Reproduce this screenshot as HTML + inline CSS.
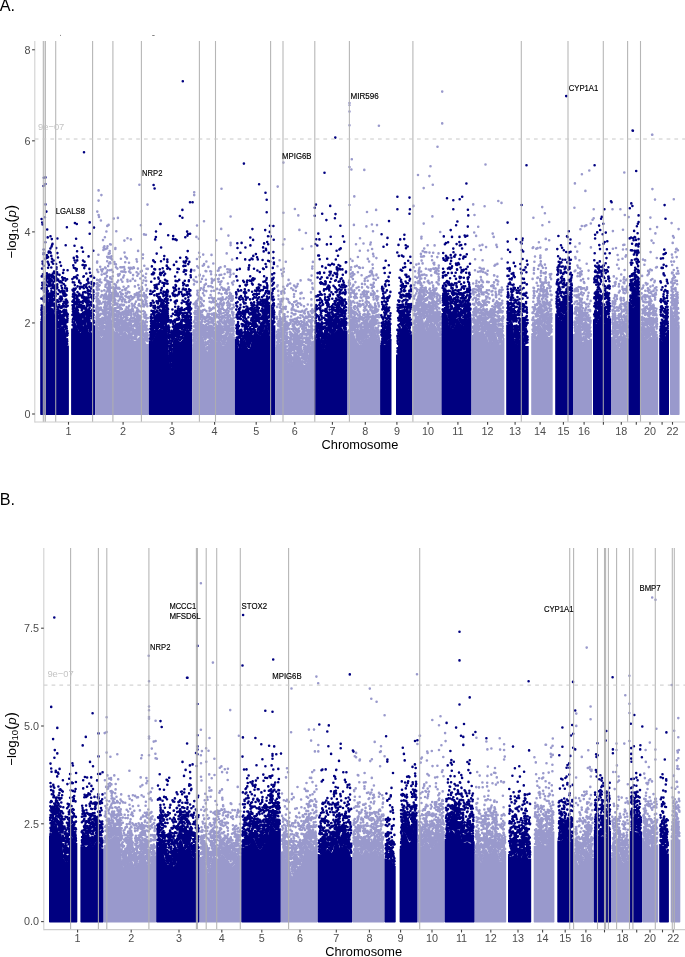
<!DOCTYPE html>
<html><head><meta charset="utf-8"><title>Manhattan plots</title><style>html,body{margin:0;padding:0;background:#fff;width:685px;height:957px;overflow:hidden}svg{display:block;font-family:"Liberation Sans",sans-serif;will-change:transform}</style></head><body>
<svg width="685" height="957" viewBox="0 0 685 957" font-family="Liberation Sans, sans-serif">
<rect width="685" height="957" fill="#fff"/>
<g stroke-width="2.6" stroke-linecap="round"><polygon points="40.8,415.0 40.2,414.4 40.2,320.9 41.5,320.9 42.5,318.3 43.5,316.7 44.5,315.7 45.5,314.4 46.5,313.1 47.5,312.3 48.5,311.3 49.5,309.9 50.5,308.2 51.5,307.4 52.5,308.0 53.5,309.5 54.5,310.8 55.5,319.4 56.5,327.8 57.5,328.4 58.5,328.9 59.5,328.3 60.5,327.1 61.5,325.9 62.5,326.0 63.5,327.2 64.5,328.8 65.5,330.0 66.5,337.7 67.5,345.4 68.9,345.4 68.9,414.4 68.3,415.0" fill="#000080"/><polygon points="71.7,415.0 71.1,414.4 71.1,328.5 72.4,328.5 73.4,323.7 74.4,319.2 75.4,322.3 76.4,325.1 77.4,327.5 78.4,329.9 79.4,331.8 80.4,332.7 81.4,331.8 82.4,329.2 83.4,326.0 84.4,323.4 85.4,322.5 86.4,323.8 87.4,326.9 88.4,330.8 89.4,333.6 90.4,334.1 91.4,332.4 92.4,329.4 93.4,325.4 95.2,325.4 95.2,414.4 94.6,415.0" fill="#000080"/>
<path d="M41.4 298.6h0m0 11.3h0m.2 4.3h0m0-4.2h0m.1 9.8h0m0-11.8h0m0-19.5h0m0 20.5h0m0 3.3h0m0 2.6h0m.1-9.4h0m0-29.1h0m0 42.9h0m.2-12.1h0m0 10.7h0m.1-49.3h0m0 45.7h0m.1 1.9h0m0-9.2h0m.1-21.7h0m0-8.8h0m0 6.3h0m.1 32h0m.1 2.7h0m.1-8.2h0m0-47.8h0m0 45.3h0m0 5.2h0m.1-48.3h0m.1 53.3h0m.1-8h0m0-1.5h0m0-33.2h0m.1 24.8h0m.1 14.4h0m.1-25.9h0m.2 28.4h0m.1-1.4h0m0-7.2h0m.1-9h0m0 9.4h0m.1-53.6h0m0 42.5h0m0 15.4h0m0-11.3h0m.1-10.3h0m0-6h0m0-31.4h0m0-3.6h0m0 51.5h0m0-35.2h0m.2 35.2h0m.1 .2h0m0-4.8h0m.1 15.6h0m0-24.5h0m0 14.3h0m0-19.3h0m.1 9.3h0m.2 20.5h0m0-2h0m.1-10h0m0 13.8h0m0-.2h0m.1-1.6h0m0-.4h0m.1-4.9h0m.1 1.7h0m.1 5h0m.1-4.3h0m.1-20h0m0 20.5h0m.1-67.6h0m0 16.8h0m0 19.8h0m.1 16.4h0m0-12.5h0m.1 25.2h0m.2-1h0m0-.2h0m0 5.9h0m.1-32.7h0m0-22.2h0m0 18.8h0m0 15.4h0m.1 20.5h0m0-6h0m0-21.6h0m.1 4.2h0m0 5h0m0-17.9h0m0 32.6h0m.1-1h0m0-14.6h0m.1 12.9h0m0-26.9h0m.1 25.1h0m0-49h0m0 46.7h0m0-21.5h0m.1 18.3h0m0-22h0m0 35.4h0m.1-15.2h0m0 2h0m0 5.6h0m0-26.7h0m0 31.1h0m.1-10h0m.1 9.1h0m0-20.1h0m0 18.1h0m.1-8h0m0 4.8h0m0-1.8h0m0-22.3h0m.1-5.5h0m0 27.1h0m0-26.7h0m.1 16.1h0m0 19.5h0m.1-53.9h0m0 41.1h0m0 10.2h0m0 5h0m.1-2.4h0m0-79.8h0m0 48.9h0m.1 25.9h0m0-28.3h0m.1 27.2h0m0-.2h0m0-45.3h0m0 42.1h0m.1 8.2h0m.1-1.5h0m0 .3h0m0 4.1h0m0-16.3h0m0-1.6h0m.1-55.6h0m0 24.3h0m0 24.2h0m.1 5.1h0m.1-16.4h0m0 22.5h0m.1 9.4h0m0-24.6h0m.1 28.8h0m0-15.4h0m0 15.7h0m0-43.2h0m0-10.7h0m.1 20.2h0m0 17.1h0m.1 16h0m.1-46.8h0m.1 38.7h0m0 .6h0m.1-50.3h0m0 51.5h0m.1 4.8h0m0-25.7h0m0 .3h0m.1-31.9h0m0 55.8h0m.1 1.7h0m0-44h0m.1 44.8h0m0-28.6h0m0 28.7h0m0-1.8h0m.3-28.9h0m.1 26.2h0m0 3.9h0m.1-12.9h0m0 9.9h0m0-20.4h0m0-9.3h0m0-2.1h0m0 20.7h0m.1 2.2h0m0 2.9h0m.1-3.1h0m0 5.9h0m.1 3.6h0m.1-13.2h0m0 15h0m0-2.6h0m0-.3h0m0-12.1h0m.1 2.9h0m0-44.8h0m0 32.4h0m0 12.2h0m.1 1.9h0m.1 5.5h0m0-5h0m0-23.1h0m0 30.8h0m0-2.1h0m.1-20.7h0m0 21.6h0m.1-2h0m0-7.5h0m0-47.2h0m0 30h0m.1-42.3h0m0 44.1h0m.1 25.6h0m0-4.4h0m0-21.1h0m.1-27.6h0m0 47.2h0m.1 .3h0m0 3.9h0m.1-22.7h0m0 3.9h0m.1 10.2h0m0 4.3h0m0-.3h0m.1 .6h0m.2-3.4h0m0-8.2h0m0-32.7h0m0 11.6h0m0 34.1h0m0-4.5h0m.1-3.8h0m0-2.3h0m0 12.3h0m0 1.1h0m.1-12.8h0m0 1.7h0m.1 3.6h0m0-50.5h0m0 54.9h0m0 .6h0m0 .8h0m0-27.4h0m.2-13.6h0m0-22.6h0m.1 41.2h0m.1-21.6h0m0 26.7h0m.1 14.6h0m.1-7.1h0m0-15.5h0m0 16.8h0m0-8.4h0m0-41.1h0m.1 60.9h0m0-2.9h0m.2 .1h0m0-58.9h0m0 50.1h0m.1 7h0m.1-5.4h0m.1-22.1h0m0 2.4h0m0 8.4h0m.1 14.6h0m0-35.4h0m0 22.8h0m.1 8.1h0m0-6.9h0m.1-23.7h0m.1 29.8h0m.1-17.3h0m.1 5.9h0m.1 21.2h0m.1-42.9h0m.1 31.5h0m0-3.8h0m.2-11.1h0m0 27.2h0m.1-32.8h0m0 34h0m0-5.8h0m.1 4.6h0m0-8.7h0m.2-17.1h0m0 .3h0m.1 27.3h0m0-7h0m.1 10.1h0m0-16.8h0m.1-6.1h0m0 10.2h0m0 12.1h0m.1-27.9h0m0 28h0m0-35.6h0m0 35h0m0-3.6h0m.1-.1h0m0 4.7h0m0-17.5h0m.1 6.1h0m0 11.7h0m.2-5.9h0m.1 6.7h0m0-17.4h0m0-7.4h0m.1 4.2h0m0 15h0m0-32.8h0m0 28h0m0 9.6h0m0-1.7h0m.1 3.6h0m.1-4.7h0m.1-20.8h0m0 6.6h0m0 1.2h0m0 21.8h0m0-19.5h0m.1 21.1h0m0-28.9h0m.1-11.6h0m.1 36.6h0m0 6.5h0m0-45.9h0m0 50.6h0m.1-22.9h0m0-21h0m0 22.5h0m.1 1.7h0m0-3.7h0m0-36.9h0m.1-15.9h0m0 52.3h0m.1 24.9h0m0-1.6h0m.1 2.3h0m0-47.9h0m0-9h0m.1-1.7h0m0 51.7h0m.1-12.8h0m.1 11.8h0m0 3.9h0m.2-47.5h0m0 13.8h0m.1 31.5h0m0-1.5h0m0 3.5h0m.1-49.5h0m0 13h0m0 30.2h0m.1-27.3h0m0 23.4h0m0 5.5h0m0-3.2h0m.1-29.7h0m0 28h0m0 15.3h0m0-47.2h0m0 36h0m.1-63.2h0m0 34.1h0m0 38.5h0m0-7.5h0m0-79.7h0m0 35.5h0m.1 53.5h0m0-27.2h0m.2 9h0m0 12.5h0m.1-12.6h0m0 16.2h0m.1 .6h0m.1-68.5h0m0 55.5h0m0-3.5h0m0 13h0m0-28.5h0m.1 28.5h0m0-20.9h0m.1-22.1h0m0 28.2h0m.1-6h0m.1 22.6h0m.1 .7h0m.1-13.9h0m.2 15h0m0-13h0m0 9h0m0-31.9h0m0 34.5h0m.1-8.2h0m.1-9.4h0m.1-25.9h0m.1 23.6h0m0 22.3h0m.1 .7h0m.1-9.8h0m.1-43.1h0m0 49.1h0m.1-5.3h0m0-3.5h0m0-16.6h0m.1 28.1h0m0-2.8h0m.2-1.6h0m0-15.8h0m0 4.2h0m0 12.6h0m0 2.9h0m0-34.8h0m.1 25.1h0m0-54.3h0m.1 20h0m0 33.2h0m0 5.6h0m.1-8.2h0m0 8.1h0m0-28.8h0m.1 27.4h0m.1 5.6h0m0-28.5h0m0 4.6h0m0-19.9h0m.2 43.5h0m.1-17h0m.1 10.5h0m.1-3h0m.1 6h0m0-55.5h0m.1 53.9h0m.1-19.2h0m0-.8h0m.1 7.4h0m.1-15.7h0m0-5.7h0m0 26.3h0m.1 3.7h0m0 4.5h0m0-12.4h0m.1-11h0m.1 21.9h0m0-2.3h0m0-18.6h0m.1 8.6h0m0-23.9h0m.1 5.6h0m.1 19.4h0m0 9.8h0m0-10.4h0m0 11.4h0m.1-19.2h0m.1 23.6h0m0-45.3h0m.1 45.1h0m0-.4h0m0-1.6h0m.2-14.5h0m.1-15.4h0m0 33.6h0m.1-9.2h0m.1 .8h0m0-35.8h0m0 42.8h0m.1-31.5h0m0 2h0m.1 30.2h0m.1-3.2h0m0-42.3h0m0-5.1h0m0 38.4h0m.1 8.1h0m0 3.2h0m0-16.1h0m0-2.4h0m.2 12.4h0m.1-21.8h0m.1 28.4h0m0-7.3h0m0-5.6h0m0 4.3h0m0 .4h0m.1-13.2h0m0-17.7h0m0-14h0m0 54.3h0m0-29.2h0m0 29.3h0m.1-11h0m0 3.1h0m0-2.7h0m0 4.9h0m.1 8.2h0m.1-7h0m0 6.8h0m0-5.4h0m0-25.5h0m.2 14.2h0m0 14h0m.1-21.6h0m0 7.4h0m.1-17.1h0m0 18.1h0m0 11.5h0m0-27.7h0m.1-3.3h0m0 23.5h0m0 8.9h0m0-17.4h0m.1 .2h0m.2 17.5h0m0-45.8h0m.1 17.7h0m0-7.6h0m.1 27h0m0-5.1h0m.1-16.7h0m.1 27.4h0m0-8.2h0m0 11h0m0-38h0m.1 41.5h0m0-2.5h0m0 .1h0m.1-29.1h0m0 25.9h0m.1 4.6h0m0-2.8h0m.1 5.4h0m0-48.2h0m0 39.2h0m.1-74.6h0m0 75.8h0m0-21.3h0m.1 4.5h0m.1 16.4h0m0-5.7h0m.2-4.5h0m0 4.2h0m0 5.9h0m0-19.2h0m0 13.9h0m.1-3.9h0m0-11.8h0m.1-11h0m0 18.6h0m.1 27h0m0-39h0m.1 25.1h0m.1-17h0m0 23.4h0m.1 6.6h0m.1-17.4h0m0 12.7h0m0-39.2h0m0 27.1h0m.1-89.1h0m0 104.9h0m0-43.7h0m.1 47.2h0m0 6.2h0m0-51.2h0m0 23.6h0m0-13.3h0m0 12.2h0m.1 3.9h0m0 22.1h0m0-60h0m.1 51.9h0m0 12.8h0m0-10.8h0m.1 8.2h0m0-19.4h0m.1-1.7h0m0-3.6h0m.1-14.2h0m0 32.6h0m.1-16.3h0m0-48.5h0m.1 35.6h0m0 27.4h0m.1-18.8h0m4.6-35.3h0m0 35.8h0m0-13.3h0m.1 3.6h0m.1-15.5h0m0 35.3h0m.1-.1h0m0-34.7h0m0 31.7h0m.1-12.8h0m0 16.2h0m0-3.1h0m0-2.5h0m0-23.1h0m0-14.3h0m.1 29.2h0m.1-4.1h0m0-13.2h0m.1 24.5h0m.1-3.9h0m0-6.5h0m0 10.8h0m.1-5.2h0m0 .9h0m0-8.2h0m0-41.2h0m.1 42.8h0m0-7.9h0m0 12.6h0m0-2h0m0 11.7h0m.1-31.1h0m.1 26.8h0m0-26.7h0m.1-2.7h0m0 21.7h0m0 8.6h0m0-13.3h0m.1-5.9h0m0 17.8h0m0 1.3h0m0-61.2h0m.1 9.9h0m0 50.5h0m.1-40.9h0m0 29.2h0m0-4h0m0-5.7h0m.2 19.5h0m0-33.9h0m.1 31.2h0m0-15.8h0m.1 15.2h0m0-19.7h0m0 10.7h0m0 4.1h0m0 9.6h0m0-5.9h0m.1-66.1h0m0 52.4h0m.1-37.9h0m0 41.4h0m.1 16.1h0m.1-28.1h0m0-4.6h0m.1 31.5h0m.2-1.3h0m0-13.2h0m.1 2.1h0m0 10h0m0-19h0m0 8.4h0m0 7.9h0m.1-43.1h0m0 51.5h0m0-16.7h0m0 8.6h0m.1-49.3h0m.1 41.3h0m.1 16.6h0m0-6.6h0m0 5.8h0m0-24.9h0m.1-17.8h0m0 11.6h0m.1 25.4h0m.1-2.7h0m.1-15.8h0m0 20h0m.1 2.7h0m0-3h0m0-5.9h0m0-70.4h0m.1 77.6h0m.2-45.7h0m.1 30.9h0m0 9.4h0m0 9.8h0m.1-1.3h0m0-21.3h0m.1 14.8h0m0-5.2h0m0 6.4h0m.1-45.1h0m0 30.4h0m0-43.2h0m.1 50.2h0m.1-3h0m0-25.1h0m.1 32.2h0m0 3.4h0m0-16.4h0m0 6.4h0m0 18.8h0m0-11.5h0m0-60.1h0m0 60.8h0m.1-51.6h0m0 48.6h0m0-5.9h0m.1 13.4h0m0-15.4h0m0-43.8h0m.1 39.3h0m0 28.8h0m0-18.3h0m0 .5h0m0-9.6h0m0 28.1h0m.1-6.9h0m0-43.9h0m0 16.8h0m0 30.4h0m.1-36.1h0m0 24.6h0m.1 0h0m.1 13.5h0m0 .2h0m0-5.3h0m0-12.2h0m.1 15.7h0m.1 2h0m0 2.6h0m0-17.2h0m.1 16.7h0m.1-5.7h0m0-19.8h0m0 11.6h0m0-11.6h0m0 16.4h0m.1 10.1h0m.2-21.1h0m0 12.7h0m0 1.6h0m.2-26.5h0m0 34.1h0m0-14h0m0-14.7h0m.1 21.1h0m.1-16.5h0m0 10.4h0m.1 9.2h0m.1-43.8h0m0 46.8h0m0-.6h0m0-44.6h0m.1 32.3h0m0 2.2h0m0 12.3h0m.1-35h0m0 29.7h0m.1-4.1h0m.1-1.1h0m0-23h0m.1 7.3h0m0 18.2h0m.1 10.3h0m0-2.5h0m.1-22.1h0m0 23.5h0m0-8.1h0m.1-33.4h0m.1 18.3h0m0 13h0m.1-24.6h0m.1 9.9h0m0 18.3h0m0-36.8h0m.1 30.3h0m.1-34h0m0 36.6h0m0 6.3h0m.1-8.4h0m.1 6.1h0m0-40.1h0m0 23.7h0m.1 21.2h0m.2-26.6h0m0 16.4h0m0 10.9h0m.1-6.6h0m0-17.5h0m.2 23.1h0m0 2.7h0m0-11.2h0m.1 4.4h0m0-9h0m.1-.7h0m.1 8h0m0-14.4h0m0 19.9h0m.1 1.6h0m.1-11.7h0m0-30.8h0m0 23.3h0m0-62.6h0m.1 73.7h0m0 8.2h0m.1-1.4h0m0-11.2h0m.1-69.1h0m0 49.7h0m0-1.1h0m.1 25.3h0m0 7.7h0m.1-7.6h0m0-12.6h0m0 18.7h0m0-18.3h0m.1 15.2h0m.1-4.3h0m.2-55.5h0m0 30.2h0m0 20.3h0m0-9.2h0m0 20.7h0m0-32.5h0m0 28.1h0m.1 1.8h0m0-22.1h0m0 1h0m.1 12.7h0m0-7.7h0m0-21.3h0m0 30.3h0m.1-4.1h0m.1-61.4h0m0 8.8h0m.2 47.2h0m0-7h0m0 16.7h0m0-24.9h0m.1 20h0m0-20.1h0m.1-15.8h0m0 47h0m.1-2.6h0m0-56h0m0 33.2h0m0 9.5h0m.1 7.6h0m.1 .9h0m.1-28.1h0m0-12h0m.1 45.8h0m0-7.7h0m.1-8.2h0m.1-5.5h0m0-2.4h0m.1 9.1h0m0-21.9h0m0 12.6h0m0 25.4h0m.1-55.3h0m.1 28.9h0m.1 22.3h0m0-57.5h0m.2 57.5h0m0-5.4h0m.1-5.5h0m0 6.4h0m.1-49.2h0m0 56.3h0m0-1.7h0m0-8.1h0m.1 5.5h0m0-25.5h0m.1 27.6h0m0-18.6h0m.3 18.2h0m0 1h0m.1-22.6h0m0 1h0m0 11h0m0-7.9h0m.1 10.6h0m0-19.9h0m.1 17.3h0m0-44.4h0m.1 53.5h0m.1-10.8h0m0 1.8h0m.1-11.4h0m0 15.6h0m.1-27.2h0m0 22h0m0 2.5h0m.1 1h0m0 8.8h0m0-20.5h0m0 12.1h0m.1-1.5h0m0 1.5h0m0-39.3h0m.1 38.7h0m0 5.8h0m0-20.5h0m.1 16.3h0m0-29.4h0m.1 29.1h0m.1 3.6h0m.1-13.4h0m0 9.8h0m0-7h0m0 11.2h0m0-29.9h0m.2 25.6h0m0-8h0m0 10.6h0m0-14.9h0m0 18.4h0m0-15.9h0m.1 12.5h0m.1 1.3h0m.1 3h0m0-9.1h0m0-5.3h0m0-26h0m.1 35.3h0m0 3.7h0m0-16.1h0m0 19.7h0m.1 3.4h0m0-2.7h0m0-24.8h0m.1 5.4h0m0-23.5h0m.1 17h0m0-6.6h0m.1 12.4h0m0 22.4h0m.1-35.7h0m0 34.4h0m0-31.1h0m0 31.2h0m.1-45.5h0m0 43.5h0m.1-19.1h0m.1 7.8h0m0 15.8h0m0 1.4h0m.1-8.2h0m.1 8h0m0-45.7h0m0 20.1h0m.1 21.9h0m0-15h0m0 18.1h0m0-5.5h0m0-27h0m.1-38.6h0m0 37.6h0m0 20.4h0m0 11.6h0m0-11.3h0m0-14.3h0m.1-17.3h0m0 38.4h0m.1-11.9h0m.1 7.3h0m0 8h0m0-8.3h0m.1 8.6h0m0-8.8h0m0-3.6h0m.1 4.8h0m0 8.2h0m.1 1.6h0m0-29.9h0m.1-6.8h0m.1-21.8h0m0 36.3h0m0-18.4h0m0 41.6h0m.1-15.2h0m0 17.2h0m0-10.2h0m0 1.8h0m.1-14.1h0m0 10.4h0m.1 8.9h0m0 2.5h0m0-3.7h0m0-92.2h0m.1 92.3h0m0 3.3h0m0 1.6h0m.1-6.5h0m.1-30.3h0m0 21.7h0m0-43.2h0m0 60.3h0m.1-10.2h0m.1-11h0m.1-9.7h0m.1-10.7h0m0 19.7h0m0 3.1h0m0 9.6h0m.1 4.6h0m.1-52.2h0m0 52h0m0-3.9h0m.1-20.2h0m0 26.2h0m.1-5.4h0m.2-36.3h0m0 39.5h0m0-25.9h0m.2 26.2h0m0-.4h0m.1-12.4h0m0-18.9h0m.2 8.1h0m0-21.1h0m0 43.6h0m.1-45.2h0m.1 23.7h0m.1-10.5h0m0 29h0m0 0h0m.1 4.8h0m0-52.8h0m0 36.4h0m0 14.9h0m0-2.2h0m.1-27h0m0-22.6h0m0 51.4h0m0-8.9h0m.2 10.1h0m0-5h0m.1-13.5h0m.2-23.7h0m0 30.9h0m.1 0h0m0 8.8h0m0-2.5h0m.1-12.9h0m0 17.5h0m0-14.8h0m.1 3.3h0m0-15.9h0m0 22.5h0m0-4.6h0m0-17.6h0m.1 16.8h0m.1 9.3h0m.1-21.4h0m.1-9h0m0 26.6h0m0 2.5h0m.1-35.4h0m0 27.5h0m0 5h0m0-1.9h0m0-70.2h0m.1 34.7h0m0 13.1h0m0 16.6h0m0-9.5h0m0 9h0m.1 .7h0m0-20.6h0m0 16.1h0m0-3.7h0m0 16h0m0-31.2h0m.1 28.6h0m.3-37.2h0m0 39.2h0m.1-94.9h0m.1 55.9h0m0-5.8h0m0 33.1h0" stroke="#000080"/>
<polygon points="95.8,415.0 95.2,414.4 95.2,320.2 96.5,320.2 97.5,323.7 98.5,328.5 99.5,333.1 100.5,336.4 101.5,337.8 102.5,336.8 103.5,333.5 104.5,328.7 105.5,323.6 106.5,318.8 107.5,314.6 108.5,311.2 109.5,309.3 110.5,311.4 111.5,317.9 112.5,323.8 113.5,327.9 114.5,330.9 115.5,331.6 116.5,331.0 117.5,331.1 118.5,332.6 119.5,334.6 120.5,335.8 121.5,335.2 122.5,333.7 123.5,332.2 124.5,331.5 125.5,331.6 126.5,332.8 127.5,335.1 128.5,337.6 129.5,339.2 130.5,339.2 131.5,338.7 132.5,338.9 133.5,340.0 134.5,340.9 135.5,341.0 136.5,340.3 137.5,339.0 138.5,337.6 139.5,336.4 140.5,335.7 141.5,335.6 142.5,336.0 143.5,337.1 144.5,339.2 145.5,341.9 146.5,343.9 147.5,343.9 148.8,343.9 148.8,414.4 148.2,415.0" fill="#9999CC"/>
<path d="M96.4 309.7h0m.1 8.4h0m0-9.4h0m0-11.9h0m0 15.2h0m.1-13.8h0m0 18.4h0m0-8.5h0m0-14.6h0m.1 7.9h0m.1 17.5h0m0-29.7h0m0 11.3h0m0 6.4h0m.1-22.8h0m0 35.7h0m0-32.9h0m0 19h0m0 3.9h0m.2-47.2h0m0 17.3h0m.1 3.4h0m0-21.7h0m0 53h0m0-44.9h0m.1 14.2h0m0 18.2h0m0 19.4h0m0-1.2h0m.1-30.1h0m0 4.8h0m0 23.6h0m0-22.1h0m0-2h0m0-11.1h0m0 33h0m.1-12.5h0m0-16.4h0m0 33.2h0m0-1.6h0m.1-29.3h0m0 30.7h0m.1-18.5h0m0 11.5h0m0 7.5h0m.1-12h0m0 13.1h0m0-12.8h0m.1 5.6h0m0 .9h0m0-20.8h0m0-23.3h0m.1 41h0m.1 4.1h0m0 7.7h0m0-15.8h0m0-23.4h0m.1 30.1h0m0-3.2h0m0 9.4h0m0-28.4h0m0 27.4h0m0-48.6h0m.1 27.4h0m0 25.3h0m0-20.5h0m.1-3.1h0m0-46.4h0m0 47.7h0m0 5.2h0m.1 17.7h0m.1-45.1h0m.1 4.9h0m0 34.2h0m0-2.5h0m.1-30.7h0m.1 42h0m.1-11.9h0m0-11.9h0m0-14.8h0m.1 24.8h0m.2-4.1h0m.1 17.6h0m0-2.9h0m0-1.8h0m0-2.8h0m.1-16.8h0m.1 26h0m.1-44.2h0m0 16.1h0m0-19.9h0m.1 51.4h0m0-13.6h0m.1 8.2h0m0-18.6h0m0-27h0m.2 33.2h0m0-35.6h0m0 50.1h0m0 2.1h0m.1-22.2h0m0-42.7h0m.1 66.7h0m0-6.9h0m.1 .7h0m0-5.9h0m.1 2.2h0m0-1.2h0m0 11.9h0m.2-15.1h0m0-22.3h0m.1 25.4h0m0-14.7h0m.1 23.8h0m0 3.7h0m0-13.8h0m.1 1.4h0m0 8.7h0m0-61.8h0m0 65h0m.1-20.8h0m0 17.8h0m.1-12.2h0m.1 6.8h0m0 9.4h0m0-12.1h0m.1-4.8h0m0-15.1h0m0-21.1h0m.1 13h0m0 38.3h0m.1 2h0m.1-61.2h0m0 16.5h0m.1 42.1h0m0 0h0m0-23.3h0m.1 21.4h0m0-5.4h0m.1-54.4h0m0 63.6h0m0-40h0m.1 39.9h0m0-9.3h0m0 4.7h0m0-.5h0m.1-6.4h0m0 4.2h0m0-9.2h0m.1 7h0m.1 .1h0m0-7.7h0m.1 9.4h0m.1-2.3h0m0 7.1h0m0-8.7h0m0 11h0m0-4.5h0m.1 3.7h0m0-22.5h0m.1 23.5h0m0-7.5h0m0-1.4h0m.1 6.5h0m0-11.8h0m0-.2h0m.1-80.1h0m0 29.1h0m.1 44.6h0m0 8.2h0m0 4.2h0m0-5.8h0m.1 5.3h0m0 7.9h0m.2-83.6h0m0 62.6h0m0 10h0m0-20.7h0m.2 20.7h0m0-8.4h0m0 5.7h0m0-21.3h0m.1 11.7h0m0-62.7h0m0 70.6h0m0 12.6h0m0-7.7h0m0-27.1h0m0-48.3h0m.1 80.3h0m.1-29.9h0m0-.9h0m0 21h0m.1-7h0m0 2.4h0m0 .2h0m0-6.4h0m0 18.6h0m.2-13.9h0m0-.6h0m0-37.8h0m.1 16.7h0m.1-44h0m0 64.4h0m.2-16.1h0m0 20.5h0m0 3.2h0m0 8.7h0m.1-15.1h0m.1-2.7h0m0-29.3h0m.1 25.1h0m0 11.3h0m0-79.2h0m0 65h0m.1 10.6h0m0-11h0m0 21.2h0m.1-19.4h0m0 10h0m0-46.1h0m0 34.8h0m.2-24h0m0 38.9h0m0-15.6h0m.1-14.9h0m0 18.6h0m.1 6.1h0m0 9.5h0m0 0h0m0-22.5h0m.1-13.4h0m0-36h0m0 19.1h0m.1 47.6h0m0-21.9h0m0 20.8h0m0-20.5h0m.1 12.7h0m0-.8h0m0-32.5h0m.1 35.5h0m.1 10.3h0m.2-9.4h0m0 6.7h0m0-20.1h0m.1-12.2h0m.1 33.8h0m0 .4h0m0-87h0m0 63.9h0m.2-14.9h0m.1 18.5h0m0-7.4h0m0-19.2h0m0 34.2h0m0 2.4h0m.1-1.1h0m.1 5h0m.1-6.9h0m0-29.9h0m0 22.6h0m0-22.2h0m.2-15.3h0m0 48.3h0m0-4h0m0-57.2h0m0 8.5h0m0 30.9h0m0-6.7h0m.1 21.6h0m0-5h0m0-71.7h0m.1 82.6h0m0-12h0m0-13.9h0m.1-36.3h0m0 24.1h0m0 42.4h0m.3-8.5h0m0-15h0m.1-31.7h0m0 40h0m0 6.6h0m.1-2.1h0m.1-36h0m0 46.1h0m.1-2.9h0m.1-9.6h0m0-2.9h0m.2 .2h0m.1-15.4h0m0 15.1h0m.1-42.8h0m.1 31.2h0m0 13.8h0m0-7.6h0m.1-4.3h0m0-33.9h0m.2 10.3h0m0 32.8h0m.1 .5h0m0-1.8h0m.1 13.4h0m0-18.5h0m0 11.3h0m.1-5.1h0m0-38.9h0m0 42.4h0m0-15.6h0m0 12.4h0m0-3.5h0m.1 13.9h0m0-4.8h0m.1-15.7h0m0 12.5h0m.1-47.7h0m.1 2.3h0m.1 50.5h0m0-3h0m0-30.5h0m0 20.2h0m0 .9h0m0 0h0m0 3.6h0m.1 11h0m0-14.2h0m0-3.2h0m0 18.6h0m.1-62.9h0m0 18h0m.1 22.6h0m0-7.5h0m0 27.5h0m.1-26.7h0m0 29.2h0m.1-8.8h0m0-3.6h0m0-31.8h0m0-5.1h0m.1 40h0m0 11.4h0m0-27.4h0m0 27.3h0m.1-2.4h0m0-5.9h0m0-5.8h0m.1 8.4h0m0 5.1h0m.1-12.4h0m0-51.9h0m.1 65.9h0m.2-3h0m.1 6h0m.1-6h0m0 1h0m0-20.8h0m0 9.1h0m.1 3.6h0m0-2.1h0m0-2.4h0m0 18.7h0m0-15.3h0m0-40.6h0m.1-2.3h0m.1 31.4h0m.2-17.9h0m0 38.1h0m0-28.9h0m0 31.7h0m.1-2.2h0m0 5h0m0-3.7h0m0 1.8h0m0 .8h0m.1-30.7h0m0 12.5h0m0-34.7h0m.1 56.1h0m0-22.5h0m.1 17.9h0m0-16.4h0m.1 22.4h0m0 4.4h0m.1-9.4h0m0-3.8h0m.1 8.3h0m0 1.1h0m.1-2.3h0m0-18.6h0m.1-20.4h0m.1 38.2h0m0-42.6h0m.1 26.3h0m0 10.8h0m.1 15.5h0m.1-5.4h0m0-13.8h0m0 16.4h0m.4-19.6h0m0 9.8h0m0-24.5h0m.1 14.9h0m0 20.3h0m0-29.8h0m0 24.6h0m.1-5.8h0m0 9.2h0m.1 4.3h0m0-30.7h0m0 28.7h0m.1 1.6h0m.1-32.3h0m0 30.7h0m0-25.3h0m.1 28.6h0m0-25.7h0m0-11h0m.1 33.1h0m.1-18.1h0m.1-20.7h0m0-22h0m.1 38.4h0m0 24.3h0m0-6.2h0m0-4.5h0m0-4.5h0m.1 4.5h0m0 12.2h0m0-15.7h0m.1-46.6h0m0 58.8h0m.1-7.4h0m.1-16h0m0 9h0m.1 5.9h0m0-19.8h0m.2 29.2h0m0-27.7h0m0 7.5h0m0-11.2h0m0-1.9h0m.1-41.4h0m0 74.4h0m0-7.5h0m0-21.1h0m.1 32.7h0m0-34.3h0m0 9.4h0m0-54.4h0m0 52h0m0-11.7h0m.1 20.6h0m0 10.9h0m0-25h0m.1 9.6h0m0 22h0m0-.8h0m.1 1.3h0m0 2h0m0-20.7h0m0-23.4h0m0 6.3h0m.1 38.7h0m0-33.8h0m.1 27.1h0m0 5.8h0m0-64.6h0m.1 2.8h0m0 24.7h0m.1 38.4h0m0-10.9h0m0 9.2h0m.1-42.1h0m0 36.8h0m0 5.7h0m.1-97.8h0m0 92.9h0m.1-12.4h0m0 12.2h0m.2-29.7h0m0 .4h0m0 19.7h0m.1 2.4h0m0-5.5h0m.1 12.7h0m.1-2.2h0m0 3.6h0m0-4.3h0m.1 6.3h0m.1-2.6h0m0-3.8h0m0-13.4h0m.1-25.2h0m0 40.3h0m0-40.4h0m.1 36.5h0m0-14h0m0 18.4h0m0-6.8h0m0 12.1h0m.1-59.8h0m.1 27.6h0m0 31.4h0m0-9h0m0 5.8h0m.1-.5h0m0-20.3h0m0-15.2h0m0 31.2h0m.1-2h0m.1 12h0m0-18.2h0m0-17.8h0m0 22.3h0m.1-21.1h0m0 13h0m.1 13.9h0m0-47.1h0m.1 55.8h0m.1-49.9h0m0 49.8h0m.1-54.5h0m0 36.8h0m.1 3.7h0m0-15.5h0m0 21.2h0m0 3.1h0m0-13.8h0m0 8.2h0m.1 9.1h0m0-21.6h0m.1 23h0m.1-18.2h0m.1 10.2h0m0 6.5h0m0-5.8h0m0 2.8h0m0 4.5h0m.1-42.3h0m0 36.7h0m.2-2h0m0-8.2h0m.1-39.1h0m0 32.2h0m.2 0h0m0 24.3h0m.1-24.7h0m.1-18.1h0m.1 7.8h0m0-22.5h0m.1 46.4h0m0 7.6h0m.1 .8h0m0-29.8h0m0 28.1h0m.1-4.5h0m0-17.8h0m.2 28.3h0m0-13.1h0m0 3.3h0m0-16.1h0m0 27.1h0m0-11.6h0m0-30.7h0m.1 37h0m0 .6h0m0-16.8h0m0-3.6h0m.1 23.8h0m0-3.3h0m0-62.6h0m0 60.9h0m0-10.6h0m.2-3.7h0m0 12.7h0m.1-29.4h0m0 22.4h0m0 2.6h0m0 4.5h0m.2-18.8h0m0-49.1h0m0 56.6h0m0 5.8h0m.1-12.5h0m0 7.4h0m0 7.5h0m.1-29.2h0m.1 25.7h0m0-40.4h0m0 37.9h0m.1-24.1h0m0-21.9h0m0 59.4h0m.2 3.2h0m0-20h0m.1 10.7h0m.1 3.8h0m0-24h0m0-7.7h0m0 35.4h0m.1-2.9h0m0-11.1h0m0 15.6h0m0-1.1h0m.1-31.9h0m0 18.6h0m0-10.4h0m0 11.2h0m0 7.3h0m.1-5.3h0m0 5.5h0m.1 1.2h0m0-61.7h0m.1 34.1h0m0-1.7h0m.1 1.3h0m0-10.8h0m.1 42.4h0m0-20.4h0m0-30.5h0m0 31.2h0m.1 17h0m.1-15.4h0m0-17h0m.1 33.1h0m0-25.4h0m.1-10.9h0m0 23.8h0m0-46.5h0m.1 50.7h0m.1 5.4h0m0-1.9h0m0-.5h0m.2-.1h0m0 1.1h0m0-48.9h0m0 51h0m.2-7.6h0m0 5h0m0-26.7h0m.1 27.1h0m0-.5h0m0 4.5h0m0-6.2h0m0 .1h0m.1-37.3h0m.2 18.3h0m.1 6.4h0m0 17.1h0m0-57h0m0 41.3h0m0 13.1h0m.1-50.5h0m0 29.4h0m0 9.3h0m0 8.2h0m.1 .9h0m0-56.2h0m.1 55.8h0m0-6.3h0m.1 12.5h0m0-1.6h0m0 2.9h0m0-6.9h0m.1-6.9h0m0-76h0m.1 12h0m0 73.8h0m.1-57.2h0m0 42.7h0m0 17.9h0m0-6.1h0m.2 1.7h0m0-36.2h0m.2 12.5h0m0 23.9h0m.1-2.1h0m0-23.8h0m0 29.7h0m0 .5h0m.1-17.3h0m0-50.4h0m.1-5.5h0m0 71.5h0m0-1.5h0m.1-6.6h0m0-24.1h0m.1 14.7h0m0-8.7h0m0 23h0m0-7.3h0m0 8.1h0m0-35.6h0m0-18.1h0m.1 54.9h0m.1-4.6h0m0-1.7h0m0 6.5h0m0-18h0m.1-16h0m.1 20.6h0m0-17.4h0m0 28.2h0m0 5.3h0m0-6.5h0m.1 7.3h0m.2-14.8h0m.1 14.6h0m.1-42.2h0m0 42.1h0m0-28.1h0m0 26h0m.1 2.6h0m.1-4.9h0m0-18.9h0m0 16.2h0m.1 1.3h0m0-6.9h0m0 7.8h0m.1-31.9h0m0 25.8h0m0 10.9h0m.1-71.9h0m0 70h0m0-8.9h0m0 4.6h0m0-11.7h0m.1 11.8h0m.1-4.2h0m.1 4.6h0m0-27.5h0m.1 31.4h0m.1-17.7h0m0-31.1h0m0 51h0m.1-12.9h0m0 10.1h0m0-89.7h0m.1 43.2h0m0 33.6h0m.1 16.2h0m0-17.8h0m.2-21.7h0m0 28.4h0m0 9.5h0m.2 5.8h0m0-.1h0m0-11.1h0m0 5.8h0m.1 2.5h0m0-24.6h0m.1 24.5h0m.1-.7h0m0 3.7h0m0-25.8h0m0 16.9h0m0-40.1h0m0 45.5h0m.1-20.6h0m0-1.5h0m.1 22.7h0m.1-17.8h0m0 8.1h0m0 7.6h0m.1-32.1h0m.1 25.1h0m0 13.8h0m0-69.4h0m0 62.3h0m0 3.1h0m0-36.4h0m.1 5.2h0m0 29.4h0m0-6.8h0m0-61.8h0m0 69.3h0m.1-60.6h0m.1 34.4h0m0 24.9h0m.1 5.5h0m0-35.2h0m.1 30.1h0m0-38.8h0m.1 5.2h0m.1 36.5h0m0-13.5h0m0 8.1h0m.1-16.3h0m0 17.2h0m0 8.9h0m.1-1.1h0m0-8.5h0m.1-3.8h0m.1 5.7h0m0-61.6h0m0 52.3h0m.1 16.1h0m.1-17.1h0m0 8.8h0m0 6.3h0m0-16.7h0m0-19.1h0m.1 .7h0m0 33.7h0m0-.6h0m.1-23.2h0m0 13.2h0m0 9.7h0m0-52.4h0m.1 47h0m0-5.5h0m0 7.9h0m0-57.5h0m.1 52.2h0m0-2h0m0 6.2h0m0 .4h0m.1-9.1h0m.1-52.8h0m.1 52.8h0m0-81.1h0m0 56.7h0m0 19.4h0m.1 8.6h0m0-8.3h0m.1 2h0m0 16.1h0m.1 2.9h0m0-25.6h0m0 3.8h0m.1-5.2h0m0 3.6h0m.1 14h0m0 8.6h0m0-9h0m.1 8.2h0m.1 .7h0m0-10.3h0m.2-7.6h0m0-14.2h0m.1 30.1h0m0 3.8h0m.1-11.8h0m.1-5.1h0m.2-21.9h0m0-1.5h0m0 10.9h0m.1-39.8h0m0 37.4h0m.1 27.2h0m.1-.2h0m0-1.3h0m.1 0h0m.1-2.2h0m0 4.1h0m0-54.6h0m0 58.5h0m0-28.2h0m.1 12.6h0m0 16.7h0m.1-20.3h0m0 .2h0m.1-43.3h0m0 53.4h0m0-10.2h0m0 3h0m.2-10.1h0m0 26.9h0m.1-6.2h0m.1-1.8h0m0-62.9h0m0 50.3h0m.1-19.9h0m.2 17h0m.1 10.4h0m0 13.7h0m0-70.8h0m0 53.2h0m0 17.4h0m.1-24.7h0m.1 3.9h0m0 8.4h0m0-20.7h0m.1 25h0m.3-33.7h0m0 40.7h0m0-.1h0m.1 1.6h0m0-2h0m.1 .2h0m0-2.8h0m0-39.9h0m0 39.5h0m.1-30h0m0 21.2h0m0 6.5h0m0-13.1h0m0 13h0m.1-11.2h0m0 14h0m0-47.9h0m0 37.7h0m.1-16.8h0m0 31.5h0m.1-14.2h0m.1-43.8h0m0 41.1h0m0-6.3h0m.2-2h0m0 7.3h0m0 10.1h0m0-6.7h0m.1-1.6h0m.1 8.1h0m0 3.1h0m0-3.9h0m.1-35.3h0m.1 38.2h0m0 .9h0m.1-3.4h0m0-7h0m0 15.9h0m0-3.4h0m.1-34.3h0m0 33.8h0m0-10h0m0 12.4h0m.1-7.5h0m0-17.8h0m.1 13h0m0 8.9h0m0 2.4h0m.1-6.9h0m.1 6.5h0m0-15.1h0m0 6.2h0m.1-68.3h0m0 75.7h0m.1-62.7h0m0 50.5h0m.1 10.7h0m0 6h0m.1-19.1h0m0 10.4h0m0-37.6h0m.1 18.6h0m0 15.6h0m0-33h0m.1 40.2h0m0-3h0m0-69.9h0m.1 53.9h0m0-4.8h0m.1 10.9h0m0-9.2h0m0 5.1h0m0-9.1h0m0 21.7h0m.1-3.4h0m0-50.9h0m0 43h0m0 9.2h0m.1 3.5h0m0-6.7h0m0-2.5h0m0-3.4h0m.1 5.9h0m0 8.5h0m.1-37h0m0 31.5h0m.1-30.5h0m0 21.7h0m.1 1.4h0m0-.1h0m.1-27.2h0m0-24.5h0m.1 45.9h0m0 3.4h0m.1-67h0m0 48.7h0m0-1.6h0m.1 33h0m0-1.1h0m0-35.4h0m0 15.4h0m0-10.7h0m0 10.8h0m.1 16.5h0m0 2.1h0m0-43.5h0m0 33.5h0m.1 12.4h0m0-7.2h0m0-8.1h0m.1-41.9h0m.1 60.8h0m0-13.2h0m0-16h0m.2 14.3h0m.3-8.4h0m0-7.3h0m.1 27.5h0m0-43.1h0m0 37.8h0m.1 .2h0m.1-34h0m.1 30.9h0m0 4.2h0m.2-31.2h0m.1 22.3h0m.1-2.8h0m0 11.3h0m0-31.9h0m0 4.5h0m0 20.5h0m0 13.3h0m.1-27.8h0m.1 19.9h0m0-8.6h0m.1 12.2h0m0 5.9h0m.1-56.6h0m0 51.7h0m0-9.8h0m0 11.4h0m.1 1.8h0m.1-15.9h0m0 14.1h0m.1-4.9h0m.1 3.6h0m0-58.9h0m.2 62.1h0m0-108.4h0m0 65.6h0m0 21h0m.2 22.7h0m0-1.8h0m.1-15.8h0m0-5.5h0m0-5.1h0m.1-6.7h0m.2 23h0m0 2.8h0m0-30.1h0m.1 29.5h0m.1 5.5h0m0-1.9h0m.1-1.1h0m0-56.5h0m0 15.9h0m.1 13.4h0m0 34.2h0m0-8.9h0m.3-.3h0m0-36.9h0m.1 39.4h0m0 0h0m.1-44.7h0m0 6.6h0m0 35.7h0m.1 9.4h0m0-11.7h0m0 7.5h0m0-27.7h0m.1 31.6h0m0-3.5h0m.2-.1h0m0 3.7h0m0-76.2h0m0 75.9h0m.1-2.9h0m0-30.1h0m.1 19.7h0m0-66.3h0m0 21.3h0m0 50.9h0m.1 4.1h0m0-35.7h0m0 35.9h0m.1-26.9h0m.1 23.2h0m.1 2.7h0m0 2.6h0m0 2.8h0m0-29.2h0m0-10.4h0m.1 15.1h0m.1-30.5h0m0 33.7h0m0 12.8h0m.1 8.9h0m.2-42.9h0m.1 13.5h0m0-72.1h0m.1 101.9h0m.1-41.4h0m.1 21.5h0m0-50.6h0m0 68.2h0m.2 .4h0m0-16.8h0m.1-.3h0m0 7.8h0m0-2.5h0m.1-25.8h0m0 16.1h0m0 14.9h0m0 10.5h0m0-.9h0m.2 .7h0m0-25.7h0m.1 11.9h0m0-19.7h0m.1 35.5h0m0-4.5h0m0-36.4h0m.1 36.2h0m0-6.3h0m0-12.6h0m.1 17.9h0m0 5.9h0m.1-35.7h0m0-27h0m0 56.9h0m.2-13.1h0m0 16.2h0m0-35.3h0m0 37.1h0m0-39h0m0 29.5h0m.1 4.9h0m.1-49.7h0m0 32.3h0m.1-22.3h0m0 30.8h0m0-91.2h0m0 69.3h0m.2-30.2h0m.1 56.3h0m0-49.2h0m0 58.2h0m0-3.8h0m0-2.7h0m0-17.7h0m.1 3.7h0m0 7.5h0m0 12.4h0m0-2.1h0m0 3.2h0m0-38.6h0m0 34.6h0m.2 4.6h0m0-49.5h0m0 42.9h0m0-64.8h0m.1 71.4h0m0-11.8h0m.2-2.6h0m0 8.7h0m0-1.5h0m.1-29.2h0m0 18.3h0m0 12.5h0m.1-37.2h0m0 38.5h0m.1-46.9h0m.1 44h0m0 3.1h0m.1 5h0m0-34.8h0m.1 34.6h0m0-6.6h0m0 3.8h0m.1 2.4h0m0-1.1h0m.1-10h0m.1 9.6h0m0-.1h0m0-3.2h0m.1-66.8h0m0 49.1h0m0 11.5h0m0 5.9h0" stroke="#9999CC"/>
<polygon points="149.4,415.0 148.8,414.4 148.8,340.4 150.1,340.4 151.1,341.6 152.1,341.2 153.1,339.6 154.1,337.4 155.1,335.2 156.1,333.0 157.1,331.3 158.1,330.1 159.1,329.2 160.1,328.8 161.1,329.1 162.1,329.5 163.1,328.9 164.1,326.5 165.1,323.5 166.1,321.6 167.1,322.6 168.1,342.6 169.1,358.9 170.1,364.2 171.1,367.7 172.1,352.5 173.1,341.2 174.1,339.8 175.1,338.0 176.1,337.0 177.1,337.3 178.1,339.1 179.1,341.0 180.1,341.8 181.1,341.3 182.1,340.0 183.1,338.3 184.1,336.0 185.1,332.8 186.1,329.7 187.1,328.1 188.1,328.6 189.1,330.4 190.1,332.3 192.2,332.3 192.2,414.4 191.6,415.0" fill="#000080"/>
<path d="M150 338.7h0m.1-44.7h0m0 38.3h0m.2-.1h0m0-.4h0m.1 7.7h0m.1-4.4h0m0-6.3h0m0 9.1h0m0-47h0m.1 45.9h0m.1-1.8h0m0-31.7h0m0 2.4h0m.1 34.1h0m0-22.8h0m.1 4.3h0m0-4.3h0m0 1.2h0m0 7.8h0m0-20.6h0m.1 27.9h0m0 6.8h0m.1-11.4h0m0 12.2h0m.1-36.4h0m0 18.8h0m0-41.6h0m0 57.5h0m.1-35.8h0m0 37h0m0-23.9h0m0 10.7h0m0-4.1h0m0 8.6h0m0-11.1h0m.1 17.8h0m0-8.4h0m0 5.5h0m0-21h0m.1 9.7h0m0 16.7h0m0-47.1h0m0 29.4h0m0-12.4h0m.1 25.1h0m.2-4.4h0m.1-65.1h0m0 7.9h0m.1 65.1h0m0-10.4h0m.1-10.9h0m0 21.5h0m.1-4h0m.1-.9h0m0-6.1h0m0 5.3h0m0-9.1h0m0-2.2h0m.1 11.5h0m.1 1.8h0m.1-5.3h0m0 1.9h0m.1 2.7h0m0-34.4h0m.1 35.6h0m0-8.2h0m0 6h0m.1 4.2h0m0-2.8h0m.1-43.8h0m0 31.9h0m.1-10.3h0m0 13h0m0-4.7h0m0 14.9h0m.1 2.1h0m0-78.3h0m0 66.8h0m.1-53h0m0 59.7h0m0-21.7h0m.1 26.3h0m0-8.7h0m0-57.2h0m0 33.4h0m.1 1.5h0m.1 24.7h0m.1-11.5h0m0-9.7h0m0 17.3h0m.1-25.7h0m0 15h0m.1 16.6h0m0-72.9h0m0 64.7h0m.1-10.8h0m0 21.3h0m0-8.7h0m0-7.2h0m.1-47.5h0m0 58.4h0m.1 3.1h0m0-19.8h0m0 20.5h0m0-1h0m.1-18.3h0m0-46.9h0m0 26.1h0m.1 29.2h0m0-1.1h0m0-15.4h0m0 7h0m.1 12h0m0-41.6h0m.1-6.8h0m0 12.3h0m0 30h0m.1 14h0m0-8.3h0m.1 .8h0m0-4.4h0m0 8.9h0m0-15.8h0m0-7.5h0m0 14.8h0m.1-61.2h0m0 46.5h0m0-20.8h0m0 46.7h0m0-28.6h0m0 17.3h0m.2-10.7h0m0 20.8h0m0-93.9h0m0 30h0m.1 63.9h0m.1-26.2h0m0-19.9h0m.1 32.6h0m0-1.6h0m.1 1.4h0m0-7.6h0m0 13.7h0m0 5h0m.2 2.2h0m0-15.9h0m.1 16.1h0m0-5.4h0m.1-6.6h0m0-84h0m0 86.6h0m.1 7h0m0-99.2h0m.3 94.5h0m0 3.4h0m.1-44.5h0m0 31.6h0m.1 3.1h0m.1-33.5h0m0 15.3h0m.1-47.8h0m0 66.3h0m.1-31.8h0m0 42.6h0m0-1.4h0m.1-35h0m0 16.2h0m.1 .3h0m0-15.1h0m.1 30.2h0m0 4.9h0m0-13.4h0m0-2.6h0m.1 14.7h0m0-4.8h0m0 2.4h0m.1-7.5h0m0 9.5h0m0-26.2h0m0-14.1h0m.1 36.5h0m0-2.6h0m0-10.8h0m.1 17.5h0m0-27.9h0m.1 17.7h0m0 5.4h0m0 2.3h0m0-9.7h0m.2 5.6h0m0-15.1h0m.1 20.3h0m0-11.6h0m0 6.4h0m.1-19.4h0m0 24.1h0m0-10.4h0m.1-2.5h0m0-7.7h0m.1 13.4h0m.1 4.2h0m0-27.3h0m0 27.4h0m0-47h0m.2 47.3h0m.1-5.4h0m.1-18.5h0m0-6.9h0m0-15.4h0m0 5.2h0m.1 14.5h0m0 8.9h0m.1 11.8h0m0-21.1h0m.2 25.7h0m.1 1.7h0m0-12.2h0m0 2.7h0m0-16.4h0m.1 17.7h0m.2 3.6h0m0-2.7h0m0 5.6h0m0-5h0m.2 1.5h0m0-9.7h0m0-13.4h0m0 12.5h0m.1-40.3h0m.1 12.5h0m.1 24.8h0m0-32.4h0m.1 26.3h0m0 23.1h0m.1-42.6h0m.1 24.7h0m0 9.2h0m0 12.3h0m0-54.3h0m.1 28.4h0m.1 19.2h0m.1-21.6h0m.1 28.4h0m0-5.7h0m0-46.6h0m0 50.8h0m.1-33.2h0m0 31.5h0m0-8.6h0m.1-4.9h0m.1-49.3h0m0 49.7h0m0 8.2h0m0-4.1h0m.1-67.6h0m0 42.5h0m0 35.1h0m.1-20.8h0m.1 2h0m0 8.1h0m0 13.9h0m.1-17h0m0 9h0m0-16.4h0m0-3h0m.1 26.9h0m0-10.6h0m.1-14.2h0m0 8.8h0m.1 10.8h0m0-16.4h0m0 19h0m0-6.3h0m0-12.8h0m.1-18h0m0 25.5h0m.1 2.9h0m0-5.6h0m0 13.6h0m0-5.3h0m.1 5.5h0m0 3.7h0m0-55.4h0m.1 45.4h0m0 1.1h0m.1 3.4h0m.1-5.8h0m0-4.5h0m0-5.7h0m.1-6.8h0m0 26.5h0m0-3.1h0m0-40.7h0m.1 36.8h0m0-4.7h0m.2-46.7h0m0 25.6h0m0 33.9h0m.1 .5h0m0-13.2h0m.1-6h0m.1 3.1h0m0 13.4h0m0 2.6h0m.2-22.4h0m0 14.5h0m0-6.2h0m.1-5.4h0m0 8.7h0m.1 .6h0m0-15h0m0-6.8h0m.1 8.9h0m0 7.5h0m0-1.7h0m0 10.3h0m0-29.3h0m.1-20.2h0m0 52.7h0m.1-9.6h0m0 12.2h0m0-23.3h0m0 20.7h0m.2-32.5h0m0-5.8h0m0 22.5h0m0 5.7h0m0-12.9h0m.1-42h0m0 16h0m.1 31.6h0m0 10.2h0m0-33.1h0m0 39.2h0m0-13.3h0m.1 9.1h0m0 1.9h0m0-.5h0m.1-64.3h0m0 66.6h0m0 .9h0m.1-2h0m0-9.4h0m.1-29.1h0m.1 37.7h0m.1-14.4h0m0 9.2h0m0-10.1h0m0-13.4h0m0 27.5h0m.1-24.4h0m0 19.3h0m0 .2h0m.1 8.5h0m0-24.2h0m0 13.4h0m.1-32.6h0m0 38.6h0m.1 2.2h0m0-2.9h0m0-44h0m0 48.9h0m.2-.8h0m.1-10.7h0m.2-1.1h0m.1 .8h0m0 2h0m0-18.1h0m.1 12.8h0m.1 10.6h0m0-12.8h0m0-12h0m.2 4.2h0m.1 4.6h0m.1 10.1h0m.1-31.5h0m0 36.1h0m0-8.9h0m0-8h0m0 19.1h0m0 1.7h0m0-21.1h0m.1 12.8h0m0-28.9h0m0 35.3h0m0 0h0m.1 .5h0m0-6.8h0m0 4.5h0m.1-1h0m0-50.5h0m.1 44.2h0m0-43.8h0m.1 36h0m0-11h0m.1 24.6h0m0-.8h0m.1-15.4h0m0 14.8h0m0 2.1h0m0-.9h0m0-4.9h0m.1-6.9h0m0-7.5h0m0 25.4h0m0-31.3h0m0-9.1h0m.1-21.4h0m0 46.1h0m0-36.9h0m.1 26.2h0m0-33.1h0m.2 49.5h0m0-27.7h0m0 16.2h0m0 13.5h0m0-14.3h0m0 9.1h0m.1 13.6h0m0-29.2h0m0 20.7h0m0 15.6h0m.1-.4h0m0-10.5h0m0 3.5h0m.1-1.7h0m.1 1.8h0m0-30.3h0m0 45.9h0m0-10.7h0m0 4.5h0m.1-15.5h0m0 19.7h0m0-25.9h0m.1-6.3h0m0-67.7h0m0 101.2h0m0-68.7h0m0 75.5h0m.1-25.7h0m0 15.7h0m.1-1.3h0m0 4.3h0m0 1.1h0m0-3h0m.1-8.9h0m0-4.8h0m.1 25.6h0m.1-8.3h0m0-9.1h0m0 22.3h0m.1-.2h0m0-22.6h0m0 18.2h0m0-5.2h0m.1 5.3h0m0-26.6h0m.1 35.7h0m.1-25.5h0m.1 15.6h0m0 1.7h0m.1-12.6h0m0-2.5h0m0-5.3h0m0 5.3h0m.1 4.2h0m.1 1.1h0m0 15.5h0m0-21h0m.2 26.8h0m0-18.7h0m0 6.9h0m.1 9.8h0m0-7.8h0m0-3.6h0m.1-49.2h0m0 40.7h0m.1-68h0m.1 88.9h0m0 2.9h0m0-11.4h0m.1 5.9h0m0-5.8h0m.1 12.4h0m.1-39.6h0m.1 30.2h0m0-5.3h0m0-1.1h0m.1-2.9h0m0 6.1h0m0 6.4h0m0-2.8h0m.1-53h0m.1 35.2h0m.1 25.4h0m0 4.6h0m0-4.8h0m0-4.5h0m.1-35.6h0m0 15h0m0 28.6h0m.1 2.2h0m0-16.4h0m0 4.4h0m.1 11.4h0m0-7.8h0m.1-3.3h0m0 5.3h0m.1-18.3h0m0-25.2h0m0 24.2h0m0 11.9h0m.1-18.6h0m.1 12.8h0m0-4.5h0m0 8.6h0m.1-19.7h0m0-.3h0m.1 25.3h0m0-6.5h0m0-11.5h0m0 6.9h0m.1 9.3h0m0 7.1h0m.1-12.2h0m0 5.3h0m0-21.7h0m.1 13.2h0m0-13.8h0m.1 12.6h0m0 10.4h0m0-9.9h0m.2-35.7h0m0 31.5h0m.1-9.8h0m.1-9.6h0m0-28.2h0m.1 39.3h0m0 5.3h0m0 3h0m0-.3h0m0-5.1h0m.1-8.9h0m.1-12.8h0m0 22.1h0m0 3h0m.1-15.2h0m0-84.7h0m.1 55.3h0m.1 44h0m0-5h0m0-97.3h0m.1 102h0m.1 1.2h0m0-43.8h0m0-8h0m.1 46.9h0m.2-2.7h0m0-5.8h0m.1 7.2h0m0-6h0m.1-62.2h0m0 62.8h0m.2-36.5h0m.1 29.4h0m0 15.9h0m0-48.1h0m0 41h0m0 2.4h0m.1 4.3h0m0-6.9h0m.1 9.2h0m0-4.4h0m.1-2.1h0m.1-6h0m.1-24h0m.1 25.1h0m0 6.7h0m0-1.1h0m.1-36.5h0m0-1.3h0m0 27.3h0m.1-34.4h0m0 32.2h0m.1-43.4h0m.1 35.5h0m0-5.2h0m.1-67.4h0m0 95h0m0-19.5h0m.1 19.3h0m0-31.2h0m.1 .5h0m0-1.7h0m0 29.9h0m0-20.9h0m.1 19.7h0m0-35.2h0m0-10.2h0m0 16h0m0 27.7h0m0-47.9h0m.1 50.6h0m0-7.2h0m.2 8h0m0 1.3h0m.1-47.6h0m0 46h0m0-3h0m.1-39.1h0m0 21.9h0m.1 21.5h0m0-1.8h0m0 2.3h0m0-7.6h0m0 3.5h0m.1-1.4h0m0 7.5h0m.1-74.1h0m.2 58.2h0m0-79.8h0m.2 74h0m0 4.8h0m.1 15.6h0m0-33.5h0m0-.4h0m0 30.4h0m.1-.1h0m0-3.9h0m.1 9.1h0m0-40.7h0m0 37.7h0m.1-4h0m0 .6h0m0-3.1h0m.1 6.3h0m0-1.9h0m0-1h0m0-57.8h0m.1 51.8h0m.1 10.9h0m0-53.7h0m.1 45.4h0m0-11h0m0-46.9h0m0 42h0m0 19.3h0m.1 1.1h0m.2-1.1h0m0-16.6h0m.1-.8h0m0-3.7h0m.1 28.6h0m0-12.2h0m0-11h0m.1 5.5h0m0 11h0m.1-2.6h0m0 7.2h0m.1-4.5h0m0-24.1h0m0 20.6h0m.1 11.5h0m.1-44.6h0m0 38.7h0m0-8.6h0m.1 12.5h0m0-22.6h0m.1 4.5h0m0-49.8h0m0 48.2h0m0 9.5h0m.1-32.9h0m0 21.6h0m0-26.7h0m.1 3.9h0m.1-.8h0m0 21.6h0m.1 5.2h0m0-38.7h0m0 33.6h0m.1 23.6h0m.1-4.3h0m0 2.3h0m0-25.2h0m.1 13.3h0m0-3.9h0m.1 4.4h0m0 10.8h0m.1-22h0m0 15.8h0m.2 2.9h0m0-7.7h0m.1 16.6h0m0-7.8h0m.1-18.6h0m.1-55.9h0m0 51.2h0m0 16h0m.2 1.7h0m.3-2.5h0m.1 13.3h0m0-28.2h0m.1 1.5h0m.2 10.6h0m0 17.3h0m.2-15.1h0m0-31.5h0m.1 20.9h0m0 24.1h0m.2-3.3h0m.1-30.7h0m0 19.8h0m0-15.2h0m.2 24h0m0-2.6h0m0-2.6h0m.1-5.2h0m0 10.2h0m.1 2.4h0m0-39.7h0m0 43.6h0m.1-4.9h0m0-13.3h0m0 7.1h0m.1-10.9h0m.1 11.9h0m.1-17.8h0m.1-9.4h0m0 16.6h0m.2-27.6h0m.1 35.8h0m0 6.7h0m0-36h0m0 39.2h0m.2-18.9h0m0-1.8h0m0 23.1h0m0-24.2h0m0-30.5h0m0 37.1h0m.2-34.8h0m.1-19.1h0m0 22.4h0m.1 31.9h0m0-5.5h0m0 .7h0m.1-20.2h0m.1 19.8h0m0 14.5h0m0-58h0m0-10.1h0m0 65.4h0m.1 5.7h0m.1-70.5h0m0 3.7h0m0 64.6h0m.1 2.4h0m0 1.2h0m0-24.2h0m.1 20.5h0m0-46.4h0m.1 41.2h0m0-23.4h0m0 28.7h0m0-58.9h0m.1 63.3h0m0-3h0m0-14.6h0m.1 8.7h0m0-9.5h0m.1 9.1h0m0-55.5h0m.1 24.5h0m0 26.7h0m.1 4.2h0m0 7.5h0m0-13.1h0m.1-39.2h0m0 47.4h0m.1-33.4h0m.1 30.7h0m.1-12.6h0m.1 4.6h0m0 3.5h0m.1-30.9h0m0-27.3h0m0-25.4h0m0 71.8h0m.1 16.6h0m0-27.1h0m.1-32.8h0m0 64.3h0m0-11.7h0m0 9.1h0m.2-53.3h0m.1 48.3h0m0-2.7h0m0-2.9h0m.1-27.6h0m.1 26.8h0m0 2.6h0m.2-48.1h0m0-13.3h0m0 3.6h0m.1 24.7h0m0 38.9h0m.1-21.9h0m.1 11.2h0m0 14.1h0m.1-23.9h0m0 18.9h0m0-3.7h0m0-17.2h0m0 14.4h0m0 7h0m0-4h0m.1-10.7h0m.1 11.2h0m0-6.8h0m0-5h0m0 8h0m.1-23.9h0m.1-.5h0m0 2.9h0m0 18.8h0m.1 7.9h0m0-89.7h0m.1 93.8h0m.1-33.1h0m0-33.8h0m0 58.1h0m0-21.8h0m.1 27.1h0m0-2.1h0m.1-84.2h0m.2 15.5h0m0 57.7h0m0 6.4h0m0-12h0m0-17.8h0m.1 19.5h0m0 22.6h0m0-20.3h0m.1 13.9h0m0-1.7h0m.1-10.1h0m.1-8.4h0m0-66.9h0m.1 69.9h0m0 22.3h0m.1-15.5h0m0 8.4h0m0 6.4h0m0-61.4h0m0 33.1h0m.2 28.4h0m0-8h0m0 6.8h0m.1-24.3h0m.1 9.4h0m0 1.6h0m0 15.3h0m.1 1.7h0m0-11.9h0m0-35h0m0 39.1h0m0 6.2h0m.1-5.1h0m0-41h0m0 42.6h0m0-14.8h0m.1-18.8h0m.1 37.7h0m0-2.7h0m0-12.2h0m0 11.1h0m.1-2.8h0m0-10.2h0m.1-48.4h0m0 31.8h0m0 17.4h0m.2-20h0m0 30.7h0m0 6.8h0m.1-4.5h0m0-14.4h0m.1-5.5h0m.1 2.4h0m0 9.5h0m0 5.3h0m.1-10.8h0m0-6.5h0m0 19.4h0m.1-33.3h0m.1-56.4h0m0 96.4h0m0-7.2h0m.1 1.9h0m.1 1.9h0m.1 3.4h0m0-39.8h0m0 5.1h0m.1 7.1h0m.1 11.5h0m0-38.9h0m0 47.1h0m0-8.7h0m.1-4.2h0m0 11h0m.1-1h0m0-42.2h0m0 41.8h0m.1-9.8h0m0-37.6h0m0 45.4h0m.1 9h0m0-2.8h0m0 .4h0m0 4.7h0m.2-19.8h0m0-38.6h0" stroke="#000080"/>
<polygon points="192.8,415.0 192.2,414.4 192.2,349.5 193.5,349.5 194.5,346.4 195.5,342.8 196.5,339.5 197.5,337.4 198.5,336.3 199.5,336.0 200.5,336.0 201.5,335.9 202.5,336.2 203.5,338.1 204.5,342.1 205.5,347.1 206.5,350.8 207.5,351.4 208.5,348.8 209.5,344.4 210.5,340.4 211.5,338.2 212.5,338.2 213.5,339.3 214.5,340.7 215.5,341.9 216.5,342.1 217.5,341.0 218.5,339.5 219.5,339.2 220.5,341.0 221.5,343.6 222.5,345.4 223.5,345.9 224.5,345.3 225.5,343.6 226.5,341.0 227.5,337.7 228.5,334.4 229.5,332.2 230.5,331.9 231.5,333.2 232.5,335.1 233.5,336.7 234.9,336.7 234.9,414.4 234.3,415.0" fill="#9999CC"/>
<path d="M193.4 349h0m0-3.3h0m0-11h0m0 5.4h0m0 9h0m.1-1.4h0m0-6.6h0m0-8.9h0m.1 8.8h0m0-61.3h0m0 65.4h0m.1-18.6h0m0-22.5h0m.1 35.5h0m0 5.1h0m0-10.8h0m0 14.6h0m0-18.1h0m.1-8.4h0m0 11.5h0m0 4h0m.1-53h0m0 50.2h0m.1 .5h0m.1-3.6h0m0-10.2h0m.1-50.9h0m0 60.3h0m0-4.6h0m.1 18h0m0-.5h0m0-30.9h0m.2 10.1h0m0 18.9h0m0 4.4h0m0-12.6h0m.1-52.3h0m0 58.6h0m.2-25.8h0m0-9.5h0m0 31h0m.1 2.8h0m0-7h0m.1-7.9h0m0-3.9h0m.1 19.4h0m0-22.2h0m0 26.7h0m0-7.1h0m.1-18.4h0m0 15.1h0m0 7h0m0-28.4h0m0-.9h0m.1-8.1h0m0 38.8h0m0-18.8h0m.1 3.1h0m0 2h0m0-20h0m.1-.9h0m.1 0h0m0 23.2h0m0 3.8h0m0 4.4h0m0 1.5h0m.1-3.9h0m.1-5.1h0m0-18.9h0m0 17.9h0m.1-11.6h0m0-41.1h0m0 56.5h0m.2 5h0m0-.4h0m0-4.2h0m.1-7.2h0m0-25.4h0m.1-64.4h0m.1 91.8h0m.1 6.6h0m0-1.9h0m0-6h0m.1-15.7h0m0 5.2h0m0 8.6h0m0 12.7h0m.1-8.7h0m0-26.2h0m0 10.9h0m.1-55.2h0m0 22.9h0m.1-56.4h0m0 103.4h0m.1-23.3h0m0 14.6h0m0 13.9h0m.1-67.8h0m0 44.5h0m0 17.2h0m.1-33.8h0m.1 28.5h0m0 .9h0m0-32.9h0m.1 23.2h0m0-13.5h0m0 16.7h0m.1 15.8h0m0-14.9h0m0 16.4h0m0 1.8h0m0-41h0m0 25.3h0m.1-27.7h0m.1 36.8h0m0-20.7h0m0 21.9h0m0-9.1h0m.1 9.3h0m0 2.4h0m0-5.1h0m.1-4.6h0m0 10.9h0m.1 .4h0m.1-10.9h0m0-4.8h0m.1 10h0m.1-30.7h0m0 31.6h0m0-1.8h0m.1-60.6h0m0 67h0m.1-22.8h0m0 19.9h0m0-24.5h0m0 7.9h0m.2-76.6h0m0 88.3h0m.1 8.3h0m0-5.5h0m0 2h0m0-23.2h0m.1 2.5h0m0 19.5h0m.1-77.8h0m0 64.6h0m0 14.7h0m.1-6h0m0 8.2h0m.1-20h0m0 19.4h0m.1-2.9h0m0-9.1h0m0-24.9h0m.1 27.1h0m.1-9.4h0m0-3.7h0m0-35.3h0m0 39.9h0m.1-58.4h0m0 59.3h0m.1 16.3h0m0-3.6h0m0 5.8h0m0-60.1h0m.1 15.2h0m0 35.1h0m.2-9.9h0m0 11.9h0m.1-13.7h0m0 21.7h0m.1-19.5h0m0 8.9h0m0-6.5h0m0 8.6h0m0-7.9h0m.2 8.2h0m.1-15.9h0m0-8.5h0m0-3.8h0m.1-16.9h0m0 49.2h0m.1-.5h0m0-3.9h0m0-20.2h0m.2 23.9h0m0-3.7h0m0-38.2h0m0 47h0m.1-4.3h0m.1-32.9h0m0 29.2h0m.1 3.3h0m0-3.8h0m.1 3.1h0m0-1h0m.1-5.5h0m0 3.7h0m0 6.4h0m0-5.8h0m0 5.4h0m.1-33.7h0m.1 32.8h0m0-9.9h0m.1 5.3h0m0-23.8h0m0 23.8h0m0-23h0m0 15.7h0m.1-4.5h0m0 .2h0m.1-11.4h0m0-25.7h0m0 33.1h0m.2 2.8h0m0 18.2h0m0 1.1h0m.1-.3h0m0-12.7h0m.1 14h0m0-18.7h0m.2 10h0m0-.5h0m0 7.2h0m0-15.6h0m.1 10.9h0m0-3.1h0m0-.2h0m.1 4h0m0-63.3h0m0 62.6h0m.1-12.2h0m0 18.2h0m0-15.6h0m.1-8.4h0m0 25h0m0-42.2h0m.1 41.9h0m.1-80.5h0m0 63.3h0m.2-28.7h0m0 40.8h0m0-24.2h0m0-29.7h0m.1 60.3h0m0-4.1h0m0-42.5h0m.1 45.7h0m0-7.6h0m.2-26.9h0m0-35.9h0m.1 22.2h0m.1 3.3h0m0 35.3h0m.1-61.8h0m.1 62.8h0m0-1.2h0m0-30.2h0m0 42h0m.2-9.1h0m.1 4.6h0m.1-15.5h0m0 21.1h0m0-28.8h0m0 29.5h0m0-22.2h0m0 19.7h0m0-51.8h0m.1 43.7h0m.1-6.8h0m0-4.3h0m.1 13.9h0m0-1.1h0m0 12.1h0m.2-8.8h0m0-3.9h0m0 5.8h0m.1-16.1h0m0 20h0m.1-3.4h0m.1-.8h0m.1 7.2h0m0-13.1h0m0 15.7h0m0-7h0m0-4.6h0m.1 8.9h0m0-71.3h0m.1 56.1h0m.1 3.6h0m0-10.1h0m0 17.9h0m.1 4.9h0m0-63.7h0m0 4.1h0m.1 45.4h0m.1-4.4h0m0-6.9h0m.1 19.5h0m0 6.4h0m0-13.7h0m0 14.4h0m.1-73.4h0m0 19.9h0m.1 46.1h0m0 10.7h0m0-86.4h0m0 49.6h0m.1 9.7h0m0 7.5h0m0-3.6h0m.1 24.8h0m0-6.1h0m0 4.3h0m.1-19.8h0m.1 14.8h0m.1-9.7h0m.1 1.8h0m.1-11.1h0m.1 11.5h0m0-7.9h0m.1-11.2h0m.2 7.5h0m0 9.3h0m.1-18.2h0m.1 6.1h0m0 28.3h0m.1-19.8h0m0-15.4h0m.1 3.5h0m0 29.6h0m.3-5.7h0m0-20h0m0-1h0m.1-34h0m0 37.4h0m0 13.9h0m0 11h0m0-7h0m.1-74.7h0m0 62.4h0m.1 7.1h0m.1 11.5h0m0-17h0m0-44.6h0m0 51h0m0 7.1h0m0-1.5h0m0-13.7h0m.1-13.8h0m0 26h0m0-7.6h0m0 10.7h0m.1-18h0m0-4.8h0m.1 13.8h0m.1-12.8h0m0 22.6h0m.1-16.5h0m0 7.4h0m.1-38.2h0m.1 16h0m0 11.9h0m.1 6.4h0m0 8.8h0m.1-33.2h0m0 .7h0m.1 2.4h0m0-2.6h0m.1 31.7h0m0-38.3h0m.1 27.4h0m0 12.4h0m.1-23.3h0m0-1.1h0m.2 17.1h0m0-15.3h0m.1 22.2h0m.1-1.8h0m0-68.1h0m0 37.8h0m.1 24.5h0m.1-7.4h0m0-17h0m.1 20.9h0m0-2.6h0m0-32.5h0m0 42h0m0 1.3h0m.1-5.5h0m.1-46.5h0m.1 39.4h0m0-15.8h0m0 24.9h0m.1-12.4h0m.1-48.2h0m0-2.6h0m.2 61.9h0m.1-42.4h0m0 11.4h0m.1-47.6h0m0 71.9h0m0-9.1h0m0 3.2h0m.1 11.6h0m0-10.4h0m0-24.5h0m.1-18.9h0m0 35.4h0m.1-5h0m0-26.2h0m.2-1.2h0m0 46.3h0m0-.3h0m0-48h0m0 35.1h0m.1 15.8h0m0-16.9h0m0 8.1h0m0-23.6h0m.1 21.8h0m0 11.2h0m0-4h0m0-8.9h0m0 3.5h0m0-3.2h0m.1 17.5h0m.2-4.6h0m0 3.8h0m0-1.8h0m.1-31.8h0m0-14.5h0m.1 47.8h0m.1-4h0m0 .5h0m0-.6h0m0-7.9h0m0 12.2h0m0-12.8h0m.2 8.7h0m0-3.3h0m0-47.4h0m.1 39.1h0m.1-11.7h0m0 22.5h0m.1-29.9h0m0 20.4h0m0 10.2h0m0-67.5h0m.1 73.8h0m.1 .5h0m0-6.1h0m0 2h0m.1-12.9h0m0 11.6h0m0-7.2h0m.1-11h0m0 6.9h0m0-13.5h0m.1 28.8h0m0-12.6h0m.1 4.2h0m0-19.8h0m.1 5.2h0m0 23.2h0m0-34.3h0m0 30.8h0m0-42.3h0m.1 47.3h0m0-.2h0m0-2.8h0m0-18.7h0m.2-18h0m0 29.6h0m.1-12.2h0m.1-35.8h0m0 48.3h0m.1 11.2h0m0-60h0m.2 39h0m0 21.5h0m0-2.8h0m.1-19.3h0m0 6.2h0m.1 13.6h0m0-6h0m.5-13.9h0m0-4.6h0m0 .8h0m.1 27h0m0-5.8h0m.1-21.5h0m0 10.6h0m0-19.4h0m.1 35h0m.1-10.2h0m0 9.6h0m0-64.2h0m.1 25.9h0m0 37.9h0m0-11.8h0m.2-38h0m0 38.4h0m0 8.7h0m0 .4h0m.1-96.4h0m0 93.3h0m.1-28.4h0m.1 34.5h0m.1-4.2h0m.1 3.4h0m.1-8h0m0-14.9h0m.3 12.9h0m0-39.9h0m0 48.9h0m.1-21.3h0m.1 0h0m0 15.5h0m0 8.5h0m0-3.7h0m0 1.9h0m.1-34.8h0m0 10.8h0m0 13.6h0m.1 11.4h0m0-3.2h0m.1-14.5h0m0 3.7h0m.2-54.9h0m0 57.8h0m.1 2.2h0m0-51.7h0m.1 48.9h0m0-17h0m0 28.5h0m0-17.8h0m.1 4.8h0m.1-19.8h0m0 4.4h0m.2-12.2h0m.1 34.3h0m0 .8h0m0-5h0m0-11.3h0m.1-36h0m0-11.3h0m.1 8.5h0m0 44.2h0m.1 8h0m0-37.9h0m0 33.3h0m0-9.2h0m.1 18.5h0m0 .7h0m0-29.3h0m0 19.5h0m.1 8.5h0m0-25.1h0m.1 13.5h0m0 3.8h0m0-34.4h0m0 36.4h0m0-61.2h0m0 70.1h0m.1-26.1h0m0-3.8h0m.1 6.2h0m.1 18.2h0m0-26.5h0m0 28.9h0m.1-60.1h0m.1 29.2h0m0 17.2h0m.1 15.8h0m.1-47.5h0m0 35.1h0m0-11.4h0m.1 6.1h0m.1 4.8h0m.2 4.1h0m0 5.1h0m0-49.2h0m0 51h0m.1-32.8h0m0 31.4h0m0-23.7h0m0 18.3h0m.1-30.1h0m0 25.9h0m.1 7.4h0m0-64.5h0m0 72.8h0m.1-14.6h0m0-8.7h0m0-5.3h0m.1 27.5h0m0 .3h0m0-39.4h0m.1 30.4h0m0-48.3h0m0 19.8h0m.1 37.7h0m.2-6.2h0m.1-58.6h0m0-45.8h0m0 98.7h0m0-23.5h0m.1 4.7h0m0 28.7h0m.1-20.2h0m.1 9.9h0m0-39.8h0m0 49.6h0m0-23.4h0m0 22.2h0m0-54.6h0m0 12.9h0m.1 27.7h0m0-1.7h0m.1 6.1h0m.2 2.7h0m0 3.8h0m.1-4.3h0m0 2.3h0m0 11h0m.1-23.3h0m0-.4h0m0-13.6h0m0 12h0m0-10.7h0m.2 35.5h0m0 2.6h0m0-1.4h0m.1-34.8h0m0 29.9h0m.1-15.2h0m.1-22.6h0m0-2.3h0m.1 45.6h0m.1-6h0m.1 5.9h0m0-10.3h0m0-16.3h0m0 6.8h0m.1-23.6h0m0-11h0m0 29.3h0m.1-8.8h0m.1-3.9h0m0-15.3h0m.1 50.4h0m0 4.2h0m.1-66.4h0m0 60.6h0m.1-2.7h0m.1-22.9h0m0-10.5h0m0 29.7h0m0 7h0m.1 4.5h0m0-13.2h0m0 13.9h0m.2-15.4h0m0-2.6h0m.1-9.9h0m0-13h0m.1 6.5h0m.1 33.1h0m0-1.6h0m0 3h0m0-14.9h0m0 11.2h0m0 2.2h0m0 .5h0m.1-.7h0m0-53.9h0m.1 31.4h0m0 2.2h0m.1 .4h0m0 18.8h0m.1-67.7h0m0 49.9h0m.2 4.4h0m0-12.8h0m.1-49.1h0m0 73.8h0m0-4.9h0m.1 5.5h0m.1-17.7h0m0 13.9h0m0-21.7h0m.1 22.9h0m0-.7h0m0-19.7h0m0-24.7h0m.1 31.9h0m0 15h0m.1-2.7h0m0-8.4h0m.1-29.6h0m0 38.7h0m0 4.4h0m.1-12.8h0m0-1.2h0m.1-38.4h0m0 22h0m0-21.8h0m.1 46.1h0m0 3h0m.1-9.2h0m0-8.2h0m0-29.1h0m.1 19.4h0m0 21.4h0m.1-10.1h0m0 3h0m.1-4.2h0m0-12.1h0m.1 29.2h0m0-11.9h0m0-1.5h0m.1-33.6h0m.1 22.5h0m0 22.4h0m.1-8.9h0m0-3.2h0m.1 6.6h0m0-4.4h0m0-74h0m0 44.1h0m.1 24.6h0m0 13.1h0m.1-17.7h0m0-23.8h0m0 39.4h0m0 5.3h0m0-.6h0m0-47.3h0m.1 12.3h0m.2 32h0m0-25.5h0m0 10.7h0m.1-50.8h0m0 63.1h0m.1-3.1h0m0-23.9h0m.1 10h0m.2-2.4h0m0-40.7h0m0 60.9h0m.1-14.3h0m0-29.5h0m.1 40.6h0m0-46.4h0m.1 29.6h0m0 15.5h0m0 3.5h0m0-4.4h0m.1 5.2h0m0-25.3h0m.1-6.2h0m0 30h0m0-.6h0m0-4.6h0m.1 .7h0m0-38.4h0m0 27h0m.1 2.1h0m0-82h0m.2 97.8h0m0-22h0m.1-24.2h0m0 20.8h0m.1 23.2h0m.1-32.4h0m0-29.3h0m0 53.8h0m.1-15.6h0m0-18.2h0m0 41.4h0m0-34.6h0m.1 25.1h0m.1 4.3h0m.1-2.3h0m0-20h0m.1 12.1h0m.1 4.6h0m0 3h0m0-24.5h0m0 29.8h0m.1 1.1h0m0-13h0m.1-23.7h0m.1 22.6h0m0-9.6h0m.1-29h0m0 51.6h0m0-7.9h0m0-22.6h0m.1 23.9h0m.1 3.8h0m0-53.3h0m0 56.6h0m.1-19.8h0m0 11.8h0m0-26.7h0m.1-24.5h0m0 53.5h0m0-52.8h0m0 24.2h0m.1 2.9h0m.1 7h0m.1-29.9h0m0-31.7h0m0 80.3h0m0-78.1h0m.2 85.7h0m.1-9.2h0m0-27.9h0m.2 37.5h0m0-30.5h0m0 28.7h0m0-10.8h0m.1 9.7h0m0 1.2h0m.1 1.1h0m0 .2h0m.1-.7h0m.2 .6h0m0-11.5h0m0 10.9h0m0-21.5h0m0 13.7h0m0-26.4h0m.2 32.7h0m0-32.4h0m0 24h0m.1 10.3h0m0-.7h0m.1-20.8h0m0 2.9h0m0 12.3h0m0 .9h0m0 4.9h0m0-29.3h0m0-4h0m.1-37.1h0m0 23.1h0m0 16.2h0m0 29.5h0m.1-.9h0m0-4.6h0m.1-14.7h0m0 5.4h0m0 16.8h0m.2-30.7h0m0 34.1h0m.1-34h0m0 24.7h0m0 .4h0m.1-28.7h0m.1 22.8h0m.1-20.4h0m0 20.2h0m0-34.3h0m0 29.5h0m0 1.5h0m.1-1.4h0m.1 9.9h0m0 6.5h0m0-1.3h0m.1 1.8h0m.1-6.2h0m0-10.6h0m0 6.9h0m0 3h0m0 9.2h0m.1-28.6h0m0 7.8h0m0 11.3h0m.1-.6h0m0 4.3h0m.1 7.9h0m0-4h0m0-1.4h0m0-7.1h0m0-4.8h0m0-44.3h0m.2 43.9h0m0 3.6h0m0-14.1h0m0-25.9h0" stroke="#9999CC"/>
<polygon points="235.5,415.0 234.9,414.4 234.9,338.8 236.2,338.8 237.2,343.2 238.2,347.1 239.2,349.6 240.2,349.9 241.2,347.9 242.2,344.3 243.2,340.9 244.2,339.3 245.2,340.4 246.2,343.3 247.2,346.6 248.2,348.9 249.2,349.0 250.2,347.0 251.2,343.4 252.2,339.1 253.2,334.8 254.2,331.6 255.2,330.3 256.2,330.9 257.2,332.5 258.2,334.3 259.2,335.3 260.2,335.4 261.2,334.4 262.2,332.7 263.2,331.1 264.2,329.2 265.2,324.6 266.2,322.7 267.2,326.8 268.2,331.3 269.2,334.8 270.2,335.7 271.2,333.6 272.2,329.5 273.2,325.2 275.3,325.2 275.3,414.4 274.7,415.0" fill="#000080"/>
<path d="M236.1 303.1h0m0-10.7h0m.2 1.4h0m0 3.7h0m0 12.1h0m.1-16.2h0m0 34.8h0m0-2.8h0m0-49h0m.1 18.2h0m0 11.1h0m0 11.5h0m.2 20.6h0m.1-22.9h0m0 17h0m.1-17.4h0m0 19.1h0m.1-75.3h0m0 69.5h0m0 9.8h0m0-20.9h0m0-47h0m.1 70.6h0m0-1.5h0m0-23.1h0m.1 14.8h0m0-23.9h0m.1 34.8h0m0-98.1h0m0 81.5h0m.1-8h0m0-36.3h0m.1 35.6h0m0-68.1h0m.1 54.1h0m0 42h0m0-5h0m.1-21.2h0m0 22h0m0-12.3h0m0 13.8h0m0-7.3h0m.1-15.3h0m.1 12.5h0m0 11.5h0m.1-53h0m0 38.2h0m0-15.8h0m0 32h0m0-20.4h0m.1 19.3h0m0-21h0m.1 21.6h0m.1-2.3h0m0-11h0m0 12.3h0m.1-.6h0m.1 2.2h0m.1-31.2h0m0-22.1h0m0 46.1h0m0-4.3h0m.2 12.8h0m.1-8.8h0m.1-25.6h0m0 14.9h0m0-17.1h0m.1 36.1h0m0-46.4h0m.1 15.3h0m.2 20.7h0m0 10h0m0 4.4h0m.1-31.6h0m0 28.6h0m.1-37h0m0 38.7h0m0-15.4h0m0-35.2h0m.1 48.1h0m.1 3.9h0m0-63.1h0m0-17.2h0m.1 61.7h0m0-11.8h0m0 18.9h0m.2-38.1h0m.1 32h0m.1-24.1h0m0 5.5h0m0 17.6h0m.1 5.9h0m0-83.8h0m.1 52h0m.1 7.9h0m0-.5h0m.1 23.1h0m.1-19.6h0m.1 3.5h0m0 26.8h0m0 1.9h0m0-6.6h0m0-45.1h0m.1 48.2h0m0-2.4h0m0 1.5h0m.1-3.3h0m0-49.7h0m0 6h0m0 44.4h0m.1-6.1h0m0 4.7h0m0 4h0m.1-13.5h0m0 3.5h0m.1 12.6h0m0-9.5h0m.1-5.7h0m0 9.5h0m0-4.4h0m0-3h0m.1-90h0m0 93h0m.1-.8h0m0-11h0m0 15.6h0m.1 1.9h0m.1 2.8h0m.1-11.5h0m0 11.2h0m0-11.5h0m.3 11h0m.1-17.3h0m0 10.3h0m.1-37.7h0m0 14.7h0m.1 .3h0m0-15.5h0m.2 43.5h0m0-17.5h0m0 14.6h0m.1-26.1h0m0 3.9h0m.1-5.9h0m.1 27.8h0m0-39.3h0m.1-18.6h0m0 58.9h0m0-4h0m0 .4h0m0-15.7h0m.3 12.1h0m0-14.9h0m0-15.7h0m.2 11.2h0m0 22.6h0m.1-21.1h0m0-7.6h0m0 28.9h0m.1-.1h0m0-14.7h0m0-28.7h0m.1 46.1h0m0-6.3h0m0 4.2h0m0-54.4h0m.2 21.5h0m0 10.9h0m0 .8h0m.1 21.5h0m0 .5h0m.1 1.3h0m.1-3.3h0m0-9.8h0m.2-8.7h0m.1 12.8h0m0-40.2h0m.1 38.4h0m.1-16.9h0m0 24.3h0m0-1.9h0m0-11.3h0m0-28.1h0m.1 20.8h0m0-18.4h0m0 35.3h0m0 5.9h0m0-23.9h0m.1 18.9h0m0 .4h0m0-41.2h0m0-32.2h0m.1 77.2h0m.1-89.1h0m0 80.8h0m.1-5.4h0m0-11.3h0m0 7.1h0m0-33.8h0m.1 42.7h0m0-2.4h0m0-21.9h0m.1 21.4h0m0-3.5h0m.1-21.2h0m0-2.8h0m.1 36.7h0m0-15.1h0m.1 14.1h0m0-11.3h0m0-36.1h0m0 49.4h0m0-10.2h0m.1-25.6h0m.1 40.8h0m0 2.2h0m0-49.3h0m.1 26.2h0m0 9.2h0m.1 7.5h0m0-29.2h0m0 2.8h0m.1 29.3h0m.1 1.6h0m0-2.1h0m0-.4h0m.1-5.2h0m0 4.2h0m0 1.2h0m.1-14.5h0m.1 17.4h0m.1-56.3h0m0-2.6h0m0 56.5h0m.1 5.9h0m0-3.3h0m0-19.4h0m.1-9.7h0m0 30.1h0m0-13.1h0m0-22.2h0m.1-26.2h0m0 54.5h0m.1-6.1h0m0 8h0m0 .2h0m0-27.5h0m0 36.3h0m.1-37.9h0m0 37.4h0m.1-23.8h0m0 18.6h0m0-1.6h0m.1 0h0m0 6.4h0m.1 1h0m0-3.1h0m0-45.4h0m0 28.8h0m.1-15.6h0m0 35h0m0-13.8h0m.1-2.2h0m0 15.6h0m.1-21.7h0m.2 22.7h0m.1-8h0m0-21h0m0-5.7h0m0 23.1h0m0 2.1h0m.1-3.6h0m0 13h0m.1-1.6h0m0-2.3h0m0-7.8h0m0-65.1h0m.1 72h0m0-51h0m0-22.7h0m.1 57.1h0m0 19h0m0-7.4h0m0 7.6h0m.1-14.7h0m0 7h0m0 11h0m0-23h0m.2-10.9h0m0 30.7h0m0-35.4h0m.1 28.7h0m0-72h0m0 71.2h0m0-.8h0m0 .8h0m.1 9h0m.1-6.6h0m.2-79h0m0 82.1h0m.1-61.5h0m.1 48.1h0m0 10.1h0m0-16.1h0m.1-8.1h0m0 23.2h0m.1 3.3h0m0-41.7h0m.2 34.3h0m0-57.5h0m0 51.2h0m0 7.8h0m0 5.2h0m.1-102.9h0m0 92.4h0m0 11.9h0m.1-96.4h0m0 86.6h0m0 11.4h0m0-1.8h0m.1-32.4h0m0 25.3h0m.1-4h0m.2-22.5h0m0 33.7h0m.1-1h0m0-27.7h0m0 22.3h0m.1-11.6h0m0 17.5h0m.1-38.3h0m0 36.7h0m0-10.2h0m0 1.8h0m0-50.3h0m.1 39.3h0m0 12.2h0m0-1.8h0m.1 8.4h0m.1-30h0m0 1.2h0m.1-5.1h0m0 34h0m0-7.5h0m0-13.2h0m.1 14.9h0m0-74.8h0m0 78.2h0m.1-28.9h0m0 16.4h0m0 9.3h0m.1 2.5h0m.1-6.8h0m0 10.3h0m.1-36h0m0-19.9h0m0 55.8h0m0-14.5h0m.1 13.2h0m0-.9h0m0-4.5h0m0-41h0m0 44.3h0m.1-56.6h0m0 46.4h0m0-11.4h0m.2-85.3h0m.1 92.6h0m.1-62.4h0m0 53.6h0m0-1.3h0m.1-27h0m.1-5.8h0m0 20.1h0m.1 23.4h0m.1-5.9h0m0-7.7h0m0-30.5h0m0 36.5h0m.1 14h0m0-23h0m0-65.8h0m0 83.9h0m.1-29h0m0 25.3h0m0 5.5h0m.1 .1h0m0 3.7h0m0-49.1h0m0-24.4h0m.1 64.3h0m.1-8.7h0m0 5.9h0m.1-4.9h0m0 9.8h0m.1 7.4h0m0-8.7h0m0 10.7h0m.1-14.1h0m0 7.1h0m0-13.7h0m.1 20.2h0m.1-62.4h0m0 62.3h0m0-.2h0m0-16h0m.1-17.6h0m0 30.8h0m0-25.7h0m.1 9.4h0m.1 12.1h0m0-18.9h0m0 18.9h0m.1-29.8h0m0 16.4h0m.1-2.7h0m0-10.4h0m0 27.1h0m.1-45.8h0m.1 36.2h0m.1 15.2h0m.1-12h0m.1-5.4h0m0-22.1h0m0 31.1h0m0-11.9h0m.1 6.5h0m0 6.4h0m0-7.3h0m.2 5.2h0m0 .6h0m0-8.3h0m.1 13.6h0m.1-.5h0m0-16.4h0m.1-15.3h0m0 28.9h0m.2-5.5h0m0 6.8h0m.1-12.7h0m0-57.7h0m.1 72.6h0m0-7.1h0m.1 .2h0m.1 4.6h0m0-27h0m.2-6.3h0m.1 24.7h0m.1 1.5h0m0-1.6h0m.1-8.4h0m0-13.6h0m0 27.2h0m0-15.1h0m0 9.1h0m0-5.5h0m0 10h0m.1-12.3h0m.1 13.4h0m0-25.6h0m0-6.9h0m.1 2h0m.1-32.7h0m0 43h0m0 7.6h0m.1 3.5h0m.2-40.9h0m0 55.1h0m.1-22.8h0m0 28.7h0m0-13.7h0m.1 2.5h0m0-16.1h0m0 14.4h0m.1 13.4h0m.1-2.5h0m0-70.1h0m.1 55.2h0m0 3h0m0-15.2h0m.1 7.2h0m0-11.2h0m0 9.1h0m0 21.5h0m.1-12.4h0m.1-5.7h0m.1 5.3h0m0-4.1h0m0 7.3h0m.1-29.8h0m0 14.8h0m.1 0h0m0 23.3h0m0-24.3h0m0-16.2h0m.1 28.6h0m0-25.6h0m.1 43.3h0m.2-4.3h0m0-21.2h0m0-23.5h0m0 36.7h0m.1-27.5h0m0 34.4h0m.1-40.2h0m0 14.4h0m0 1.1h0m0-6.1h0m.1 16.5h0m0 5.3h0m.1 3.3h0m.1 12h0m0-12.9h0m0 11.3h0m.1-41.8h0m0 43.7h0m.1-5h0m.2-2.7h0m0-55h0m0 61.6h0m.1-6.8h0m0-35.7h0m.1 37.1h0m0-24.7h0m.2 23h0m0-11.9h0m0 16.8h0m.1-3.7h0m.1-9.9h0m.1-32.6h0m0 44h0m.1-24.5h0m0-4.9h0m0 29.7h0m.1 2.8h0m.1-4.1h0m.1-17.5h0m0 23.4h0m0-10.2h0m.1-33.7h0m0 42h0m.2-1.3h0m0-29.4h0m0 22.4h0m.2-4.9h0m0 14.2h0m.1-15.4h0m.1 15.8h0m0-8h0m0 6h0m.1 .2h0m.1-13.7h0m.1 9.5h0m0-.7h0m0-1.2h0m.1-9.1h0m0 6.1h0m.1 2.1h0m0-27.7h0m0 30.9h0m.1-2h0m0-17.5h0m.1 3.3h0m.1 17.4h0m.1-2.8h0m0 3.1h0m0-25.9h0m.1 25.5h0m0-69.1h0m0 46h0m0 12.7h0m0-17.6h0m.2-11h0m.1 22.3h0m0-2.8h0m0 20.6h0m.1-61.6h0m0 45.2h0m0 5.5h0m0-1.8h0m0 5.2h0m.1-75.3h0m0 75.2h0m0-22.7h0m.1 5.1h0m.1 19h0m.1-24h0m0 28.4h0m0-6.1h0m0-7.1h0m0-33.5h0m0 34.5h0m.1 .1h0m0 .2h0m.1 8.7h0m.1-56.2h0m0 52h0m0-69.6h0m.1 44.2h0m0-8.9h0m.1 14.9h0m0 20h0m.1 3.9h0m.1-82.1h0m0 32.8h0m0 46.6h0m.1-34.9h0m0 18.5h0m.1-3.6h0m0 15.6h0m0-6.2h0m0 10.9h0m0-13h0m.1 5h0m0 11.4h0m.1-4.3h0m0-11.7h0m0 10.2h0m.1-6.5h0m.1-3h0m.2 7.1h0m0-2.3h0m.1-16.3h0m.1-18.3h0m0 32.9h0m.1-13.3h0m0-70.9h0m0 76.8h0m.1-13.5h0m0 15.1h0m.1 6.1h0m0 4h0m0-31h0m.1 32.1h0m.1-19.9h0m0-35.8h0m0 40.4h0m.1 9h0m0-3.2h0m0 2.8h0m0-10.3h0m.2-10.4h0m0 20.7h0m0-64.3h0m.1 62.6h0m.1-4.1h0m0 8.1h0m0-24.2h0m0-41h0m.2 60.8h0m0-44h0m0 40.6h0m.1-27.9h0m.2 41.9h0m0-17.3h0m.1 5.2h0m0 12.2h0m0-43.5h0m0 36h0m0 7.2h0m.1 2h0m0-.4h0m0-5.9h0m0-33.6h0m.1 37.1h0m0-23.9h0m.1 9.2h0m0-6.5h0m.1 1.6h0m.1-1.5h0m0-57.4h0m0 46.1h0m.1-1.3h0m0 38.4h0m0-26.7h0m0 12.4h0m0-25.5h0m.2 37.4h0m.1-18.7h0m0 21.7h0m0-7.5h0m0-27.6h0m0 11.6h0m.1 10.2h0m.1 10h0m0-.9h0m0-16.4h0m.1 23.4h0m.1-22h0m0-7.9h0m0 22.4h0m0-15.6h0m0-69.2h0m0 80.3h0m.1-55.9h0m.1 32.7h0m0 13.8h0m0-62.9h0m0 81.8h0m.1-1.9h0m0-15.1h0m0 16.1h0m.1 2.1h0m.1-21.8h0m.2 23.4h0m.1-20.4h0m0-55.6h0m.1 57.7h0m.2 19.5h0m.1-17.1h0m0 20.5h0m0-30.3h0m.1 14.1h0m0 14.6h0m0 .6h0m.1-35.2h0m.2 10.8h0m0-46.8h0m.1 54h0m0-23.8h0m0 35.3h0m.1-18.2h0m0 15.4h0m0-92.1h0m0 95.5h0m.1-16.6h0m0 22.1h0m0-8.8h0m0-3.2h0m.1-14.9h0m0-80.3h0m.1 67.7h0m0-31.9h0m.3 65.7h0m.1-3.7h0m.1-.4h0m0 11h0m.1-.8h0m.1-96.9h0m0 91.9h0m0-22.2h0m0 24.9h0m.1-32.2h0m0 12.1h0m0 18.1h0m.1-9.6h0m0 12.9h0m.1-37.1h0m0 35h0m.1-49.5h0m.1 47h0m0-5h0m0-8.3h0m.1 8.8h0m0-.6h0m.1-7.7h0m0 12.5h0m.1-46.3h0m0 30.4h0m.1 1.2h0m0 12.5h0m.1-2.7h0m0-12.2h0m0-11.1h0m0-6.2h0m0 4.6h0m0 19h0m.1 .5h0m0-38.4h0m.1 29.4h0m0-22.6h0m0 43.4h0m.1-7.1h0m0-47.4h0m0 46.3h0m.1 1.1h0m0-6.3h0m.1-3.9h0m0-18h0m.1 16.2h0m0 16h0m0-12.1h0m0-8.5h0m.1 19.6h0m0 2.3h0m.1-5.7h0m0-.2h0m0 .4h0m.1 1.1h0m0-6.7h0m0 7.5h0m0-34.2h0m0 15.9h0m.1 21.6h0m0-58.9h0m0 32.6h0m0-9.8h0m.1-11.4h0m0 17.6h0m0 24.4h0m.1-6.9h0m0 8h0m.1-38.4h0m0 19.8h0m0 19.5h0m0-39h0m.1 27.5h0m0-3.9h0m0 3.6h0m0-14.7h0m.2-44.7h0m0 71h0m0-11.7h0m0-53.3h0m0-32.1h0m.1 87.6h0m.1-35.9h0m0 43h0m.1-81h0m0 81.6h0m.1 1.2h0m0-19.2h0m0 7h0m0-6.7h0m0 10.9h0m.1-14.9h0m0-35.6h0m0-1.4h0m0 20.2h0m.1 22.8h0m0 13h0m.1-4h0m.1 2.7h0m0-28.7h0m0-15.4h0m.1 39h0m0 9.8h0" stroke="#000080"/>
<polygon points="275.9,415.0 275.3,414.4 275.3,346.9 276.6,346.9 277.6,345.9 278.6,344.7 279.6,343.5 280.6,342.1 281.6,341.2 282.6,341.4 283.6,342.7 284.6,344.1 285.6,344.7 286.6,346.6 287.6,364.1 288.6,362.3 289.6,361.3 290.6,362.5 291.6,365.3 292.6,365.5 293.6,348.0 294.6,349.3 295.6,351.3 296.6,353.4 297.6,354.9 298.6,355.6 299.6,356.2 300.6,357.5 301.6,359.9 302.6,362.6 303.6,364.5 304.6,364.9 305.6,363.9 306.6,361.7 307.6,358.5 308.6,354.6 309.6,350.1 310.6,345.6 311.6,342.0 312.6,340.4 314.0,340.4 314.0,414.4 313.4,415.0" fill="#9999CC"/>
<path d="M276.5 336.4h0m.1-4.7h0m0 4.5h0m0 .2h0m.2 1.6h0m0-21.3h0m.1 2h0m.1 16h0m0-27.8h0m0 38.7h0m0-3.4h0m.1 .3h0m0-56h0m0 59.5h0m.3-1h0m0-8.6h0m0 7h0m0-1.4h0m.1-75.7h0m0 75.4h0m0-7.6h0m.1-10.4h0m0 17.9h0m0 3.7h0m.1-60.1h0m0 53.6h0m0-.4h0m.2-13.2h0m0-.4h0m0 19.4h0m.1-1.4h0m.2-51.9h0m0 49.3h0m0 .3h0m0 .5h0m.1-11.2h0m0 6.9h0m.1-15.3h0m0 4.5h0m0-30.3h0m.1 35.2h0m0-26.5h0m.1-5h0m.2 42.8h0m0-9.5h0m.1 5.6h0m0-4.3h0m.1 1.1h0m.3 3.7h0m0-16.2h0m0 3.4h0m.1-4.7h0m0 8.6h0m.1-8.5h0m0-6.9h0m0 9.6h0m0 8.3h0m0-17.9h0m.1-54.1h0m0 58.7h0m.1 23.3h0m0-29.6h0m0 12.5h0m.1-18h0m0 4h0m0 8.8h0m.1 20.1h0m0-23.3h0m0 9.8h0m.1 6.5h0m.1 1.7h0m0-14.7h0m.1 12.5h0m0-24.8h0m.1-6h0m.1 21.2h0m0-18.6h0m.1 32.4h0m.1-7.6h0m0-27.8h0m0 24.5h0m.1-3.7h0m0-3.3h0m0 15.4h0m0-28.6h0m0 31.2h0m.1-9.5h0m.1-23.2h0m0 18.3h0m0 14.2h0m.2 .3h0m0-67.3h0m.1 22h0m0 48.8h0m.1-10.8h0m0-2h0m0 4.4h0m.1-.3h0m0-32.7h0m0-5.3h0m0 36.1h0m.1-20.5h0m0 2.7h0m0 16.3h0m.1 7.8h0m0-35.1h0m.1 38.7h0m0-16.6h0m0 1.4h0m.1 11.1h0m0-12.2h0m0 1.2h0m.1-3.5h0m.1 1.3h0m0-21.1h0m0-.1h0m.1 22.9h0m0 11.8h0m0-62.3h0m.1 55.3h0m0 4.3h0m0-3.4h0m0-11.5h0m.1 20.6h0m0-10.3h0m.1 7.3h0m0 4.2h0m.1-2.9h0m0 2.9h0m0-3.6h0m0-4.2h0m.1-56.3h0m.1 15h0m0 27.2h0m.2 1.1h0m0 15.5h0m.1-35.4h0m0 41.5h0m.1-23.5h0m0-73h0m0 64.8h0m.2-22.5h0m0 11.8h0m0 38.4h0m0-29.9h0m.1 10.2h0m.2-3h0m0 20.7h0m0-13.8h0m0-30h0m0 47.6h0m0-8.1h0m0-5.1h0m.1-53.9h0m0 67.3h0m0-8.2h0m0-62.2h0m0 58.7h0m0 9.2h0m.1-21.4h0m.2 17.9h0m0 0h0m0-14.5h0m0 11.8h0m.1-38h0m0 37.9h0m0 7.2h0m0 .2h0m.1-2.3h0m0-9.4h0m0 8.3h0m0 8.1h0m0-11.5h0m.1 6.1h0m.1-19.9h0m0 11.3h0m0-35.2h0m0 48.8h0m.1-102.7h0m0 75.1h0m0 18.8h0m0-8.8h0m.1-3.3h0m0 .1h0m0-13.3h0m0 12.6h0m.1-31.4h0m.1 38.2h0m0-9.4h0m.1 24.7h0m0-1h0m.1 .4h0m0-20.7h0m0 22.6h0m0-2.2h0m.1-9.7h0m.1-13.1h0m0-2.1h0m.1 20.3h0m.1 .1h0m0-6.7h0m.1-21.6h0m0 17.1h0m.1 4.4h0m0-21.4h0m.1 13.3h0m0 17h0m0-2.4h0m.1 6.1h0m0-20h0m0-61.1h0m.1 45h0m0 35h0m0-17.5h0m0 16.9h0m.1-2.4h0m.2-9.9h0m.2 7.1h0m.1-14.2h0m0 8.4h0m.1 12h0m0 1h0m0-.3h0m.1-6.9h0m0-37.2h0m0 35.8h0m0 7.6h0m.1-16.9h0m0 11.3h0m0 9.9h0m.1-9.6h0m0 9.7h0m.1-5.2h0m0-11.6h0m0 9.1h0m.2-12.1h0m0-41.1h0m0 47.1h0m0 17h0m0 4.6h0m.2-1.9h0m0-23.6h0m0 28.3h0m.1 1h0m.1 4.6h0m0-4.9h0m.1-41.4h0m0-4.5h0m0 48.3h0m0-33.4h0m.2-3.7h0m.1-23.8h0m0 58.1h0m0-73h0m.1 52.8h0m.1 17h0m0-13h0m.1 13.4h0m0 4.6h0m.2-4.4h0m0-12h0m.1-63h0m0 71.2h0m.1 8.7h0m0 .2h0m0-2.7h0m0-32.1h0m.1-23.3h0m.1 58.9h0m.2-15.6h0m.1 5.5h0m0-2.3h0m.1-7.4h0m.1 17.7h0m0-16.6h0m0 8.4h0m.1 .1h0m0-21.9h0m0 28.1h0m.1 .6h0m.1-5.5h0m0 2.1h0m0-15.8h0m0 21.3h0m0-12.6h0m0 12.5h0m0-56.5h0m.1 49.8h0m0 1h0m0-4.8h0m0 5h0m0 1.7h0m.1-2h0m0-30.2h0m0 8.3h0m0 21.3h0m0 5.1h0m.1-7.9h0m0-15.7h0m0-11.2h0m.1 37.2h0m0-15.7h0m0-.8h0m0 8.6h0m0-.1h0m.1-10.2h0m0-10.1h0m0-48.7h0m0 65h0m.1 12.2h0m0-16.3h0m0 14.2h0m0-35h0m.1-3.7h0m0 41.2h0m.1-28.8h0m0 15h0m0 4.8h0m.1 8.2h0m0-20.1h0m0 1.2h0m0 10.7h0m.1-29.8h0m0 15.8h0m0 19h0m.1-3.6h0m0-16.6h0m0 1.1h0m0 8.8h0m.1-3.8h0m.2 13h0m0-39.5h0m0 28.2h0m0 4.5h0m0 11.9h0m.1 1.2h0m0-26.3h0m0 26.4h0m.1-74.1h0m0 62.7h0m.1-2.7h0m0 12.2h0m0 2h0m.1-2.5h0m.1 1.5h0m0-51.8h0m0 54.4h0m.1-20.6h0m0-7.6h0m0-23h0m.1 52.1h0m0-4.9h0m.1-51.5h0m0 50.3h0m0-25.1h0m.1-29.4h0m0 43.7h0m0-19.1h0m0 36.3h0m0-3.1h0m0-42.3h0m.1 27.2h0m.1-3h0m0 4h0m.3-4h0m0-4.8h0m0 25h0m0-6.8h0m.2-9.7h0m0-21.7h0m.1-1.7h0m0-19.7h0m.2 1.9h0m0 46.6h0m.1-31.8h0m.1-31.5h0m0 54.1h0m.3-6.8h0m0 12.9h0m0-13.9h0m0-5.4h0m.1 14.4h0m0-35.7h0m0 25.5h0m0-15.4h0m0 18.2h0m.1 1.1h0m0-2h0m0-22.5h0m.1 13.7h0m0 13.5h0m0-1h0m0 5.3h0m.1-11.1h0m.1-38.1h0m.1-2.4h0m0 32.3h0m0-41.1h0m.1 16.5h0m0 35.8h0m0-11h0m0 7.7h0m0-5.7h0m.1 17.2h0m0-21.3h0m0 14.2h0m.1-53.2h0m0 61.9h0m0-5.7h0m.1 2.6h0m.2-34.3h0m0 35.3h0m0-13.3h0m.1-17.7h0m0 31.3h0m0 2.9h0m0-1.1h0m.1-45.9h0m.1 46.9h0m0-6.9h0m0 2.8h0m0 .5h0m0-17.3h0m0-4.8h0m.1 10.7h0m0 12.3h0m.1-27.1h0m.1 24.3h0m.1-9h0m0-20.1h0m.1 23.9h0m.1-16.3h0m.1 23.3h0m0-5.3h0m.1-52.1h0m0 48.9h0m0-13.1h0m0-32.3h0m0 20h0m.1 31.5h0m0 5.6h0m0-6.3h0m.1-5h0m0-6.8h0m.1 6.1h0m0 13.2h0m0-20.5h0m.1 13.8h0m.1-37.8h0m.1 33.9h0m0-4.7h0m0-23.1h0m.1 33.2h0m0 5.1h0m0-8.9h0m0-39.3h0m0 21.2h0m0 17h0m.1-8.6h0m.1 10.4h0m0 6h0m.1-9.4h0m0 2.8h0m0-.2h0m.1 9.2h0m0-31h0m.1 1.8h0m0 22.2h0m.1 10.8h0m0-5.5h0m0-16.6h0m0-44.8h0m.1 63.6h0m0 2.3h0m.1-30.9h0m0 30.5h0m.1-18.9h0m0 7.4h0m0-15.4h0m.3 10.8h0m0-51.7h0m0 56.4h0m.1 7.6h0m.1-41.3h0m0-3.4h0m.1 45.1h0m0-7h0m0-23.8h0m.1 18.3h0m0 .5h0m0 11.2h0m0 6.1h0m.1-32.3h0m0 25.2h0m0-4.7h0m0-4.9h0m.2-7.1h0m.1 8h0m.1 16.8h0m0 .1h0m.1-7.6h0m0-35.7h0m0 26h0m0 15h0m0-23.9h0m0 16.2h0m0 6.4h0m.1-28.6h0m0 20.2h0m0-20.9h0m0 9.9h0m0 18.8h0m.1-11.3h0m0 13.8h0m.1-12.2h0m0 8.5h0m.1-13h0m0 .4h0m0 5.2h0m0-3h0m.1-7.9h0m0 19.3h0m.1 2.8h0m.1-123.3h0m0 109.1h0m0-15h0m0 11.6h0m0 10.7h0m.1 4.7h0m0-12.4h0m0 11h0m0-2.7h0m0 3.9h0m.1-1.4h0m0 5.7h0m0-14h0m.1 9h0m.2-.5h0m0 .8h0m.1-12.2h0m0-34.7h0m.1 47.8h0m.1-7.4h0m0-6.7h0m0 7.6h0m.1-26.8h0m0 33.5h0m0-53h0m.1 16.8h0m0 32.7h0m0-13.6h0m0-22.7h0m.1 41.2h0m0-59.5h0m.1-13h0m0 46h0m0 7.9h0m0 9h0m.2 9.9h0m0 1.2h0m.1-2.5h0m.1-40.1h0m0 12.6h0m0 26.7h0m0-29.9h0m.1 27.5h0m0-7.7h0m0 5.7h0m.1-41.8h0m0 33.4h0m.1 11h0m0 3.3h0m.1-18h0m.1 20.7h0m0-30.3h0m.1-32.1h0m0 65.4h0m.1-4.7h0m.1 4.1h0m.2-12.9h0m0-.6h0m.1-7.8h0m0-14.5h0m0 31.3h0m.1-2.3h0m0-22.1h0m.1-13.3h0m0 19.1h0m.1 0h0m0-23.7h0m.1 22.1h0m0-84.3h0m.1 112.6h0m0-19.3h0m.1-16.2h0m0 .9h0m0 14.5h0m.1-2.4h0m.1 17.7h0m0-25.3h0m0 22.4h0m.1 2.8h0m0-.2h0m.1-39.5h0m0 45.6h0m0-6.1h0m0 2.5h0m.1-29.6h0m0-.5h0m.1 26.9h0m.1 .8h0m.1-22.1h0m.1-1.8h0m0 22.1h0m0 .3h0m.1-56.5h0m0 24h0m0 22.8h0m.1-21.2h0m0-11.1h0m0 12.2h0m.1 22.8h0m0 14.6h0m.1-20.3h0m0 16.7h0m0-52.5h0m.1 13.4h0m.1 28.4h0m0 1h0m0-20.7h0m0 25.3h0m.1-28h0m.1-5.3h0m0 17.3h0m.2-19.4h0m0 33.7h0m.1 7.3h0m.1-7.4h0m0-1.8h0m0-15.7h0m0 23.1h0m0-44.1h0m0 47.9h0m.1-13h0m0 6.3h0m.1 8.3h0m0-2.8h0m0-49.5h0m.1 50.6h0m0-30.6h0m.1 15.7h0m0 13.1h0m0-13.4h0m.1-12.3h0m0 27.1h0m.1-5.1h0m0 5.5h0m.2-10.2h0m0 9.5h0m.1-12.7h0m0 5.1h0m0-13.9h0m0-15.5h0m0 33.4h0m.1-2.8h0m0 .3h0m.1-5.8h0m0-115.6h0m0 94.9h0m0-11.4h0m.1 24.7h0m.1 6h0m.1 14.1h0m0-18.1h0m0-5.7h0m0 23.4h0m0-14.4h0m.1 8.3h0m.1-4.9h0m0 11h0m0-9.6h0m.1-42.2h0m0 40.8h0m0-1.2h0m.1-23.4h0m0-2.9h0m.1 28.8h0m0-8.7h0m0-7.5h0m.1-17h0m.2 37.6h0m0-8.2h0m0-24.1h0m0 35.5h0m0-4.6h0m.1-24.2h0m0 13.1h0m0 3.4h0m.1 10.7h0m.1-10.6h0m0-3.7h0m0-1.9h0m.1-2.2h0m0-7.5h0m0-14h0m0 41.2h0m0-20.8h0m.2 20.2h0m.1-25.1h0m0-8.1h0m.1-20.2h0m.1 48h0m0-40.4h0m.1 18.8h0m0 8.1h0m0 6.6h0m0-2h0m.1 12h0m.1-13.3h0m.1-28.9h0m0 3.8h0m.1 32.1h0m0-4.9h0m0 .8h0m.1-4.5h0m0-8.9h0m0-52.2h0m.1 65h0m0-24.2h0m0 26.2h0m0-13.7h0m.1-17.5h0m0 36.3h0m0-22h0m.2 21.4h0m0 .9h0m.1-25.4h0m.1 7.8h0m.1-12.9h0m.1 27.2h0m0 1.1h0m.2-15.3h0m0 11.9h0m.1-2.1h0m0-6.7h0m0-22.5h0m.1 28.7h0m0-7.4h0m.1 2.1h0m0 2.8h0m0 6.9h0m0-14.3h0m.1-.6h0m0-1.1h0m.1 8.7h0m0 6.5h0m0-4h0m.1-10.3h0m.1 14.3h0m0-15.8h0m.2 12.7h0m0-14.4h0m0-13.3h0m.1 24.8h0m0-20.5h0m.1 23.3h0m.1-32.9h0m0-30.9h0m0 52h0m.1 11.5h0m0-23.7h0m0 6.3h0m.1 6h0m0 11.2h0m.1-17.3h0m0-34h0m0 42.3h0m0-1.5h0m0 9.4h0m.1-19.9h0m0 .4h0m0 12.6h0m0-12.3h0m.1 11.8h0m.1-1.9h0m0-27.8h0m.1 19.3h0m0-25.4h0m0 26.7h0m0-21.2h0m0-58.6h0m0 87.2h0m.1-3h0m0-2.1h0m.1-5.8h0m0-5.8h0m0 11.5h0m0 6.8h0m0-59.5h0m.3 34.9h0m.1 18.4h0m0 2.8h0m0-19.9h0m0 5.4h0m0-4h0m.1 16h0m0 7.9h0m.1-19h0m.1-34.7h0m0-14.8h0m0 57.7h0m0 12.2h0m0-29.3h0m.1 7.8h0m0-50.4h0m.1 63.4h0m0-42.3h0m.1 32.8h0m.1-7.9h0m.1 4.4h0m0-28.1h0m.1-27h0m.1 48.9h0" stroke="#9999CC"/>
<polygon points="314.6,415.0 314.0,414.4 314.0,334.4 315.3,334.4 316.3,338.6 317.3,340.1 318.3,338.8 319.3,337.0 320.3,337.4 321.3,341.1 322.3,346.2 323.3,349.6 324.3,349.1 325.3,344.8 326.3,339.2 327.3,334.6 328.3,332.4 329.3,332.5 330.3,334.0 331.3,335.5 332.3,335.9 333.3,334.8 334.3,333.0 335.3,331.4 336.3,330.2 337.3,329.2 338.3,328.0 339.3,327.1 340.3,326.8 341.3,327.4 342.3,328.5 343.3,329.9 344.3,330.7 345.3,330.5 347.5,330.5 347.5,414.4 346.9,415.0" fill="#000080"/>
<path d="M315.2 329.6h0m0-18.1h0m0-67.5h0m.1 78.9h0m0 9.7h0m.1-2.5h0m0-21.5h0m0 12.9h0m0-11.3h0m.1 4.7h0m.1 16.6h0m0-4.7h0m0-8.6h0m.1-4.1h0m.1 9.1h0m0-26.6h0m0 10.7h0m0-10.9h0m0 21.5h0m.1 2.8h0m0-14.5h0m0 20.1h0m.2-16.9h0m0-4.4h0m0 1.4h0m.1-67.1h0m0 78.3h0m0 11.2h0m0 1.7h0m.2-23.9h0m.1 28.3h0m0-18.3h0m0 7.6h0m.1-1.1h0m.1 13.8h0m0-.3h0m0-21.6h0m.1 10.7h0m0-10.7h0m.2-5.8h0m0 19.9h0m0-20.2h0m0 22.6h0m0-4.2h0m0-21.2h0m.1-5.9h0m0 25.9h0m0 9.3h0m0-35.2h0m.1 35.7h0m.1-90.4h0m.1 92.6h0m.1-10.1h0m0 8.1h0m.1 3h0m0-3.3h0m0-58.3h0m0-4.4h0m.1 50.4h0m.1-7.7h0m0-19.6h0m.1-1h0m.1 43.7h0m0-7.1h0m.1-.6h0m.1 3.2h0m0-1.4h0m0-77.5h0m0 71.1h0m.1-93h0m0 98.6h0m.1 5.7h0m0-12.1h0m0 1.4h0m.1 10.5h0m.1-14.4h0m.1 4.5h0m0-19.5h0m.1 25.6h0m.1-9.6h0m.1 1.8h0m0-70.5h0m0 72.9h0m0 7.4h0m.1-7.3h0m0-9.4h0m0 13.4h0m0-15.2h0m.1-17.4h0m.1 4.7h0m0 19.4h0m0 4.9h0m0-4.7h0m0-5.3h0m.1-79.6h0m.1 80.9h0m0-25.3h0m0 28.9h0m0 9.5h0m0-.4h0m0 1.2h0m.2-75h0m0 13.2h0m0 59.4h0m.1-4.1h0m0-36h0m0 42.1h0m0-60.3h0m.2 24.8h0m0 33h0m.1-28.4h0m0-20.1h0m.1 53h0m0-26h0m.1-1.6h0m0-29.2h0m0 54.9h0m.2-19h0m0 18.1h0m0-26.7h0m.1 19.5h0m0-26.6h0m0 26.1h0m0 7.6h0m.1-3h0m0 3.1h0m.1-39.1h0m0 18.1h0m.1 24.1h0m0-52.3h0m.1 49.3h0m0-50.8h0m.1 41.8h0m.1-10.9h0m0 14h0m.1 .5h0m0 3.6h0m.1-48.3h0m0 27.8h0m.1 4.9h0m0 24.3h0m.1-8.1h0m0-12.4h0m.1 19.3h0m0 3.2h0m0-64.7h0m.1 62.7h0m0-17.8h0m0 4h0m0-31.5h0m.1 40.3h0m0-5.4h0m0-28.9h0m.1 41.7h0m.1-1.1h0m0-39.2h0m.1 30.8h0m0-15.4h0m0-51.1h0m0 57.5h0m0 20.5h0m.1-7.2h0m0 .8h0m.1-54.6h0m0 61.6h0m.1-40h0m.1 18h0m0 20.2h0m.1 3.8h0m0-23.5h0m0 4.4h0m0 13.4h0m.1-30.7h0m.1 35.3h0m.1-18.7h0m.1 8.4h0m0-31.2h0m0 43.2h0m.1-3h0m.1-3.8h0m0-3.1h0m.1-8.9h0m0 16h0m.1 1.9h0m.2-19.4h0m0-.5h0m0-42.5h0m.1 63.5h0m0-13.4h0m0 .1h0m0 14.5h0m.1-58.4h0m0 51.4h0m.1 5.4h0m.1-58.2h0m.1 28.7h0m0 17.5h0m0 3.3h0m0-66h0m0 68.6h0m.1 3.9h0m0 .6h0m.2-10.7h0m0 7.6h0m.2-48.3h0m0 42.6h0m.1-3.6h0m0 9.6h0m.2-43.6h0m0 46.7h0m0-35.1h0m0 12.3h0m0 22.7h0m0-19.4h0m.1 5.6h0m0-1.5h0m.1 12.8h0m0-1.6h0m0-60.5h0m0 15.9h0m.1 22.7h0m0 16.2h0m0 3.1h0m.1-30.1h0m.1-24.9h0m.1 47.2h0m0 2.9h0m0-6.2h0m0-12.8h0m.1-47.5h0m0 15h0m0 51.7h0m0-15.2h0m0-37.7h0m0 57.3h0m0-3h0m0-5.1h0m.1-30.7h0m.2 2.6h0m0 9.1h0m0-.1h0m.1-22.7h0m0 42.9h0m.1 8.3h0m0-10.3h0m.1 8.3h0m.1-5.5h0m0 4h0m0-14.6h0m.1-12h0m0 24.2h0m.1-18.7h0m0-7h0m.1 23.2h0m0 2.7h0m0-23.1h0m0-9.3h0m0 25.9h0m.1-5.5h0m0 2.2h0m.1 3.3h0m0-83.7h0m.1 55.8h0m.1-22.5h0m.1 54.6h0m0-31.1h0m0 3.9h0m0-46.3h0m.1 28.8h0m0 46.8h0m.1-14.4h0m.1-5.2h0m0 15.7h0m0-52.7h0m.1 41.8h0m0 .4h0m.2-17.5h0m0 4.1h0m0-18.1h0m.1 8.5h0m.2 25.5h0m0-9.7h0m.1 9.1h0m0-18h0m0 1.6h0m.1 18.7h0m0-7.8h0m0 14h0m.1-3.1h0m0-41.7h0m0 36.8h0m.1-2.2h0m0-55.5h0m0 35.3h0m0-.3h0m0 17.7h0m.1 10.5h0m.1-23.6h0m.1 10.7h0m0-15.7h0m.1 27.1h0m0-2.8h0m0-5.4h0m.1-19.3h0m.1-12.9h0m0 13.6h0m0-10h0m0 37.5h0m0-5.2h0m0-6.5h0m.1 14.2h0m0-6.8h0m.1-6.3h0m0-26.1h0m0 40.1h0m.1-55.2h0m.1 37.5h0m.1-18h0m0 20.7h0m0-5.9h0m0 19.6h0m0-22.4h0m0-35h0m0 55.2h0m0-12.9h0m.1-17.9h0m.1-8.7h0m0 34.3h0m0 3.8h0m.1-30.7h0m.1 26.3h0m0-8.7h0m.1 4.1h0m0 3.8h0m0-48.3h0m0-6.9h0m0 53.1h0m0-1.2h0m.1-35.1h0m0 45.1h0m.1 2.6h0m0-10.7h0m0 13.2h0m0-3.5h0m.2-55.3h0m0 46.7h0m0 10.4h0m.1-1.5h0m0-.4h0m0-11h0m.1 10.7h0m0-5.7h0m0-85.9h0m0 87.3h0m0 2.1h0m.1 6h0m0-3.9h0m.1-84.2h0m0 80h0m0-52.3h0m.1 45.2h0m0 2.1h0m.1 2.5h0m.1-42.8h0m.1 44.5h0m0-4.7h0m.1 14.3h0m0-40.5h0m0 41.9h0m.1-.4h0m0 .8h0m0-9.8h0m.1-.3h0m.2 1.7h0m0-19.1h0m.1 11h0m0 2.2h0m.1-10.5h0m0 25.2h0m0-25.7h0m.1 24.4h0m0-70h0m0 56.4h0m.1-8.6h0m0-2.9h0m0-2.8h0m.1 23.7h0m0-15.6h0m0-15.2h0m0 24.9h0m.1-5h0m0-12.1h0m0 26.5h0m.2-13.6h0m0 15.1h0m0-8h0m.1-11.3h0m0 16.3h0m0-18.2h0m.2-37.8h0m.1 49.2h0m0-11h0m0 3.6h0m0 9.3h0m.1-32.3h0m.1 9.9h0m0 22.6h0m.1-4.1h0m0-6.3h0m0-8.2h0m0 8.1h0m.2 3.9h0m0 9.3h0m0-19.7h0m0-24h0m0 40.1h0m.1 7.8h0m0-29.6h0m.1 28h0m.1-.2h0m0-17.4h0m0 18.6h0m.1-12h0m0 1.5h0m0-58.1h0m.1 65.3h0m.1-22.2h0m.1 20.1h0m0-11.7h0m.1 15.8h0m.2-1.6h0m0-3.4h0m0-2h0m0 5.7h0m.1-29.5h0m0-28h0m.1 37.4h0m.1 16.6h0m.1-39.8h0m0 27.8h0m0 11h0m0-15.4h0m0-7.4h0m.1 27.3h0m0-13.9h0m.1 13.3h0m0-49.2h0m0 40.1h0m.1-1.7h0m0 8.3h0m0 1.5h0m.1-8.8h0m0 3.7h0m.1-13.3h0m0-5.6h0m.1-2.7h0m.1-10.2h0m0 36h0m.1-17.9h0m0-8.6h0m.1 12.9h0m0-40.4h0m0-14.5h0m0 29h0m0-8.3h0m.1 45.3h0m0 1.9h0m.1-1.9h0m0-2.1h0m0 2.3h0m.1-27.2h0m0 26.4h0m.1-14.5h0m0 .8h0m.1 11.3h0m.1-4.4h0m0 6.8h0m.1-32.8h0m0 8.1h0m0 7.5h0m0 9.5h0m.1 1.9h0m0-7.9h0m0 7.9h0m0-68.4h0m.1 65.5h0m0 4.6h0m.1-53.4h0m0 1.7h0m.1 36.8h0m0-28.8h0m.1 36.8h0m0-6.7h0m0 2.1h0m0 2.2h0m.1-38.3h0m.1 1.6h0m.1 15.6h0m0 37.6h0m.1-23.8h0m0 14.9h0m.1-29h0m0 5.1h0m0 23.9h0m.1-6.7h0m0-12.8h0m0-29h0m.1 42h0m0-7.4h0m.1 11h0m0-9.1h0m.1 1.7h0m0-12.8h0m0 29.8h0m.1-.6h0m0-69.4h0m0 71h0m.1-8.2h0m0 6.9h0m.1-13.4h0m0-2h0m0 2.7h0m0-7h0m0 1.3h0m0 6.2h0m0-10.6h0m.1 5.9h0m0 10.2h0m0 2.7h0m0-13.6h0m.1 14.9h0m.1-25.5h0m0 19.1h0m0-51.4h0m0 48.7h0m.1 8h0m0-39.9h0m.1 34.4h0m0 10.7h0m0-5.7h0m.1 1.9h0m0-6.3h0m0-.1h0m0-48.2h0m.1 51.4h0m.1 2.9h0m0-12.7h0m0 16.3h0m0-2.6h0m.3 .3h0m0-3h0m0-21h0m0-14.7h0m.1-35.9h0m0 39.8h0m0 21.8h0m0-4h0m0-5.3h0m.1 2.9h0m0-10.1h0m0 12.5h0m0 13.7h0m0-5.3h0m.1 10h0m0-18h0m.1-15.1h0m0 31h0m0-7.9h0m.1 1h0m0-18.8h0m.1-16.5h0m.3-15.1h0m0 49.4h0m0 9.2h0m0-55.3h0m.1 54.5h0m0-2.4h0m.1-10.1h0m0-14.1h0m0 18.2h0m0-89.8h0m0 96.4h0m0 2.2h0m.1-37.5h0m.1-7.8h0m.1 14.3h0m0-44.9h0m0 54.3h0m.2 10.1h0m0-22.4h0m.1 18.3h0m.2 4.3h0m.1 6h0m0 7.4h0m.2-3.6h0m.1-44.4h0m0 11.1h0m0 11.9h0m0-1.2h0m0 3.3h0m.1-5.3h0m.1 16.8h0m0 .8h0m.1-5.2h0m.1 14.9h0m.1-19.9h0m0 13.8h0m0-34.7h0m0 37.3h0m0-9.3h0m.1 10.8h0m0-.8h0m.2-53.3h0m0 31.3h0m.1-13.5h0m0 32.3h0m0-19.2h0m0 21.3h0m0-19.7h0m.1 8h0m.1-16.6h0m.1-18.5h0m0 41.3h0m.1-79.8h0m.2 44.6h0m0 32.7h0m.1-10.4h0m0-3.5h0m.1-7.2h0m.1 28.5h0m0-4.4h0m0 7.7h0m0 .3h0m0-14.1h0m0-.4h0m0 12.7h0m.1 2.8h0m.1-12.9h0m0 12.2h0m.1-42.4h0m.2 34.3h0m0 11.6h0m0-43.7h0m.1 42.4h0m0-39.9h0m.1 20.7h0m0 20.8h0m.1-87h0m0 86h0m0-6.8h0m0-4.3h0m.1-11.1h0m0 13.3h0m0-34h0m.1 43.6h0m0-21.5h0m0 21.7h0m.1-3.9h0m0-.3h0m0 1.9h0m0-3.4h0m.1-22.3h0m0 21.4h0m.1-2h0m0 9.8h0m0-8.8h0m0 4.1h0m.1-19.3h0m0 13.2h0m0-7.8h0m0 10h0m.1-33.9h0m0 33.3h0m.1-21.1h0m.1-5.2h0m0 0h0m0 21.8h0m.1-26.1h0m0 37.1h0m0-13.2h0m0 10.7h0m0-.3h0m.1 5.1h0m0-18.2h0m.1 2.6h0m.2-20.7h0m0-1.1h0m.1 36h0m0 1.4h0m.1-6.7h0m0-1.1h0m0-59.2h0m0 62.4h0m.1-17.6h0m0 3.2h0m0-8h0m0-29.9h0m.1-.9h0m0 51.4h0m0 1.5h0m.1-.7h0m.1 1h0m0-38.5h0m0-24.1h0m0 41.6h0m.1 14.8h0m.1 4.3h0" stroke="#000080"/>
<polygon points="348.1,415.0 347.5,414.4 347.5,333.8 348.8,333.8 349.8,333.0 350.8,332.1 351.8,331.0 352.8,331.2 353.8,333.0 354.8,336.1 355.8,339.0 356.8,341.0 357.8,342.4 358.8,343.7 359.8,344.7 360.8,344.9 361.8,343.8 362.8,341.8 363.8,339.9 364.8,338.6 365.8,338.0 366.8,337.9 367.8,338.2 368.8,338.0 369.8,336.1 370.8,332.4 371.8,328.2 372.8,325.8 373.8,326.1 374.8,328.7 375.8,332.3 376.8,335.9 377.8,338.5 378.8,339.6 380.1,339.6 380.1,414.4 379.5,415.0" fill="#9999CC"/>
<path d="M348.7 310h0m0-2.1h0m.1-25.3h0m0 27.8h0m0-20.8h0m0 26.4h0m0-3h0m.1-20.4h0m0 7.1h0m.1 12.8h0m.1 19.1h0m0-30h0m.1-16.4h0m0 12.1h0m0 2.1h0m0 30.8h0m.1-11.9h0m0-37.8h0m0 9.3h0m0 42h0m.1-27.4h0m0 18.3h0m0-17h0m.1 25.8h0m.1-7.4h0m0 1.1h0m.1-.9h0m0-1.5h0m.3-38.7h0m0-.7h0m0 46.5h0m.1-3.9h0m0 5.7h0m0-9.5h0m.1-.2h0m0-63h0m0 68.9h0m0-24.8h0m0 5.9h0m0-35.1h0m0 52.5h0m0-.6h0m.1-22.3h0m0 17.6h0m.1-6.4h0m0-20.1h0m.1 35.4h0m0-21.5h0m0-14.9h0m.1 7.6h0m0 11.7h0m0 14.9h0m0-.5h0m0-57.6h0m.1 46.2h0m0 .5h0m0-13.1h0m.1 6h0m.1 10.7h0m0-11.2h0m0 21.4h0m0-3h0m.1-19.4h0m0-11h0m.1 5.9h0m0 8.6h0m0-34.7h0m0 28.5h0m.1-16.8h0m0-21h0m0 25.4h0m0 20.9h0m0 1.7h0m.1-12.4h0m0 10.9h0m0 7.2h0m0 2h0m0-9.3h0m.1 10.9h0m0-9.3h0m0 5.7h0m0-44h0m.1 53.3h0m0-17.3h0m.1 11.1h0m0-34.4h0m0 23.8h0m.1-3.5h0m.1 7.5h0m.1 10.3h0m0-6.7h0m.1-47.8h0m0 52.3h0m.1-8.2h0m0 .3h0m.2 5.1h0m.2-.6h0m0-61.3h0m.1 66.2h0m0 .2h0m0-6.6h0m.1-9.7h0m0-24.7h0m0-14h0m.1 3.2h0m0 42.2h0m0-25.7h0m.1-13h0m0 39.9h0m0 11h0m.2-7.9h0m.1 5.5h0m0-15.2h0m0-10.9h0m0-8.6h0m.1 19.9h0m.1 17h0m0-44.8h0m.1 35.3h0m.1 7.1h0m.1-34.2h0m0-1.8h0m0 21.2h0m.1 4.4h0m0-5.2h0m0-4h0m0 20.1h0m0-3.1h0m.1-8h0m0 2.4h0m0-27.2h0m0 30.7h0m.1-25.6h0m0 29.2h0m0-19.4h0m.1 6.9h0m.1 8.8h0m.1-48.2h0m.1 50.3h0m0 8.4h0m0-42.7h0m.1 26.3h0m0-3.1h0m0-10.7h0m.2-4.6h0m0 29.3h0m.1-18.2h0m0 5.6h0m.2-2.3h0m0 13.7h0m0-20.1h0m0 25.4h0m0-65.1h0m0 61.5h0m.1-33.7h0m0 24.6h0m0-23.6h0m.1 31.7h0m0-1.8h0m.1-4.6h0m.1 9h0m0-23.2h0m0-24.3h0m.2 30.2h0m.1 15h0m.1-8.9h0m.1-21.8h0m0 24.8h0m.1-77.1h0m.2 76.5h0m.1-2.7h0m0 13.3h0m0 1h0m.1-6.9h0m.1-1.6h0m.1-30.1h0m0 42.4h0m0-48.1h0m0 46.9h0m.1 3.5h0m0-.5h0m0-5.9h0m0 .3h0m0-9.5h0m.1-57.1h0m.1 73.9h0m0-41.9h0m.1 37.7h0m0-4.3h0m0 7.2h0m.1-14.8h0m0-15.8h0m.1 25.6h0m0 .5h0m0 2h0m0-22h0m.1-11h0m.1 30.2h0m.1-.7h0m0 8h0m0-4.2h0m.1-9.5h0m0-.7h0m.1-5.4h0m0 14.5h0m0-24.8h0m.1 19.5h0m0-2.2h0m.1-55.4h0m0-15.2h0m.1 58.4h0m0-6.2h0m0 25.8h0m.1 2.6h0m0-31.5h0m0 29h0m0-1h0m.2-2.3h0m.1-13.2h0m0-13.6h0m.2 13.6h0m0-31.6h0m0 45.2h0m.1 5.8h0m.1-4.8h0m0-17.8h0m.1 17.6h0m.1-12.7h0m0-52.9h0m0 69.2h0m.1 2.2h0m.1-48.6h0m0 21.6h0m0-7.6h0m0 21.2h0m0-3.9h0m0 10.9h0m.1 10.3h0m0-1.2h0m0-.6h0m.1-5.7h0m.2-31.1h0m.1 15.5h0m0-1.8h0m.1-16.8h0m0-50.3h0m.1 86.2h0m0-12.4h0m.1-8.6h0m0-77.7h0m0 75.6h0m0 21.6h0m0-67.5h0m.1 38.5h0m0 26.8h0m0-6.4h0m.1 3.8h0m0 8.5h0m.1-7.8h0m.1 11h0m0-11.2h0m0-3.1h0m0 5.2h0m.1-27.3h0m0 11.2h0m.1 9.8h0m.1 16.9h0m0-46.6h0m0 31.7h0m.2 5.6h0m0 4.2h0m0-21h0m.1-23.1h0m.1 47.7h0m.2-9.8h0m0-2.2h0m0-5.1h0m.1-27.5h0m.1 7.1h0m0 38h0m.1-67.5h0m.1 54h0m0-5.9h0m.1 .3h0m0-4.6h0m0 21.9h0m0-14h0m0 14.8h0m.2-54.4h0m0-3.5h0m0 33.4h0m.1 16.4h0m.1 3.2h0m0 1.7h0m.1-2.3h0m.1-16.5h0m0 15.1h0m.1-34.3h0m.1 29.5h0m0 10.9h0m.1-48.8h0m.1 47h0m0-1.9h0m0-1.3h0m.1-68.2h0m.1 68.4h0m0-16h0m.1-16.1h0m0 28.3h0m.1-38.3h0m.1 20.8h0m0 12.1h0m.1 11.5h0m0-23.2h0m0 7.5h0m.1 17.1h0m0-96.4h0m0 90.8h0m0-14.6h0m0 20.2h0m.1-4.1h0m0-39.6h0m0 26.8h0m0-18.2h0m.2 5.5h0m.1 8.1h0m0 3.8h0m0 8h0m.1-2.7h0m0-4.7h0m0 13h0m0-3.3h0m0-5.2h0m.2-33.2h0m0-3.2h0m.1 20h0m.1 12.2h0m0-15.7h0m0 25.1h0m0-7.7h0m0-3.1h0m.1-26.9h0m0 38.9h0m.1-19.6h0m0 15.2h0m0 6.9h0m0-21.1h0m0 5.8h0m.1 .4h0m0 16.1h0m0-11.1h0m0-45.2h0m.1 56.6h0m0-46h0m0 34.5h0m0 3.3h0m.1-.7h0m0-44.6h0m0-5.5h0m.1 56.2h0m0-27h0m.2 22.8h0m0-9.2h0m.2 3.7h0m.1 6h0m0-14.5h0m.1 18.5h0m0-32.8h0m.1 30.7h0m0-36.7h0m0 10.1h0m.1 22.2h0m0 7.9h0m0-3.5h0m0-6.1h0m.3-1.2h0m.1-6.5h0m0 10.3h0m0 7.1h0m.1-12.3h0m0-25.7h0m0 36.2h0m.1-43.3h0m0-65.2h0m.1 83.4h0m.1-8.7h0m0 32.1h0m0-55.8h0m.1 51h0m.1-6.8h0m0 1h0m0-18.1h0m0-10.6h0m.1 30.2h0m0-9.6h0m.2 16.7h0m.1 .3h0m0-44.8h0m.2 38.7h0m0-.4h0m0-28.5h0m.1 23.7h0m0 11.2h0m0-34.7h0m0 20.2h0m.2 11.7h0m0 .8h0m0-1.8h0m0 .7h0m0-47.5h0m.1-21.9h0m.1 78.2h0m0-25h0m.1-61.6h0m0 73.6h0m0-8.4h0m0 20.6h0m0-.8h0m.1-37.7h0m0 16.2h0m.1-26.4h0m.1 14.6h0m0-10.5h0m0 19.8h0m0 20h0m.1-17.3h0m0 4.8h0m.1-1.5h0m0 8.4h0m.1-7.6h0m0-.4h0m0 14.6h0m.1-1.1h0m.1-25h0m0 .2h0m0 7.1h0m0-11.2h0m0-26.3h0m.1 21.4h0m.1 34h0m0-7h0m0 5.3h0m.1 .2h0m0-68.6h0m.3 71.1h0m0-9.3h0m0 8.8h0m.1-17.8h0m0 12.5h0m0-4.5h0m.1 10.2h0m.1 .4h0m.1-15.8h0m.1 17.8h0m.1-62.9h0m.1 55.3h0m.1-5.7h0m0-14.4h0m0 22.8h0m.1-25.5h0m0-60h0m0 27.6h0m.1 3.4h0m0 56.2h0m0-22.3h0m0-2.2h0m0 24.3h0m.1 1.6h0m0-5.6h0m.1-10.6h0m0 3.7h0m0 6.1h0m0-55.5h0m.1 38.9h0m0 19.3h0m0-4.7h0m.1 1h0m0-83.1h0m0 78h0m.1 6.6h0m0-42.4h0m.1 8.8h0m0 1.3h0m0 30.5h0m.2-4.1h0m0 2.7h0m0 3.6h0m.1 2.1h0m.1-23.5h0m0-35.5h0m.1 55.5h0m0-9.1h0m.1 11.2h0m.1-8.7h0m.1-31.6h0m0 39.7h0m.1-55.9h0m0 45.6h0m0 5.7h0m.1-15.8h0m0 19.2h0m0-6h0m.1-71.5h0m0 24.6h0m0 38h0m0 8.1h0m.2 6h0m0-1.8h0m.3-59.3h0m0 45.9h0m.1 7.4h0m0-10.3h0m0 5.3h0m0 3h0m0-29.4h0m.1 4.4h0m0 34.3h0m0-30.8h0m.1 26.5h0m0-34.2h0m0-18.5h0m.1-36.9h0m0 53.5h0m.1-30.9h0m.3 21.7h0m0 21.6h0m0 21.7h0m.1-40h0m.1 16.2h0m0 24.9h0m0 .9h0m0-1.9h0m0-62.8h0m.1 43.3h0m0 22.6h0m.1-39.2h0m0 35.9h0m.1-32.1h0m0 5.6h0m0 .6h0m.1 25.3h0m.1-1.4h0m.1 .1h0m0 8.3h0m0-13.7h0m.1 6h0m0-.4h0m0 6.2h0m.1 1.2h0m0-31.5h0m.1 20h0m0 4.3h0m0-24.1h0m.1 .5h0m.2 26.8h0m.1 1h0m0-2.8h0m0-1.5h0m0-9.8h0m.1 3.5h0m0-7.4h0m0 4h0m.1 1.4h0m0 13.7h0m0-17.7h0m0 17h0m0-2.4h0m.2 2.5h0m0-3.1h0m.1 1.8h0m.1-3.5h0m0 6.8h0m0-14.2h0m0 17.9h0m.1-7.7h0m.1 2.2h0m.2-42.5h0m0 26.6h0m.1 24.8h0m0-15.5h0m0 4.8h0m.1 9.8h0m0-31.6h0m.1 24.4h0m0-26.8h0m.1 34.3h0m.1-55.2h0m0 33.5h0m0 20.9h0m0 2.8h0m0-74.4h0m0 54h0m.1-37.6h0m0 41.2h0m.1-3.9h0m.1 21h0m0-35.5h0m0 26.1h0m.2-6.5h0m0-16.4h0m.1-75.4h0m.1 72.6h0m0 22.9h0m.1 14.8h0m0-20.1h0m0 15.5h0m.1-39.7h0m0 37.6h0m0 3.5h0m.1-36h0m0 34.6h0m0-10.4h0m.1 13.8h0m0 2.6h0m0-2h0m.1-4.4h0m0 4.9h0m0-36.2h0m0 11.9h0m0 20.7h0m.1-15.6h0m.1 15.9h0m.1-4.2h0m.1-24.4h0m.1 12.4h0m0-38.1h0m0 32.1h0m.1-6.8h0m.1-6.3h0m0 33.3h0m.1 6h0m.3-10.3h0m0 12h0m.1-4.9h0m0-27.6h0m0 17.7h0m.1-16.4h0m0 32.4h0m0-24.2h0m0 16.8h0m.1-14.2h0" stroke="#9999CC"/>
<polygon points="380.7,415.0 380.1,414.4 380.1,344.7 381.4,344.7 382.4,344.5 383.4,344.5 384.4,344.8 385.4,344.6 386.4,343.2 387.4,341.0 388.4,339.5 389.4,339.6 391.5,339.6 391.5,414.4 390.9,415.0" fill="#000080"/><polygon points="396.6,415.0 396.0,414.4 396.0,354.5 397.3,354.5 398.3,343.3 399.3,332.5 400.3,330.5 401.3,328.2 402.3,326.1 403.3,324.9 404.3,324.7 405.3,325.2 406.3,325.8 407.3,326.6 408.3,328.3 409.3,331.3 410.3,334.3 412.3,334.3 412.3,414.4 411.7,415.0" fill="#000080"/>
<path d="M381.3 315.4h0m.1 16.7h0m0 2.4h0m.1 9.3h0m0-12.2h0m.1-97.3h0m0 96h0m.1-7.2h0m0 12.4h0m.1-18.4h0m0 24.1h0m0 1.8h0m0 .8h0m.1-17.9h0m.1-23.9h0m0-13.3h0m.1 34h0m.1-36h0m0 .6h0m0 56.5h0m.1-1.1h0m0-38.5h0m0 34.7h0m.1 4.6h0m0-34.1h0m0 26.9h0m0-38.3h0m.1 19.2h0m0 6.1h0m.1 15.9h0m0-48.4h0m.1 33h0m0-5.8h0m0 17.1h0m0 7.8h0m.1 .5h0m.1-34.7h0m.1 24.4h0m0-5.1h0m.1-36.8h0m0 15.6h0m0 12.7h0m.1 13.4h0m0-3.7h0m0-20.9h0m0 30.4h0m0-2.8h0m0-42.2h0m.1 34.3h0m0 15.6h0m.1-55h0m.1-41.8h0m0 92.9h0m0-17.6h0m.1 8.6h0m0-34.3h0m0 43.6h0m0-34.5h0m.1 30.8h0m.1-68.2h0m.2 57h0m0 13.8h0m0 2.3h0m0-3.2h0m0-5.2h0m.1-8.9h0m0 19.1h0m.2-11.3h0m0 6.4h0m0-39.7h0m0 37.2h0m0-23.2h0m0-11h0m.1 27.8h0m0 9.8h0m0-3.4h0m.1-1.9h0m0-6.4h0m0 6.3h0m.1-.1h0m0 8.3h0m0-1.1h0m0-1.3h0m0-14.8h0m0-56.9h0m.1 72.6h0m0-67.3h0m0 42.7h0m0-8.2h0m0 16.5h0m0-6.6h0m0 22.9h0m.1-2.3h0m0 2.8h0m0-14.8h0m0-12h0m.1 12.4h0m.1 1.6h0m.1 14.1h0m0-4.5h0m0-27.7h0m0-25.2h0m.1-.5h0m0 55.5h0m.1 1.6h0m.1-28.9h0m0-19.9h0m.1 39.1h0m0 2.9h0m0 4.9h0m.1-25.1h0m0-28.2h0m0 46.6h0m0 10.3h0m.1-6.6h0m0-75.6h0m0 60.3h0m0 5.6h0m.1-22.1h0m.1 29h0m0 9.6h0m0-61.8h0m.1 40.5h0m0 2.2h0m0 14.5h0m.1-36.5h0m0 21.6h0m.1-5.4h0m0 15.3h0m0-24.3h0m0 4.3h0m.1 9.5h0m.2 14.6h0m0-30.6h0m.1 31.4h0m.1 .6h0m0-41h0m.1 43.2h0m0-1.1h0m0-21.4h0m0 9.2h0m0 11.9h0m.1-29.2h0m0-6.4h0m0-13.9h0m0 40h0m.1 1.4h0m0-87.2h0m.1 92.7h0m0-2.5h0m0-8.1h0m.1 7.4h0m0-53.5h0m0 59h0m.2-.4h0m0-40h0m0 38h0m.1-4.1h0m0-95.2h0m0 85.8h0m0 1.7h0m.1-28h0m0 14h0m.1-10.6h0m0 24.6h0m0-1h0m.1 7.7h0m0-33.5h0m.1 17.3h0m0-7h0m0 15.1h0m.1 7.1h0m0-4.1h0m.1-3.5h0m0 13.1h0m0-3.1h0m.1 1.6h0m0-17.1h0m0 12.6h0m.1-8.4h0m0 7.4h0m0 1.1h0m.1-.5h0m0-9.3h0m.1 16.5h0m0-6.6h0m.1-14.1h0m0 14.1h0m0-53.9h0m.1 47.2h0m0-42.8h0m0 50.2h0m.1 5.3h0m0-71.6h0m0 58.8h0m0 2.4h0m.1 9.2h0m0-25.2h0m0-25.4h0m.1 12.6h0m0 32.4h0m.2-3.6h0m.1-2.5h0m0-16.3h0m.2 27h0m0-12.9h0m0-3.5h0m.1 20.3h0m0-3.1h0m0-7.6h0m0-31.9h0m0 42.9h0m0-1.7h0m.1-11.1h0m0 11.3h0m.1-9.5h0m.1 9.5h0m0-7.2h0m0-11.4h0m0 13.5h0m0-3.9h0m0-55.5h0m0 52.3h0m.1 9.8h0m.2 4.7h0m0-23.8h0m0 19.7h0m.1-16.2h0m0 16.3h0m.1-11.7h0m0-32h0m.1 21.4h0m6.8-60.8h0m.1 77.4h0m0 6.1h0m.1 12.3h0m0 3.8h0m.1-44.6h0m0 43.4h0m0-15.2h0m0 16.1h0m0-10.7h0m.1 2h0m0-5.6h0m0-32.8h0m0 6.2h0m.1 24.8h0m0 3h0m.1 1.9h0m.3 3.3h0m0-25.8h0m.1 7.1h0m0 8.4h0m0-33.1h0m0 9h0m.1 1.7h0m.1 20.5h0m0-86.8h0m0 91.6h0m.1-16.1h0m0 19.1h0m0-19.1h0m.1 12.8h0m0 2.8h0m0-.4h0m.1-.8h0m0-78.9h0m.1 55.7h0m.1-.3h0m0 19.2h0m.1-28.7h0m.1 25h0m0 4.6h0m0-19h0m.1 0h0m0 18.5h0m.1-37.9h0m.1 34.2h0m0-26.5h0m0 0h0m0-22.9h0m.1 15.2h0m0 14.8h0m.1 19.4h0m0 1.4h0m0-.4h0m0-12h0m0-9.6h0m.1 22.8h0m0-11.7h0m.1 6.3h0m0-13h0m0-5.9h0m0 8.6h0m.1 3.9h0m0 3h0m0-6.9h0m0 16.7h0m.1-10.3h0m.1-12.3h0m0-68.4h0m0 78.3h0m.1-2.7h0m.1-18.1h0m.1 18.4h0m.2-45.4h0m0 24.9h0m.1 22.5h0m0-31.5h0m.1 38.4h0m.1-42.6h0m0 33.5h0m0-26h0m.1-9.3h0m.2 42.6h0m0-4h0m.1-27h0m.1 19.5h0m0-28.6h0m0 29.8h0m.1 12.8h0m0-34.2h0m0 7h0m.1-12.7h0m0 20.8h0m0 18.9h0m.1-17.9h0m0 7.1h0m0-8.8h0m0-49.5h0m.1 69h0m0-3.9h0m.2 5h0m0-30.5h0m0 29h0m0-53.4h0m.1 36.6h0m0 11.6h0m.1-31.5h0m0 17.1h0m.1 1.8h0m0 6.2h0m0-11h0m0 12.4h0m.1 11.5h0m.2-3.9h0m0-7.7h0m.1-3.3h0m0-15.8h0m.1 28.4h0m0-18h0m0-21.2h0m0 38.3h0m0-2.9h0m.1-.2h0m0-4.7h0m0 1.5h0m0 7.8h0m.1-19.3h0m0 17.5h0m0-17.1h0m.1 10.7h0m0-47.8h0m0 52.4h0m0 3.8h0m.1-7.5h0m0 2.3h0m.1-12h0m0 17.1h0m0-67.3h0m.1 50h0m0 15.2h0m.1-.8h0m0 2.7h0m0-4.3h0m.1-2.2h0m0-6.5h0m0 5.7h0m.1-16.2h0m0 13.1h0m.1-27.3h0m0 10.2h0m0 20.3h0m.1-3.5h0m.2-73.9h0m0 52.2h0m0 29.2h0m0-30.7h0m.1 5.7h0m0 23.5h0m.1 .1h0m0-84.4h0m.1 82.6h0m0 6h0m0-5.4h0m.1-8.3h0m.1-22.2h0m0 20h0m.1 3.5h0m0 9.4h0m0-2.3h0m.1 .7h0m0-1.7h0m0-53.6h0m0 51.2h0m0 5.5h0m.1-4.2h0m.1 2.1h0m.1-27.3h0m0-23.7h0m.2 39.6h0m0 15.2h0m0-47.1h0m0 32.6h0m0 9.8h0m.1 2.1h0m0-23.1h0m0 18.9h0m.1-33.5h0m.1-36.3h0m0 54.4h0m.1 17.8h0m.1-13.5h0m.1-55.7h0m0 69.8h0m0-31.9h0m.1 33.2h0m0 5.6h0m0-5.5h0m0 2.8h0m.1-1.1h0m0-45.6h0m0 30.7h0m0-9.7h0m.1 5.9h0m0 8.1h0m0 1h0m0 8.7h0m0-1.6h0m0-8.1h0m0-35.7h0m.2 36.9h0m0-28.7h0m0 11.1h0m.1 21.5h0m.1 3.3h0m0-1.5h0m.1-6.7h0m0-33.7h0m.2 33.6h0m0 12.2h0m0-1.6h0m0 3.5h0m.1 .5h0m0-15.8h0m.1 6.5h0m0 1.9h0m.1-22.1h0m0 24.6h0m.1 4.6h0m0-11.6h0m0 .2h0m.1-6.3h0m0 13.4h0m0-9.1h0m0-2.2h0m0-9.1h0m0 21.6h0m.1-5.5h0m0 1.1h0m0-21.5h0m0 16.1h0m.1-65.5h0m0 59.9h0m0 19.2h0m.1-8.8h0m0-5.4h0m.1 13.3h0m.1 .8h0m0-42.3h0m0 11.1h0m0 28.9h0m.1-4.1h0m0-14.7h0m0 22h0m.1-31.2h0m0 19.4h0m0-53.9h0m.1 59.8h0m.1 6.4h0m.1-15.6h0m0 12.4h0m0-4.7h0m.1-11.6h0m0 20.7h0m0-31.3h0m.1 15.8h0m0 13.6h0m0-49.7h0m.1 17h0m0 28.7h0m0-26.6h0m.2 19h0m.1 4.2h0m0 1.7h0m0 0h0m.1-16.3h0m.1 7.6h0m0-20.9h0m0 36.3h0m.1-5.3h0m0 5.7h0m.1-47h0m0 15.6h0m0 27.5h0m0 7.1h0m.1-32.3h0m0 30.2h0m0-7.1h0m.1 9.7h0m0-6.4h0m0-7.4h0m.1-2.7h0m0-8.5h0m0 21.2h0m0-30.7h0m.1 28.6h0m.1-46.5h0m0 52.6h0m0-19.8h0m0 14.1h0m.2-29.7h0m0-26.2h0m.1-13.2h0m.1 76.2h0m0-23.5h0m0 23.9h0m.1-10.7h0m0-27.9h0m0 29.8h0m.1-27.9h0m0 11.2h0m0 24.4h0m.1-12.6h0m0-33h0m0-23.6h0m0 59.8h0m.1 1.5h0m.1-34.9h0m0-3.8h0m0 5.6h0m.2 14h0m0 2.3h0m0 17.1h0m.1-20.6h0" stroke="#000080"/>
<polygon points="412.9,415.0 412.3,414.4 412.3,331.4 413.6,331.4 414.6,332.8 415.6,332.6 416.6,330.0 417.6,325.4 418.6,320.6 419.6,316.9 420.6,315.0 421.6,315.1 422.6,317.3 423.6,321.3 424.6,325.8 425.6,329.3 426.6,330.4 427.6,329.1 428.6,326.1 429.6,323.1 430.6,321.6 431.6,321.6 432.6,322.7 433.6,324.0 434.6,324.7 435.6,325.4 436.6,327.1 437.6,330.5 438.6,334.2 439.6,336.2 441.5,336.2 441.5,414.4 440.9,415.0" fill="#9999CC"/>
<path d="M413.5 323.3h0m.1 4h0m0-20.2h0m0 2.8h0m0-3.7h0m.1-38.9h0m0 63.1h0m.1-2.5h0m.1 2.6h0m0-22.5h0m.2-11.7h0m0 2.3h0m.2-13.5h0m0 28.7h0m0-5.2h0m0 6.7h0m0-8.4h0m.1 23.8h0m.1-9.4h0m.1-11.9h0m0 14.3h0m0-17.4h0m.1 14.3h0m.2 6.6h0m0-31.7h0m0-7.5h0m.1 43.7h0m0-20.6h0m.1-39.9h0m.1 55.2h0m0-49.6h0m.1 48h0m.2 6.4h0m0-48.8h0m.1 24.3h0m0 14.5h0m.1-3.1h0m0 2.2h0m.1 7.9h0m0 1.4h0m0-.9h0m0-14.3h0m.1 0h0m0 16.7h0m0-10.5h0m0-4.2h0m0-10.8h0m.1 16.4h0m0-.2h0m0-33.4h0m.2 37h0m0-16h0m0-3.9h0m.1-40.9h0m0 28.8h0m.1 9.5h0m.1 4.4h0m0 22.3h0m0-10.7h0m0 1.6h0m.1-1.5h0m0 2.1h0m.1 6.3h0m0 1.6h0m0-2h0m0 1h0m0-2.4h0m.1 2.7h0m0-10.9h0m0 7.9h0m.1-25.2h0m.1 25.5h0m.1-12.1h0m0-5.7h0m0 17.5h0m0-47.4h0m.1 42.9h0m0-.3h0m0-29.6h0m.2-1.4h0m.1 32.9h0m.1 2.3h0m0-.2h0m0 .7h0m0-15.1h0m.1-5.2h0m0-5.5h0m.1 23.9h0m0-13.1h0m.1 11.6h0m0 .1h0m0 .5h0m.1-39.3h0m0 33.7h0m0 .1h0m0 .5h0m.1-8.8h0m0-.2h0m.1-10h0m0 14.5h0m0-10.3h0m.1 11.4h0m0-9.8h0m0 8.2h0m0-6h0m.1-5.4h0m0 19.1h0m0-23.3h0m0 7.3h0m0-22.9h0m0 24.8h0m0-2.4h0m.1-6.8h0m0 21.8h0m.1-45.7h0m0 33.2h0m0 7.6h0m.2-49.9h0m.1 6.9h0m0 24.5h0m0 10.7h0m.1 2.7h0m.1-32.2h0m0 27.2h0m.1-10.6h0m0-18.7h0m0 36h0m0-41h0m.1 39.9h0m0-28h0m.1-9.4h0m0 3.9h0m0 25.9h0m0 14.9h0m.1-12.1h0m0 .7h0m.1-37.3h0m0 48.8h0m0-12h0m0-10.3h0m.2-4.2h0m0 12.6h0m0-27.1h0m0 34.6h0m0-18.1h0m.1 11.7h0m0-9h0m0 16.7h0m0 4.4h0m0-34.1h0m.1-5.7h0m0 3.1h0m.1 20.1h0m0 15.4h0m0-1.2h0m.1-14.3h0m.1-20.4h0m0 4.1h0m0 30.9h0m0-8.5h0m0-21.8h0m.1 11.6h0m0 15.3h0m.2 3.8h0m0-3.5h0m0-22.5h0m0 9.2h0m.1 16.7h0m.1-29h0m0 12.4h0m.1-43.6h0m0 48.5h0m0 7.1h0m0-8.7h0m.1 3.3h0m.1-47.5h0m0 14.9h0m0 23.8h0m0-5.3h0m0 .6h0m.1-7.3h0m0 21.2h0m.1-8.2h0m0 4h0m0-21.8h0m.1-40h0m0-1.5h0m0 72.1h0m0 2h0m.1-1.7h0m0-72.7h0m0 59.5h0m.1-35.6h0m0 31.8h0m.1 6.4h0m0 8.1h0m.1-18.8h0m.1 12h0m0-12.9h0m.1-12.1h0m0 35.8h0m0-23.4h0m.1 20.1h0m0-20.3h0m0 12.4h0m.1-24.8h0m.1 28.4h0m0-4.2h0m0-13.4h0m0 21.1h0m0-8.2h0m.1 11.8h0m0-6.2h0m0-1.3h0m0 11.1h0m.2-6.3h0m0-4.7h0m0-39.6h0m0 52h0m0-1.8h0m.1-62.5h0m.1 61.1h0m0-2h0m0-5.4h0m0-7.4h0m.2 15.4h0m0 1.9h0m0-9.4h0m0-48.8h0m0 56.8h0m.1 3.2h0m.1-26.5h0m0 19.7h0m.1-12.8h0m0 19.1h0m.1 .4h0m.1-2.2h0m0-17.5h0m.1 9.7h0m0-1h0m.1-12.7h0m0 24.1h0m0-8.4h0m0 6.9h0m0-23.6h0m0 2.9h0m0 23.4h0m0-5.9h0m0 4.6h0m.1-20.2h0m0 18.5h0m0 1.1h0m0-20.2h0m.1 19.8h0m0-1.1h0m0-22.9h0m0-1.3h0m0 27.9h0m0-4.7h0m.1-57.4h0m0 60.2h0m0-22h0m.2 7.4h0m0-19.5h0m0-33.8h0m0 45.8h0m0 22.3h0m.1-42.1h0m.1 24.9h0m0 9.8h0m0-4.8h0m.1-16.4h0m.1 6.7h0m0 15.4h0m.1 2.2h0m0 12.1h0m.1-72.3h0m0 52.7h0m0 6.4h0m.1-1.1h0m0 14.4h0m0-16.2h0m0 8.8h0m.1-38.7h0m.2 47.9h0m0-19.9h0m0 16.6h0m.1-28.4h0m.1-6.7h0m0 16.3h0m.1 8.3h0m0-2.1h0m.2-3.7h0m0 14.9h0m0-32.2h0m.1 5.4h0m0 12h0m0 5.3h0m0-11.5h0m0-12.7h0m.1 38.8h0m0-58h0m0 57.2h0m0-13.2h0m0-3h0m.2-5.1h0m0 17.7h0m0-6.6h0m0-8h0m.2-55.5h0m0 46.1h0m0-6.4h0m.1 37h0m0-4.8h0m0-17h0m.1 6.9h0m0-38.6h0m0 45.8h0m0 0h0m.1 1.8h0m.2 2.6h0m0 1.3h0m.1-1h0m0-4.7h0m0-29.9h0m0 23.3h0m0 12.5h0m.1 .7h0m0-5.4h0m.1 .1h0m0 6.7h0m.1-9.9h0m.1-19.6h0m0 18.7h0m0 7.7h0m0-18.8h0m.1 7.3h0m.2-1.8h0m0 8.3h0m0-75.8h0m0 72.5h0m.1-13h0m0-23.4h0m0 42h0m0-25.7h0m.1 25.8h0m0-8h0m0-3.1h0m.1-19.6h0m.1 13.5h0m0 5.6h0m0 12h0m.1-14.3h0m.1 .1h0m.1-3.3h0m0-25.5h0m.1 44.4h0m0-3.9h0m0-24.4h0m.1 23.4h0m.2-50.9h0m.1 42.8h0m0-29.4h0m.1 38.3h0m.1-16.9h0m.1 17.4h0m0-19.5h0m0-19.1h0m.1 29.5h0m.1 5h0m0-.6h0m0 .3h0m0-1.9h0m0 .2h0m.1 4.5h0m0-30.6h0m0 14.9h0m.1-9h0m0 19.8h0m0 3h0m0-25.2h0m0-40.4h0m.1 55.1h0m0-24.2h0m.1 29.6h0m0 5.4h0m.1-1.8h0m0-19.6h0m.1-8.6h0m0 32.8h0m0 .5h0m.2-9.1h0m0-2.3h0m.1-12h0m0 9.5h0m.1-14.6h0m0 25.6h0m0-7.8h0m.2-40.4h0m0 40.6h0m.1 9.5h0m0-29.7h0m.1 26h0m.1 2.7h0m0-13.8h0m.1-36.7h0m.1 33.7h0m0 12.3h0m0 .2h0m.1-17.8h0m.1 10.6h0m0 10.2h0m.1-43.1h0m0 37.4h0m.1-3.8h0m.1-1.9h0m0 13.5h0m.1-10.2h0m0 .1h0m0 8.1h0m0-23.8h0m.2-38.6h0m0 46h0m0-2.8h0m0-5.7h0m.1-11.4h0m0 38.6h0m0-18.7h0m.1 16.8h0m0-36.4h0m.1 33.9h0m0-19.9h0m0-36.4h0m.1 51.2h0m0 5.1h0m.1-9.5h0m0 14h0m0-17.3h0m0-10.7h0m.1 23.4h0m0-20.7h0m0 25.6h0m.1-1.7h0m0-25.1h0m.2 7.2h0m0 3h0m.1 8.1h0m0-6h0m.2-8.2h0m0 3.8h0m0-12.3h0m.1 18.6h0m0 .9h0m0-24h0m.1 34.2h0m0 .1h0m0-9.1h0m0-58.1h0m.1 67h0m0-6.8h0m0-25.4h0m0 17.9h0m0 8.9h0m0-45.7h0m.2-5.4h0m.1 55.4h0m0 2.4h0m.1-19.9h0m0 17.7h0m0-1.6h0m.1-14.8h0m0-9.9h0m0 23.6h0m0-2.5h0m.1-11.6h0m.1 17.4h0m0-14.3h0m.1-13.4h0m0 26.4h0m.1-53.7h0m0-1.7h0m0 54.5h0m.1-22.2h0m.1 7.1h0m0-7.9h0m0 11.4h0m.1 18.2h0m0-.8h0m0-10.5h0m0 11.5h0m.1-55.1h0m0 27.7h0m0-5.3h0m0 17.1h0m0-63h0m.1 69.1h0m.2-8.7h0m.1-16.6h0m0-16.6h0m0 42.8h0m.3-43.6h0m.1 49.3h0m0-15h0m.1 13.3h0m.1-25.9h0m.1 29.7h0m.1-52h0m0 35.5h0m0 11.5h0m0-50h0m.1 21.6h0m0 23.3h0m.1 5h0m0-14.5h0m.1 16.7h0m0-8h0m.1-6.5h0m0 8.8h0m0 .9h0m.1 1.6h0m0 3.6h0m0-7.6h0m0 7.9h0m.1-19.2h0m0-13.4h0m0 19.8h0m.1 8.3h0m.1 5.8h0m0-40h0m.1 20.9h0m.1 19.9h0m0-49.7h0m.1 25.1h0m0 11.3h0m0-3.5h0m.1-11.5h0m0 23.5h0m.1-24.7h0m0 3.3h0m.1 4.2h0m0 12.8h0m0 11.4h0m.1-68.2h0m0 12.3h0m0 26.1h0m0 11.2h0m.1 6.6h0m.2 12.5h0m0-12.8h0m0 13.9h0m.1-26.1h0m.1 28.3h0m0-10.2h0m.1 5.4h0m0-3.1h0m.1-4.9h0m0 13.4h0m0-46.1h0m.2 33.7h0m0-5.6h0m.1 3.8h0m0-11.5h0m.1 13h0m0 10.1h0m0-32.2h0m0 25.6h0m.1-46.2h0m0 55.4h0m0-76.3h0m0 47.4h0m0-29.9h0m.1 43.4h0m0-34.5h0m0-11.9h0m0 32.1h0m0-25.9h0m0 9.8h0m0-7.1h0m.1 3.7h0m0 53.3h0m0-49.4h0m.1-18.8h0m.2 60.9h0m0-48h0m.1 47.8h0m.1 7.9h0m0-22.2h0m0 16h0m0-19.6h0m.1 16.6h0m.1-5.2h0m0 11.3h0m0-.5h0m.1-31.7h0m0 35.9h0m0-.7h0m0-14.7h0m.1 3.8h0m.1-8.9h0m.1-1.4h0m0-.8h0m.1 5.7h0m0-16.5h0m0-5.2h0m.1 23.5h0m0 12.6h0m.1-9.6h0m0-24.5h0m0 26.8h0m0 9.4h0m.1-1.1h0m0-101.2h0m0 99.4h0m0 2.5h0m.1-10.9h0m.1-20.4h0m0 26.1h0m0-12.1h0m.1 18.2h0" stroke="#9999CC"/>
<polygon points="442.1,415.0 441.5,414.4 441.5,313.1 442.8,313.1 443.8,307.6 444.8,309.1 445.8,312.1 446.8,314.4 447.8,316.1 448.8,326.3 449.8,328.3 450.8,326.8 451.8,324.5 452.8,328.9 453.8,327.2 454.8,325.4 455.8,323.2 456.8,317.4 457.8,318.6 458.8,320.2 459.8,321.8 460.8,323.4 461.8,325.1 462.8,325.9 463.8,325.3 464.8,323.3 465.8,321.1 466.8,319.1 467.8,317.3 468.8,316.5 469.8,317.2 471.5,317.2 471.5,414.4 470.9,415.0" fill="#000080"/>
<path d="M442.7 287.9h0m0 21.6h0m0-21.6h0m.1 12.4h0m0 8.9h0m.1-31.8h0m.1-4.6h0m0 32.5h0m0-6.9h0m0-22.7h0m0 19.9h0m.1 2h0m0-28.8h0m0 41.9h0m0-24.8h0m.1-32.9h0m.1 47.6h0m0 10h0m0-8.2h0m0-8.6h0m0 8h0m0-43.5h0m.1 51.2h0m.1-15.9h0m.1 .2h0m.1-3.5h0m0-30.6h0m0 34.3h0m.1-57.6h0m0 61.9h0m.1 6h0m.1-15.9h0m0 6.4h0m0-5.8h0m0 4.5h0m0-2.2h0m.1 7.7h0m0-5.2h0m0-3.7h0m.2-18.1h0m0 19.1h0m.1-7.7h0m.1 14h0m0-1h0m0 8.1h0m.1 .3h0m.1-8h0m.1 5.8h0m.1-2.5h0m0-55.8h0m0 51h0m.2 12.8h0m0-13.6h0m.1-.9h0m0 15.4h0m.1-33.4h0m0 24.4h0m0 2.9h0m.1 0h0m0-13.3h0m0-28.8h0m.1 14.2h0m.2 18.9h0m0-8.5h0m0 15.2h0m.1-4.4h0m.1 12.3h0m0-9.7h0m0-42.9h0m0 49.5h0m0-19.2h0m0-43.1h0m.1 42.6h0m0 13.2h0m0-7.4h0m.1 14.4h0m0-13.7h0m.1 19.2h0m0-1h0m0-.6h0m.1 .3h0m0-6.4h0m0-12.7h0m0 6.6h0m0 8.1h0m0 .9h0m.1-24.5h0m0 28.4h0m0-24.9h0m0-29.1h0m0 1.9h0m.1 47.6h0m0-30.8h0m0 36.3h0m0-.8h0m.1-10h0m0 5.5h0m0 2.2h0m0-9.9h0m.1 10.8h0m0 .9h0m.1 2.3h0m.1-9.3h0m0-2.6h0m0-4.9h0m0 12.9h0m.1-2.6h0m0-3.7h0m0-21.3h0m.1 28.3h0m0-49.2h0m.1 50.2h0m0-8.9h0m0 9.9h0m.1-5.4h0m.1 3.3h0m0 4.1h0m.1-5.9h0m0-.1h0m.2-10.5h0m0 15h0m0-4.7h0m.2-38.5h0m0 14.7h0m0 20h0m0 9.4h0m0-5.4h0m.2-34.3h0m0 25.7h0m0-56.5h0m0 51.8h0m.1 10.4h0m0-22.3h0m.1 11.6h0m0 15.3h0m0 1.9h0m0-4h0m.1 5.4h0m0 3.3h0m0-57.7h0m0 33h0m.1 29.4h0m.2-22.7h0m0 20.1h0m0-5.9h0m0-29.9h0m.1 .8h0m0 32.7h0m.1-1.1h0m0 9.1h0m0-20.1h0m.1 9.6h0m0-28.3h0m.2 25h0m0 2.3h0m0 5.6h0m0-.2h0m0 8.7h0m0-6.1h0m.1-52.4h0m0 58.8h0m.1-5h0m.1-4.9h0m0-16h0m0 26h0m0-5.4h0m0-9.1h0m.1 5.8h0m0 8.2h0m0 2h0m0-2.5h0m.1-34.7h0m.1 36.1h0m0-7.8h0m0-3.1h0m.1 3.3h0m0-.5h0m.1-22.5h0m0 2h0m.1-13.3h0m0-6.7h0m0 45.7h0m0-2.8h0m0-6.3h0m.1-16.2h0m0 11.3h0m0-41h0m.1-5.2h0m0 37.1h0m.1 20.2h0m0-2.3h0m0-15.5h0m.2 8.8h0m0 12.3h0m.1-2.8h0m0-17.9h0m0-73.5h0m0 25h0m.1 50.8h0m0 3.4h0m.1-1.5h0m0 12.1h0m0 .7h0m0-7.4h0m.2-52.3h0m0 36.4h0m.1-11.6h0m.1 32.6h0m0-3.3h0m.1-57.3h0m0 30.3h0m.1 19.6h0m0-1.5h0m0 10.1h0m.1-32.4h0m0 37.4h0m0 3.3h0m.1-56.8h0m.1 38.9h0m0-14.3h0m0 23.3h0m0-42.7h0m0 49.1h0m.1-2.8h0m0 2.4h0m0-19.6h0m.1 5.6h0m0-70.7h0m0 83.2h0m0-26.5h0m0-27.3h0m0 32.9h0m0 3h0m.1 14.8h0m0-1.9h0m.2 6h0m.1-6.3h0m0-30.3h0m0 34.6h0m0-10.7h0m0-5.5h0m.2 21.4h0m0-34.3h0m.1 .7h0m0-2.4h0m.1 39.2h0m0-1.7h0m0-9.3h0m.2 5.7h0m0-4.4h0m0 6.5h0m.1-29.2h0m0 17.1h0m0 .8h0m.1 3h0m0-7.3h0m0 4h0m0-20.6h0m.1-43.5h0m0 63.6h0m0 7h0m0 1.1h0m0-21h0m.1-14.2h0m0 15.8h0m0 17.4h0m0 5.5h0m0-6.2h0m0 9.6h0m.1-74.9h0m0 59.3h0m.1-21h0m.2 20.4h0m0 11.4h0m.1-5.9h0m0-4.9h0m0 12.5h0m.2-14h0m0-53.6h0m.1 62.1h0m0-6.3h0m0-17.9h0m0 4.3h0m.1 13.6h0m0-8.6h0m0-5.5h0m.2-22.2h0m0 16.7h0m0 21.2h0m.1-57.1h0m0 68.3h0m.2-5.5h0m0-21.1h0m0 24h0m0-8.9h0m0-5.4h0m.1 6.2h0m0-4.1h0m.1-27h0m0 24.5h0m.1 14.9h0m.1-4h0m0-16.7h0m0 2.5h0m.2 17.3h0m0-67.1h0m0 56.2h0m0-5.4h0m0 11.9h0m.1 4.7h0m0-6h0m0-26.1h0m.1 26.7h0m.1 5.2h0m0-49.1h0m0 41.7h0m.2 6.4h0m0-12.3h0m0 11.4h0m0-15.8h0m0 17.4h0m.1-58.1h0m0 36.8h0m0-21.4h0m.1-53.7h0m.1 39.5h0m0 43.1h0m0-10.5h0m.1 17.9h0m.1-21.6h0m0-7.8h0m0 23.1h0m0 4.3h0m0-5.2h0m.1-24.8h0m0 33.7h0m.1-72.8h0m0 71.9h0m0 .1h0m.1-5.1h0m0-10.8h0m0 1.6h0m.1-14.7h0m0 15h0m.1-7.3h0m0 15.4h0m.1-41h0m0-4.3h0m0 35.8h0m.1-6h0m0 12h0m0 9h0m0-45.9h0m.2 41.1h0m.1-5.7h0m.2-3.6h0m0-10.7h0m0 24.7h0m0-16.4h0m.1-1.2h0m.1 9.1h0m0-9.7h0m.1 18h0m.2-18.2h0m0 0h0m0 14.4h0m.1 4.2h0m0-7.6h0m.1-17.9h0m0-27.3h0m.1 42.2h0m0 9.8h0m.1-10.3h0m.1-14.3h0m0 24h0m.1-8.4h0m.1-24.3h0m0 23.7h0m0-11.3h0m0 11.2h0m0 1.8h0m0-1.5h0m.1 12.9h0m0-25.3h0m0 19.3h0m.1-4h0m0-44.2h0m0 28.9h0m0 15.7h0m.1 9.8h0m0-17.8h0m0-7.8h0m.1 25.9h0m.1-14.1h0m0 14.5h0m0-5.3h0m.1-12.7h0m0-59.3h0m0 66.6h0m.1 11.4h0m0-6.6h0m0-54.5h0m0-22.1h0m.1 78.7h0m0-38.7h0m0 4.8h0m.1 35.7h0m0-39.8h0m0 43h0m.1-1.9h0m0-73.2h0m0 49h0m.1 9.7h0m0-3.3h0m0-7.8h0m0 12.9h0m0-27.9h0m.1 30.8h0m.1-4.1h0m0-2.9h0m0 16.6h0m.1-2.1h0m0 1.4h0m.1-5.1h0m.1-57.7h0m.1 39.1h0m0 11.2h0m.1-37.8h0m0 34.6h0m.1 7.3h0m0-11.1h0m.1 11.3h0m0-20h0m.1 26.2h0m.1-38.4h0m0 44.5h0m.1-2.6h0m0-14h0m0-21h0m.1 8.9h0m0 18.4h0m0-8h0m0-58.6h0m0 70.5h0m.1-43h0m0 49.5h0m0-7.6h0m.1 5.2h0m0-6.6h0m.1-7.7h0m0 16.5h0m0-11.4h0m.1-8.5h0m.1-7.2h0m0-24.6h0m0 51.9h0m.1-50.4h0m0 52.2h0m0-9.1h0m.1-27.5h0m0 33.7h0m.1-1h0m0 4.3h0m.1-17.6h0m0-19.2h0m0-38.9h0m.1 57.9h0m0 6.5h0m0 .9h0m0-15.2h0m.1-1.5h0m0 24.4h0m.1 3.5h0m.1-24h0m.2 23h0m.1-21.9h0m.2 8.1h0m0-4.2h0m.1-35.1h0m.1 40.5h0m0-16.7h0m0-36.2h0m0 39.7h0m0-5h0m0 18.7h0m.1-14.9h0m0-10.7h0m0 38.3h0m0-7.3h0m0 5.4h0m0-24.3h0m.1 22h0m0 1.4h0m0 2.6h0m.1-4.1h0m.1-63.6h0m.1 47.7h0m0 16.4h0m0-25.3h0m.1-17.7h0m.1-8h0m0 54.7h0m0-8.3h0m.2-23.3h0m0-36.4h0m0 26.1h0m0 6.2h0m0 31.8h0m0-10.4h0m.1-1.5h0m.1 15.1h0m0-18.1h0m.1 11.1h0m0 7.3h0m0-26.1h0m.1 8.8h0m0-6.4h0m.1 15.4h0m.1-80.3h0m0 78.3h0m0-1.9h0m0 7.6h0m.2-1.4h0m0 .8h0m0-2.7h0m.1 6h0m0-29.6h0m.1 10.7h0m0 16.9h0m0 .6h0m0-7.6h0m0-3.1h0m.1-23.8h0m.1-49.6h0m0 82.6h0m0-75.1h0m.1 64.1h0m0-1.6h0m.1-50h0m0 64.2h0m.1-16.3h0m0 12.4h0m.1-18.7h0m.1 3.3h0m0 16.6h0m0-6.5h0m0 6.6h0m.2-1.1h0m.1-20.3h0m0 10.4h0m.1-34.5h0m0 19.3h0m0 27.6h0m0-50.7h0m0 46.2h0m.4 .9h0m.1-5.8h0m0-1.3h0m.1-54.8h0m0 37.8h0m0 13.4h0m.1-4.7h0m.1 15.7h0m.1-15h0m0 3.6h0m0 12.4h0m0-27h0m.1 5h0m0 21h0m.1-80.7h0m0 53h0m.1 20.5h0m0 1.7h0m.1-3.7h0m0 9.3h0m0-11.7h0m.1 4.3h0m0 6.3h0m0-24h0m0 12.6h0m0-11.7h0m0 24.2h0m0-12.7h0m0-26h0m.1 23.7h0m0-34.8h0m0 39.8h0m.1-79.9h0m0 64.8h0m0-12.3h0m0 34.6h0m.1 0h0m.2 .5h0m0-13.2h0m0-19.2h0m.1 19.4h0m.1 4.5h0m0 7.3h0m0-24.2h0m0 22.3h0m.1 1.3h0m0-12.5h0m.1 8.3h0m0-.3h0m0 3.9h0m.1-3.4h0m.1-2.2h0m0-28.9h0m0 12.4h0m.1 13.5h0m.1-3.9h0m.1 .9h0m0-17.4h0m.1 23.1h0m.1-32.4h0m0 33.6h0m0-22.5h0m.1-11.7h0m0 24.9h0m.1-.8h0m0-10.5h0m0 5.2h0m0 22.2h0m.1-15.6h0m0-10.6h0m0 17.6h0m.1-1.8h0m0-8.6h0m0 15.6h0m0 3.8h0m.1-39.6h0m0 13.4h0m0 20.9h0m.1 4h0m.1-16.8h0m.1-32.5h0m0 52.9h0m0-11.9h0m.1 4.9h0m0-.4h0m0 6.6h0m.1-.9h0m0-24.9h0m.1 19.5h0m0-15.8h0m.1 3.1h0m0 12h0" stroke="#000080"/>
<polygon points="472.1,415.0 471.5,414.4 471.5,335.1 472.8,335.1 473.8,333.1 474.8,331.0 475.8,329.7 476.8,329.8 477.8,330.7 478.8,331.7 479.8,331.7 480.8,331.0 481.8,330.6 482.8,331.1 483.8,332.2 484.8,333.7 485.8,335.2 486.8,337.0 487.8,339.2 488.8,341.9 489.8,344.1 490.8,344.6 491.8,342.9 492.8,339.6 493.8,336.2 494.8,334.2 495.8,334.3 496.8,336.4 497.8,339.7 498.8,342.7 499.8,344.5 500.8,344.1 501.8,341.5 502.8,337.9 504.4,337.9 504.4,414.4 503.8,415.0" fill="#9999CC"/>
<path d="M472.7 319.1h0m.1-26.3h0m0-1.8h0m0-1.5h0m.1 38h0m0-23.5h0m0-4.4h0m.3 27.2h0m0 5.1h0m0-48.4h0m0 44.5h0m0 3.4h0m.1-16.2h0m0-3.2h0m0 19h0m.1-10.5h0m0 1.5h0m0-10.2h0m.1 2.4h0m0-22.9h0m0 29h0m.1-25.9h0m.1-1.8h0m0 36.9h0m0-9.5h0m.1-2.2h0m0-68.4h0m.2 70h0m0-10h0m0 13.2h0m.1-13.6h0m0 9.8h0m.1 10h0m0-96.3h0m0 56.6h0m.1 38.1h0m0-6.1h0m0-11.1h0m.1 20.6h0m0-25.6h0m0 5.6h0m0 10.9h0m.1-17.7h0m0 22.2h0m0-28.2h0m.1 16.6h0m.1 9.4h0m0-1.9h0m0 6.2h0m.2-8.4h0m0 .8h0m0-5.4h0m0-5.7h0m.1-39.2h0m.1 50.5h0m0 8.6h0m0-70.1h0m.1 66.9h0m.1-13.9h0m.1 9.6h0m.1-6.2h0m.1 11.2h0m0-18.7h0m.1-15.9h0m.3 31.3h0m0-2.7h0m0-31.3h0m0 18.3h0m0-6.2h0m0-3.4h0m.1-62.3h0m0 63h0m0-12.8h0m.2 14.2h0m0 7.1h0m0-24.2h0m0 44.1h0m0-18.7h0m0 6.1h0m0 9.8h0m.1-8.2h0m0-6.1h0m.1-1.3h0m0-28h0m.1 32.2h0m0 10.2h0m.1 5.5h0m.1-39h0m.1 5.7h0m.1 15.4h0m0-11.6h0m.2 20.9h0m0-3.4h0m.2-5h0m0-8.4h0m0 18.1h0m.1-2.5h0m.1-7.9h0m.1 14.6h0m.2-30.3h0m.1-23.7h0m.1 14h0m0 41.3h0m.1-100.3h0m0 60.3h0m0 31.5h0m0-7.2h0m.1 9.6h0m.1 8.1h0m0 1.4h0m.1-31.1h0m0 27.3h0m0-23.9h0m0 20.4h0m0-18.1h0m.1-13.5h0m0 37.4h0m0-4.1h0m.1-6.9h0m0-29h0m0 40.7h0m.1-17h0m.1 15.7h0m0-2.1h0m0-16.9h0m.1 16.8h0m.1-9.1h0m.1-23h0m0 10.5h0m0-2.5h0m0 17.1h0m0-37h0m.1 35.8h0m0-21.7h0m0 8.1h0m.1 16.8h0m0-1.6h0m.1-3.9h0m.1 .9h0m.1-3.7h0m0-45h0m0-22.2h0m.1 77h0m.1-36h0m.1-.4h0m.1 35.1h0m.1-2.9h0m0-5.8h0m0 13.6h0m0-16.4h0m0-38.4h0m.1 32.7h0m0 14.8h0m0 10.6h0m.2-8.5h0m.1-16.9h0m.1 14.7h0m.1-28.6h0m0-13.1h0m0 11.6h0m0 26.9h0m.1 4h0m0-12.4h0m.1-57.2h0m0 67.2h0m0-31.3h0m0 31.9h0m.1-31.8h0m0 18.6h0m0 12.6h0m.1-25.3h0m0 26.8h0m0 7.6h0m0-1.8h0m.1 4.7h0m0-11h0m0-38.3h0m0 44.3h0m0-12.7h0m.1 1.3h0m.1 15.7h0m0-59.7h0m0 2.5h0m0 51.7h0m.1-38h0m0 20.8h0m0 7.2h0m.1 .6h0m.1 13h0m.1-32.3h0m0 25.3h0m.1 6.2h0m.1-13h0m.1 13.2h0m0-.4h0m.1 2.3h0m0 2.1h0m.1-.2h0m0-48.4h0m0-36.5h0m0 72.9h0m.1-7.7h0m0 14.4h0m.1-7h0m0-16.6h0m0-40.6h0m0 59h0m.1 10.9h0m0-3.9h0m0-39.4h0m.3 34.9h0m0-2.3h0m0-37.2h0m0 19.4h0m.1 21.8h0m0-51.6h0m0 20.6h0m.1 22.5h0m0-8.9h0m0-1h0m0 8h0m.1 4.7h0m.1-9.3h0m.2 19.1h0m0 3.5h0m0-1.9h0m0-34.7h0m.1 15.3h0m.1 5.5h0m0-46.4h0m.1 52.5h0m0-6.5h0m.1-13.8h0m0 29.6h0m.1-27.7h0m0 24.5h0m.1 2.4h0m.1-8.6h0m0-.1h0m.1 10.1h0m.1-2.2h0m0-9.1h0m.2 .5h0m0 10.7h0m0-20.2h0m.1 9.3h0m0-15.5h0m0 21.7h0m.1-1.9h0m0-9.9h0m.1 14.1h0m0-.7h0m.1-1.6h0m0-.7h0m0-16h0m.1 10h0m0-27.5h0m0 36.9h0m0-28.6h0m0 23.2h0m0 6.9h0m0-.3h0m.1-16.9h0m.1-10.1h0m0 20.6h0m0-4.8h0m.1-46.3h0m0 44.3h0m0-1h0m.1-.4h0m.1-4.1h0m.1 9.7h0m0-4.1h0m0 5.2h0m.2-3.6h0m0 15h0m.1-86.8h0m0 49.5h0m.1 27h0m.1 5.5h0m.1 3h0m.1-8.2h0m0-25.3h0m0 23.5h0m.1 4.5h0m0 .7h0m.1-22.2h0m0 13.8h0m0 15.7h0m0-8.9h0m.1-2.8h0m0-9.3h0m0-20.9h0m0 41.8h0m0-21.2h0m.1 10.7h0m0-33.8h0m0 19.2h0m.2-27.5h0m0 54.3h0m0-17.7h0m0 .2h0m.1-6.9h0m0-37.4h0m0 57.5h0m.1 .1h0m.1-30.2h0m.1-5h0m.1 35.7h0m.1-61.7h0m0 42.4h0m0 22.1h0m.1-8.6h0m0 7h0m0-20.5h0m0 9.8h0m0 1.6h0m.3 9.7h0m.1-5.2h0m0-13.5h0m.1 17.1h0m0-8.7h0m0-5.9h0m.1 7.4h0m0-7.6h0m0 6.6h0m0 11.7h0m.1-23.4h0m0-18.7h0m0 35.3h0m0 1.4h0m.1 7.5h0m.1-56.2h0m0 50.3h0m.1-1.8h0m.1-15.1h0m0 23.6h0m0-26.7h0m.1-10h0m.1-12.1h0m.1 47.2h0m.1-12.2h0m0 3.5h0m0-2.2h0m0 13.5h0m.1-15.7h0m.2 16.7h0m0-42.7h0m0 23.4h0m0 14.8h0m.1-22.4h0m0 17.4h0m.1-20.3h0m0 23.5h0m.1 .2h0m0-20.1h0m0 25.6h0m.1-29.3h0m0 29.9h0m0 2.1h0m.1-.5h0m.1-9.8h0m0 5.7h0m.1-12.8h0m0 6.9h0m.1 11h0m0-27h0m0 21.1h0m0 3.3h0m.1-30.2h0m.1 28.5h0m0-5.2h0m0 6.3h0m0-13.4h0m.1 14.1h0m0-29h0m0 18.4h0m.1-2.9h0m0-11.4h0m0-4h0m0 8.3h0m0 16.4h0m.1 1.8h0m0-29.5h0m0 25.4h0m0 5.3h0m.1-9.8h0m.1 8.5h0m0 3.5h0m0-3.2h0m0-25.2h0m0 14.9h0m.1-6.7h0m0-6.5h0m0 20.6h0m0-50h0m.1 56.9h0m.1-24h0m0 14.3h0m.1 5.2h0m0-47h0m.1 41.6h0m.1-7.1h0m0 14.3h0m0-15.2h0m0 15.1h0m.1-25.4h0m0 20.8h0m0 4.4h0m0-27.6h0m.1 28.2h0m0-2.2h0m0-2.8h0m.1-2.3h0m.1-17h0m.1 10.6h0m0-17.7h0m0 21.6h0m0-21.2h0m.1 8.4h0m0-11.8h0m0 30.1h0m0-20.5h0m.1-24.7h0m0 3.8h0m0 41.8h0m.1 2h0m0-.6h0m0-17.2h0m.1-35.7h0m0 54.3h0m0 .8h0m0-.5h0m0-.3h0m.1-12h0m0-93.9h0m0 88.1h0m.1 7.2h0m0-1.1h0m0 10.8h0m0-2h0m.1-21.6h0m.1 21h0m0 2.3h0m0-13.1h0m0-5.3h0m.1-19h0m0 29.2h0m.1-43.9h0m0 37.5h0m0 2.1h0m0 1.1h0m.1-3.5h0m0 10.6h0m0-1h0m0-18.2h0m.1 9.5h0m0 11.6h0m.1-36.2h0m0 29.4h0m0 5.1h0m0-15.7h0m.1-3.5h0m0-4.7h0m0 26.1h0m.1-25.5h0m0 1.9h0m0-75.9h0m0 97.2h0m0-46.1h0m0-2.1h0m.1 47.9h0m0-18.8h0m0 19.9h0m0-21.2h0m0 20.5h0m.1-8.6h0m0-18.6h0m.1 22.3h0m0-46.9h0m.1 52.5h0m0-59.5h0m.1 50.5h0m0 8.5h0m0-21.8h0m0 8.5h0m.1 5.4h0m0-13.2h0m0 18.1h0m0-55.9h0m0 52.2h0m.2-8.4h0m0-3.1h0m0-50.4h0m0 60.7h0m.1-17.2h0m.1 16.7h0m.1-21.7h0m0 5.3h0m.1 14.3h0m.1 2.6h0m.1-6.2h0m0 8.1h0m.1-6.9h0m.1-56.6h0m0 64.4h0m0 1.4h0m0-7.6h0m.1 1.8h0m0 3.5h0m0-13.4h0m.1 4.5h0m0 10.6h0m0-18.3h0m0-23.3h0m0 19.1h0m.1-15.7h0m0 14.5h0m.1 17.6h0m0-3.3h0m.1-17.6h0m0-7.6h0m0 31.3h0m.2-46.7h0m0 13.9h0m0 3.1h0m.1 23.6h0m0-23.5h0m0 24.6h0m.1 7.2h0m0 .9h0m0-5.5h0m.1 9.1h0m.1-88.6h0m0 50.4h0m.2 10.4h0m.2 21.9h0m0-26.2h0m.1 10.7h0m.1 20.7h0m0-85.8h0m0 55.8h0m.2 30.7h0m.1-13.7h0m0-39.3h0m.1 35.9h0m0 19.1h0m0-71.6h0m0 12.7h0m.1 56.1h0m0-1.9h0m0-2.4h0m0-23.2h0m.1-20.8h0m0 21.6h0m.1 22.7h0m.1 4.3h0m0-30.8h0m0 30h0m.1 .4h0m0 2.3h0m0-13.5h0m.1-7.9h0m.1 16.6h0m0-10.3h0m.1 16.1h0m0-28.2h0m0 24.3h0m0 2.6h0m0-23.2h0m0 21.3h0m0-51.2h0m.1 47.9h0m.1-.8h0m0 1.2h0m.1-4.2h0m0 8.4h0m.1-10h0m0 10.1h0m0-21.5h0m0-6.4h0m0 29h0m.1-14.5h0m.1 13.5h0m0-30.3h0m0 36.4h0m.1-22h0m0-1.7h0m0 4.3h0m.1 17.1h0m0 3.9h0m.1-7.5h0m0-42.6h0m0 2.5h0m0 12.4h0m.1-3.3h0m0 38.7h0m0-29.9h0m0 30h0m0-18.3h0m.1-32.8h0m0 19h0m.1-2.7h0m0 9h0m0-17.4h0m.1 43.4h0m0-4.2h0m0-.1h0m0-29.2h0m.1 31.2h0m.1-50.1h0m0 35.4h0m.1 15.8h0m0-9.2h0m0 10.6h0m.2-2h0m0-5h0m0 6.2h0m0-16.3h0m.1 9.5h0m0 2.3h0m0-8.5h0m0-9.1h0m0-9.9h0m.1 1.4h0m0 23.2h0m.1 1.3h0m0-16.5h0m0 11.6h0m0 6.7h0m.1-32.3h0m.1 3.9h0m0 14.6h0m0 7.2h0m.1-5.5h0m.1 9.8h0m.1-30.4h0m0 29.8h0m0-22.3h0m.1 12.8h0m.1 17.4h0m0-9.6h0m.1 6.7h0m0-34.8h0m0 26.9h0m0-39.4h0m.1 28h0m.1-24.6h0m0 41.8h0m.1-34.5h0m0 35.1h0m0 3.2h0m.1-11.7h0m0-18.5h0m.1 26.1h0m0-4.4h0m0-13.7h0m.1 12.5h0m0-72.9h0m.1 77.9h0m0-49.1h0m0 36.6h0m0 9h0m.1-3.5h0m.1-39.5h0m.1 39.9h0m.1 5.1h0m0-14.3h0m0-17.4h0m0 32.7h0m.1-.7h0m0-18h0m0-4.9h0m0-11.7h0m.1 19.8h0m.1 3.1h0m0-2.6h0m0 2.6h0m.1-34h0m0 38.8h0m0 6.1h0m.1-3.5h0m0-12.2h0m0-7.7h0m.1 26.1h0m0-10.9h0m.1 8.7h0m.1-27.5h0m0 8.8h0m.2 19.4h0m.1-18.1h0" stroke="#9999CC"/>
<polygon points="506.8,415.0 506.2,414.4 506.2,324.5 507.5,324.5 508.5,324.0 509.5,323.2 510.5,322.2 511.5,321.1 512.5,320.6 513.5,329.1 514.5,339.2 515.5,342.5 516.5,344.6 517.5,344.5 518.5,342.1 519.5,338.4 520.5,334.8 521.5,330.5 522.5,330.0 523.5,335.8 524.5,342.3 525.5,346.0 526.5,345.9 528.7,345.9 528.7,414.4 528.1,415.0" fill="#000080"/>
<path d="M507.4 296.8h0m.1-20.9h0m0 37.2h0m0-5.1h0m0-39.4h0m0 42.9h0m0 11.2h0m0 0h0m0-2.9h0m.1-33.3h0m0 15.3h0m0 2h0m.1-41.3h0m0 26.7h0m0 29.2h0m0-76.8h0m.1 69.8h0m0 3.8h0m0 1.1h0m0-14.1h0m.1-7.2h0m.1 22.8h0m0-.3h0m0 5.9h0m0-31.1h0m0-42.6h0m0 68.1h0m0-10.5h0m.1 7.7h0m0-9.1h0m0 12.2h0m0-20.7h0m.1 11.5h0m0 9.3h0m0-5.4h0m0-7.8h0m0-11.4h0m0 16.9h0m0 8.5h0m.1 0h0m0-5.4h0m.1 3h0m0-10.8h0m.2-10.4h0m0-19.7h0m.1 8.2h0m.1 33.8h0m.1 1.2h0m.1-3.2h0m.1-11.9h0m0 9.3h0m.2-9.7h0m0 6.5h0m.1-1.8h0m.1-37.2h0m0 49.2h0m0-1.6h0m.1-50.4h0m0 53.2h0m0-42.2h0m.1 40.2h0m.1-50.2h0m.1 38.8h0m0 6.3h0m0 7.9h0m0-11.8h0m.1 4.9h0m0-32.7h0m0 21.6h0m0 15.1h0m.1-67.2h0m0 61.1h0m0 8.6h0m0-14.2h0m.1 11.2h0m.2 .8h0m0-11.4h0m.1 12h0m0-7.8h0m0-12.3h0m.1 16.8h0m0 .2h0m0-32.8h0m.1 28.6h0m.1-15.6h0m0 12.6h0m0 8.7h0m0-4.4h0m.1 3.4h0m0-6.1h0m0-22.5h0m0 25.1h0m.1-15.9h0m.1 6.3h0m0 2.8h0m0 3.6h0m.1-8.1h0m.1-11h0m0 17h0m.1 2.3h0m.2 .6h0m0-32.1h0m0 11.4h0m0 9.1h0m.1 12.8h0m0-20.3h0m0-18.7h0m0 21.3h0m.1 19.5h0m0 1.8h0m.1-38.2h0m.1 34.2h0m0-16.6h0m.2 23.5h0m0-27.3h0m.2 27.6h0m0-14.2h0m.1-1.4h0m0-8.9h0m.1-10.1h0m.1 32.6h0m0-5.9h0m.1-1.3h0m.1-4.1h0m.1 3.1h0m0-18.6h0m0-1.2h0m.1 14.5h0m.1-6.2h0m.2-7.1h0m0-17.7h0m.2 11.4h0m0 3h0m0-11.4h0m0 45.3h0m0-6.3h0m.2-39.7h0m0 36.9h0m0-49.4h0m.1 46.3h0m.1 7.2h0m0 10.4h0m.1-7.9h0m0-29.8h0m0 11.4h0m0 2.8h0m0 15.8h0m.1 15.9h0m0-5.7h0m0-23.3h0m.1 20.1h0m.1 7.3h0m.1-12.6h0m0 14h0m.1 1.9h0m0-8.4h0m0 8.3h0m.1-18.7h0m0-40.8h0m0 53.5h0m0-1.6h0m.1-14.5h0m.1-26.5h0m0 40.9h0m.1-8.6h0m0 12h0m0-21.3h0m0 21.1h0m.2 2.7h0m0-68.6h0m0 33.7h0m.1 39.6h0m0-32.3h0m0 20h0m0 8.9h0m.1-18.7h0m0 19h0m0 3.3h0m0-11.5h0m.1 7.3h0m.2-17.5h0m0 23.9h0m0-25.1h0m0-15.2h0m0 33.5h0m0-23.1h0m.1 2.8h0m0 27.4h0m0-12.2h0m0 2.2h0m.2-1.1h0m.1 9.7h0m0-25.4h0m0 27.4h0m.1-2h0m0-101.7h0m.1 82.4h0m.1-31.3h0m0 43.8h0m0 8.3h0m.1-4.3h0m0-12.5h0m.1 11.7h0m0-22.7h0m.1 6.2h0m0 5.2h0m0 15.9h0m0-16.1h0m0 1.1h0m.1 17.2h0m0-37.3h0m0-14h0m0 10.6h0m0 36h0m0-7.4h0m.1 4.5h0m0 4.9h0m.1-22.8h0m.1 10.9h0m0 5.3h0m0 .5h0m0-1.4h0m0 8.5h0m0-3.7h0m.1 2.6h0m.2 .8h0m0-14.9h0m.1-26.9h0m0-3.1h0m0 36.6h0m.1 4.1h0m.1 2h0m0-47.1h0m0 43.1h0m.1 5.3h0m0 1.1h0m0-27.4h0m0-3.2h0m.1 29.2h0m.2-52.7h0m0 25.9h0m0 26.3h0m0-36.3h0m.1 6.5h0m0 20.6h0m0-16.6h0m.1-2.5h0m.2 24.7h0m.1 5h0m0-28h0m.1 27.3h0m0-13.4h0m.1 2.4h0m0-39.3h0m.1 11.9h0m0 6.5h0m0 29.3h0m.1-23.3h0m0 11.2h0m0-3.6h0m0 4.9h0m0-9.2h0m.1-10.7h0m0 25.5h0m.2-25.5h0m0 11.1h0m.1 8.5h0m0 2.4h0m0 3.8h0m0-12.3h0m.1-9.3h0m0 25.5h0m.1-1h0m0-37.4h0m0 36.1h0m.1-29.1h0m0 5.5h0m0 25.8h0m.1-9.5h0m0 9.3h0m0-34.1h0m0 32.3h0m.1-2.6h0m0-39.5h0m0 10.7h0m.1 21.4h0m.1-1.3h0m.1 2.9h0m0-6.7h0m.1 7.7h0m.1-41.5h0m0-22.4h0m.1 55.8h0m0-30h0m.1 38.1h0m.1-59h0m.1-26.6h0m0 50.9h0m.1 15.8h0m0 15.3h0m.1 5.6h0m0 2h0m.1-3h0m.1-8.5h0m0 3.2h0m0-50.9h0m.2 52h0m.1 5.5h0m.1-3.3h0m0-53.5h0m0 15.8h0m0 24.5h0m.1-9.8h0m0 16.2h0m0-1.6h0m0-74.9h0m.1 82.9h0m0 2.7h0m0-9.7h0m0-12.9h0m.1 8.6h0m0-65.2h0m.1 44.4h0m.1 28.3h0m0-13.5h0m0-5h0m.1-25.7h0m0-38.3h0m.1 85.2h0m0-42.4h0m.1 21.9h0m.2 18.2h0m0-84.6h0m0 60.1h0m0-39.6h0m.1 60.8h0m0 7.1h0m.2-7.1h0m0-8.6h0m0-.3h0m.1 10.5h0m.1-3.3h0m0 4.2h0m0-17.9h0m.1 23.8h0m0-76.7h0m0 69.5h0m.2-1.3h0m0-49.7h0m0 64.2h0m.1-29.8h0m0 15.4h0m0-11h0m.1 13.6h0m0-10.9h0m0-23.5h0m.1 45.1h0m0-14.7h0m.1-24.6h0m.1 11.1h0m0 19.4h0m0-45.4h0m0 46.4h0m0-30.3h0m.1 31.6h0m0 3.8h0m.1 3.2h0m0-7.2h0m.1-19.6h0m.1 28.6h0m0-65.4h0m0 68.5h0m.1-.5h0m0-2h0m.1 2h0m0-8.7h0m.1-46.5h0m0 51.4h0m.1-5.2h0m0 8.1h0m0 3.8h0m0-29.5h0m0-.3h0m0-17.4h0m0 32.3h0m.1 7.1h0m.1 6.3h0m0-13.9h0m.1-4.9h0m.1-2h0m0 14.3h0m.1-3.5h0m.1-11.5h0m0 17.6h0m.1 8h0m0-36.8h0m.1 24.4h0m.1-63.7h0m.1 28.4h0m0 27.2h0m.1 17.8h0m0-15.8h0m0-5.1h0m0 6.7h0m0-.9h0m0 17.4h0m.1-1.8h0m0-8.1h0m.1-9.4h0m0 5.4h0m0-26h0m0 32.4h0m.1 3.5h0m0-37.1h0m.1 30.3h0m0-1.5h0m.2-13.5h0m0-45.1h0m0 64.5h0m0 4.4h0m0-48.2h0m.1 47.3h0m0-15.4h0m.1-13.4h0m0-.4h0m.1-1.6h0m0-1.9h0m0-23h0m.1 57.9h0m0 .2h0m0-26.5h0m.1 15.4h0m0-47.3h0m0-23.5h0m.1 52.1h0m.4 29.6h0m.1-44.7h0m0 22.3h0m0-55.4h0m0 72.7h0m0-.7h0m.1 3.1h0m0-16.7h0" stroke="#000080"/>
<polygon points="531.8,415.0 531.2,414.4 531.2,335.6 532.5,335.6 533.5,337.8 534.5,339.3 535.5,339.2 536.5,337.1 537.5,333.6 538.5,329.6 539.5,326.6 540.5,325.7 541.5,326.8 542.5,328.6 543.5,329.3 544.5,328.6 545.5,328.6 546.5,330.9 547.5,334.5 548.5,336.9 549.5,337.1 550.5,335.6 552.7,335.6 552.7,414.4 552.1,415.0" fill="#9999CC"/>
<path d="M532.4 319.9h0m0 14.5h0m.1-9.3h0m0-4.9h0m0-7.3h0m.1 16.7h0m0-50.7h0m.1 28.3h0m0-59.2h0m.2 64.2h0m0 5.8h0m.1 13h0m0-5.5h0m0 9.6h0m.1-22.2h0m.1 10.3h0m0 6h0m0-81.8h0m.1 71.1h0m0 11.1h0m0-27.8h0m.2 15.3h0m0-29.4h0m0 47.9h0m0-9.5h0m.1-28.1h0m0 26h0m0 3.3h0m.1-31.8h0m0-4.4h0m.1 45.9h0m0-29.1h0m0 12.4h0m0 6.7h0m0 .4h0m.1-57.4h0m0 3.4h0m0 36h0m.1 18.3h0m0-59.6h0m0 20h0m0 47.7h0m0-15.3h0m.1-9.5h0m0-18.1h0m0 36.9h0m0 3.3h0m.2-12.8h0m.1 4.8h0m0-63.3h0m0 29.2h0m.1 46.3h0m0-1.8h0m.1-5.9h0m.1-33.9h0m.1 34.1h0m0 2h0m.1 1.5h0m.1-76.8h0m0 48.2h0m0 2.6h0m0 19.6h0m0 2.1h0m0-6.3h0m.1 1.5h0m.1 14.2h0m.1-8.6h0m0 3.9h0m.1 2.5h0m.1-22.1h0m0 18.7h0m0-4.7h0m.3 5.7h0m.1-18.7h0m.1-1.3h0m0-4.6h0m0 14.4h0m.2-3.1h0m0 17h0m0-21.1h0m.1-67.6h0m.1 80.5h0m.2-2.1h0m0-12.9h0m0 1.5h0m.1-32.9h0m0 50h0m0-11.1h0m.2-16.9h0m.1-13.3h0m.1 21h0m0-8.5h0m.1 7.9h0m0 20.6h0m.1-4.6h0m0-6.7h0m0 5.7h0m0-.1h0m.1 4h0m0-8.1h0m0-44.9h0m.2 42.1h0m0-71.9h0m0 75.7h0m0-25.9h0m.1 13.2h0m0 10h0m.1-35.4h0m0 30.6h0m0 13h0m.1-30h0m0-21.7h0m0 53h0m0-3.3h0m0-26.5h0m.1 .1h0m0 20.4h0m0-1.5h0m0-.4h0m0-10.8h0m.1 6.2h0m0-45.8h0m0 60h0m.1-1h0m.1-.1h0m0-24.7h0m0 26.1h0m0-39.9h0m0 35.5h0m0 2.5h0m.2-11.5h0m0 12h0m0 .6h0m.1-18.3h0m0 11.8h0m.1-.4h0m0-25.7h0m.1 7.6h0m0 22.2h0m.1-27.4h0m0-56h0m0 79.3h0m0-56h0m.2 35h0m0 25.4h0m.2-25.3h0m0-4.3h0m0 12.1h0m0 17.6h0m0-18h0m0 13.2h0m.1-8.7h0m0-18.9h0m.1 12.8h0m0-3.8h0m0 23h0m.2-3.5h0m.1-20.6h0m0-6.6h0m.1 28.9h0m.1-19.9h0m0 8.7h0m0 5.4h0m0-11.9h0m.2-26.1h0m0 30.6h0m0 2h0m0-17.8h0m0-15.9h0m0 16.6h0m0 25.5h0m.1-1.5h0m0-61.7h0m0-10.3h0m.1 7.9h0m0 1.9h0m0 52.2h0m.1 3h0m0-21.4h0m0 29.5h0m0-56.6h0m.1 51.4h0m0-33.7h0m.1 27.3h0m0-19.5h0m0-3.7h0m.1-24.5h0m0 62.3h0m.1-47.9h0m0-3h0m0 31.8h0m0 16.4h0m0 1.8h0m.1 .1h0m0-14.6h0m0 8.2h0m0-28.5h0m.1 21.8h0m0-38.8h0m.1 38.8h0m0 13.1h0m.1-9.5h0m0-7.4h0m0-20.7h0m.1 38.7h0m0-.9h0m0-37.2h0m.1 22.5h0m0 3.2h0m0-2h0m.1 13.4h0m0-5.6h0m.1-51.6h0m0 41h0m0-17.1h0m0 33.7h0m.1-12.7h0m.1-26.6h0m0 38.5h0m.1-23.4h0m.1-.5h0m.1 7.3h0m.1 .5h0m0 19.3h0m0-30.3h0m0 29.9h0m.1-100.1h0m0 88.1h0m.1 3h0m0-10.7h0m.1-15.1h0m0 23h0m0-.5h0m.1-3.6h0m0-26.9h0m0 19h0m0 1h0m0-4.1h0m0-13.9h0m.1 34.7h0m0-3.8h0m.1-4.1h0m0-43.6h0m.1 24h0m0 3.5h0m0 25.6h0m0-32.1h0m.1-4h0m.1 33.8h0m.1-24.4h0m0 33.8h0m0-1.1h0m.1-29.8h0m0 14.5h0m.1-38.6h0m0 30.9h0m.1 1.9h0m.1 8.9h0m0 12.6h0m.1-40.2h0m0 41.4h0m.2-.3h0m0-2.4h0m0 2.2h0m0-31.4h0m0 23h0m.1-24.6h0m.1 29.2h0m0-18h0m0-14.6h0m0 10.1h0m0 23.2h0m.1-5.2h0m0-30h0m0 34.4h0m0-5.3h0m.1 1.2h0m0-9h0m.1 16.2h0m0-44.6h0m.1 37.5h0m0 1.7h0m0-14.3h0m.1 14.3h0m0 1h0m0-6h0m0 8.1h0m.1-10.4h0m0-11h0m.1-38.9h0m0 50.2h0m.1 4.9h0m.1 .9h0m0-29.1h0m0 3h0m.1 27.9h0m.1-49h0m0 36.1h0m.1-5.2h0m0 9.4h0m.1 2.4h0m0-13.2h0m0-21.3h0m0-2.5h0m.1 20h0m.1-60.1h0m0 56.7h0m0-15.1h0m.1-3.3h0m0 48.7h0m0-22.5h0m0-31.1h0m0-33.5h0m0 65.9h0m.1-36.7h0m0 41.6h0m.1-60.1h0m0 46.6h0m.1 30.4h0m0-12.3h0m0 7.2h0m0-4.2h0m0-2.5h0m0-6.5h0m.1 20.3h0m.2-45.9h0m0 39.6h0m0-15h0m.1 11.1h0m.1-9.4h0m0-18.9h0m0 4h0m.2 15.8h0m0 16.3h0m0-76.9h0m.1 42.2h0m0 27.6h0m.1 4.5h0m0-5.5h0m0-17.5h0m.1 12.3h0m.1-24.7h0m0 13.8h0m0 1.8h0m.1-10.9h0m0 4.2h0m0 25.9h0m0 6.1h0m.1-11.6h0m0 6.6h0m.1-.1h0m0 3.6h0m.1-7.8h0m0 4.3h0m.1-20.2h0m0 24.4h0m.1-5.9h0m0-28.2h0m0 8.6h0m0 29.9h0m0-5.4h0m.1 6.5h0m0-20.5h0m.1 1.8h0m.1-11h0m0 18.2h0m0 7.6h0m.1-27.2h0m.3 21h0m0 10.9h0m0-16.7h0m.1 .4h0m0-33.4h0m0 44.1h0m0-24h0m0 27.6h0m.1-10.1h0m0-10.7h0m.1 21.2h0m0-7.8h0m.1-17h0m0 24.8h0m0 1.9h0m0-17.4h0m0-35h0m.1 50.7h0m0-6.4h0m.1-8.2h0m0-14.3h0m.1-18.6h0m0 33.9h0m0 .9h0m0-80.3h0m.1 64.1h0m.1 30.1h0m0-5.3h0m.1-24.3h0m0 25.3h0m0-7.7h0m.2 .5h0m0-6.1h0m0-28.5h0m.1 18h0m0-31.9h0m0 53.1h0m.1-16.9h0m0-23.4h0m.1 37.4h0m0 2.8h0m0 2.9h0m.1-28h0m0 12h0m.1 18.6h0m.1-28.3h0m0-27.3h0m0-2h0m0 15.7h0m.1 37.8h0m.1-54.2h0m.1 20.1h0m0 16.2h0m.2-24.2h0m0 24h0m.1-5h0m0 11.6h0m0-.2h0m0 10.8h0m.1 3.6h0m0-22.3h0m.1 16.4h0m0-46.5h0m.1 42.9h0m0 9.9h0m0-11.6h0m0-.4h0m0-45.8h0m0 35h0m.1 20.1h0m0-34h0m0 20.1h0m0 3.7h0m0 10.4h0m.1 2.4h0m0-6.3h0m0 4.5h0m0-16.3h0m.1 4.2h0m0-18h0m0 26h0m.1 3.7h0m0-34.6h0" stroke="#9999CC"/>
<polygon points="555.8,415.0 555.2,414.4 555.2,313.6 556.5,313.6 557.5,314.3 558.5,316.3 559.5,318.9 560.5,320.6 561.5,320.5 562.5,318.4 563.5,316.1 564.5,314.5 565.5,313.5 566.5,312.2 567.5,310.1 568.5,307.7 569.5,305.6 570.5,304.3 571.5,304.3 573.0,304.3 573.0,414.4 572.4,415.0" fill="#000080"/>
<path d="M556.5 303.7h0m0-.2h0m0-11.1h0m.1 9.1h0m0 2.3h0m0-5.1h0m.1 4.6h0m.1 3.1h0m0-22.2h0m0 8.4h0m0-8.9h0m0 12.7h0m0-13.1h0m.1 24.3h0m.1-6.7h0m.2-19.2h0m.1-7h0m0-25.6h0m.1 62.3h0m.1-17.5h0m0-24.2h0m0 10.3h0m.1-12.5h0m0 28.7h0m.1 17.1h0m0-3.4h0m.1-10.1h0m0 14h0m0-4.8h0m0-18.7h0m.1-16h0m.1 38.7h0m0-.9h0m0-18h0m.1-5.4h0m0 19.1h0m0-6.9h0m0-44.7h0m.1 15.5h0m0-2.1h0m.1-.1h0m0 15.3h0m0-5.2h0m0 26.2h0m.1-.2h0m0 8.4h0m0-78h0m0 76h0m0 1.7h0m.1-9.7h0m0 5.9h0m0-13.1h0m.1 16.8h0m0-1.6h0m0 .4h0m.1-46.9h0m0 28.2h0m0-31.9h0m.1 42.8h0m0 10.5h0m0-28.5h0m.1 13.6h0m.1-10.1h0m.1 21.6h0m0 3h0m.1-11.1h0m.1 5.9h0m0-26.3h0m0 31.9h0m.1-6.9h0m0-8.9h0m0-34.5h0m0 36h0m.1-13.4h0m0 22.8h0m0-43.7h0m.1 26.5h0m0-.4h0m0 15.6h0m.1 9.9h0m.1-4.4h0m0-22.4h0m.1 21.1h0m.1-29.9h0m0-23.9h0m0 57.7h0m.1-5.6h0m0 .4h0m.1-48.4h0m0 42.6h0m.1-16h0m0 13.1h0m.1 3h0m0 14.4h0m.1-5.8h0m.1-6.8h0m.1-24.7h0m0 20h0m0 3.2h0m0-35.2h0m0 38.6h0m0-36.2h0m.2 32.3h0m.1-60h0m0 70.2h0m0 2.3h0m0-40h0m.1 15.4h0m0 2.5h0m0 18.6h0m.1-41.6h0m0 9.8h0m0 35.1h0m.1-39.8h0m.1-15.3h0m.1 15.8h0m.1 25.8h0m.1 12.6h0m0-35.7h0m0 29.8h0m0-1.5h0m.1-28.6h0m0 24.9h0m0-38.7h0m.1 48.2h0m.1-38.4h0m0 42h0m.1-2.7h0m0-68.1h0m0 69.3h0m0-25.1h0m.1 15.3h0m0-3.6h0m0 14.8h0m0-13.8h0m.2 7.2h0m0 5.5h0m0-1h0m0-19.3h0m0 5h0m.1 3.5h0m0-18.6h0m.1 21.4h0m0-48.7h0m.1 47.5h0m0 7.8h0m0-10.7h0m.1-17.2h0m0 22.9h0m0-26.1h0m.1 25.4h0m0-42.8h0m0 45.8h0m.1 3.4h0m.1-6h0m.1-35.7h0m.1 29.9h0m0-19.8h0m.1 28.7h0m0-13h0m0 13h0m0-3.8h0m0-35.2h0m0 18.7h0m.1 7h0m.1 16h0m0-6.5h0m0-22.1h0m.1 21.7h0m0-9.5h0m0 6.2h0m.1-2.9h0m0-.2h0m0-4.6h0m0-47.3h0m.1 28.7h0m0 28.8h0m.1 4.9h0m0-39.9h0m.1 20.8h0m.1-10.7h0m0-2.5h0m0 18h0m0 1.5h0m.2 12.3h0m.2-6.8h0m0-8.9h0m0 14.4h0m0-41.7h0m.1 41.1h0m0-25.4h0m.1 26.9h0m0 .4h0m.1-12.3h0m.1-31.6h0m0 28.4h0m.2 16.1h0m0-4.8h0m0-10.9h0m0 6.8h0m0 8.9h0m.1-53.1h0m0 12.3h0m.1 27.1h0m0-.9h0m.1 14.6h0m0-45.9h0m0 29.1h0m.1 15.2h0m0-9.2h0m0 9.5h0m0-43.5h0m.1 23.8h0m0 9.1h0m0-8h0m.1-7.6h0m0 11.3h0m0 15.3h0m.1-10.7h0m0 9.3h0m.1-2.4h0m0 2.7h0m0-19.3h0m0 15.6h0m.1-9.4h0m.1-45.7h0m0 58.5h0m.2-21.2h0m.2-16.5h0m.1 12h0m.2 6.5h0m0 17h0m.1-6.5h0m0-65.6h0m0 65.5h0m0 5.5h0m.1-.5h0m0-23.4h0m.1 13.1h0m0-34h0m0 46.5h0m.1-9.2h0m0-2.8h0m0 7.5h0m.1 .3h0m0-11.5h0m.1 9.9h0m0-14.7h0m0 3.3h0m.1-54.7h0m0 59.7h0m.1-1.3h0m0 11.9h0m.2-20h0m.1 15.8h0m0-5.9h0m.1-9.6h0m.1 19.1h0m.1-36.9h0m0 27.9h0m.4 5.9h0m.1-45.4h0m0 21.8h0m0-48.8h0m0 26.3h0m.1 48.3h0m.1-8.7h0m0 0h0m0-44.7h0m0 37h0m.1 8h0m.1-30h0m0 35.7h0m0-34.6h0m.1-8.2h0m.2 29.5h0m0 10.2h0m.1-31.2h0m0-1.8h0m0 14.4h0m.2 22.6h0m.1-1.1h0m0-4.4h0m0-34.9h0m.2 10.7h0m0-31h0m.1 46.4h0m0 9.4h0m.1-4.4h0m0-7.3h0m0 9.3h0m.2-57.2h0m0 53.7h0m0-.6h0m.1 1h0m0-41.9h0m.1 29.2h0m0-8.2h0m.1 11.7h0m0-5.8h0m.1 18.2h0m0-1h0m0-36h0m0 38.4h0m0-.6h0m.1-17.5h0m0 13.2h0m.1 6.8h0m.1-21.6h0m0 23.6h0m.1-3h0m.2-4.9h0m0 7.2h0m0-17.9h0m.1 13.8h0m0-6.1h0m.1-14.5h0m0 8.1h0m.1 3.4h0m0 2.3h0m0-5.1h0m.1-10.3h0" stroke="#000080"/>
<polygon points="573.6,415.0 573.0,414.4 573.0,333.9 574.3,333.9 575.3,330.6 576.3,327.4 577.3,324.9 578.3,323.7 579.3,323.5 580.3,324.0 581.3,325.1 582.3,342.8 583.3,345.3 584.3,335.9 585.3,333.8 586.3,336.7 587.3,339.1 588.3,340.1 589.3,339.5 590.3,338.7 592.0,338.7 592.0,414.4 591.4,415.0" fill="#9999CC"/>
<path d="M574.4 291.1h0m0 12.6h0m0 9.8h0m0 9h0m.1 2.6h0m.1-29.6h0m0-24.2h0m.1 50.2h0m0 6.3h0m0-4.4h0m.1-10.9h0m0-22.9h0m.1 33.8h0m.1 6.6h0m0 1h0m.1-17.5h0m0 12.3h0m0-3.9h0m.1-9.3h0m.1-4.4h0m0 3h0m0-54.2h0m0-10.2h0m.1 55h0m0 26.1h0m0-18.9h0m0-38.4h0m.2-12.2h0m.1 67.6h0m0-1.5h0m0-11.2h0m0-.2h0m0 5.4h0m.1-.3h0m0-28.9h0m0 28.6h0m.1 4.3h0m0-9.3h0m.1-5.9h0m0-16.1h0m0 18.9h0m.1-2.3h0m.1 15.8h0m.1-5.4h0m.1-22.4h0m0 15.6h0m0 7h0m.1-22.8h0m0 22.2h0m0-29.2h0m.1 8.9h0m0 24.1h0m0 5h0m0-7h0m0-10.7h0m.1 6.1h0m0 0h0m0 3.2h0m.1 5.5h0m0-27.1h0m.1 12.6h0m0-1.5h0m0 15.9h0m.1-22.1h0m0-10.7h0m.2 19.8h0m0 13h0m0-2.4h0m0-69.3h0m.2 13.9h0m0 38.7h0m0 17.7h0m.1-3.4h0m0-42.2h0m.1 27.6h0m.1 4.2h0m.1 11.1h0m0-22h0m0-7.4h0m0 20.4h0m.1 9.1h0m0 .3h0m.1-46.4h0m0 45.1h0m0-27.1h0m.1 17.4h0m0 12.4h0m0-6.2h0m.1-47.3h0m0 40.9h0m.1-.5h0m.1 9.2h0m0-2.1h0m.2-20.4h0m0 9.3h0m0 13.1h0m0-21.9h0m0-8.1h0m.1 8.4h0m.1 24.3h0m0-.2h0m0-1.5h0m.1-8.1h0m0 2.1h0m.2 5.2h0m0 5.7h0m.1-7h0m.1 1h0m0-3.1h0m.1 3.7h0m0-4.3h0m0 6.6h0m0-59.5h0m0 42.6h0m.1 12.6h0m0-4.6h0m0-2.9h0m0-9.9h0m.1-54.7h0m.1 56.6h0m0 4.5h0m0 8.2h0m.1-5.2h0m.1-31.3h0m0-.2h0m0 46.6h0m.1-2.1h0m0 2.6h0m.1-50.8h0m0 41.6h0m.1 6.5h0m0-33.1h0m0 26.4h0m0-39.8h0m0 43.2h0m.1-48.5h0m.1 32.3h0m0-27.2h0m0 41.8h0m0-28.2h0m0-58.1h0m.1 76.6h0m0 6.5h0m0 6.2h0m.1-24.8h0m0 27.3h0m0-27h0m0 15.9h0m.1-22.7h0m0 29.6h0m.1-4h0m0-5.4h0m0 15.4h0m.1-3h0m0-39.4h0m0 37.9h0m0-7.5h0m.1 9.9h0m0-27.6h0m.1 24.1h0m0-27.9h0m.1 17.9h0m0-5.8h0m.2 18.3h0m0-48.1h0m0 49.6h0m.1-4.7h0m0 7.3h0m0-19h0m0 19.2h0m0-31.7h0m0-17.9h0m.1 46h0m0 4.1h0m.1-1.8h0m0-23.3h0m.1-73.4h0m0 79.8h0m0-34.5h0m0 52.2h0m0 3.6h0m0-13.4h0m.1 7.2h0m0-3.6h0m0-18.5h0m.1 14.6h0m0 16.5h0m.1-19.2h0m0 16.5h0m.1-16.7h0m0 28.7h0m.1-21.4h0m0-15.1h0m.1 37.1h0m0-5.5h0m.1-9.4h0m.1 9.1h0m0-38.7h0m0 20.7h0m0-1.8h0m.1-25.8h0m.1 40.7h0m.1 13.8h0m0-26.9h0m.1-7.8h0m0 15.4h0m.1-3.6h0m0-40.9h0m.1 58.8h0m.1 5h0m0-30.1h0m.1 26.8h0m.1 4.4h0m0-18.5h0m0 13.9h0m0-10.3h0m.1 7.7h0m.1 2h0m0-14h0m.1-31.6h0m0 25.2h0m.1 10.5h0m0-46.8h0m.1 42.7h0m0 8.2h0m0 6h0m.2-50.8h0m.1-5.2h0m0 51.1h0m0-19h0m.1 8.3h0m.1 7.8h0m0-3.2h0m0-25.4h0m0 17h0m0 8h0m.1 4.2h0m0-4.1h0m.1-7.5h0m0-94.1h0m0 98.3h0m0 6.6h0m.1-16.4h0m.2 13.5h0m0-3.4h0m.1-14.2h0m0 15.3h0m.1 4.3h0m0 .6h0m.2-.7h0m0-13.8h0m.1 4.6h0m0-10.5h0m0-1h0m.1 3.6h0m.1 16.1h0m0-2.6h0m0-36.1h0m.1 36.3h0m.2-18.1h0m.1 14h0m0-8h0m0-6.9h0m.1 26.3h0m0-17.3h0m0-12.1h0m0 14.3h0m.1-93.5h0m0 108.3h0m0-4.4h0m0-5.5h0m.1-5.6h0m0 12.5h0m0-4.2h0m0 9.1h0m.1-1.1h0m0-15.9h0m.1 15.6h0m0 2.1h0m.1-72.5h0m0 62.6h0m0-22.3h0m.3 15.5h0m0-32.1h0m0 1.5h0m.1 47.5h0m.1-.2h0m0-4.2h0m0-12.7h0m0 9.1h0m0 8.8h0m.1-4.1h0m0-3.4h0m.1-30.5h0m0 26.1h0m.1 7.9h0m0-20.4h0m.1 14.3h0m0 6.9h0m.2-14.8h0m0-2h0m0-20.8h0m.1 34.1h0m0-5.5h0m.1-.4h0m0-28.8h0m0 34.5h0m.1 4h0m0-9.3h0m.1 11.8h0m.1-3.5h0m0 .7h0m0-13.3h0m0-42.1h0m.1 27.8h0m0 3.7h0m.1 5.2h0m0 11h0m.1-55.7h0m0 58.1h0m0-36h0m.1 38.1h0m0-6.1h0m.1 8.4h0m.1 .2h0m0-12.4h0m0 11.4h0m.1-5.9h0m.1 5.1h0m0 4.6h0m0-15.2h0m.2-17.1h0m0 34.2h0m.1-19.9h0m0 7.4h0m.1 3.2h0m0 .6h0m.1 3.5h0m0-22.7h0m.1 24.2h0m0-9.4h0m.1 3.3h0m.2-.6h0m0-17.5h0m0 23.9h0m0-16.2h0m0 17.8h0m.2-24.5h0m0 9.2h0m.1 6.9h0m0 7.8h0m0-14.2h0m0 14.1h0m.1-3.6h0m0-8.5h0m.1-1.9h0m.1-20h0m0 33.7h0m0 1h0m.1 .2h0m.2-88.4h0m0 86.8h0" stroke="#9999CC"/>
<polygon points="593.6,415.0 593.0,414.4 593.0,319.2 594.3,319.2 595.3,322.7 596.3,324.1 597.3,322.6 598.3,319.4 599.3,316.8 600.3,315.9 601.3,316.8 602.3,318.8 603.3,321.1 604.3,322.9 605.3,323.8 606.3,323.8 607.3,322.6 608.3,320.7 609.3,318.2 611.0,318.2 611.0,414.4 610.4,415.0" fill="#000080"/>
<path d="M594.2 314.4h0m.1-8.2h0m0-7.9h0m0-38h0m0 21.9h0m.1-2.6h0m0 17.8h0m0-19.2h0m.1 37.6h0m.1-1.1h0m0-8.7h0m.1 10.3h0m0-36.2h0m0-26.8h0m.1 40.1h0m0 21.3h0m0 0h0m.1-11.2h0m.1-31.8h0m.1 48.1h0m0-85h0m0 81.3h0m0-3.7h0m0-73.9h0m.1 27.2h0m0 28.1h0m0 18.4h0m0 8.7h0m0-.7h0m0-8.5h0m.1 4.5h0m0-39.7h0m0 34.7h0m.1 2h0m0-10.7h0m0 4.6h0m.1-1.5h0m0-35h0m0 21.8h0m.1 26.2h0m0-8.1h0m.1 7.9h0m0-14.1h0m.1-32.4h0m0 24.8h0m0-4.4h0m.1-10.4h0m0 17.8h0m0 22.9h0m0-26h0m0 2.7h0m.1 8.9h0m0-7.9h0m0 10.9h0m.1 6.1h0m0-12.6h0m0-5.8h0m0-3.4h0m.1 23.1h0m.1-11.8h0m0-22.1h0m0 28.4h0m.1-21.6h0m0 9.8h0m.1-34.3h0m0 27.1h0m.1 28.1h0m0-2.8h0m.1-52.5h0m0 27.5h0m.1 21.6h0m.1-8.8h0m0-4.7h0m0-22.6h0m.1-7.6h0m0 8.5h0m0 21.2h0m0 20h0m.1-46.3h0m0 22.3h0m.1-65.6h0m0 82.4h0m0 5.2h0m0-.8h0m.1-4.1h0m.1-25.3h0m0 23h0m0-19.7h0m0-30.1h0m.2 14.6h0m0 30.3h0m.1-10.9h0m0 7.3h0m0-7.9h0m0-14.2h0m.1 30.6h0m.1-40h0m0 14.5h0m0-11.4h0m.2 32.9h0m0-16.7h0m.1 9.9h0m0 10.9h0m.1-29.9h0m0 23.5h0m0-37.8h0m0 48h0m0-50h0m.1 19.9h0m0 21.7h0m0-14h0m.1 3.6h0m0 20h0m0-1.1h0m.1-18.4h0m.1 5.6h0m0-9.1h0m.1-29.4h0m0 19.3h0m0 31.8h0m0-3.9h0m.1-.8h0m0 1.6h0m0-25.5h0m.1-20.1h0m0 29.6h0m0 8h0m.1 2h0m0-7.5h0m0-74.4h0m0 83h0m0-38h0m.1 26h0m0 19h0m0-4.5h0m0 0h0m0-1.7h0m.1-6.3h0m0-30.6h0m0-27.4h0m0 24.9h0m0 46.3h0m.1-26.8h0m0 19.9h0m0-10.9h0m0 15.7h0m0-19.3h0m.1 16.1h0m0 4.4h0m.1-26.5h0m.1-11.2h0m.1 22.7h0m0-39h0m.1 46.9h0m0-31.8h0m0 32.1h0m.1-41.8h0m0 17.2h0m0-34.9h0m.1 60.3h0m.1-6.8h0m0-72.6h0m0 59.8h0m.1 6.6h0m.1 9.7h0m0-1.6h0m.1 3.8h0m.1-12.5h0m0-4.4h0m0 21.8h0m0 .8h0m0-6.7h0m0 2.6h0m.1-9.5h0m0 9.8h0m0 .6h0m0 1.1h0m0 1h0m.1-33h0m0 11.3h0m0 .6h0m.1 17.5h0m.2-5.7h0m0-22h0m.1 31.3h0m0-1.5h0m0-40.6h0m.2 32.1h0m0 8.7h0m.1-2.6h0m0-37.4h0m0 36.3h0m.1-9.8h0m0 .8h0m0 14.3h0m.1-39.3h0m0 36.4h0m0-43.4h0m0 45.2h0m.1 2.5h0m0-16.4h0m.2 8.5h0m0-30.8h0m.1 41.2h0m0-.4h0m.1-.4h0m0-.2h0m0 1.7h0m0-8.6h0m.1-13.1h0m.1 17.7h0m0 3.5h0m.1-3.8h0m0-46.3h0m.2-32.9h0m0 77.1h0m.1 4.4h0m.1-19.2h0m.1 14.6h0m0-5.9h0m.2 13.8h0m0-49.1h0m0 49.4h0m.1 .4h0m0-8.2h0m0-46.1h0m.1 28.6h0m.1-50.4h0m0 50.3h0m0 10.4h0m0 7.2h0m.1-26.3h0m0-14.4h0m0 46.7h0m0-33h0m.1-7.7h0m0 35.5h0m0 7.7h0m0-12.3h0m0-38.3h0m.1 41.2h0m.1-40.1h0m0-5h0m.1 45.7h0m0 10.3h0m.1-3.5h0m.1-13.5h0m0 10.9h0m.1 6.4h0m.1-51.5h0m0 49.3h0m0-41.7h0m.1 42.4h0m.1-1.9h0m.1-76.5h0m0 56.8h0m.1 9.9h0m.1-9.9h0m0-12.6h0m.2 29.1h0m0-2.8h0m0-18.4h0m0-40.6h0m.1 57.1h0m0-20h0m0 4.7h0m0 19.2h0m.2-25.7h0m0 9.1h0m0 17.2h0m0 6.8h0m.1-8h0m0 0h0m0-43.7h0m0 41.5h0m.1 1.5h0m0-24.7h0m0 27.6h0m0-2.5h0m0 1.2h0m0 8.2h0m0-8.9h0m.1-41h0m0-9.8h0m0 43.7h0m.1-74.4h0m0 48.4h0m0 39.1h0m0-27.6h0m0 25h0m.1-2h0m.1 .1h0m0 6.5h0m0-1.2h0m.1 2.4h0m.1-1.1h0m0-28.5h0m.1 28.5h0m0-.7h0m0-24.8h0m.1 22.6h0m.1 1h0m0-62.2h0m0 61.7h0m0-8.2h0m.1 1h0m0-5.1h0m0-5.1h0m.1 18.4h0m0-7.7h0m.1-43h0m0 25h0m.1-45.8h0m.1 72.8h0m.1-2.7h0m0-26.9h0m.2-5h0m0 17h0m0-63.3h0m0 79.1h0m0-1.1h0m.1-5.5h0m0 .2h0m.1-15.8h0m0-2.1h0m0 5.5h0m.1 11.7h0m0-5.2h0m0 12.2h0m.2-48.8h0m0 34.7h0m0-7.4h0m0-12.3h0m.1 33.8h0m0-10.2h0m.2-22.1h0m0 11.1h0m0-3h0m0 22.7h0m0 .7h0m.1 .7h0m0-21.2h0m0-2.7h0m0-19.4h0m.1 34.8h0m0-17.3h0m.1 1.3h0m0-16.7h0m0 22.8h0m0-15.8h0m0-18.7h0m.2 35.5h0m0-26.2h0m0 23.7h0m.2 13.5h0m0-7.1h0m.1-2.3h0m0 12.3h0m.1-16.1h0m.1 2.5h0m0-17.4h0m0-7.3h0m0 15.1h0m.1 23.8h0m0-19.2h0m0 10h0m.1-7.8h0m.1-19h0m0 30h0m.1-1.6h0m0-.4h0m0-.7h0m.1-.8h0m0-4.2h0m0-14.9h0m.1-35.3h0m.1 33.2h0m0 19.6h0" stroke="#000080"/>
<polygon points="611.6,415.0 611.0,414.4 611.0,337.0 612.3,337.0 613.3,333.9 614.3,333.6 615.3,336.5 616.3,341.5 617.3,346.9 618.3,350.1 619.3,349.7 620.3,345.9 621.3,340.5 622.3,335.9 623.3,333.4 624.3,333.5 625.3,335.4 626.3,338.4 628.5,338.4 628.5,414.4 627.9,415.0" fill="#9999CC"/>
<path d="M612.2 306.1h0m.1 27.9h0m.1-2.4h0m0-.1h0m0-9.3h0m.1-11.9h0m.1 9h0m0 .6h0m0 10.5h0m0-26.9h0m0 7.3h0m.1 13.1h0m0-7.3h0m.1 2.8h0m0-.6h0m0 1h0m0-18.4h0m.1-70.3h0m0 87.5h0m0-69.8h0m0 64.8h0m0-3.7h0m.1 21.7h0m0-6.9h0m.1 8.3h0m0-46.7h0m0 41.8h0m0-1h0m.1-8.5h0m0 12.7h0m0-16.6h0m0 8.6h0m.1 9.5h0m.2-14.7h0m.1 14.9h0m.2-56.6h0m.1 50.3h0m.1-28.5h0m.2 8.9h0m0 16.6h0m.1-10h0m0 18.5h0m0-5.2h0m.1-8h0m0-16.4h0m0 28.7h0m0-4.8h0m.1-18.2h0m0 14.8h0m0 3.3h0m.1-9h0m0 13.2h0m0-26.1h0m0 18.5h0m0 8.8h0m.1-16.9h0m.1-32.4h0m0 3.2h0m.1 17.2h0m.1 8.4h0m0 10.2h0m0-26.4h0m0 1.2h0m.1 17.5h0m0 19.5h0m.1-4h0m0-2.6h0m0-26.2h0m0 3.3h0m0 15.6h0m0-3h0m0 12.6h0m.1 6.3h0m.1-51.3h0m0 31.8h0m0 12.1h0m.1-26.7h0m0-17.2h0m.1 50.4h0m0-52.4h0m0 46.2h0m.1 8.7h0m.1-15.3h0m0 10.2h0m0 1.8h0m0-7.7h0m.2-77.9h0m.3 85.3h0m0-7h0m.1-2.4h0m.1 11.9h0m.1-57.2h0m0 39.8h0m.1-21.7h0m.1 28.8h0m0-29.9h0m0 44.1h0m0-3.2h0m0-29.1h0m.1-8.4h0m0 42.2h0m.1-10h0m0 10.8h0m.1-31.6h0m0-45.7h0m.1 72.2h0m0-6.4h0m0 1.5h0m.2-6.9h0m0 11.5h0m0 5.4h0m0-5.9h0m0-8.3h0m.2 9.1h0m0-14.8h0m0 23.4h0m0-1.8h0m0-88.7h0m0 77.6h0m.1 1.8h0m0 4.6h0m.1 3.9h0m0-2.1h0m.1-15.2h0m.1 22.1h0m0-13.4h0m.1 8.8h0m0 4.7h0m0-9.6h0m0-4.5h0m.1-15.7h0m.2-2.3h0m0-55.9h0m.1 64.6h0m0 3.3h0m.2-19.6h0m0 2.5h0m0 29.6h0m.1-32.6h0m0-21.2h0m0-17.8h0m.1 23.9h0m0 26.8h0m.1 22.8h0m0 .9h0m0-16.7h0m.1-42.3h0m0 33.1h0m0-2.8h0m.1 30.9h0m0-15h0m0 13h0m.1 5.9h0m0-11h0m0 11h0m.1-2.8h0m.1-26.1h0m0-12.8h0m.1 33.4h0m0-16.2h0m.1 .9h0m0-19.2h0m0-15.4h0m0 29h0m.1 23.4h0m0-10.8h0m.1-3.1h0m0 7.6h0m0-14.9h0m.1 6.5h0m.1-.4h0m0-.3h0m.1-13.4h0m.1 31h0m0-12.9h0m.1-4.4h0m0 15.4h0m0-18.9h0m0 7.6h0m0 5.4h0m0-32.9h0m0 39.5h0m.1-45.3h0m0 29.8h0m0-13.8h0m.1 24.6h0m0-58.8h0m0 46.3h0m0 9.3h0m0-5.3h0m0 5.8h0m.1 1.1h0m0-13.4h0m0 .7h0m0 15.2h0m.1-42.8h0m0 16h0m0 1.6h0m.1 14.3h0m0-30.8h0m0 38.3h0m0-1.9h0m.1-5.1h0m0-29.5h0m0 12.9h0m.1 19.7h0m0-24.2h0m.1-34.5h0m.1 32h0m0 16h0m.1-19h0m0 5.9h0m0 19.9h0m0 5h0m0 3.7h0m0-20.9h0m.1 5.6h0m0 16.3h0m.1-1.4h0m0 1.6h0m0 0h0m.2-8.4h0m0-3.9h0m.1 6.3h0m0-21.4h0m.1 7.8h0m0-8h0m.1 22.4h0m.1-4.7h0m0 3.2h0m.1-9.1h0m.1-36.5h0m.1 41.3h0m0-69.4h0m0 71.9h0m0-41.7h0m.1 32.7h0m0 6.3h0m.1 0h0m.2 5.8h0m.1-84.3h0m0-19.7h0m0 100.5h0m0-7h0m.1-.1h0m0 7.8h0m.1-9.2h0m.1-76.8h0m0 59.2h0m0-13.8h0m0 35h0m0-9.1h0m.1 12.7h0m.1-36.3h0m0 38.5h0m.1-33.1h0m0-15.5h0m0 45.3h0m.1-11h0m0 7.1h0m0-23.6h0m0-21h0m.2 47.6h0m0-11.6h0m0-15.7h0m.1 11.5h0m0-1.3h0m.1 21.1h0m0-53.7h0m0 50h0m.1-2.2h0m0-.1h0m0 2.6h0m0-45.2h0m.1 .8h0m0 45.3h0m.1-83.7h0m.1 44.2h0m0 32.5h0m0 6.9h0m0-5.1h0m.1-53.3h0m0 34.3h0m0 27h0m0-25.2h0m.1 18.4h0m0-5.6h0m0 4.4h0m.1 3.1h0m0-23.1h0m0 23.1h0m0-5.7h0m0-27.5h0m.1 23.2h0m.1 13.7h0m.1-26.1h0m0 27.3h0m0-4.1h0m0-1.7h0m.1-6.9h0m.2-8.9h0m.1 19.5h0m0-21.2h0m.1-51.4h0m0 68h0m0-.9h0m0 7.9h0m.1-28.9h0m.1 22.3h0m.1-21.2h0m0-13.4h0m0 29.8h0m.1-6.7h0m0-3.9h0m0-29.4h0m0 46.3h0m.1-71.1h0m.1 51.6h0m0-2.6h0m.1 31.6h0m.1-56.5h0m0 39.2h0m0 6.4h0m.1-75.8h0m0 67h0m0 6.9h0m0 8.5h0m0-43.1h0m0 35.5h0m0 1h0m.1 7.4h0m0-6h0m.1-14.8h0m0 13h0m0-15.5h0m0 29.5h0m.1-5h0m0-5.3h0m0 7h0m0-14.4h0m.1-10.5h0m0 22.8h0m0-10.2h0m0 7.8h0m0-40.8h0m0 42.1h0m.1-18.9h0m0 23h0m0-2h0m0-47.7h0m.1 47.7h0m0-13.7h0m.1-18.5h0m0 24h0m0-4.3h0m.1-29.2h0m0 34.6h0" stroke="#9999CC"/>
<polygon points="629.1,415.0 628.5,414.4 628.5,301.9 629.8,301.9 630.8,303.9 631.8,306.0 632.8,307.6 633.8,307.5 634.8,305.2 635.8,301.1 636.8,297.1 637.8,295.2 638.8,296.4 640.3,296.4 640.3,414.4 639.7,415.0" fill="#000080"/>
<path d="M629.7 238.4h0m.3 47.1h0m0-9.1h0m.2 9.1h0m0-1.8h0m0 16.4h0m.2-3.9h0m.1-.6h0m0 1.4h0m0-7.2h0m.1 11.9h0m.1-13.6h0m0-8h0m0 17.8h0m.1-35.1h0m0 18.2h0m.1 9.3h0m0 11.2h0m0-51.3h0m.1 50.3h0m.1-62.9h0m0 45.5h0m.1-7.3h0m0 13.2h0m.1-24.2h0m0 37.9h0m0 .3h0m0-16.1h0m.1-1.3h0m0 12h0m.1-7.5h0m0-4.2h0m.1-3.8h0m.1-21.8h0m0 27.4h0m0 .7h0m.1 7.1h0m.1 7.2h0m0-1.3h0m.1-51h0m0 23.8h0m.1-30.4h0m0 31.9h0m0 27.4h0m.1-15.1h0m0 18h0m0-22.4h0m.1 21.8h0m.1-25.5h0m0-16.9h0m.1 30.4h0m0 13h0m0-8.7h0m.1-6.2h0m.1 13.3h0m0-3.3h0m.1 .3h0m.1 1.1h0m0-16.3h0m.1 1.4h0m0-8.5h0m0 10.1h0m0 9.5h0m.1-60.9h0m.1 68.3h0m0-.9h0m0-5.6h0m.1-14.1h0m0-12.4h0m.1 32.9h0m.1-1h0m0 1h0m0-11.8h0m.1-54.4h0m.1 57.1h0m0 4.8h0m0 1.9h0m.1-12.2h0m0-17.5h0m0 25.3h0m.1-5.3h0m0-39.7h0m0 33.4h0m0 17.5h0m0-14.4h0m0 5.9h0m.1-2.5h0m0-9.8h0m0 20.6h0m.1-74.4h0m0 52.5h0m0 21.7h0m.1-4.7h0m.1 2.5h0m.1-11.8h0m0 5.8h0m0-7.2h0m.1-39h0m0 52.5h0m.1-.7h0m0-65.4h0m.1 39.3h0m.1 2.5h0m0 24.6h0m0-30.9h0m0 30.5h0m.1-1.2h0m0-8.6h0m0-33.8h0m0 22.2h0m0 6.8h0m0 8.2h0m0 4.1h0m.1-30.5h0m0-17.7h0m0-.1h0m0 40.3h0m.1-18h0m0-37.5h0m0 64.6h0m0-9.8h0m.1-21.7h0m0-2.6h0m0 22.7h0m0-12.1h0m.1 21.7h0m0-49h0m0 46.5h0m0 0h0m0-7h0m.2-.8h0m0 7.9h0m.1 2.8h0m0-31.3h0m0 32.3h0m.1-7h0m.1-16.9h0m0 11.7h0m0 5.5h0m.1-49.4h0m0 55.5h0m0-1.4h0m0-13.7h0m.1-.5h0m0 13.4h0m0-58.8h0m0 57.9h0m.1-13h0m0 9.9h0m.1-25.7h0m0 26.9h0m.1-51.5h0m0 31.2h0m0 12.5h0m0-7.5h0m.1 12.3h0m0 3.1h0m0-45.2h0m0 36h0m0 9.5h0m.1-15.4h0m0-22.1h0m0 24.3h0m0 3.6h0m0-25h0m.2-10.3h0m.1 36.2h0m0-6.1h0m0-26.4h0m.1-28.9h0m.2 37.3h0m0 19.6h0m.1 3.6h0m.1-32.9h0m.1 28.8h0m.1 1.2h0m0 8.9h0m.1-20.7h0m0-38.8h0m.1 44.1h0m0 14.5h0m0-.1h0m0-1.7h0m.1 1.2h0m0-7.8h0m.1-23.5h0m.1-9.3h0m0 43h0m0 .8h0m0-2.5h0m.1-26h0m0 24.6h0m0-46.2h0m0 22h0m.1 3.8h0m0 22.4h0m.1-14.5h0m0 15.9h0m0-12.8h0m0-1.6h0m0 6.5h0m.1-33.7h0m0 33.3h0m0-39.2h0m.2 32.3h0m0-26.3h0m0-13.3h0m0 53.5h0m.2-1h0m0-9.6h0m0 6.1h0m0-17.1h0m0 1.8h0m.1 11.6h0m0 7.3h0m0-30h0m.1 32.8h0m.1-50.8h0" stroke="#000080"/>
<polygon points="640.9,415.0 640.3,414.4 640.3,332.0 641.6,332.0 642.6,332.9 643.6,334.4 644.6,336.5 645.6,338.5 646.6,339.6 647.6,339.2 648.6,338.0 649.6,337.0 650.6,336.7 651.6,336.9 652.6,337.4 653.6,338.1 654.6,338.5 655.6,337.9 656.6,336.2 658.2,336.2 658.2,414.4 657.6,415.0" fill="#9999CC"/>
<path d="M641.5 297.8h0m.1-4.4h0m0 37.1h0m.1-2h0m.1-39.7h0m0 28.8h0m.1 9.7h0m.1-7.2h0m0 10.4h0m.1-54.6h0m0 55.4h0m.1-6.7h0m.1-1.8h0m0-6.1h0m0 1.3h0m0-19.7h0m0 .9h0m.1 10.4h0m0 15.2h0m0 3.5h0m0-3.9h0m.1-.3h0m.1 1.5h0m0 5.9h0m0-18.1h0m0 5.7h0m.1 3.1h0m0 9.3h0m0-34.9h0m.1 14.5h0m.1 18.2h0m0 1.5h0m0-3.5h0m0-39.5h0m0 44.6h0m.1-3.9h0m0-68.9h0m.1 69.5h0m0-5.3h0m0 6h0m0-28.4h0m0 9.4h0m.1 18.8h0m.1-24h0m0 26.2h0m.1-46.2h0m0 43.5h0m0-5.9h0m0-21.6h0m.1 27.4h0m.4-5.4h0m.2 6.9h0m0 1.7h0m0 2h0m.1-14.1h0m0-.6h0m.1-1.1h0m0 15.7h0m0-8.8h0m0 2.5h0m0 6.3h0m.1-.4h0m0-69h0m0 31.4h0m0 38.7h0m0-26.5h0m.1 16.9h0m0-30.1h0m0 18.1h0m.2 18.6h0m.1-3.3h0m0-16.1h0m.1 20.1h0m0-30.3h0m0 9.5h0m.2-14.2h0m0 33.5h0m0-70.6h0m.1 54.6h0m0-5.6h0m0 23.2h0m.1-2.1h0m0-1.3h0m0-16.7h0m0-21.7h0m.1 44h0m0-15.4h0m0 2.7h0m0 14.9h0m.1-37.5h0m0 7.8h0m.1-12.1h0m0 28h0m0 9.4h0m0-22.2h0m.1 20.4h0m.1-11.7h0m0 13.9h0m0-25.2h0m0-24.7h0m.1 40.6h0m.1 10.6h0m.1-5.2h0m0 7.8h0m0-22.8h0m.1 23.1h0m.1 1.4h0m0-.8h0m0-41.3h0m.1 39.9h0m0-.2h0m.1-1.9h0m0-26.5h0m0 21.5h0m.1-27h0m0-17.7h0m0 40.9h0m.1-6.6h0m0 11h0m0 5h0m0-10h0m.1 4.6h0m.1-8h0m0 15.3h0m0-4.4h0m0-25.8h0m0 6.8h0m.1 14.9h0m.1-5.9h0m.2-.7h0m.1 15.9h0m0-23.9h0m0-18.2h0m0 24.2h0m.1 11h0m0-46.9h0m0-8.6h0m.2 62.4h0m0-7.5h0m0-16.9h0m.2-16.7h0m0-8.3h0m0 40.3h0m0-37.6h0m0 46.1h0m.1-8.7h0m0-12.7h0m0 14h0m.1-58.7h0m0 56h0m.1-11.1h0m.1 12.9h0m0-19.8h0m.1 23h0m0-11.7h0m.2 11h0m0 .9h0m.1-13.6h0m0-16.6h0m0 34.1h0m.1-62.3h0m0 54.5h0m0 1.6h0m.1-6h0m0 9.7h0m.1 .9h0m0-18.5h0m0 6.4h0m0 11.7h0m0-29.7h0m0 8h0m.1-40.4h0m0 58.3h0m0-37.6h0m0 39.6h0m.1-27.2h0m0 18.4h0m0 7.4h0m0-16.9h0m.1 7.7h0m0-12h0m0 26.2h0m.1-37.4h0m0-8.7h0m.1 21.3h0m0 3.7h0m.1 21.7h0m0-18.8h0m0-5.2h0m.1 6.4h0m.1 10h0m0-27.5h0m0 20h0m0 13.4h0m.1-10.4h0m0 11.3h0m0-25.4h0m.1 14.6h0m0-21h0m.1-7.2h0m.1 25.2h0m0 1.3h0m0-94.1h0m.1 105.1h0m0-64.6h0m0 58.1h0m0-25.1h0m0 5.3h0m.1 6.5h0m0-27.7h0m0 32.6h0m.1-10.4h0m.1-3.1h0m0-53.6h0m0 51.7h0m.1-4.2h0m.1 22.7h0m0-.9h0m0 .2h0m.1 7.2h0m0-6.8h0m.1-41.9h0m0 12.8h0m0 31.4h0m0 2.4h0m.1-17.6h0m0 9h0m.1 5.4h0m0 6.9h0m.1-38.6h0m.1 21.4h0m0 14.9h0m0 6h0m.1-2.7h0m0-30.4h0m.1 27.4h0m0 2.4h0m0-90.2h0m0 81.8h0m.1 11.2h0m.1-6.7h0m0-56.6h0m0 36.2h0m.2 16h0m.1-.8h0m0 9.6h0m.2 3.5h0m0-2.4h0m0-24.2h0m.1-29.2h0m0 43.6h0m0-.5h0m0 5.7h0m.1-33.1h0m0 34.7h0m.1-10.7h0m.1-23h0m0 24.5h0m0-7.7h0m.2-26.9h0m.1 49.4h0m0-29.6h0m0 31.4h0m0-25.1h0m.1 3.6h0m0 12.2h0m0 4.6h0m0-.6h0m0-6.7h0m0-6.6h0m.1 16.1h0m0-3.9h0m0-.1h0m0 5.4h0m.1-15h0m.1-15.8h0m0 23.8h0m.1-37.8h0m0 44.5h0m0-25.4h0m0 11.6h0m0-78.6h0m.1 80.7h0m0 11.5h0m0-16.4h0m0-28.3h0m.1 15.4h0m.1 24.8h0m.1 1.2h0m0 3h0m0-21.5h0m0 18.4h0m0 4.7h0m.1-6.2h0m0-11h0m0 10.2h0m0-18.8h0m0 16.6h0m.1-12.1h0m.1 16.7h0m.2-49.7h0m0 13.6h0m0 18.9h0m.1-6.7h0m0 29.8h0m.1-29.7h0m0 29.7h0m.1-15.9h0m0 14h0m.1-47.6h0m0 43.6h0m0-51h0m.1 13.2h0m0 5.5h0m.2 0h0m0 34.6h0m0-40h0m.1 3.4h0m0 35.6h0m0-13.2h0m.2 16.6h0m0-103.2h0m0 87.9h0m.2-9.8h0m0-23.8h0m0 25.5h0m.1 1h0m0-21.4h0m0 43.5h0m.1-4h0m.2-21.3h0m0-43.5h0m0 27h0m.1 40.9h0m.1-9.3h0m0 6.1h0m0-5.4h0m.1 5.2h0m0-13.6h0m.1 1h0m0 4.4h0m0-36.5h0m0 27.3h0m.1 9.8h0m0-9h0m0 4.4h0m0-11h0m.1 16.4h0m0-1.6h0m0-33.4h0m.1 44.7h0m0-14.6h0m0 8.3h0m0-10.2h0m.1 5.1h0m0-2h0m0-63.5h0m.1 68.6h0m0-59.5h0m0 51.9h0m.2-91.9h0m0 97.1h0" stroke="#9999CC"/>
<polygon points="659.8,415.0 659.2,414.4 659.2,337.8 660.5,337.8 661.5,340.1 662.5,341.9 663.5,341.4 664.5,338.7 665.5,334.9 666.5,331.4 667.5,329.4 669.0,329.4 669.0,414.4 668.4,415.0" fill="#000080"/>
<path d="M660.5 330.8h0m0-29.7h0m0 29.3h0m0-1.1h0m0-47.9h0m.1 54.1h0m0 .8h0m0-26.5h0m.1 23.5h0m0-6.6h0m0-12.2h0m0 21.1h0m.1-23.7h0m.1-53.3h0m0 23.9h0m0 51h0m0-34.1h0m.1 16.2h0m0-8.3h0m0 15.6h0m0 11.6h0m.1-3.8h0m0-28.6h0m0 34.3h0m0 1.4h0m0-31.2h0m.1 23.7h0m.1 1.9h0m0-7.4h0m0 11.1h0m0-2.7h0m.2-43.5h0m.1 39.9h0m0-61.7h0m0 56.6h0m0 4.5h0m0 3.5h0m.2 6.5h0m.1-19.3h0m0-13.5h0m0 30.1h0m.1-20.7h0m0-6h0m0 22h0m0 0h0m.1 6.3h0m.1-1.2h0m0-13h0m0 7.8h0m.1-2.8h0m0 3.8h0m.2 3.6h0m0-48.8h0m.1 40.3h0m0 12.8h0m0 0h0m0-11h0m.1 4.7h0m0-19.6h0m0 11.1h0m0 13h0m0-9.3h0m0-13.2h0m.1 23.3h0m0-71.5h0m0 53.3h0m0-13.3h0m.2-49.7h0m.1 73.2h0m0 4.5h0m0 5.1h0m0-40.4h0m.3-4h0m0 43.4h0m.1-3.7h0m.1-62.9h0m0 65.3h0m0-3.1h0m0-41.3h0m0-40.1h0m.1 10.6h0m0 52h0m0-42.3h0m0 41.6h0m0-17.7h0m0 13h0m.1 23.4h0m0-3.6h0m0 0h0m.1-8.2h0m0 16.6h0m0-2.8h0m.1-.7h0m0-.8h0m.1-17.9h0m0 20.1h0m0-45.9h0m.1 46.4h0m.1-4.8h0m0-4.1h0m0-2.8h0m0-14.9h0m0-61.8h0m0 80.5h0m.1-7h0m0 6.5h0m.1-9h0m0 17.9h0m0-36.2h0m.1 31.1h0m0-57.9h0m.1 49.5h0m0-26.4h0m0 12h0m.1 10.3h0m0-.1h0m.1 10.8h0m0-9.5h0m0 2h0m.1 4.1h0m0-5.3h0m0-69.1h0m.1 55.3h0m0-7.6h0m.1 29.4h0m0-13.5h0m.1-27.3h0m0 22.6h0m0-8.9h0m0 17.9h0m.1 6.2h0m.1 6h0m0-23.6h0m.1-24.3h0m.1 42h0m.1-16.5h0m0-58.5h0m.1 62.4h0m0 6.4h0m0-4.4h0m0-10.4h0m.1-3h0m0 12.6h0m.1 12h0m0-25.9h0m0 15.7h0m0-6.9h0m.1-.4h0m.1-45h0m0 37.4h0m.1-.4h0m0 19.6h0m.1 6.1h0m0 1h0m.1-14.1h0m.1 4.1h0m.1-28.6h0m0-11.4h0m.1 26.8h0m0-3.1h0m0 11.3h0m0-34.8h0m.1 1.2h0m0 29.3h0m0-3.2h0m0-9.3h0m.1 26.2h0m0-7.3h0m.1 1.5h0m0-22.7h0m.2 25.8h0m.1-4.3h0m0-26h0m0 1.9h0m.1 28.5h0m0 6h0m0-14.1h0m0-6.8h0m0 5.7h0m.1-29.2h0m0 45h0m0-27.2h0m.1 15.6h0m0 7h0m0 2.5h0m0-16.4h0" stroke="#000080"/>
<polygon points="670.6,415.0 670.0,414.4 670.0,305.8 671.3,305.8 672.3,308.4 673.3,312.7 674.3,317.1 675.3,320.8 676.3,323.7 677.3,326.3 678.3,327.9 679.6,327.9 679.6,414.4 679.0,415.0" fill="#9999CC"/>
<path d="M671.2 282.4h0m.1 15.7h0m0 4.1h0m0-7.1h0m0-33.5h0m.2 29.2h0m0-3.8h0m.1 15.6h0m.1-21h0m0 13.6h0m.1-6.4h0m.1-34.2h0m.1 18.7h0m.1 23.7h0m0-6.1h0m0-18.4h0m.1-7.5h0m0 24.1h0m0 16.1h0m.1-.2h0m0-4.6h0m0 4.9h0m0-10.2h0m0 4.2h0m.1-3.6h0m0-16.7h0m0-21.5h0m0 46.2h0m.2-23.2h0m0 14.7h0m.1 .5h0m0-22.9h0m0-29.9h0m0 40.9h0m0 8.6h0m.1-6.7h0m.1 15.9h0m0-4.2h0m0-2.4h0m.1-16.6h0m0 27.1h0m0-69.4h0m0 56.2h0m.3 6.7h0m0 9.4h0m.1-12.5h0m0-12.3h0m.1 20.9h0m0-5.2h0m.1-21.4h0m.1 11h0m.1-51.3h0m0 66.5h0m0-28.7h0m0-5.4h0m.1 35.2h0m0 .4h0m.1-44h0m.1 51.4h0m0-17.6h0m.1 17.4h0m.3-24.1h0m0 27.1h0m.1-3.2h0m.1-.7h0m0-28.9h0m0 19.6h0m.1 9.1h0m0-6.9h0m0 2h0m0 5.1h0m.1 2.2h0m0-1.6h0m.1-35.4h0m0 38.2h0m.1-6.5h0m.1 10.7h0m.1-18.5h0m0 17.4h0m0-37.9h0m.1 24.1h0m.1-52.5h0m0 35.9h0m0 22.3h0m.1-11.3h0m0-8.1h0m0 11.9h0m0 16.6h0m0-30.1h0m.1 31.6h0m.1-12.8h0m0 6.4h0m0-8.1h0m.1 .3h0m0 8.2h0m.2-12.4h0m0-53.2h0m.1 70.6h0m0-4.2h0m0 .8h0m.1-22.6h0m0 2.7h0m0 17.3h0m0 8.6h0m0-.4h0m.1-27.9h0m0 27h0m0-1.3h0m0-.3h0m.1-10.4h0m0-10.6h0m.1-25h0m0 43.5h0m0-68.4h0m.1 65.7h0m0-9.1h0m0-2.4h0m0 4.4h0m0-50.2h0m.1 42.8h0m0 2.3h0m.1 11.2h0m0 11.3h0m0-13.4h0m0-30.4h0m.1 36.6h0m.1 1.3h0m.1 .3h0m0-51h0m0 16.1h0m.1 16.1h0m0 8.2h0m.1 8.1h0m.1 2.1h0m0-21.9h0m0 4.1h0m0-8.4h0m.1 27.2h0m0-1.2h0m0-1.9h0m0 8.9h0m0-30.8h0m0 3.6h0m0 26.5h0m.1-27.6h0m.1 5.9h0m.1 15.4h0m0-68.3h0m.1 20.8h0m0 46.3h0m0-9.3h0m.1 .8h0m0 13.8h0m0-3.5h0m.1 4.9h0m.2-1.1h0m.1-4.5h0m0-44.9h0m0 52.5h0m0 1.2h0m.1-14.1h0m0-84h0" stroke="#9999CC"/></g><path d="M41.6 219h0m.6 3.5h0m.4 2h0m.9-38.5h0m.4-8.2h0m1 39.5h0m.5-39.9h0m0 6.7h0m0 20.3h0m1 7.2h0m28.5 11.4h0m1.9 1h0m7.2-71.8h0m5.7 70.2h0m63.9-37.4h0m1 3.5h0m5.7 35.5h0m.3 0h0m19.3-8h0m2.5-6.1h0m0 7.8h0m.4-136.5h0m7.2 121.1h0m2.6 0h0m51.3-38.7h0m15.2 20.7h0m6.4 8.5h0m1.2 6.9h0m0 12.5h0m48.1-4.4h0m0 8h0m1.1-11.2h0m6.3 9.1h0m2.3-41h0m1.9 47.4h0m3.8-14.2h0m4.7 12.4h0m.4-80.7h0m.2 76.5h0m53.5 7h0m8.4-24.3h0m0 12.5h0m12.1-11.7h0m0 16.1h0m.4-4.4h0m37.1-11h0m6.3 1.9h0m0 9.1h0m4.1 12.2h0m2.3-22.2h0m2.5-2.5h0m4.2-13.3h0m1.5 26.2h0m.4 5.7h0m39.3 7.2h0m14-17.6h0m4.9-39.7h0m39.7-69.2h0m28.4 69.2h0m6.5 53.4h0m.7-1.8h0m1.5 6.8h0m1.1-14.4h0m6.6-8.1h0m.6 1.1h0m18.2 5.9h0m1.5-4.8h0m1.1 2.6h0m.2-75.4h0m.3 .1h0m3.3 40.3h0m1.7 52.7h0m.7-8.3h0m0 6.6h0m26-16.9h0m.9 13.6h0" stroke="#000080" stroke-width="2.6" stroke-linecap="round"/><path d="M97.3 211.6h0m1.3-21.2h0m0 10.2h0m0 14.4h0m.4 1.9h0m1.9 3.6h0m.5-25.4h0m7.2 29.8h0m5.2-6.3h0m4.1-.7h0m21.5-33.2h0m8.1 19.9h0m46.7-12.3h0m0 2.8h0m9.8 26.2h0m17.5-32.5h0m9.1 27.7h0m47.1-29.9h0m5.7-24h0m0 50.1h0m11.5-3.7h0m3.4 6.4h0m51.2-112.3h0m0 1.9h0m0 6.5h0m0 13.7h0m0 41.8h0m0 38h0m1.9-35.5h0m.4-10.3h0m2.1 65.7h0m.4-28.5h0m10-26.5h0m2.7 42.1h0m4.9 12.5h0m4.2-14.6h0m2.8-84.2h0m34.5 80.6h0m.1-.4h0m4.5-30.9h0m5.7 13.1h0m0 35.5h0m5.7-47.5h0m1.1-9.9h0m1.9 50.2h0m.4-31.7h0m4.7-38h0m4.7-55.1h0m0 31.8h0m31 81h0m1.3 10.6h0m10.1-8.7h0m.9-41.8h0m12.8 36.5h0m3.2 1.9h0m31.9 14.8h0m8.8-10.6h0m2.7 6.1h0m4.3 8.8h0m25.2-14.3h0m.5-24.3h0m7-9.2h0m3.5 16.7h0m3.9-20.4h0m1.5 53h0m1.8-3.7h0m1.1-10.5h0m0 8.9h0m18.8-8.9h0m7.9 0h0m3.9-36.8h0m.5 42.5h0m3.9 2.1h0m21.7 .5h0m1.7-82.8h0m.2-.1h0m.1 54.4h0m2.6 10.5h0m16.6 23.5h0m2.2-23.9h0" stroke="#9999CC" stroke-width="2.6" stroke-linecap="round"/>
<rect x="43.6" y="41" width="1.5" height="381" fill="#D6D6D6" opacity="0.6"/>
<line x1="43.3" y1="41" x2="43.3" y2="422" stroke="#AFAFAF" stroke-width="1.1" opacity="0.9"/>
<line x1="45.4" y1="41" x2="45.4" y2="422" stroke="#AFAFAF" stroke-width="1.1" opacity="0.9"/>
<line x1="55.7" y1="41" x2="55.7" y2="422" stroke="#AFAFAF" stroke-width="1.1" opacity="0.9"/>
<line x1="92.6" y1="41" x2="92.6" y2="422" stroke="#AFAFAF" stroke-width="1.1" opacity="0.9"/>
<line x1="112.9" y1="41" x2="112.9" y2="422" stroke="#AFAFAF" stroke-width="1.1" opacity="0.9"/>
<line x1="141.4" y1="41" x2="141.4" y2="422" stroke="#AFAFAF" stroke-width="1.1" opacity="0.9"/>
<line x1="199.4" y1="41" x2="199.4" y2="422" stroke="#AFAFAF" stroke-width="1.1" opacity="0.9"/>
<line x1="215.5" y1="41" x2="215.5" y2="422" stroke="#AFAFAF" stroke-width="1.1" opacity="0.9"/>
<line x1="270.6" y1="41" x2="270.6" y2="422" stroke="#AFAFAF" stroke-width="1.1" opacity="0.9"/>
<line x1="283" y1="41" x2="283" y2="422" stroke="#AFAFAF" stroke-width="1.1" opacity="0.9"/>
<line x1="314.8" y1="41" x2="314.8" y2="422" stroke="#AFAFAF" stroke-width="1.1" opacity="0.9"/>
<line x1="349.4" y1="41" x2="349.4" y2="422" stroke="#AFAFAF" stroke-width="1.1" opacity="0.9"/>
<line x1="412.9" y1="41" x2="412.9" y2="422" stroke="#AFAFAF" stroke-width="1.1" opacity="0.9"/>
<line x1="521.3" y1="41" x2="521.3" y2="422" stroke="#AFAFAF" stroke-width="1.1" opacity="0.9"/>
<line x1="568" y1="41" x2="568" y2="422" stroke="#AFAFAF" stroke-width="1.1" opacity="0.9"/>
<line x1="603.3" y1="41" x2="603.3" y2="422" stroke="#AFAFAF" stroke-width="1.1" opacity="0.9"/>
<line x1="627.6" y1="41" x2="627.6" y2="422" stroke="#AFAFAF" stroke-width="1.1" opacity="0.9"/>
<line x1="640.5" y1="41" x2="640.5" y2="422" stroke="#AFAFAF" stroke-width="1.1" opacity="0.9"/>
<line x1="34.8" y1="139" x2="685" y2="139" stroke="#C8C8C8" stroke-width="1" stroke-dasharray="3.7 4.1"/>
<text x="38" y="129.8" font-size="9.4" fill="#C4C4C4">9e−07</text>
<line x1="34.8" y1="41" x2="34.8" y2="422.5" stroke="#D0D0D0" stroke-width="1.1"/>
<line x1="34.8" y1="422" x2="685" y2="422" stroke="#CDCDCD" stroke-width="1.2"/>
<line x1="32.1" y1="414.00" x2="34.8" y2="414.00" stroke="#444" stroke-width="1.1"/>
<text x="30.6" y="417.85" font-size="10.8" fill="#4D4D4D" text-anchor="end">0</text>
<line x1="32.1" y1="322.94" x2="34.8" y2="322.94" stroke="#444" stroke-width="1.1"/>
<text x="30.6" y="326.79" font-size="10.8" fill="#4D4D4D" text-anchor="end">2</text>
<line x1="32.1" y1="231.88" x2="34.8" y2="231.88" stroke="#444" stroke-width="1.1"/>
<text x="30.6" y="235.73" font-size="10.8" fill="#4D4D4D" text-anchor="end">4</text>
<line x1="32.1" y1="140.82" x2="34.8" y2="140.82" stroke="#444" stroke-width="1.1"/>
<text x="30.6" y="144.67" font-size="10.8" fill="#4D4D4D" text-anchor="end">6</text>
<line x1="32.1" y1="49.76" x2="34.8" y2="49.76" stroke="#444" stroke-width="1.1"/>
<text x="30.6" y="53.61" font-size="10.8" fill="#4D4D4D" text-anchor="end">8</text>
<line x1="68.5" y1="422" x2="68.5" y2="424.7" stroke="#444" stroke-width="1.1"/>
<text x="68.5" y="434.5" font-size="10.8" fill="#4D4D4D" text-anchor="middle">1</text>
<line x1="123.1" y1="422" x2="123.1" y2="424.7" stroke="#444" stroke-width="1.1"/>
<text x="123.1" y="434.5" font-size="10.8" fill="#4D4D4D" text-anchor="middle">2</text>
<line x1="172" y1="422" x2="172" y2="424.7" stroke="#444" stroke-width="1.1"/>
<text x="172" y="434.5" font-size="10.8" fill="#4D4D4D" text-anchor="middle">3</text>
<line x1="214.6" y1="422" x2="214.6" y2="424.7" stroke="#444" stroke-width="1.1"/>
<text x="214.6" y="434.5" font-size="10.8" fill="#4D4D4D" text-anchor="middle">4</text>
<line x1="256.2" y1="422" x2="256.2" y2="424.7" stroke="#444" stroke-width="1.1"/>
<text x="256.2" y="434.5" font-size="10.8" fill="#4D4D4D" text-anchor="middle">5</text>
<line x1="294.8" y1="422" x2="294.8" y2="424.7" stroke="#444" stroke-width="1.1"/>
<text x="294.8" y="434.5" font-size="10.8" fill="#4D4D4D" text-anchor="middle">6</text>
<line x1="332.4" y1="422" x2="332.4" y2="424.7" stroke="#444" stroke-width="1.1"/>
<text x="332.4" y="434.5" font-size="10.8" fill="#4D4D4D" text-anchor="middle">7</text>
<line x1="365.3" y1="422" x2="365.3" y2="424.7" stroke="#444" stroke-width="1.1"/>
<text x="365.3" y="434.5" font-size="10.8" fill="#4D4D4D" text-anchor="middle">8</text>
<line x1="396.9" y1="422" x2="396.9" y2="424.7" stroke="#444" stroke-width="1.1"/>
<text x="396.9" y="434.5" font-size="10.8" fill="#4D4D4D" text-anchor="middle">9</text>
<line x1="428.1" y1="422" x2="428.1" y2="424.7" stroke="#444" stroke-width="1.1"/>
<text x="428.1" y="434.5" font-size="10.8" fill="#4D4D4D" text-anchor="middle">10</text>
<line x1="457.9" y1="422" x2="457.9" y2="424.7" stroke="#444" stroke-width="1.1"/>
<text x="457.9" y="434.5" font-size="10.8" fill="#4D4D4D" text-anchor="middle">11</text>
<line x1="487.6" y1="422" x2="487.6" y2="424.7" stroke="#444" stroke-width="1.1"/>
<text x="487.6" y="434.5" font-size="10.8" fill="#4D4D4D" text-anchor="middle">12</text>
<line x1="515.1" y1="422" x2="515.1" y2="424.7" stroke="#444" stroke-width="1.1"/>
<text x="515.1" y="434.5" font-size="10.8" fill="#4D4D4D" text-anchor="middle">13</text>
<line x1="540.1" y1="422" x2="540.1" y2="424.7" stroke="#444" stroke-width="1.1"/>
<text x="540.1" y="434.5" font-size="10.8" fill="#4D4D4D" text-anchor="middle">14</text>
<line x1="563.4" y1="422" x2="563.4" y2="424.7" stroke="#444" stroke-width="1.1"/>
<text x="563.4" y="434.5" font-size="10.8" fill="#4D4D4D" text-anchor="middle">15</text>
<line x1="584.1" y1="422" x2="584.1" y2="424.7" stroke="#444" stroke-width="1.1"/>
<text x="584.1" y="434.5" font-size="10.8" fill="#4D4D4D" text-anchor="middle">16</text>
<line x1="603.4" y1="422" x2="603.4" y2="424.7" stroke="#444" stroke-width="1.1"/>
<line x1="621.3" y1="422" x2="621.3" y2="424.7" stroke="#444" stroke-width="1.1"/>
<text x="621.3" y="434.5" font-size="10.8" fill="#4D4D4D" text-anchor="middle">18</text>
<line x1="636.3" y1="422" x2="636.3" y2="424.7" stroke="#444" stroke-width="1.1"/>
<line x1="650" y1="422" x2="650" y2="424.7" stroke="#444" stroke-width="1.1"/>
<text x="650" y="434.5" font-size="10.8" fill="#4D4D4D" text-anchor="middle">20</text>
<line x1="662.1" y1="422" x2="662.1" y2="424.7" stroke="#444" stroke-width="1.1"/>
<line x1="672.5" y1="422" x2="672.5" y2="424.7" stroke="#444" stroke-width="1.1"/>
<text x="672.5" y="434.5" font-size="10.8" fill="#4D4D4D" text-anchor="middle">22</text>
<text x="360" y="449.2" font-size="12.8" text-anchor="middle">Chromosome</text>
<text transform="translate(15.7,231.7) rotate(-90)" font-size="13.2" text-anchor="middle">−log<tspan font-size="9.6" dy="2.4">10</tspan><tspan dy="-2.4" font-size="15.4">(</tspan><tspan font-style="italic">p</tspan><tspan font-size="15.4">)</tspan></text>
<text x="55.8" y="214.1" font-size="8.3" fill="#000" stroke="#000" stroke-width="0.15" textLength="29.2" lengthAdjust="spacingAndGlyphs">LGALS8</text>
<text x="142.1" y="176.3" font-size="8.3" fill="#000" stroke="#000" stroke-width="0.15" textLength="20.3" lengthAdjust="spacingAndGlyphs">NRP2</text>
<text x="282.1" y="158.6" font-size="8.3" fill="#000" stroke="#000" stroke-width="0.15" textLength="29.3" lengthAdjust="spacingAndGlyphs">MPIG6B</text>
<text x="350.6" y="98.5" font-size="8.3" fill="#000" stroke="#000" stroke-width="0.15" textLength="28.2" lengthAdjust="spacingAndGlyphs">MIR596</text>
<text x="568.7" y="90.5" font-size="8.3" fill="#000" stroke="#000" stroke-width="0.15" textLength="29.6" lengthAdjust="spacingAndGlyphs">CYP1A1</text>
<rect x="60.1" y="34.9" width="0.9" height="0.9" fill="#666"/>
<rect x="152.2" y="35" width="2.4" height="0.8" fill="#666"/>
<text x="-0.3" y="10.7" font-size="16.2">A.</text>
<g stroke-width="2.6" stroke-linecap="round"><polygon points="49.6,922.6 49.0,922.0 49.0,836.1 50.3,836.1 51.3,833.8 52.3,831.0 53.3,828.1 54.3,825.1 55.3,823.0 56.3,823.3 57.3,826.4 58.3,830.6 59.3,833.5 60.3,833.8 61.3,832.8 62.3,839.7 63.3,857.9 64.3,859.2 65.3,861.0 66.3,862.0 67.3,861.5 68.3,859.0 69.3,841.8 70.3,836.1 71.3,835.9 72.3,837.3 73.3,839.5 74.3,841.5 75.3,843.1 77.3,843.1 77.3,922.0 76.7,922.6" fill="#000080"/><polygon points="81.0,922.6 80.4,922.0 80.4,846.5 81.7,846.5 82.7,846.2 83.7,845.9 84.7,846.0 85.7,846.7 86.7,846.8 87.7,845.4 88.7,843.0 89.7,841.6 90.7,842.1 91.7,845.0 92.7,846.4 93.7,845.8 94.7,844.0 95.7,841.9 96.7,840.6 97.7,840.4 98.7,841.2 99.7,843.2 100.7,846.0 101.7,848.6 103.6,848.6 103.6,922.0 103.0,922.6" fill="#000080"/>
<path d="M50.2 817.5h0m0 2.6h0m.1-13.9h0m.1 4h0m0 24.8h0m0-16.8h0m.1 5.1h0m0-21h0m0-38.7h0m0 64.3h0m0-44.9h0m.1 32h0m0 18.6h0m.2-2.9h0m0-44.1h0m.3 3.5h0m0 39.5h0m0-22.7h0m0 10.6h0m.1-49h0m0 39.6h0m0-7h0m0 28.6h0m.1-1.5h0m.1-16.4h0m.1-40.1h0m.1 53.9h0m0-2.2h0m.1 2.2h0m0-1.2h0m.1-22.8h0m0-7.4h0m0 35.6h0m.1 1.1h0m0-8.2h0m.1-1.9h0m0 9.1h0m0-17.7h0m.1 18.7h0m0-21.9h0m.1 1.5h0m.1 13.2h0m0-1.7h0m.1 3.1h0m0-9.8h0m.1 7.3h0m0-15.9h0m0 14.4h0m.1-8.5h0m0-1.4h0m.1 16.2h0m0-13.9h0m.1 15.5h0m0-11.9h0m0 8h0m.1-9.1h0m0 12.8h0m.1-4h0m0-17.9h0m0 7.5h0m.1 4.3h0m.1-27.9h0m0 3.4h0m.1 24.8h0m0-34.1h0m.1 7h0m0 5.4h0m0 29.4h0m0-1.8h0m.1-38.5h0m.1 28h0m0 12.5h0m0-14.2h0m.1 10h0m.1-11.6h0m0 .6h0m.1 12.3h0m0-27.9h0m.1 12.5h0m.1 15.7h0m.1-10.8h0m0 9.5h0m0-19.5h0m.1 6.5h0m0-22.3h0m.1 23.2h0m0 7.6h0m0-11.3h0m.1 11.7h0m.1-5.9h0m.1 5.9h0m0-6.2h0m.1-3.4h0m.1 12.3h0m0-1.8h0m.1-14.8h0m.1 13.2h0m0 .3h0m.1 1.9h0m0-16.5h0m.1 8.7h0m.1 5.1h0m.1-14.1h0m0 9.8h0m.1 5.5h0m0-21.2h0m.1-25.7h0m.1 47.7h0m0-49h0m.1 35.3h0m0 2.8h0m0 4.5h0m.1-11.8h0m0 13h0m0-8.6h0m0-5.5h0m.1 16.1h0m.2-3.5h0m.1-12.1h0m.1 18.6h0m.1-8.8h0m.1 9h0m0-.4h0m.1-9.6h0m.1-2.5h0m0-9.6h0m.1 15.2h0m0 9.3h0m0-.1h0m.1-19.7h0m0 18h0m.1-19.4h0m0 10.5h0m0-35h0m0 47.8h0m.1-3.4h0m.1-15.6h0m0 3.1h0m.1 3.4h0m.1-.7h0m0 1.6h0m.2 .1h0m.1-40.1h0m0 32.7h0m.1 5.8h0m0 11.9h0m.1-14.6h0m0 14.5h0m0-10.5h0m0 2.8h0m0-12.1h0m.2 13.6h0m0 .2h0m.1-43.1h0m0 12.7h0m0 42h0m.2-5.6h0m0-1.1h0m0-5.7h0m.1 9.2h0m0-30.1h0m0 8.9h0m.1 17.7h0m0-12.8h0m0 6.1h0m0 .3h0m.2 14.6h0m.1-31.9h0m.1 26h0m.1 3h0m0-2.2h0m.1-31.9h0m.1 13.3h0m0 7.9h0m.1 13.7h0m0-5h0m0-54h0m0 20.8h0m.1 32.6h0m0-6h0m0-16.7h0m.1 25.2h0m0 4h0m0-3.1h0m.1 7.1h0m0-5.2h0m.1-9h0m.1 4.2h0m.2-11.8h0m.1 20.1h0m0-41.9h0m0 23.9h0m.1 9.2h0m.2 3.9h0m0-.7h0m0 6.4h0m0-1.6h0m0-23.5h0m.1 14h0m.3 4.9h0m.1-10.1h0m0 14.2h0m0-10.7h0m.1-16.6h0m0 21.2h0m0 .8h0m.1-26.4h0m.1 13.1h0m0 12.2h0m.1 3.6h0m.1 1.9h0m0-10.6h0m.1-27.5h0m.1 20.7h0m.1 0h0m0 16.6h0m0-.9h0m0 2h0m.1-34h0m0 24h0m0 2.8h0m.1-5.2h0m0 13.8h0m.1-4.7h0m.1 6.5h0m0-3.7h0m.1-5.4h0m0 14.7h0m.1 2.7h0m0-14.3h0m0 10.5h0m.1-5.5h0m0 4.4h0m.1-44.2h0m0 54.3h0m.1-1.6h0m0-64.1h0m.1 59.4h0m0 11.9h0m0-15h0m.1-23.3h0m.1 27.2h0m.1-20.9h0m0 37.1h0m0-49.4h0m.2 22.1h0m.1-.7h0m0 17.6h0m.1 10.2h0m.1-9.2h0m0 9.4h0m0-1.3h0m.1-5.5h0m0-11.4h0m.1 18.5h0m.1-16.1h0m.1-.2h0m.1 7.4h0m.2-21.4h0m0 30.5h0m0-10.4h0m.1-27.6h0m.1 32.9h0m0-18.5h0m0 24.9h0m.2-20.4h0m0 15.7h0m.1-.1h0m0-19.3h0m.1 24.6h0m.1 .7h0m0-4h0m0-27.2h0m.1 17.1h0m0-13.8h0m0 16.7h0m.1 10.5h0m.1-15.5h0m0-26.6h0m.1 24h0m0 17.8h0m0-5.2h0m0 6.8h0m.1-2.2h0m0-9.9h0m.1 2.5h0m0-15.9h0m.1 22.9h0m.3-21.5h0m0 21.1h0m0-11.2h0m.1 14.7h0m0-7.5h0m.1-23.1h0m0 15.4h0m.1 14.8h0m0 1h0m0-21h0m.1 16h0m.1-18.4h0m0 10.6h0m.1 9.1h0m0 1.5h0m0-21.9h0m0 21.2h0m.1-24.8h0m0 7.3h0m0-18.2h0m0 25.5h0m.1 3.1h0m.1 .1h0m0-43.2h0m0 33.8h0m0 17.7h0m0-11.8h0m.2 2.2h0m0-32.7h0m0 42.7h0m.1-18.9h0m0-23.8h0m0-33.3h0m.2 75.3h0m.1-55.6h0m0 30.2h0m0 1.6h0m.1 23.1h0m0-1.2h0m0-16.4h0m0-4.3h0m0-9.3h0m.1-2.6h0m0 3.6h0m0 29h0m.1-18.2h0m0 1.8h0m.1-1.5h0m0 18h0m0-16.2h0m.1-22.1h0m.1 37.6h0m0-22.9h0m0 18.6h0m0-.5h0m0-11.3h0m0 9.1h0m.1-43.3h0m0 50.9h0m.2-1.3h0m.1-15h0m0-6.2h0m0 7.6h0m0 1.6h0m.1-1.3h0m0 7.4h0m0-38.4h0m0 37.7h0m.1-35.4h0m0 8.6h0m.1 6.3h0m0 10h0m.1-34.6h0m0 44h0m.1-23.7h0m0-12h0m0 18.5h0m0-52.6h0m0 56h0m.1-10.9h0m.1 2.6h0m0-5.6h0m.1 12.7h0m.2-1.4h0m.1-21.9h0m0-5.7h0m.1 26.5h0m0-.3h0m0-12.6h0m.1 11.4h0m.1 3.3h0m0-58.7h0m0 23.7h0m.2 13.8h0m.1 23h0m.2-6h0m.1-38.4h0m.1-6.9h0m0 42.9h0m.1-6h0m0 12.8h0m.1-23h0m0 15.6h0m0-2.9h0m0 7.1h0m.1 5.2h0m.3-18.3h0m.1 11.3h0m0-22h0m.1 27.6h0m.1-7h0m.1-6.5h0m.1-2.1h0m0-35.4h0m0 44.8h0m.1 4.1h0m.1 3h0m0-22.8h0m.1 17.6h0m0-7.5h0m.1 3.8h0m0 9.8h0m.1-6.5h0m0-65.7h0m.1 67.8h0m0-1.9h0m.1-11.5h0m.1 8.9h0m0-9.1h0m0 10.8h0m0-1.1h0m.1-18.1h0m0-25.9h0m0 53.4h0m0-.9h0m.1-44.7h0m0 25.7h0m0-51.1h0m.1 47.6h0m0-15.9h0m0 27.3h0m.1-23.6h0m.1 26h0m0 8.7h0m.1-7.8h0m0 4.7h0m.2-5.4h0m0-27.2h0m0 28h0m.1 11.1h0m.1-.3h0m0-28.9h0m.1-10.8h0m0-.5h0m0 24.1h0m0 12.6h0m.1-6.2h0m0-15.2h0m.1 17.9h0m0 3.8h0m0-1.7h0m0-8.5h0m0 9.7h0m.1 5.1h0m0-24.5h0m.1-19.6h0m0 38.7h0m.1 .5h0m.1-19.1h0m0 8.2h0m.2 14.4h0m.1-.6h0m0 2.4h0m0-1.5h0m0 .6h0m.2-48.1h0m.2 48.6h0m.1 2h0m.1-5.4h0m0 2.6h0m.1-7.6h0m0 2.6h0m0 1.1h0m.1-13.5h0m0 6.1h0m0-26.6h0m0 34.6h0m.1-46.9h0m0 48.5h0m0-2h0m.1 4h0m.2-22.7h0m0 21.4h0m0-56.3h0m.1 47.3h0m0 11.5h0m0-19.2h0m0 19.2h0m.1-67.8h0m5.6 58.9h0m0 13.7h0m.2-5.3h0m0-23.6h0m0 5.5h0m.1 20.3h0m0-1.4h0m0 4.4h0m.1-8.5h0m.1-31.2h0m.1 33.9h0m0-8.9h0m.1 .4h0m.1-17.3h0m.1 28.6h0m0 2.2h0m0-11.7h0m0-24.9h0m.1 2.1h0m0 33.1h0m0-1.5h0m.1-8.7h0m0-11.9h0m0-10.1h0m0 30.6h0m.1-.6h0m.1-.3h0m0-30.5h0m.1 24.8h0m0 4.5h0m.1-59.4h0m0 55.7h0m0 2.3h0m0-49.8h0m.1 23.5h0m.2 21.1h0m.1 2.4h0m0 9.7h0m.1-3.1h0m.1-25.7h0m0-4h0m0-1.8h0m0 19.8h0m.1-10.1h0m.1 6.2h0m0 15.2h0m0 .7h0m.2-3.1h0m0-9.2h0m0 6.3h0m.1-17.3h0m0 23.9h0m0-29.9h0m0 14.5h0m0-30.2h0m.1 15.4h0m.1 29.9h0m0-2h0m.1-45.9h0m.1 44.1h0m0-23.2h0m0 11.3h0m0 8.8h0m0 5h0m.1-15.2h0m.1 18.7h0m0-13.7h0m0-53.5h0m.1 48.4h0m.1 18.4h0m0-6.7h0m0-23.2h0m.1 19.6h0m.1 2.8h0m.1 .5h0m0-40.3h0m.1 25.4h0m.1 1.7h0m0 15h0m0-11.3h0m0-11.2h0m0 19.8h0m0-9.5h0m.1 15.1h0m0-11.4h0m0-1.6h0m.2 16h0m0-.3h0m.1-23h0m0 17.3h0m0 2.4h0m.1-35.3h0m.1 26.2h0m0-34.9h0m.1 36h0m.1-22.9h0m0 30h0m0-7.7h0m0 9.4h0m.1-2.6h0m0 2h0m.2-19.7h0m0 17.2h0m.1 3.5h0m.1-4.5h0m.1-42.4h0m0 41h0m.1 6.3h0m0-29.7h0m0-26.1h0m0-9.2h0m.2 54.3h0m0-5.7h0m.1-30.1h0m0 39.7h0m.1 7.7h0m0-21.7h0m0-8.1h0m0 28.3h0m0-11.2h0m.1 4.1h0m.1-1.3h0m0 6h0m.2 4.6h0m0-9.1h0m.1-6.8h0m0-14.6h0m0 29.5h0m.1-5.1h0m0-.9h0m0 3.4h0m0 3h0m0-5.9h0m.1-43h0m0 47.5h0m.1-12h0m0 5.6h0m.1 .2h0m0 4.5h0m.1-47.2h0m0 27.8h0m.1-1.7h0m.2 22.8h0m0-28.4h0m.1 9h0m.1 17.3h0m.1-11.2h0m0-9.8h0m.1-4.3h0m0 14.3h0m.1-45.5h0m0 48h0m.1-2.8h0m0-7.5h0m0 6.4h0m.1-4.6h0m0 6.8h0m.1 1.4h0m.1-27.4h0m0 11.5h0m0 24.7h0m0-11h0m0-25h0m.1 36.1h0m0-14.3h0m.1-19.7h0m0 11.6h0m0 20.7h0m0-6.4h0m0-16.8h0m.1 17.6h0m0-70.9h0m0 32.5h0m.2 45.9h0m0-37h0m.1 23.5h0m.1 2.7h0m.1 8.2h0m.1-23h0m.1 8.5h0m.1 16.7h0m0 1.3h0m.1-39.4h0m0 36.5h0m0-14.4h0m.1-9.8h0m.1 16.9h0m0-3.3h0m0-8.2h0m0-3.1h0m.1-7.7h0m0-31.3h0m0 20.4h0m.1-6.5h0m0 23.2h0m.1 25h0m0-53.6h0m0 52.6h0m0-22.2h0m.2 26.6h0m0-.8h0m0-7.8h0m.1-7.2h0m0-.3h0m.2 15.3h0m.1 2.8h0m.1-35.9h0m0 28.2h0m0-22.5h0m.2 7.1h0m.1 1.7h0m0 18.8h0m0-38.8h0m0 38.2h0m.3 3.9h0m0-30.5h0m.1 9.9h0m0 7.2h0m0-8.8h0m0 22.2h0m.1-18.3h0m0-14h0m.1 29.4h0m0-76.4h0m0 22.8h0m0 37.6h0m.1 10.9h0m.1-3.6h0m0 10.7h0m0-13.8h0m.1-11.9h0m.1 25.9h0m0-1.5h0m0-20.6h0m.2 4.6h0m0 3.5h0m.1-11.9h0m0 18.6h0m0 5.8h0m0-3.9h0m0 .8h0m0-10.3h0m.1 13.2h0m0-4.9h0m0 2.3h0m.1 3h0m.1-17.3h0m.1 14.4h0m.2-38h0m0 40.1h0m0-39.2h0m.1 13.2h0m.1 3.6h0m0-23.5h0m0 16.1h0m0 14.4h0m.1 13.5h0m.1-32.3h0m.1 7.2h0m.1 14h0m0 6.2h0m0-11.3h0m.1-22.1h0m0 33.7h0m0-12.8h0m.1-14.6h0m.1 32.4h0m0-23.3h0m.1-11.6h0m.1 34.2h0m0-10.3h0m0-6.7h0m0 .3h0m.2 14.6h0m0-30.3h0m.2 12.2h0m.1 1.4h0m0-19.3h0m.1 2h0m0 20.3h0m0 5.5h0m0 2.5h0m.1-28.2h0m0 23.8h0m0-4.1h0m0 15.9h0m.1-22.7h0m0 15.9h0m.1 2.8h0m.1-.8h0m.1-8h0m0 9h0m.1 .6h0m0 1.3h0m0-3.3h0m.2-16.5h0m0 16.2h0m0 .8h0m.1 1.9h0m0-20.3h0m0 19.5h0m.1-4.2h0m0 7.3h0m.1-36.5h0m0 22h0m0-44.8h0m0 48.8h0m0 4.4h0m.1 4.8h0m0-21h0m0 13.9h0m0-11.4h0m.1 8h0m0 3.6h0m.1-8.8h0m0 15.9h0m.2-6.1h0m0-11.3h0m.1 8.7h0m0-32.7h0m0 28.5h0m0 9h0m.1-7.3h0m.1 12.4h0m0-15.6h0m.1 15.6h0m0-13.6h0m.1-9.4h0m0-42.8h0m0 62.8h0m0-25.1h0m.1-17.4h0m0 1.9h0m0 38.7h0m.1 .8h0m0-2h0m.1-36.4h0m.1 30.7h0m.1-29.6h0m.1 22.2h0m0-22h0m.3 33.5h0m0-20.7h0m0-9.1h0m0-.4h0m.1 35.9h0m.2-5.1h0m0-17.5h0m0-12.5h0m.1 36.2h0m0-1.4h0m0-7.9h0m0 11.7h0m0-14.4h0m.3 .7h0m0-.8h0m.1-.7h0m0 14.5h0m0-15.2h0m.1 .1h0m0 9.3h0m0-6.5h0m0-16.4h0m.1-8.3h0m0 17.9h0m.1 4.1h0m.1-10.7h0m0-41h0m.1 48.2h0m.1 3.1h0m.1 19.4h0m.2-11.2h0m0-18.2h0m0 29.9h0m0-43.7h0m.2 40.7h0m0-2.9h0m.1-7.1h0m0-24h0m.1-7.1h0m0 24.7h0m.1 15.3h0m.1-38.7h0m0 41.3h0m.1-1.4h0m0-3.3h0m.1-3.6h0m.1-25.1h0m0 21.9h0m0 10.9h0m.1-4.8h0m0-14.7h0m.1 20.3h0m.1-2.3h0m.1 4.9h0m0-43.5h0m.1 39.3h0m0-14.9h0m0 3.5h0m.1-31.6h0m0 22.3h0m.1 6.9h0m.1 11.9h0m0-16.1h0m.1-29.8h0m.1-22.1h0m0 70h0m0-10.7h0" stroke="#000080"/>
<polygon points="104.2,922.6 103.6,922.0 103.6,846.6 104.9,846.6 105.9,843.7 106.9,841.6 107.9,840.3 108.9,839.5 109.9,838.9 110.9,838.4 111.9,837.7 112.9,836.7 113.9,835.7 114.9,835.6 115.9,836.2 116.9,836.9 117.9,836.8 118.9,836.9 119.9,838.8 120.9,848.9 121.9,860.8 122.9,865.6 123.9,867.3 124.9,866.6 125.9,864.7 126.9,863.1 127.9,862.5 128.9,862.4 129.9,862.1 130.9,861.4 131.9,861.1 132.9,862.2 133.9,864.4 134.9,866.5 135.9,867.0 136.9,865.8 137.9,863.6 138.9,860.9 139.9,857.6 140.9,853.8 141.9,850.7 142.9,849.7 143.9,851.7 144.9,855.7 145.9,859.9 146.9,863.0 147.9,864.5 148.9,864.8 149.9,864.1 150.9,862.6 151.9,860.5 152.9,858.1 153.9,856.1 154.9,855.2 156.2,855.2 156.2,922.0 155.6,922.6" fill="#9999CC"/>
<path d="M104.8 837.3h0m0 .7h0m0 4.3h0m.1-15.6h0m0-10.8h0m0-35.6h0m0 13h0m.1 52.7h0m0-48.3h0m.2 43h0m.1-.1h0m.1-34.6h0m.1 32.3h0m0-2h0m0-19.7h0m0 14.1h0m.1 9.9h0m0-29h0m.1 2.3h0m0 28.2h0m.1-2.2h0m.1-23h0m.1 21.6h0m.1-51.6h0m0 49.7h0m.1-6.2h0m.1-43.5h0m0 38.7h0m.1-17.9h0m0 .8h0m.2 11.8h0m0 19.1h0m.1-38.9h0m0 31.1h0m0 9h0m.1-9h0m.1 3.8h0m0-7h0m0 .3h0m.1 11.3h0m0 .5h0m.1-14.7h0m.1 1.5h0m0 13.6h0m0-36.3h0m.1 16.4h0m.1-45.6h0m0 13.6h0m0 46.7h0m0-11.1h0m.1 12.4h0m.2-2.6h0m.1-7.3h0m.1-8.3h0m0 16.1h0m0 4.5h0m0-9h0m.1-9h0m0 10.1h0m.1-43.1h0m.1 44.1h0m0 .9h0m0-.5h0m.1-46.3h0m.1 52.6h0m.1-17.5h0m0-37.6h0m0 26.7h0m0 19.8h0m.3 5.8h0m0-17.4h0m.1-.2h0m0 1h0m0 10h0m0-2.4h0m0-17.9h0m0 3.8h0m.1 17.7h0m0-7.3h0m.1-45.1h0m.1 56.9h0m0-1.2h0m.1-33.1h0m.2 19.6h0m0 14h0m.3 2.9h0m0-6.6h0m0-23.2h0m0 15.3h0m.1 14.6h0m0-13.4h0m0-38.2h0m.1-3h0m.1 53.7h0m0-29.7h0m0 21.4h0m.1 7.6h0m0-5.4h0m0 4.5h0m.1-10.7h0m0-1.4h0m.1 10.8h0m.1-26.9h0m0 27.4h0m.1-14h0m0-29.3h0m0 43.3h0m.1-9.1h0m0-10.9h0m.1 18.9h0m0-3.9h0m.1-.2h0m0 .4h0m0-3.8h0m.1-47.9h0m0 52.8h0m0-25.6h0m.1-25.6h0m0 57.5h0m.2-10.2h0m.1 4.5h0m0-47h0m0 31.5h0m.1-.6h0m0 12.7h0m0-29.5h0m0 19.2h0m.1-26.7h0m0 1.9h0m0 2.8h0m0 27.3h0m.1 7.9h0m0-.8h0m0-10.3h0m0 16.3h0m.1-32.5h0m.1-10h0m0 38.1h0m.1 3.3h0m0-22.7h0m.1 21.3h0m0-18.4h0m0 20.6h0m.1-4.8h0m0 .7h0m.1-23.8h0m0 8h0m0 18.3h0m.1-36.3h0m0 13.6h0m0 2.9h0m.1 7.2h0m.2-1.4h0m0 12.2h0m.1-4h0m0-25.3h0m.1 28.6h0m0-31h0m0-8.5h0m.1 21h0m.1 17.5h0m0 4.5h0m0-33.3h0m.1 19.2h0m.1-4.9h0m.2 8.8h0m0-1.6h0m.1 .2h0m0-.4h0m.1 10.8h0m0-.9h0m0-31.3h0m.1 31h0m0 0h0m0-2.2h0m.1-4.3h0m0-10.7h0m0-16.4h0m.1 28.3h0m0-2.9h0m.1-11h0m0 10.3h0m.1-12.4h0m.1 19.9h0m0-56h0m.1 53.2h0m0-1.1h0m0-2.2h0m0-7.3h0m.1-19.1h0m.1 28.5h0m.1 5.3h0m0-1h0m.1-28.8h0m0 24.2h0m0 6.5h0m.1-1.6h0m0 .9h0m0 .1h0m.1-7h0m.1 3.4h0m.1-36.1h0m.1 41.3h0m0-27.3h0m.1 26.3h0m.1 .1h0m0-9h0m0-.8h0m.1 1.4h0m0-35.9h0m0 38.9h0m.1 1.4h0m0-4.6h0m0 8.8h0m0-49.9h0m.1 45.5h0m0-1.6h0m.3 5.1h0m0-18h0m.1 15.1h0m.1-.1h0m.1-15h0m0 4.6h0m.1-22.8h0m.1 20.6h0m0 6.1h0m.1-15.6h0m0 16.8h0m.1 11.1h0m.1 0h0m.2-33.4h0m0 14.1h0m0 8.3h0m0-23.7h0m.1 29.4h0m0 3.9h0m0-13.4h0m0 12.6h0m.1 1.5h0m0-3.6h0m0-8h0m.1 9.5h0m.1-22.6h0m0 19.3h0m0-15.3h0m.1-4.6h0m.1 11h0m0 11.6h0m0-1.6h0m0-9.4h0m0 13.4h0m.1-32.8h0m0 30.3h0m.1-.9h0m.2 3.7h0m0-14.9h0m.1 3.5h0m0-44.5h0m0 48.9h0m.4 1.8h0m.1-18h0m.1 21.2h0m.2 2h0m0-27.8h0m.1 8.2h0m0 5.5h0m0 13.6h0m0-1.8h0m.2-4.8h0m0 1.5h0m0 4.8h0m.1-8.8h0m.1-1h0m.1 8.6h0m0-18.8h0m0 18h0m0 3.6h0m.1-17.4h0m0 9.3h0m.1 8.3h0m0-4.7h0m0-12.7h0m0 8.7h0m0-7.5h0m0 10.5h0m0-8.5h0m0 12h0m0-9.3h0m0 5h0m0 7.9h0m.1-8.4h0m0-25.8h0m0 20.6h0m0 1.2h0m.1-14.9h0m0 17.5h0m.1 2h0m.1-5h0m0-1.4h0m.1 16.1h0m0-27.8h0m.1 26.9h0m0-20.4h0m0 4.8h0m.1 12.4h0m0-35.8h0m.1 31.3h0m0 9.6h0m.1-12.2h0m0 2.4h0m0 .4h0m0 8.3h0m0-1.8h0m.1-28.1h0m0 4.3h0m0 24.5h0m.1 7.3h0m.1-.5h0m0-11.9h0m0-8.7h0m0-.2h0m.1 .5h0m0 11.8h0m.1-2.8h0m0-39.3h0m0 45.4h0m0-19.6h0m.1-5.5h0m0 13.5h0m0 11h0m.2 12.9h0m0 .1h0m0-23.8h0m0-27.4h0m.1 48.6h0m.1-3.9h0m0-17.5h0m.1 8h0m0 7.2h0m.2 11.7h0m.1-16.9h0m.1 13h0m0 0h0m.1-15.5h0m.1 18.8h0m.1-9.4h0m0 18h0m.1-6.2h0m0 3.3h0m0-6h0m0 7.8h0m.1-16.5h0m0 9.4h0m0-7.7h0m.1-24.5h0m0 39.4h0m0-44.5h0m.1 24.6h0m0 4h0m0 18.1h0m.1-1.8h0m0 1.6h0m0-2.4h0m0 2.5h0m0-6.4h0m.1-55.4h0m.2 43.4h0m.2 13.3h0m0-28.4h0m.2 34.5h0m.1-1.4h0m.1-11.4h0m.1-19.3h0m0 27.1h0m0-14.1h0m.1 19.6h0m0-1.4h0m0-.6h0m0-.4h0m.1-23.6h0m0 20.4h0m0 1.6h0m0 2.1h0m.1-5.2h0m0-7.5h0m0 14.1h0m.1-4.9h0m0-2.9h0m.1-5.6h0m0 3.1h0m.1 8.3h0m0-6.4h0m0 9.6h0m0-36.7h0m0 5h0m.1-20h0m0 51.4h0m0-2.3h0m0-1.1h0m.1-1.7h0m0-2.2h0m.1 6.9h0m.1-30.5h0m.2-32.4h0m.1 54.9h0m0-16.4h0m0 16.4h0m.1-.7h0m0-29.1h0m0 20.9h0m0-30.8h0m.2 23.3h0m0 8.6h0m0-11.6h0m.1 20h0m0-16.9h0m0 19.7h0m0-33.9h0m.2 34.9h0m0-5.4h0m.1-1h0m0-2.1h0m.2-13.3h0m0 23.3h0m.1-12.4h0m.1 6.3h0m.2 3.2h0m0-26h0m0 14.4h0m0-6.3h0m0-1.4h0m.1-3.5h0m0 15.7h0m0-43.9h0m.1 30.7h0m0 8.1h0m0-24.3h0m.1 2.7h0m0 35.5h0m.1-4.2h0m0-8h0m.1 9.5h0m.1-.7h0m0-11.4h0m0 10.2h0m.1-6.3h0m.1 1.7h0m.1 8.5h0m.1-25.8h0m0 10.6h0m0-.7h0m.1-27.7h0m0 24.6h0m.1 17.8h0m.1 .5h0m0-16.9h0m.1 2.3h0m.2-5.1h0m0 4.2h0m0-34h0m0 21.2h0m0 24.7h0m0-42.2h0m0 16.4h0m.2 26.1h0m0-17.7h0m0 8.2h0m.2 13h0m.1-12.7h0m0-3.2h0m.1-49.2h0m.1 41.7h0m0 23.9h0m.1-6.2h0m0-24h0m0 27.9h0m.1-20.1h0m0 8.2h0m0-23.7h0m.1 26.5h0m0 2.4h0m0 2.3h0m0-10.4h0m0 15h0m.1 1.6h0m.1-90.4h0m.1 88.5h0m0-54.6h0m.1 29.7h0m0-3.2h0m.1 29h0m0-31.4h0m0-30.1h0m.1 25.3h0m0 35.4h0m0-23.9h0m.1 4.7h0m0-11.6h0m.2 14.5h0m0 16.9h0m0-38.1h0m.1 21.1h0m0 5.2h0m0-39.5h0m0 29.3h0m.1 3.8h0m.1 2.8h0m.1 9.2h0m.1-21h0m0 18.7h0m0 5.8h0m0-38.1h0m.1 39.2h0m0-6.6h0m0-3.2h0m.1 12.4h0m.1-14.8h0m.2-3.8h0m0 12.2h0m0 1.9h0m0-30h0m0 20.1h0m.1-7.8h0m0-7.9h0m0 26h0m0-20.9h0m0 15.5h0m0-36.9h0m.1 41.8h0m0-.2h0m0 1.7h0m.1-17.9h0m0-7h0m0 15.7h0m.1 8.6h0m0-17.1h0m0-13h0m0 31.2h0m0-20.2h0m0 4.2h0m.1 13.2h0m.1-14.6h0m0 14.5h0m.1 4.4h0m.1-16.7h0m.1-42.9h0m0 12.2h0m.1 39.5h0m0-9.9h0m0-7.6h0m.1 17.4h0m0 8.4h0m.1-13.8h0m.1-32.9h0m0 41.5h0m0-31.7h0m0 11.7h0m.1 8.5h0m0 1.3h0m.1 2.3h0m0 2.1h0m0 7.2h0m.2-13.9h0m0 7.5h0m0 8.2h0m.1-63h0m0 11h0m.1 41.9h0m0 7.7h0m0 2.4h0m0-42.3h0m.1 41.7h0m.2-33.3h0m.1 33.2h0m0 2.9h0m.2-11.6h0m.2 2h0m0 7.9h0m.1-8.4h0m0 6.4h0m.1 .9h0m0-4.1h0m.2 2.8h0m.1-45.6h0m.1 14.6h0m.2 29.5h0m.3-5.7h0m0-20.8h0m0 21h0m0 14.1h0m0 1.8h0m0-12.4h0m.1 9h0m0 .1h0m.1-30.9h0m0-35.2h0m.1 61.2h0m0-18.7h0m.1 .2h0m0 5.1h0m0 22.1h0m0-1.9h0m0-9.9h0m0 .2h0m.1 3.7h0m0-13h0m.1-4.2h0m0 19h0m0-16.1h0m.1 20.4h0m0-23.3h0m.1-3.7h0m.1 28.8h0m.1-5.8h0m0 5.9h0m0-30.2h0m0 20.7h0m.1-32.3h0m0 14.8h0m0 21.1h0m.1-15.3h0m0 11.1h0m.1-15.7h0m0 23.3h0m0 0h0m0-.6h0m.1-24.8h0m0 20.6h0m.1-19h0m0 8h0m0 16.3h0m0-23h0m.1 18.1h0m0 2.7h0m0-4.6h0m0 8.6h0m.1-19.7h0m0-20.2h0m.1 37.6h0m.1-14h0m.1-8.5h0m0-43.4h0m0 62h0m.1 6h0m.1-6.5h0m0-.7h0m.1-4.9h0m0-2.3h0m0 .6h0m.1-23.5h0m.1 35.3h0m0-33.1h0m0 15.7h0m.1-3.4h0m.1 18.3h0m0-2.5h0m0-18.8h0m.1 8.1h0m.1 11.2h0m.2-61.8h0m.3 40.8h0m.1 2h0m0-34.3h0m.1 53h0m0-30.2h0m0 29h0m.1-.8h0m0-10.9h0m0-22.5h0m0 33.9h0m.1-21.6h0m0 20.6h0m.1-32.4h0m0 33.8h0m.1-11.4h0m0-19.7h0m.1 32.3h0m0-5.7h0m0 3.2h0m0 .7h0m.1-17.7h0m.2 16.7h0m.2-29.6h0m0 25.8h0m.2 2.7h0m.1-8.6h0m0-1.6h0m0 8.2h0m.1 1.9h0m0-44.4h0m0 15.3h0m.1 29.3h0m.1 1.5h0m0-10.5h0m.1 3h0m0-2.4h0m.1-11.7h0m0 7.2h0m0 6.5h0m0-3.5h0m0-7.9h0m.1-11.8h0m0 14.8h0m0-53.6h0m.1 56.4h0m0-8.8h0m0 7.1h0m0-8.3h0m0 15.9h0m.1 .4h0m.1 .2h0m0-72.1h0m0 41.6h0m.1 32.6h0m0 1.6h0m.1-1.8h0m.1-22.7h0m0 19.7h0m.2 2.8h0m0-25.7h0m.1-8h0m.1 18.1h0m0 .2h0m0 12.6h0m0-3.2h0m.1-3.3h0m.1-46.6h0m0 32.4h0m.1 7h0m0 13.2h0m0-21.3h0m.1-3.4h0m0 1.4h0m.1 7.3h0m.1 11.5h0m0-2.9h0m0 6.9h0m0-18.8h0m0 3.7h0m.2-4.2h0m0 14.8h0m0-9.2h0m.1 4.3h0m.1-11.2h0m0 20.3h0m0-62h0m.1 48.7h0m0 15.2h0m.1-19h0m.1 3.1h0m0 10.9h0m.1-16.6h0m.1 17.2h0m.1 1.8h0m0-30.8h0m0-.1h0m.1 30.7h0m.2-2.1h0m0 3.5h0m0 .8h0m.1-32h0m0 18.3h0m.1-3.7h0m0-5.7h0m.1 6.9h0m0 2.4h0m.1-37.9h0m0 43.2h0m.3 10.2h0m.1-6.1h0m0-9.2h0m0 5.8h0m0 3.2h0m.1 7.2h0m0-6.3h0m0-16.7h0m.1 5.7h0m.2-1.7h0m0 13.8h0m.2 3.9h0m0-19h0m0 22.5h0m.1-2.1h0m0-38.3h0m0 9.2h0m.1 10.7h0m.1-11h0m0 4.4h0m0 22.6h0m.1-28.2h0m.1 18.4h0m0 5.6h0m.1-5.2h0m0-3.8h0m0 4.9h0m0 12.3h0m0-6.1h0m0-12.1h0m.2 12.2h0m.1-3.9h0m0-37h0m.1 51.2h0m0-31.1h0m0 16.1h0m.1-25.7h0m0 39.9h0m0-4.4h0m.1-50h0m0 57h0m.1-2.7h0m.2-6.8h0m0 3.8h0m.2-1.1h0m0-68.8h0m0 63.9h0m0-6.3h0m0-62.7h0m.1 36.4h0m0 16h0m0 9.5h0m.1 4.8h0m.1 5.8h0m.1-24.6h0m0 24.7h0m0-4.9h0m0 6.9h0m.1 5.3h0m0-1.6h0m0 2.6h0m.1-46.4h0m.1 30.4h0m0-.7h0m0 20.3h0m0-25.5h0m.2-14.3h0m.1 28.8h0m0-70.6h0m0 36.8h0m.1 34.6h0m0 2.1h0m0-9.6h0m.1 4.7h0m0-3.4h0m.1 10.7h0m0-30.7h0m0 23.6h0m.1-18.7h0m0 13.9h0m0-4.1h0m.1 1.9h0m0 12.7h0m0 4.5h0m0 2.4h0m0-12.4h0m0-8h0m0 4.7h0m.1-19.4h0m.3 15.4h0m0-33.2h0m0 53.9h0m0-8.9h0m0 6.3h0m0-3.1h0m.1-7.5h0m0 9h0m0-2.6h0m0-3.7h0m0 4.5h0m0 4.8h0m0-7.6h0m.1 7.4h0m0-5.2h0m0 1.2h0m0-7.7h0m.1 3.1h0m0-38.5h0m0-21.3h0m0 61.2h0m.1-13.4h0m0-10.2h0m0 29.6h0m0-6.3h0m.3 9.4h0m.3-44.9h0m.1 36.5h0m.1-3.6h0m0 3.9h0m.1-56.8h0m.1 60.1h0m0-32.8h0m0 35h0m.3-1.7h0m0-8.7h0m0-37.6h0m.1 15.6h0m.1 18.9h0m0 13.8h0m.1-41.5h0m.1 1.7h0m0 36h0m.1-65.7h0m.1 6.3h0m0 14.3h0m0 6.5h0m0 33.1h0m.1-11.2h0m0 7.6h0m.1-56.7h0m0 43.5h0m0-18h0m.1 17.6h0m0 4.3h0m.1 21.5h0m0-48.1h0m.2 32.4h0m.2 13.4h0m0-32.7h0m0 32.4h0m0-10.5h0m0 10.6h0m.1-18.5h0m0-27.8h0m.1 41.9h0m0 6.3h0m.1-41.3h0m0 26.7h0m.1-45.3h0m0 46.2h0m0 10.6h0m.1-32.3h0m0 27.4h0m0 4.5h0m0-4.1h0m.2-5.6h0m0 12h0m0-6.6h0m0-.1h0m.1-64.1h0m0 68.8h0m.1-29.6h0m0 26.1h0m0-5.3h0m.1 8.4h0m.1-8.7h0m0-12.9h0m0-18.7h0m0 32.7h0m.1-.6h0m.1 9.5h0m.1-18h0m.1 9.1h0m.1-3.5h0m.2 4.9h0m.2 3h0m0 2.8h0m.1-16h0m0-16.6h0m.2 24.5h0m0-11.4h0m0 18.2h0m0-10.3h0m.1 9.6h0m0-9.7h0m.1 .4h0m.2-5.1h0m0-16.9h0m0 30.4h0m.1-18.2h0m.1 11.5h0m.1-.1h0m0 4.7h0m.1 1.7h0m0 .4h0m.1-23h0m0 6.4h0m0-5.8h0m.1 23.1h0m0-34.2h0m0 26.5h0m.1-7.7h0m0 .8h0m0 8.1h0m.1-12.4h0m0-7h0m.1 25.2h0m0-13.4h0m0-13.6h0m.3 10.6h0" stroke="#9999CC"/>
<polygon points="156.8,922.6 156.2,922.0 156.2,841.5 157.5,841.5 158.5,846.4 159.5,850.6 160.5,852.8 161.5,852.8 162.5,852.6 163.5,853.8 164.5,857.0 165.5,860.7 166.5,863.6 167.5,864.9 168.5,864.5 169.5,862.5 170.5,859.1 171.5,854.8 172.5,860.0 173.5,866.6 174.5,865.5 175.5,864.3 176.5,862.2 177.5,858.3 178.5,843.0 179.5,839.9 180.5,839.2 181.5,840.3 182.5,842.8 183.5,845.9 184.5,848.4 185.5,849.4 186.5,848.6 187.5,846.8 188.5,845.0 189.5,844.7 190.5,847.3 191.5,851.9 192.5,856.3 193.5,857.9 194.5,856.6 195.5,853.9 196.5,851.6 197.5,850.1 199.6,850.1 199.6,922.0 199.0,922.6" fill="#000080"/>
<path d="M157.4 829.1h0m0-3.8h0m.1 14.5h0m0-5.3h0m.1-.7h0m0-3.1h0m.1 1.3h0m.1-7.5h0m.1 4h0m0-28.8h0m.1 27.8h0m0-41.9h0m.1 31.8h0m.1-18.2h0m.1 43.9h0m0-11.5h0m.2 12.3h0m.1-7.5h0m0-18.4h0m0 7.3h0m.1 18h0m.2-7.6h0m.1-7.3h0m0 9.9h0m.1 6.8h0m0-6.3h0m.1 4.2h0m0-17.6h0m0 18.7h0m.1 3.6h0m0-17.6h0m.1 .5h0m0 4.1h0m0-2.7h0m.1 13.4h0m.1-3.7h0m0-2.6h0m0 1.6h0m0-17.5h0m.1 26.5h0m0-23h0m0-28.7h0m0-23.7h0m.1 14.9h0m.1 51.1h0m0 10.8h0m.1-35.7h0m0 34.9h0m0-4.6h0m.1-24.9h0m.1-4.6h0m0 26.9h0m.1 0h0m0-43.7h0m0 45.2h0m0-26.1h0m.1 .6h0m0 1.2h0m0-15.2h0m.1 2.4h0m0 3.3h0m.1 37h0m0-17.5h0m.1 12.7h0m0-21.4h0m0 27.8h0m0-40.2h0m0 34.3h0m.2 8.6h0m0-12.2h0m0 10.5h0m0-6.7h0m0-1.5h0m0 8.5h0m.1-37.9h0m0 35.4h0m0-31.8h0m.1 31.4h0m0-4.4h0m0 6.8h0m.1-27.7h0m0 14h0m0 12.4h0m0 2.7h0m.1-1.7h0m0 .8h0m.1-8.4h0m0 9.6h0m.1-30.3h0m0 24.7h0m.1-17.2h0m.1-4.8h0m0 27.4h0m0-16.9h0m.1 10.5h0m0 4h0m.1-3.2h0m0-18h0m.1 20h0m0-.5h0m0 4.3h0m0 .1h0m0-27h0m0 14.7h0m0-24.9h0m0 21.4h0m.1-3.7h0m0 11.7h0m.2-27.9h0m0 1.4h0m.2 27.2h0m.1-4h0m0-40.1h0m0 17.9h0m0 31.4h0m0-.3h0m.1-.2h0m0-21.5h0m.1 21.6h0m.1 1h0m0-39.8h0m0 40.5h0m0-32.2h0m0 5.2h0m.1 17h0m0 3h0m0 3.5h0m.1-14.8h0m0 16.1h0m0 1.1h0m0-4.2h0m.1-8.3h0m0-21.8h0m0 16h0m.1 9h0m0 3.5h0m.1 2.3h0m.1-26.2h0m0 17.2h0m0 12.7h0m0-19.5h0m0-18.7h0m0 33.3h0m.1-11.8h0m0 8.4h0m.1-1.5h0m0 6.3h0m.2-1.3h0m0-41.2h0m0 41.9h0m0-4.9h0m.1-51.7h0m0 56.9h0m0-11h0m.1 18h0m0-56.8h0m0 45.9h0m0-23.2h0m0 28.5h0m0 1.3h0m.1-15.1h0m0 10.1h0m.1 3.1h0m0 5.1h0m.1-11.8h0m0-14.5h0m0-11h0m0 17.5h0m0 19.4h0m.3-.3h0m0-14h0m.1 16.1h0m0-3.5h0m0-5.2h0m.1-37.6h0m0 37.3h0m0 7.9h0m.1 .1h0m0-2.7h0m.1-9.4h0m.1-18h0m0 31.8h0m0-13.8h0m.1-26.3h0m.2 29.7h0m.1-4h0m0 10.4h0m0-24.2h0m.1 33.7h0m0-10.6h0m.1-52.2h0m0 60.2h0m0-12.4h0m.1-28.6h0m0 35h0m0-53.9h0m.1 49.8h0m.2 10.4h0m0-.9h0m0-20.9h0m.1 7.7h0m0 3.5h0m0 7.8h0m.1-19.8h0m0 18h0m.2-73.6h0m0 73.5h0m0 3.6h0m0-1.7h0m.2-.1h0m0 5.4h0m0 .9h0m0-45.4h0m.2 40h0m0 4.4h0m0-61h0m.1 58h0m0 .3h0m0 5.8h0m.1-43.9h0m.1 37.9h0m0-72.6h0m.1 65.6h0m0 5h0m.2-14.3h0m0 21h0m0-47.1h0m0 8h0m.2 35.7h0m0-24.1h0m0 23.6h0m0-2.9h0m.1-74.4h0m.1 31.4h0m.1 29.3h0m0 2h0m.1-28.6h0m0 38.2h0m0 3h0m.1-18.7h0m.1 6.5h0m.1 13.5h0m0-22h0m0 27.7h0m0-1.4h0m0-21.8h0m0 16.9h0m.3-14.5h0m0 5.2h0m0-2.6h0m0 15.7h0m.1-1.4h0m0-7.6h0m0 9.4h0m0-3.7h0m.1 3.3h0m.1-.7h0m.1-.6h0m0-81.6h0m0 77.9h0m0 5h0m.2 .3h0m.1-27.7h0m.2 6.8h0m0 16.9h0m0-19.9h0m0 21.8h0m.1-51.3h0m0 39.1h0m0-6.3h0m0-27.2h0m.1 21.9h0m0 25.5h0m.1-3.9h0m0-38.2h0m.1 12.1h0m0 .5h0m.1 6.8h0m0-2.5h0m.2-30.5h0m0 52.7h0m0-19.1h0m.1 20.2h0m.1-26.1h0m0 19.4h0m.2 4.5h0m0-7.1h0m0 3.4h0m.1-.4h0m0-17h0m.1 8.4h0m0-7.7h0m.1 12h0m0-1.6h0m.1 9.1h0m0-8.2h0m.1-6.3h0m.1-.1h0m.1-12.9h0m0 24.4h0m.4-16.1h0m0 3.8h0m0 2.5h0m.1-1.4h0m.2 12.1h0m0-1.2h0m.1-15.6h0m0 15h0m0-31.7h0m.1 8.8h0m0 23.6h0m.1-52h0m0 43.3h0m0 9.2h0m0-19.5h0m.1-12.4h0m.1 32.3h0m0 6.5h0m0-8.7h0m.1-6.9h0m0-1.6h0m0 16.5h0m0-2.2h0m0-3.6h0m0-15.8h0m.1 13.7h0m0 1.1h0m.1-24.3h0m0 8.8h0m0 18.9h0m0 8.4h0m0-5.1h0m.1-57.5h0m0 60.8h0m.1-4.2h0m.2 5.8h0m0-41.4h0m.1 15.8h0m0-1.9h0m.1 27.3h0m0-3.8h0m.1-49h0m0 39.8h0m0-1.1h0m0-.5h0m.1 3.4h0m0-10.1h0m0 7.9h0m0-24.4h0m.1-15.2h0m0 7.2h0m0 38.8h0m.1 4.4h0m0 2.2h0m.1-11h0m0 11.3h0m0-1.6h0m0-16.6h0m0 17.5h0m.1-18.5h0m0 15.9h0m0-8h0m.1-50.5h0m0 62.7h0m0-6h0m.1-25.2h0m0 11.9h0m0-9.2h0m.1-8.8h0m0 13.1h0m.1 5.7h0m0 8.7h0m.1 5.7h0m.1-41.1h0m0 31.8h0m0 7h0m0-8h0m.1-51.6h0m.1 63.8h0m0 .9h0m0-9.1h0m.1-6.6h0m0 4.7h0m0-19.9h0m.2-10.8h0m0-6.6h0m0 47.2h0m.1 .1h0m.1-1.7h0m0-11.4h0m0 14.4h0m0-10.4h0m.1-2.9h0m.1-8.8h0m0 7.4h0m0 8.1h0m0-9.1h0m.1-7.2h0m0 2.1h0m0 7.5h0m0 8.3h0m.1-1.2h0m0 3.3h0m.1-17.7h0m0-21.1h0m.1 6.3h0m.3 15.2h0m0 6.4h0m0 4.9h0m0-28.2h0m.1 26.7h0m0-12.9h0m.1-47.7h0m0 48.7h0m0-8.2h0m.1-24.8h0m.1 20.7h0m0 21.2h0m.2 7.3h0m0-2.2h0m.1-27.4h0m0 23h0m0 8.6h0m0-51.3h0m.1 4h0m0 38.9h0m0 6.9h0m0-19.3h0m0 20.8h0m.1 .2h0m0-18.1h0m0-12h0m.1 24h0m0-11.4h0m.1-47.7h0m0 45.7h0m.1 5h0m.1 8.8h0m0-3.7h0m0 3.7h0m0-8.9h0m.1 4.7h0m0-13.7h0m.1 19.2h0m0-4.5h0m.1-6.8h0m.2-6.9h0m0 10h0m.1-22.1h0m.1-22.7h0m0 17h0m0 16.7h0m0-9.6h0m.1 13.4h0m.1-23.4h0m0 7.7h0m.1 13.1h0m0 .3h0m.1-21.1h0m0 23h0m0-33.7h0m0 6.1h0m.3 22.7h0m.1-4.7h0m.1-6.2h0m.1-17.9h0m0-3.7h0m.1 26.8h0m0 8h0m0-4.4h0m.1-3.8h0m0-27.2h0m.2 20.4h0m.1-6.7h0m.1 16.2h0m.1 3.5h0m0-34.2h0m.1 9h0m0 4.1h0m0 20h0m.2 4.8h0m0-15.8h0m.1 4.8h0m.1 4.7h0m0-1.1h0m0-13.1h0m0 17.7h0m.2 1.3h0m0-17.2h0m0 18.9h0m.1-17h0m0 .4h0m.1-10.6h0m0-19.6h0m.1 20.9h0m0 2.2h0m0 11.7h0m.1 2.7h0m0 .4h0m0 5.4h0m.1-6.5h0m.2 5.6h0m.1 2.9h0m0-5.4h0m.1-3.4h0m0-11h0m.1 4.8h0m0 6.9h0m0-1.7h0m0 8.2h0m0-43.9h0m.1 31.7h0m0 14.3h0m.2-30.3h0m0-13h0m0 41.6h0m.2-16.2h0m0-16.9h0m.1 28.7h0m0-19.1h0m0 22.5h0m.1 .4h0m0-73.3h0m.2 74.8h0m0 .9h0m0-8.5h0m0 9h0m0-12.7h0m.1-.1h0m0 14.6h0m.1-32.5h0m.1 27.9h0m0 1.6h0m.1 4.7h0m.1-15.5h0m0-9.2h0m.1-1.9h0m0-3h0m.1 24.1h0m.1-18.1h0m0 24.9h0m0-3.5h0m.2-10.3h0m.1-7h0m0 9.4h0m.1 9.4h0m.1-65h0m0 58.9h0m.1-8.4h0m.1 15.7h0m0-49.6h0m.1 23.5h0m0 1.4h0m.1-28.1h0m0 18.7h0m.1 10.5h0m.2-3.8h0m0 8.7h0m0 16.4h0m.1-4.5h0m0-8h0m0 4h0m0-14.3h0m0-5.6h0m.1 26.4h0m.1-4.2h0m.1-.6h0m0 12.7h0m0-16.9h0m.1-32h0m0 39.8h0m0 11.3h0m0-.5h0m.1-15.3h0m0 13.7h0m0-30.9h0m.1 15.9h0m0-11.4h0m0 21.8h0m.1-7h0m0-2.5h0m0-28.9h0m.1 24.9h0m0 16.6h0m0-26.8h0m0-47.6h0m0 57.9h0m.1 12.8h0m0 6.4h0m.1-9h0m.1 6h0m.1-15.1h0m0-8.7h0m.1 18.5h0m0-8.7h0m.1 16.3h0m0-1.9h0m0-1.8h0m.1-.8h0m.1-26h0m0 30.7h0m0-10.7h0m.1-38.2h0m0 37.6h0m.1 9.4h0m0-2.3h0m.1-4.5h0m0-3h0m.1 3.6h0m0-4.9h0m0-20.7h0m.1 24h0m0-40.2h0m0 44.4h0m.1 2.1h0m0 3.5h0m.1-.7h0m0 .9h0m0-5.1h0m0-15h0m0-26.6h0m0 33.8h0m0-11.7h0m.1 11h0m0 9.3h0m0-28.4h0m0 5.3h0m.1-10.5h0m0-5.7h0m.1 33.5h0m.1-34.1h0m0 32h0m0-12.1h0m0 16.5h0m0 .8h0m.1-32.5h0m0 17.4h0m.1 14.2h0m0 0h0m0-12.1h0m.1 5.3h0m0-9.4h0m0 18.6h0m0-10h0m.1 7.7h0m.1-25.2h0m0 20h0m0 8.3h0m.1-25.7h0m.1 4.3h0m0 21.1h0m0-28.6h0m.2 2.7h0m.1 26h0m0 2.4h0m0-29h0m.2 27.8h0m0-3.1h0m.1-7h0m0-10.9h0m.1 12.9h0m.1 1.9h0m0-25.4h0m0 20.8h0m.1 11h0m0-49.9h0m.1 47.7h0m0-55.4h0m.1-1.4h0m.1 46.9h0m0 7h0m.1-5.4h0m0-9.8h0m0-11.4h0m.1 20.2h0m0 4h0m.1-5h0m0 10.6h0m0-9.8h0m.1-3h0m.1 8.9h0m0-72.1h0m.1 74.8h0m.1-3.8h0m0-64.3h0m0 72.8h0m0-40.4h0m.1 27h0m.1 2.4h0m0-9.7h0m.1-45.9h0m0 66.6h0m.1-7.4h0m.1 .8h0m0-3.8h0m0 2.2h0m0-51.7h0m.1 61.3h0m0-11h0m.1-8h0m0 11h0m.2-10.9h0m0 18.3h0m0-55.6h0m.1 43.3h0m.1-17.9h0m0-.6h0m.1 33h0m0-17.5h0m.1-22.1h0m0-19.4h0m.1 55.1h0m.2 3.5h0m0 4.3h0m0-19.9h0m0 2h0m.1 9.3h0m0-14.9h0m.2-13.5h0m0 34.7h0m0-20.9h0m.5 24.7h0m.1-88.9h0m.2 52.3h0m.1 38.4h0m.1-21.4h0m0 12.1h0m0-11.5h0m0 16.7h0m.1-11.8h0m0-3.5h0m0-18h0m.1 6.3h0m.1 29.2h0m.1-2.4h0m0-44.4h0m.1 41.7h0m0-33.2h0m.1 26.4h0m0 15.2h0m.1-24h0m0 9.3h0m.2-6.8h0m0 15h0m0-27.9h0m0 28.7h0m.1 3.2h0m.1-41.1h0m0 32.1h0m0 9.9h0m.1-8.7h0m.1 4.2h0m0-49.3h0m.1 49.1h0m0 3.1h0m.1-7.7h0m.1-9.6h0m0 19.5h0m.2-4.9h0m0-8.7h0m.1 5.6h0m0-23.3h0m.1 27.3h0m0-.9h0m0-11.3h0m.1-1.2h0m.1-4.8h0m0 17.8h0m0-3.1h0m.1 6.1h0m0-32.2h0m.3 27.4h0m.1-21.6h0m.1-3.1h0m0 9.5h0m0-24.6h0m0 32.8h0m.1-21.8h0m0 .7h0m0 6.6h0m.1 20.6h0m.1-5.2h0m0-.6h0m.1 2.4h0m0 1.1h0m.1-21.3h0m0 11.4h0m0 11h0m.2-30.2h0m0 33.8h0m0-33.6h0m.1 24.8h0m0-32.4h0m.2 36.3h0m0-79.9h0m0 44.8h0m0 17.6h0m.1-11.6h0m0 11.6h0m0 10.6h0m0-9.2h0m0-13.9h0m.2 31.3h0m0 2h0m0-3.2h0m0-27.1h0m.2 12.9h0m.1-14.1h0m0 27.2h0m.1-6h0m0-2.1h0m.1 8h0m0-3.5h0m0-.4h0m0 .8h0m0 6.7h0m.1-31.2h0m0 30.1h0m.1-21.7h0m0 5.9h0m0 9.6h0m.1-43.8h0m0 51h0m0-6.9h0m.1-3.6h0m0 9.1h0m0-19h0m.2-10.9h0m0 20.3h0m0 2.4h0m0-44h0m.1 40.6h0m.1-8.1h0m0 3h0m0 16.2h0m.1 .2h0m0-32.3h0m.1 13.3h0" stroke="#000080"/>
<polygon points="200.2,922.6 199.6,922.0 199.6,857.1 200.9,857.1 201.9,856.2 202.9,855.5 203.9,856.3 204.9,859.1 205.9,863.6 206.9,868.5 207.9,871.9 208.9,872.2 209.9,869.0 210.9,863.8 211.9,858.9 212.9,856.1 213.9,855.5 214.9,856.1 215.9,857.0 216.9,858.0 217.9,858.8 218.9,858.8 219.9,857.6 220.9,855.6 221.9,854.2 222.9,854.5 223.9,856.1 224.9,857.8 225.9,858.9 226.9,859.3 227.9,859.8 228.9,861.1 229.9,863.0 230.9,864.9 231.9,866.0 232.9,866.3 233.9,865.6 234.9,863.7 235.9,860.6 236.9,857.1 237.9,854.7 238.9,854.2 239.9,855.5 241.3,855.5 241.3,922.0 240.7,922.6" fill="#9999CC"/>
<path d="M200.8 843.1h0m0 10.8h0m0-11.1h0m0-3.2h0m0 13.4h0m.1-21.5h0m.1-68.3h0m0 90.1h0m0-76.5h0m.1 60.1h0m0 11.5h0m.1-10.6h0m0-28.1h0m0 37.2h0m.1-15.3h0m.1 5h0m0 5h0m.1 5.3h0m0-66.4h0m0 46.8h0m.1 16.4h0m.1 2.8h0m.1 7.3h0m0-22.1h0m.1 10.4h0m0 12.1h0m0-18.5h0m.2 13.1h0m0-8.8h0m0 13.9h0m0-2.2h0m0-13.6h0m0 14.3h0m0 .6h0m.2-.4h0m0-20.9h0m.1-1.7h0m.2-8.3h0m0 17.4h0m.1-8.5h0m.1 15.2h0m0 6.4h0m.1 .4h0m.1-8.6h0m.1-3.3h0m0-17.2h0m.1 17.9h0m0 .3h0m.1-26.4h0m0-8.3h0m.1 46.1h0m0-2.7h0m.1-4h0m0 1.2h0m0 6.3h0m.1-8.9h0m0 2.3h0m0-10.1h0m.1 17.2h0m0-10.3h0m.1-6.2h0m.1 10h0m0 6h0m0-2.8h0m.1-15.8h0m.1 16.7h0m0-6.6h0m.1-26.3h0m.1-.5h0m0 0h0m0 37.3h0m.1-45h0m0 44.7h0m.1-14.4h0m.2-40.9h0m0 44.9h0m0 7.9h0m.1-9.7h0m.1 13.7h0m0 .7h0m.1-31.7h0m.1 27.9h0m0-26.7h0m.1-33.6h0m.1 57.7h0m0-15.6h0m0-26h0m0 48h0m0-34.2h0m.1 7.5h0m0 16.9h0m0 3.8h0m0-3.3h0m0-12.4h0m.2 15.8h0m0-1.4h0m.2 5.4h0m0-52.5h0m0 51.6h0m0 3.7h0m.1-22.8h0m0 22.8h0m.1-12.1h0m0 16.4h0m0-34.7h0m.1 31.8h0m0-25.4h0m0 9.1h0m0 .9h0m.1 18.8h0m0-.9h0m.1-.9h0m0-100h0m.1 72.5h0m.1-24.8h0m.1 38.6h0m0 13.5h0m0-5.7h0m.1 4.3h0m0-2.8h0m0-11.7h0m0 18.4h0m0-11.7h0m0-6.2h0m.2-8.2h0m0 23.1h0m0-13.9h0m0 6.6h0m0-26.6h0m.1 30.8h0m0-3.6h0m0-4.9h0m.2-18.5h0m.1 25.2h0m0-59h0m0 18.2h0m0 44.5h0m.1-2.8h0m.1-8h0m0 6.3h0m.1 9.8h0m0-65.4h0m.2 60.1h0m0 2.8h0m.1 4.7h0m0-14.7h0m.1 17.3h0m0 .9h0m0-19.7h0m.1-23.6h0m0-8.7h0m0 36.2h0m.1 14.9h0m0 .4h0m.1-6.5h0m.1-10.6h0m.1-14.4h0m.1 10h0m.1 2.7h0m0 3.4h0m0 12.8h0m0-28.1h0m.1 22.7h0m0 7.6h0m.1-12.3h0m0 7.3h0m0 2.6h0m.1-1.2h0m0 2.9h0m0-8.7h0m0 .1h0m0-42.5h0m.1 30.3h0m.1 10.1h0m0-84.1h0m0 59.3h0m.1 21.1h0m0 14.2h0m0-9.6h0m.1-68.7h0m0 80.1h0m0-83.2h0m.1 82.6h0m.1-45.8h0m.2 44.2h0m.1-13.8h0m0-1.9h0m0 15.7h0m0-5.6h0m0-10.4h0m0 5.5h0m0-16.8h0m.2-18h0m0 35.4h0m0 7h0m.1-10.9h0m0 3h0m.1-5.5h0m0 9.5h0m.1-3h0m0-27.2h0m.2 28h0m0-62.8h0m.1 38.3h0m.1 9.9h0m0-33.2h0m0 25.3h0m.1-4.6h0m.1 24.9h0m.1-12.6h0m0 16.7h0m.1-9.8h0m0-25.6h0m0 29.7h0m0-12.4h0m0-11.8h0m0 11.6h0m.1-5.8h0m0 21.8h0m0-.2h0m0-21.2h0m.1-47.4h0m.1 50.4h0m.1 13.6h0m0 1.3h0m.1-25.7h0m0-51.7h0m.1 68.5h0m.1-21.6h0m.2 23.3h0m.1 3.8h0m.1-21.1h0m0 10h0m.1 4.2h0m.1 7.8h0m.1 2.3h0m.1-9.4h0m0-8.4h0m.2 15.5h0m0-9.4h0m0-6.7h0m0-.3h0m0 18h0m.2-19.6h0m0-6.6h0m0 7.5h0m.2 .3h0m0 14.2h0m.1-19.5h0m0 12.1h0m0-30.3h0m.3 19.6h0m0-13.6h0m.1 30.9h0m.1 .1h0m0-1.3h0m0-26h0m0 8.2h0m.1 13.2h0m.1-4h0m0-6.1h0m.2 11.8h0m0 .1h0m.1-21.1h0m0 11.2h0m0 10.6h0m0-19.1h0m0 24.4h0m0-3.3h0m0-10.1h0m.1 15.1h0m0-3.6h0m0-74.9h0m0 56.3h0m.1 18.4h0m0-9.9h0m.1 3h0m0 11.1h0m0 .8h0m0-34.4h0m0 2.7h0m.1 14.3h0m0-5.3h0m.1 7.8h0m0-6.8h0m0 9.7h0m.1 8.6h0m0-1.7h0m0-37.8h0m.1 2.4h0m0 28.3h0m.1 8.9h0m0 2.1h0m.1-5.4h0m0-6.5h0m.1-20h0m0 15.3h0m0-35.9h0m0 53.4h0m0-7.1h0m.4 7.2h0m0-12.2h0m0 5.9h0m.1-29.7h0m0 32.3h0m0-18.3h0m.1-21h0m.1 41h0m.1-2.7h0m0 3.4h0m0-17.6h0m.1 9.9h0m.1-18.6h0m0 25.2h0m0-4h0m0 4.9h0m.1-1.9h0m0-1.5h0m0-34.4h0m.1 4.8h0m.1 15.9h0m0 13h0m0 6.6h0m.1-1.7h0m0-.4h0m0 1.2h0m0-9.1h0m.1-40.8h0m0 49.8h0m.1-1h0m.1-26.3h0m.1-14.8h0m0 39.2h0m0-11.7h0m.2-29.4h0m0 34.7h0m.2 9.1h0m.2-4.7h0m0 1h0m0 4h0m.1-1.3h0m0-20.8h0m0 3.6h0m0-3.1h0m.1 4.1h0m.2-20.3h0m.1 38.7h0m0-3.3h0m.1-40h0m0 1.6h0m.1 36.8h0m.1-1.2h0m0 4.2h0m.2-4.8h0m0-.8h0m.1-15.7h0m0 25.5h0m0-20.9h0m0 17.5h0m.1-8.6h0m0-26.8h0m.1 28.5h0m.1 7.8h0m0 .4h0m0 2.2h0m0-35.6h0m0 15.2h0m.1-1.4h0m0 14.3h0m.1-57.6h0m0 38.5h0m.1-17.6h0m0 27.4h0m0 16.8h0m.1-5.9h0m0-17.3h0m0 16h0m0-39.7h0m.1 34.3h0m0-6.8h0m.1 15.3h0m0-10.5h0m0-75.5h0m0 74h0m.1-11.5h0m0-2h0m.1-37.3h0m.1 60.4h0m.1-7.9h0m.1 12.1h0m0-19.1h0m0 11.3h0m.1 5.8h0m.1-29.4h0m0 18h0m0-21h0m.1 18.9h0m0-2.6h0m0 14.8h0m.2-5.2h0m0 7h0m.1-25.6h0m0 25.2h0m.1-13.8h0m.1-14.8h0m0 20.2h0m.1 2.8h0m0-19h0m.2-62.7h0m0 66.8h0m.1 8h0m0 9.6h0m0-41.6h0m.1 43.2h0m0-3.6h0m.1 4.7h0m.1-6h0m.1-14.8h0m0-22.7h0m.1 37.5h0m0-6h0m0-20.7h0m0 30.4h0m0-61.8h0m.1 31.5h0m0 4.2h0m0-53h0m0 68.5h0m.1 1.9h0m.1 2.1h0m0-46.7h0m.1 24.6h0m0-22.9h0m.1 51h0m0-2.8h0m.2-.1h0m.1-32.5h0m0 26.2h0m0 3.1h0m.1 2.7h0m0 4.6h0m0-9.8h0m0 5.4h0m.1-8.7h0m0 4.1h0m.1-37.6h0m0 39.1h0m.1-11h0m0-27.1h0m0 33.9h0m.2-1.2h0m0 9.9h0m0-8.3h0m0-27.4h0m0 28.9h0m.1-16.1h0m.1 28.4h0m.1-2.8h0m0-11.7h0m.2 13.1h0m0-13.6h0m.1 3.7h0m0 11.8h0m.1-22.8h0m.2-20.3h0m0 28.3h0m.1 13.4h0m0-34.7h0m0-9.4h0m0 39.6h0m.1-10.1h0m0-.9h0m0 16.6h0m.1 .4h0m0-9.9h0m.1 3.7h0m.1-1.1h0m0-12.1h0m0-66.2h0m.1 87.6h0m0-34.1h0m0 30.2h0m0-14.4h0m.1 14.9h0m0-9.9h0m.1 6.7h0m.1-.2h0m0 .1h0m0-38.4h0m.1 45.3h0m.2-8.9h0m0-23.2h0m.1 27.9h0m.1 1.3h0m0 3.1h0m.1-.7h0m0-44.9h0m0 39.3h0m.1 6.4h0m0-20.2h0m.1 15.7h0m0-29.7h0m0-7.5h0m.1 39.9h0m.2 2.5h0m.1-11.5h0m.1 6.4h0m0 4.7h0m0-6.1h0m0 6.4h0m.2-35.4h0m0 18.9h0m.1 5h0m0-8.7h0m.1 3.7h0m.1 .3h0m0 16.8h0m0-22h0m0-64h0m0 74.8h0m0 2.3h0m.1-22.5h0m0 18.2h0m0-1.1h0m.1 6.1h0m0-6.8h0m.2-5h0m0 15.4h0m.1-6.8h0m0 7.3h0m0-.9h0m0-17.9h0m.1 12.3h0m0-6.9h0m0-24h0m0 18.3h0m0 15.3h0m.1-7.5h0m0 10.4h0m0-73.6h0m.1 73.7h0m0-25.6h0m.1 22h0m0 8.7h0m0-7.1h0m0-83h0m0 62h0m.1 25.7h0m0-15.7h0m0-6.5h0m0 7.1h0m0 17.9h0m0-36.1h0m.1 25.5h0m0-33.7h0m.1-2.9h0m0 26.8h0m.1 14.6h0m0 3.1h0m0 1.6h0m.1-16.1h0m0 7.9h0m0 4.8h0m.2-7.5h0m0 11.8h0m.2-11.5h0m0 1.2h0m.1 2.9h0m0-10.8h0m.1 6.6h0m.1-1.3h0m.1 10.6h0m.1-17.6h0m0 17.7h0m0-4.6h0m.1 2.8h0m0-4.6h0m.1-7.9h0m0-1.8h0m0 17.1h0m.1-17.8h0m0 6.1h0m.2 6.3h0m.3-1.6h0m0 8.5h0m.2-13.7h0m0 .3h0m0-6.4h0m.2-26.8h0m0 35.8h0m.1-3.5h0m0 16.3h0m.1-57.9h0m0 47.8h0m.1 2.2h0m0-16h0m0 17.5h0m.2-37.9h0m0 21.6h0m.1 25.7h0m0-23.7h0m0 6h0m.1 1.5h0m.1-44.2h0m.1 53.5h0m0-.1h0m.3-14.1h0m0 16.1h0m.2-41.5h0m0 41.4h0m0-7.3h0m.1 13.1h0m0-31.2h0m0 11.6h0m.2 8.9h0m.1-2.6h0m.1-41.6h0m0 43.7h0m0 9.7h0m.1-23.1h0m0 16h0m.1-10.1h0m.1 12.2h0m0 5.6h0m0 .8h0m0-48.5h0m.1 47.8h0m.1-39h0m.1 25.2h0m0-21h0m0 19.9h0m.1 15h0m0-45.3h0m0 38.9h0m.2-11.5h0m.2-3.1h0m0-10.2h0m0 27.5h0m.1-6.9h0m0-5.4h0m0 13.3h0m.1-3.4h0m0 4.9h0m.1-15.4h0m.1 8.3h0m0 5.5h0m0-5h0m.1-3.2h0m.2-3.4h0m.1 8.6h0m.1-.1h0m0-30.4h0m0 30.8h0m0-8.3h0m.1-1.7h0m0-4.2h0m.1-8h0m0 17.6h0m.1 5.5h0m0 3.4h0m.1-16.9h0m0-14.5h0m.1-21.4h0m0 32.7h0m.1 19.5h0m.1-36h0m0 7.7h0m.1 16.8h0m0-21.5h0m0 23.3h0m.2-18.9h0m0 27.8h0m.2-4.5h0m0-2h0m.3-10.9h0m0 13.7h0m0-2.6h0m.1 4.2h0m0-10.1h0m.1 8.1h0m0-22.5h0m0 5.3h0m0 8.8h0m.1-5.2h0m0-9.5h0m.1-8.8h0m.1 12h0m0 4.3h0m.1-25h0m0 17.8h0m0 2.6h0m0 8.8h0m.1-9h0m0 8.4h0m.1 9.2h0m0-4.2h0m.2 6.2h0m0-41.5h0m.1 30.4h0m.2-6.4h0m0 4.7h0m.1 6.2h0m.1-15.4h0m0-22h0m0 41.2h0m0-25.4h0m.1 2.9h0m0 17.7h0m0-7.5h0m.2-54.8h0m0 56.4h0m0-6h0m.1 13.6h0m0 3.1h0m0-16.6h0m.1-26.3h0m0 34.3h0m0-.8h0m0-9.9h0m0 18.5h0m.1-43.3h0m.2 2.6h0m0 27.7h0m.2 .1h0m0-12.3h0m0 20.9h0m.1 4.3h0m.1-.6h0m.1-8.8h0m.1 5.1h0m.1-13.4h0m0 15.4h0m.1-11.4h0m.1 12.5h0m0-3.4h0m.1-8.4h0m0 .2h0m0 10.9h0m.1 .7h0m.1-20.4h0m.1 17.4h0m.1-32.3h0m.1 29.6h0m.1 6.3h0m0-6.3h0m.1-42.1h0m0 32.8h0m.1-6.8h0m0 5h0m0 12.8h0m.1 1.3h0m.1 4h0m0-29.5h0m.1-12.5h0m0 29h0" stroke="#9999CC"/>
<polygon points="241.9,922.6 241.3,922.0 241.3,847.4 242.6,847.4 243.6,847.7 244.6,846.9 245.6,845.7 246.6,845.2 247.6,845.4 248.6,845.5 249.6,844.5 250.6,842.6 251.6,840.5 252.6,839.1 253.6,838.8 254.6,839.8 255.6,841.9 256.6,844.5 257.6,846.8 258.6,848.5 259.6,849.2 260.6,849.2 261.6,848.2 262.6,846.2 263.6,844.0 264.6,842.9 265.6,843.7 266.6,844.8 267.6,844.6 268.6,837.0 269.6,825.7 270.6,821.5 271.6,823.0 272.6,825.5 273.6,827.4 274.6,828.9 275.6,830.2 276.6,831.1 277.6,830.6 278.6,828.2 280.8,828.2 280.8,922.0 280.2,922.6" fill="#000080"/>
<path d="M242.5 845.6h0m0-10.5h0m.1-.9h0m0 7.5h0m.1-25.1h0m0 19.2h0m0-7.7h0m0 3.3h0m0 3.6h0m0 11.5h0m.2-18.9h0m0 4.6h0m0-39.8h0m0 51.9h0m.1-40.1h0m.1 36.2h0m.1 5h0m.1-29.9h0m0 28.5h0m0 2h0m.1-5h0m.1 5h0m.1-26.3h0m.1 4.5h0m0 15.8h0m.1 4.4h0m.1-20.2h0m.1 18.7h0m0-14h0m0-59.4h0m0 76.2h0m.1-3.4h0m0-30.6h0m.1 23.1h0m0-27.2h0m0 18.3h0m.2-6h0m.1 26.2h0m0-24.1h0m0-22.2h0m.1 1.1h0m0 6.3h0m0 32.7h0m.1-21.3h0m.1 6.8h0m.1 15.6h0m0 0h0m0-36.7h0m.1 33.2h0m0-4.3h0m.1-15.3h0m0 13.7h0m.2 2.2h0m.1 1.7h0m0-41.9h0m.2-4.6h0m0 41.8h0m.1 8h0m.1-3.9h0m.1 8.6h0m.1-6.2h0m0-7.3h0m0 6.9h0m0-16.8h0m.1 23.9h0m0-55.8h0m0 44.9h0m0-.3h0m.1-34.3h0m.1 25.4h0m0 13.6h0m.1 1h0m0-1.5h0m0-13.6h0m0-2.9h0m0-27.9h0m.1 51h0m0-1h0m0-73.2h0m0 54.5h0m.1 9.4h0m0 4.8h0m.1 .4h0m.1-2.9h0m.1-18.4h0m0 1.9h0m.1 21h0m.1-15.1h0m.1 11.7h0m0-58.5h0m.1 39h0m0-5.7h0m0 31.5h0m0-17.9h0m0-38.7h0m.1 52.5h0m.3-20.1h0m0 9.9h0m.1 .9h0m0-46.6h0m0 19.9h0m0 37.1h0m.1-41.9h0m0-2.6h0m.1 20.3h0m.1-4.3h0m.1 32.3h0m0-14h0m.1 6.7h0m0-13h0m0 17.1h0m0-15.8h0m.1 5.6h0m.1 14.3h0m0-14.4h0m.1-54.8h0m0 37h0m0-11h0m0-3.6h0m.2 41.1h0m0-1.9h0m0 4.3h0m0-10.5h0m.1-5.5h0m.1 3.4h0m.2 12.5h0m0-10.8h0m.1-12.6h0m0 17.8h0m0-.9h0m.1-20.8h0m0 26.2h0m0 3h0m.2-19h0m0 9.4h0m.1 6.8h0m0-13.9h0m0 13.5h0m0-5.2h0m0 6.4h0m0-.2h0m.1-19h0m.1 19.8h0m0-22.2h0m0 23h0m0-27.2h0m.1 11.1h0m0-21.8h0m0 9.4h0m.1 27.6h0m0-25.4h0m.1 24.2h0m.1-48.5h0m0 39.8h0m.1-49.5h0m0 23.4h0m0 31.2h0m0 1.7h0m0-16.9h0m.1-13h0m0 9h0m.1-11.6h0m0 13h0m0 22.6h0m0-20.4h0m.1 17.4h0m.1-5.6h0m0 8.4h0m.1 .1h0m0-2.7h0m0-25.1h0m0 10.4h0m.1 14.8h0m0-27.5h0m.1-8.6h0m0 5.5h0m.2 13h0m0-4.1h0m.2 21.3h0m0-7.5h0m.1 5.6h0m0-1.3h0m0-14.2h0m.1 13.7h0m.1-40.6h0m0 44.9h0m.1-3.1h0m0-18h0m0 10.6h0m0 .2h0m.1-4.9h0m0-21.7h0m0 29.8h0m0 4.7h0m.1-3.4h0m0 4.2h0m.1-1.5h0m0-5.9h0m.2-16.2h0m0-30.1h0m0 50.1h0m.1 3.8h0m0-24.4h0m.1 22.7h0m.1-54.7h0m0 25.7h0m0 18h0m0 1.5h0m.1 .7h0m0-2.3h0m0-18.5h0m.1-20.9h0m0 43.2h0m.2 7.5h0m0-36.7h0m.1 33.4h0m.1-10.1h0m.1-2h0m0 4.8h0m0-26.9h0m.3 36h0m.1-15.7h0m.1 18.4h0m.1-15.1h0m.3-6.2h0m.2 3h0m0-1h0m0-28.5h0m.1-4.2h0m.2 10h0m0 11h0m.1 26.4h0m0-5.5h0m0-3.7h0m.1 13.9h0m0 .1h0m0-1.4h0m0-.4h0m.1-49h0m0 34.9h0m0 11.5h0m.1-2.2h0m.1 5.2h0m0-51.2h0m0 49.5h0m0-8.9h0m.1 5.7h0m.1 7.8h0m.1-54.2h0m0 17h0m.2 38.6h0m.1-60h0m.1 58.5h0m0-23.1h0m.1 23.4h0m0-14.2h0m.1 11.2h0m.2 2.4h0m.1 3.4h0m0-77h0m0 71.5h0m0 4.8h0m.1-22.4h0m0-11h0m0 19.5h0m0 15.7h0m.1-21.4h0m0 10.1h0m.1 2.4h0m0-19.1h0m0 21.9h0m.1-12.9h0m0-10h0m0 29.2h0m0-2.1h0m0 1.4h0m.1-16.1h0m.1 2.1h0m.1 .2h0m.1-29.4h0m0 21.4h0m0 16.1h0m.1-3.1h0m0-11.4h0m0 18.6h0m.1-11.5h0m0-30.9h0m.1 39.3h0m0-2.1h0m.1-17.3h0m0-40.6h0m0 60.9h0m.1-49.8h0m0 41.1h0m.1-7.6h0m0 22.6h0m0-3.9h0m.1-2.5h0m.1 1.3h0m.1 6.8h0m.1 .2h0m.1-5.7h0m0 5.7h0m.1-16.6h0m0-4.6h0m0-3h0m.1 8h0m0-41.8h0m0 19.4h0m0-7.3h0m.1 11.2h0m0 30.9h0m.1-4.2h0m0-17.9h0m0 1.5h0m0-22.6h0m.1 46.1h0m0-19.5h0m.1 14.7h0m0 1.7h0m0 2h0m.1 .6h0m.2-33.9h0m0-4.6h0m.1 21.4h0m.1 18.2h0m.1-32.8h0m.1 14.6h0m0-7.5h0m0-1.4h0m0 16.2h0m.1-15.4h0m0 26.1h0m0-37.8h0m.1 27.7h0m0-1.8h0m.1 9.1h0m.1 4.3h0m0-22.8h0m.1-21.5h0m0 39.2h0m.1-14.6h0m0 17.2h0m0-7.8h0m0 10.2h0m0-11.3h0m0 4.6h0m.1 5.3h0m.1-2.8h0m0 2.3h0m.1-14h0m0 7.5h0m0-.3h0m0-13.8h0m.1-3.4h0m0 18.5h0m0-30.8h0m.1 .9h0m0 23.7h0m0-30.9h0m.1 27.6h0m0 8.2h0m.1-1h0m.1 2.6h0m0-.6h0m.1-.3h0m0 7.2h0m0-3h0m.1-7h0m.1-44.9h0m0 54.1h0m.1-12h0m.1 11.8h0m0-21.7h0m.1 8h0m.2 9.7h0m0-10.7h0m.1 13.2h0m0-19.4h0m.2-25.5h0m0 2h0m.1 11.6h0m0 22.4h0m.1-2.6h0m0 2.9h0m0 8.7h0m0-8.7h0m0-4.5h0m0-11h0m.1 20.8h0m0-33.9h0m0-10.5h0m0 12.9h0m.1 10.7h0m.1 9.1h0m.1 0h0m0 10.3h0m0-6.5h0m0-5h0m.1-7.1h0m0 16.9h0m0 4.1h0m0-3.2h0m.1-3.4h0m.2 8.5h0m.1-23.7h0m0-46.1h0m0 63.6h0m0-11.8h0m.1 2.6h0m.1 13.6h0m0-32.4h0m.1-29.4h0m0 44h0m.1 2.4h0m.1 14.5h0m0-9.2h0m.2-2.7h0m.1-17.7h0m0 15.4h0m.1 2.3h0m0-10.2h0m0-13.9h0m0 5.3h0m.2 15.5h0m0-4.2h0m0 17.5h0m.1-32.1h0m0 30.4h0m.1-47.4h0m0 34.4h0m.2 15.3h0m0-4.9h0m0-19.7h0m.1 26.2h0m0-4.9h0m0-12.2h0m0 4.6h0m0 .8h0m.1 11.1h0m0-2.9h0m.1-.8h0m0-2.6h0m0-30.6h0m0 37.8h0m.1-64.6h0m.2-11.4h0m0 59.3h0m0 3.9h0m.1-22.2h0m.1 9.3h0m0-11.5h0m.1 31.7h0m.2-11.5h0m0 13.9h0m.1-19.7h0m.1-14.2h0m0 19.4h0m0-14.2h0m.1 21.3h0m0 1h0m0 4h0m0-15.2h0m.1 21.8h0m0-17.4h0m0-6.9h0m.2 14.5h0m0-24.8h0m.1 20.7h0m0-28.7h0m0 32.3h0m.1 10h0m0 .9h0m0-46.3h0m0 32.9h0m.1 4.7h0m.2 2.7h0m0 5.9h0m.1-65.9h0m0 63.6h0m0-12.5h0m.1-7.2h0m0 17.8h0m.1-33h0m.1 24.8h0m0-15.6h0m.1 16.9h0m0-1.1h0m0 2.8h0m0-18.6h0m.1 12h0m0 15h0m0-9h0m.1-2.5h0m0 12.4h0m0-4.5h0m0 3.2h0m.1-18.9h0m.1 2.9h0m0 0h0m.1-4.6h0m0 16h0m.1-11.9h0m0-6.6h0m0 20.5h0m.1-18.9h0m0-10.9h0m.1 21.2h0m0-36.1h0m0 40.7h0m0-49.5h0m.1 38.8h0m.1 11.3h0m.1-.1h0m.1-22.6h0m0 16.3h0m.1-7h0m.1-32.4h0m.1 37h0m.1-7.5h0m.1-8h0m0 16.8h0m0-4.9h0m.1-16.6h0m0 21.6h0m0-2.1h0m0-24h0m.1 14.6h0m.1-41.2h0m0 14.2h0m.1 25.3h0m.1-13.2h0m.1 19.6h0m.1-19.4h0m.1 5.1h0m.1-8.2h0m0 8.1h0m.1-12h0m.1 15.1h0m.2-17.1h0m0 20.8h0m.1-37h0m0 38.4h0m.1 3.5h0m0-12.5h0m0-9.5h0m.1-21.4h0m0 44.2h0m0-30.6h0m.1 9.7h0m.1-5.2h0m.2-4.9h0m.1 12.9h0m.1 17.5h0m0-4.3h0m.1-3.7h0m0 .1h0m.1-20h0m0-26.5h0m0 19.3h0m.1 33.1h0m.1-16.6h0m0-2.7h0m.1 20.6h0m.1-18.5h0m0 22.5h0m.2-11h0m0 1.2h0m.1-37.7h0m0 22.4h0m.1-5.7h0m0 26.9h0m0 1.2h0m0-13.5h0m0-11.4h0m.1 15.2h0m0 11.4h0m.1-23.2h0m.1 7.2h0m0 6.7h0m0-16.9h0m.1 14.4h0m.1-.2h0m0-7h0m.1 17.2h0m.1 1.4h0m0-.8h0m0 3.7h0m0-4.7h0m.1-33.2h0m0 38h0m.1-55.2h0m0 48.6h0m.1 7.4h0m0-3.3h0m.1-6.5h0m0-25h0m0 20h0m.1 5.3h0m0 10.5h0m.2-1.1h0m0-6.7h0m0 4.9h0m.1-5.6h0m0-6.4h0m0 6.9h0m0-12h0m.1-21.7h0m0 1.4h0m.2 19.1h0m0 .3h0m0 7.9h0m0 7h0m0-5.8h0m.1-11.4h0m.1 23.1h0m0-36.6h0m.1 29.2h0m0-34.3h0m.2 30.7h0m.1 .1h0m0 10.7h0m0-14.8h0m.1 14.2h0m0-13.7h0m.2 15.3h0m.1-21.8h0m0-22.9h0m0 43.7h0m.1-2.2h0m0-7.2h0m0 .7h0m.1 11h0m.1-1.6h0m0-26.4h0m.1 2.1h0m0 23.5h0m.1-10.5h0m0-4.4h0m.1 13.8h0m0-3.4h0m.1-8.4h0m0 15.7h0m.2-21.1h0m.2 12.9h0m0-29h0m.1 37.1h0m0-17.5h0m.1 16.5h0m.1 .9h0m.1-3.5h0m0 2.4h0m0-6.9h0m.1 1.7h0m0-1.3h0m.1-1.4h0m0-16.8h0m.1-4.2h0m0 13.4h0m0 17.1h0m.1-.6h0m0-3.2h0m0-19.2h0m.1 13.5h0m0 9h0m0-15.4h0m0-4.3h0m.2 17.3h0m0 .8h0m0-2.6h0m.3-19.5h0m0 8.2h0m.2 15.7h0m0-8.5h0m.1-18h0m0 13.6h0m.1-8.7h0m0-13.2h0m0 29.9h0m.1-18.9h0m0-22.8h0m.1 42.9h0m0-56.3h0m0 33.7h0m0 13.6h0m.1-9.3h0m0-16.8h0m0 5.8h0m.1 30.8h0m.2-21.1h0m0-8.8h0m0 22.9h0m.1-10.5h0m.1-30.2h0m0 42.8h0m0 2.4h0m0 .4h0m.1-31h0m0 12.5h0m0 2.6h0m0-5.9h0m.1-12.6h0m.1 18.2h0m.1 0h0m.1-10.8h0m.1 14.1h0m0 8.7h0m0 2.6h0m.1-10.6h0m0 8.4h0m.1-13.1h0m0 16.1h0" stroke="#000080"/>
<polygon points="281.4,922.6 280.8,922.0 280.8,851.6 282.1,851.6 283.1,850.8 284.1,852.5 285.1,855.8 286.1,859.3 287.1,862.0 288.1,863.9 289.1,865.3 290.1,866.2 291.1,873.5 292.1,876.5 293.1,873.1 294.1,869.5 295.1,867.5 296.1,868.0 297.1,870.7 298.1,866.9 299.1,864.8 300.1,865.8 301.1,864.4 302.1,860.9 303.1,856.0 304.1,850.8 305.1,846.6 306.1,844.9 307.1,845.5 308.1,847.4 309.1,849.1 310.1,850.3 311.1,851.0 312.1,850.7 313.1,849.3 314.1,847.3 315.1,846.0 316.1,846.7 317.7,846.7 317.7,922.0 317.1,922.6" fill="#9999CC"/>
<path d="M282 793.5h0m.1 22.4h0m.1 10.5h0m0 14.5h0m.1-1.5h0m.1 1.6h0m0-11.2h0m.1 5.4h0m.1 9.1h0m.1-8.8h0m.3-13.7h0m.1 6.5h0m0 16h0m.1-26.1h0m.1 24.4h0m0-23.4h0m0 27.9h0m.2-9.8h0m.1 8h0m0 3.2h0m.1-5.8h0m0-7.9h0m0 2.5h0m.1 9h0m0-46.1h0m.1 33.2h0m.1 4.6h0m0 12.8h0m0-4.7h0m.1-21.2h0m0 24h0m.1-16.2h0m.1 3.6h0m0 7h0m0-6.7h0m.2-17.2h0m0 13.8h0m0 2.2h0m.1 7.5h0m0-10.6h0m0 1.9h0m.1 6h0m0 4.6h0m.1-12.2h0m0 5.3h0m0-5.1h0m0 13.6h0m.1-11.1h0m0-28.9h0m.1 18.8h0m.1 28.2h0m0-4.2h0m0 2.6h0m.2-8.4h0m.1-23.7h0m0 24.4h0m0 10.4h0m0-28.8h0m.1 18.6h0m.2-14.3h0m0 20.1h0m0-3h0m.1 10h0m0-2h0m.1-40.5h0m0 13.3h0m0 20.1h0m0-5.6h0m.1 15h0m0-80h0m0 51.6h0m0 26.6h0m.1-54.6h0m.2 55.5h0m0-2.7h0m.1 1.9h0m0-13.5h0m0 9.9h0m0-17.2h0m.1 16.4h0m0-10h0m0-10.2h0m.1 13.1h0m.1-7.8h0m0 20.3h0m.1-5.8h0m.1 9.4h0m0-24.6h0m0 17.1h0m0-31.7h0m0-12.2h0m0 40.3h0m.1-49.5h0m0 58.9h0m0-90.3h0m0 87.3h0m.2-21.7h0m.1 25.2h0m.1 2h0m.2-37.8h0m0 38.8h0m.1-17.4h0m0-8h0m0 20.2h0m.1-5.2h0m.1-4.8h0m0 15h0m0-18.1h0m0-18.2h0m.1-53.3h0m0 64.9h0m0 15.6h0m.1 10h0m0-26.1h0m.1 17.9h0m.1 8.8h0m0-1.1h0m0-7.3h0m.1 3.3h0m0-9h0m0 2.9h0m0-10.2h0m.2 21h0m0-18.4h0m0 3.3h0m0 3.9h0m.1 9.7h0m0-3.8h0m0-55.8h0m0 22.5h0m.1 16.9h0m.1 13.4h0m0-7.1h0m.1 11.5h0m.1-41.3h0m0 23.4h0m.1-19.5h0m.1 15h0m0 18h0m0-13.4h0m0-.5h0m.4 3.6h0m0-31.7h0m0 41.1h0m.1 4.4h0m0 6.3h0m0-22.2h0m.1 16.3h0m.1 6.9h0m.3-11.4h0m0-27.8h0m.1 3.6h0m0 26.6h0m0 6.5h0m0-6.6h0m.1 6.3h0m.1-28.3h0m.1 6.3h0m.1 16.6h0m0-9.4h0m.1-22.4h0m0 27.4h0m.1 6.1h0m0-4.8h0m.2-2.6h0m.1-12.6h0m.1 14.7h0m.1-8.2h0m.1-3.7h0m0 27.3h0m.2-69.8h0m.1 31.9h0m.1 36.1h0m0-73.4h0m0 70.7h0m.1-12.7h0m0-1.8h0m.1-26.7h0m0 10.8h0m0 19h0m0-5.8h0m0 23.9h0m.1-9.3h0m0 11.5h0m0-18.5h0m0 15.8h0m0-29.6h0m0 26h0m.1-9.1h0m0-16.7h0m.1 25.9h0m0 2.2h0m0-27.6h0m.1 24.6h0m.2-2.2h0m0-16.9h0m.3-.8h0m.1-20.3h0m.1-2.9h0m0 47.1h0m0-7.4h0m.1-8.9h0m0-11.3h0m.1 27.7h0m0-5.5h0m.1-7.8h0m0-20.2h0m.1 7.3h0m0 25.4h0m0-72.4h0m0 55.1h0m.1-4h0m0-7.1h0m0 6.7h0m.2 .3h0m0-9.8h0m0 20.4h0m.1-24.2h0m0 26.4h0m0-4.4h0m.1-15.7h0m.2 23.6h0m0-7.1h0m.1 7.7h0m0-8.2h0m.1 6.6h0m0-16h0m.1 19.9h0m0-16.8h0m.1-.2h0m0-5.6h0m.1 6.7h0m.1 13.7h0m.1-20.4h0m0-22.5h0m.1-13.8h0m0 48.8h0m.1 7.3h0m0-.1h0m0-8.2h0m.2-36h0m0 39.2h0m0-1.6h0m0-6h0m0 2.5h0m.1 6.5h0m0-34h0m0 39h0m.2-6.4h0m.1 6.2h0m0-17h0m0 14.3h0m0 .6h0m0-12.8h0m.2 4.1h0m0-38.7h0m0 49.1h0m.1-29.9h0m0 31.1h0m.1-33.7h0m0 8.4h0m0 5.6h0m.2-.7h0m.3 10.8h0m0-5.2h0m0-3.7h0m0-39.9h0m0 27.2h0m0 23.3h0m.1-6.7h0m.1-34.9h0m0 37.4h0m.1 12.3h0m.1 .3h0m.2 2.9h0m0-34.4h0m0 28.3h0m.1-3.1h0m0-73.9h0m0 80.2h0m.1-33.7h0m0 28h0m0 7h0m.2-45.8h0m.3 22.3h0m0 14.2h0m.1-16.6h0m0 19.6h0m.1-1.1h0m0-2.4h0m0 5h0m.1-37.9h0m0 32.8h0m.1-6.5h0m0-14.8h0m0 22.7h0m.1-36.3h0m.2 35.8h0m.2-12.7h0m0 16.4h0m.1-50.3h0m.1 42h0m0-1.8h0m0 10.5h0m.1-.1h0m.1-12h0m0 3.7h0m0-2.7h0m.1-23.6h0m0 16.1h0m0 17h0m.1-15.4h0m0-.5h0m0 16.2h0m.1-44.8h0m0 30.8h0m.1-5.6h0m0-17h0m0 18.5h0m.1 9.7h0m0 8.7h0m0-21.5h0m.1-11.7h0m0 10.5h0m0 8.4h0m.1-18.6h0m.1 32.6h0m0-2.7h0m.1-3.7h0m0-2.8h0m0 7.5h0m.1-6h0m.1-.4h0m0 2.9h0m0-.6h0m.1-7.1h0m0-2.1h0m.1 16.7h0m.1-13.4h0m0-5.7h0m0-1.2h0m0 2.7h0m.1 7h0m.1-10h0m.1-43.9h0m0 60.9h0m0-33.5h0m.1 28.7h0m.2-48.3h0m0 53.6h0m0-39.8h0m.1 12.8h0m0 20.8h0m0 .3h0m.1-2.3h0m.1 2.6h0m0-2.3h0m0 6.8h0m0-4.7h0m0-4.5h0m.1 5.9h0m.1-.8h0m0-7.6h0m.1 10.4h0m0-28.8h0m.1 15.3h0m.1 2.3h0m0 5.6h0m0-27.7h0m.2 34.6h0m0-2.4h0m.1-16.9h0m0 1.8h0m.1 9.6h0m.1-35.5h0m0 32.6h0m.1-1.8h0m0-13.1h0m0-18.8h0m.1 32.8h0m.1-5h0m.1 7.1h0m.2-26.7h0m.1 29.3h0m0-24.9h0m.1 15.2h0m0-8.8h0m.1-17.5h0m0 23.6h0m.1 11.6h0m.1-9.9h0m0 10h0m0-3.7h0m.1-.5h0m0-26.6h0m0 27.3h0m0-27.3h0m0 21.1h0m.1-17.2h0m0-2.3h0m.1 25.6h0m0-.6h0m.1-11.4h0m.1 11.7h0m.1-19.8h0m.1 16.6h0m.1-6.9h0m0 7.1h0m.1-37h0m0-19.3h0m.1 49.1h0m0 5.9h0m0-8.7h0m.2 4.7h0m0-9.9h0m0 9.5h0m.1-25.4h0m.1 8.4h0m.2 23.1h0m0-.2h0m.1-4h0m0-7.2h0m.1 2.1h0m.1-1h0m0 4.3h0m.2 2.8h0m0 .4h0m.1-22.9h0m0 13.9h0m0 4.7h0m0-17.3h0m.1 22.1h0m.1-52.4h0m0 23.2h0m.1 20.6h0m0 2.2h0m.1 6.5h0m0-32.5h0m.1-27.9h0m0 54.8h0m.2 2h0m0-43h0m.1 7.2h0m0 22.5h0m0-8.2h0m.2 22.7h0m0-21.8h0m.1 9h0m0 13.7h0m.1-24.7h0m0 1.6h0m0 18.9h0m.1-5.5h0m.1 9.1h0m0-13.1h0m.1-6.5h0m.2 14.3h0m0-45h0m0 52.5h0m0-24.4h0m0-.6h0m0 6.5h0m.1 18.2h0m0-5.7h0m.1 3.9h0m.1-6.7h0m.1-36.9h0m0 44.9h0m0 .1h0m0 1.7h0m.1-33.4h0m0 15.4h0m.1-21h0m0 31.7h0m.1-5.6h0m0-2.5h0m0 17.8h0m0-39.8h0m0 13.5h0m0-2.8h0m.1 25.2h0m0-23.6h0m.1-15.4h0m.1 12.2h0m.1 17.8h0m.1-8.1h0m0 10.8h0m0-9.9h0m0 3.6h0m.2-16h0m.1 9.2h0m0 19.5h0m0-14.1h0m0 1.2h0m.1 8.7h0m0-24.5h0m.1 27.4h0m0-14.2h0m.1 5.3h0m0-14.6h0m0 10.4h0m0-26.7h0m.1-.2h0m0 44.4h0m0-4.1h0m.1-6.8h0m.1 9.8h0m0-6.2h0m.1-61.2h0m.1 48.3h0m.1-30.7h0m.1 49.5h0m0-43.8h0m.1 31.4h0m0 15.6h0m.2-42.1h0m0 44h0m.1-4h0m0-8.4h0m.1-6.9h0m0-17.4h0m0 30.4h0m0 4.4h0m0 1.9h0m0-1.8h0m.2 .3h0m0-8.7h0m0-39.5h0m0 38.1h0m.1-18.1h0m.1-2.3h0m.1 17.1h0m0-57.1h0m0 70.8h0m.1-22.5h0m.1 22.9h0m0 .3h0m.2-11.1h0m.1-4.3h0m0-7h0m.1 8.7h0m.1 10.5h0m0-5h0m.1 5.8h0m.1-1h0m0-8.3h0m0 8.2h0m.1-28.6h0m0 19.7h0m0 .2h0m0-65.1h0m.1 72.7h0m.1-43.9h0m.1 40.7h0m0-59.5h0m0 62.6h0m.1-34.8h0m0 39.1h0m0-54.7h0m0 51.4h0m0 1.7h0m.1 2h0m0-4.8h0m0-18h0m.1 5.4h0m0-1.2h0m0-4.1h0m.2-8.2h0m0 18.4h0m0-7.4h0m.3 17.4h0m.1 1.1h0m0-11.6h0m0-17.9h0m0 16.7h0m.2-2.2h0m.1-8.2h0m0-2.5h0m.1-9h0m0 28.8h0m.1 .2h0m.1-.6h0m0 2.1h0m.1-39.3h0m0 13.6h0m.1-47.8h0m.1 67h0m0-31.4h0m.1 29.4h0m0-43.4h0m0 51.3h0m0-5h0m.1 2.9h0m0 2.2h0m.1-10.3h0m.1 10.7h0m0-31.3h0m.1 14.5h0m.1-20.9h0m0 36.4h0m0-9.5h0m.1-33.6h0m.1 33.2h0m0 3.5h0m0-18h0m.1 17.5h0m0-.3h0m0 6.5h0m.1-8.3h0m.1-1.8h0m.1 8.8h0m0-18.4h0m0 11.2h0m.1 10.9h0m0-26.6h0m0 16.1h0m0 7.9h0m.1-15h0m0 10.2h0m0-31.6h0m0 27.7h0m.1 2.6h0m.1 1h0m0 2.3h0m.2-52.9h0m0 51h0m.1 7.2h0m0-36.7h0m0 4.7h0m0-10.5h0m.1 9.2h0m0 35.6h0m0 0h0m0-21h0m.1-23.6h0m.1 38.4h0m0-50.9h0m.1 26.4h0m0 28.9h0m0-1.7h0m0-3.7h0m.1 4.3h0" stroke="#9999CC"/>
<polygon points="318.3,922.6 317.7,922.0 317.7,854.1 319.0,854.1 320.0,854.4 321.0,854.2 322.0,854.0 323.0,853.7 324.0,853.2 325.0,852.1 326.0,850.5 327.0,849.2 328.0,848.8 329.0,849.5 330.0,850.9 331.0,852.3 332.0,852.4 333.0,850.3 334.0,846.3 335.0,841.8 336.0,838.7 337.0,838.5 338.0,841.3 339.0,845.5 340.0,848.5 341.0,849.1 342.0,847.5 343.0,845.1 344.0,843.7 345.0,844.0 346.0,845.5 347.0,847.3 348.0,848.6 349.0,849.9 350.0,852.7 351.0,857.1 352.4,857.1 352.4,922.0 351.8,922.6" fill="#000080"/>
<path d="M318.9 846.5h0m.1-19.9h0m0 16.3h0m.1-2.3h0m.1 11h0m0-2.3h0m0-3.1h0m.1 .5h0m0-29.3h0m.1 16.4h0m.5-1.5h0m0-16.8h0m.1 34.9h0m0-9.2h0m.1 3.6h0m.1 7.3h0m0-21.5h0m.1 16.6h0m0-19h0m0 18.8h0m0 3.7h0m0-6.4h0m.1-17.1h0m.1-5.2h0m0 28.6h0m0-16.3h0m.1 6.3h0m.2-14.7h0m0-4.5h0m0 6.2h0m0-3.8h0m.1 16.3h0m0-1h0m0 8.3h0m.1-34.3h0m0 38h0m0-5.6h0m.1 6.6h0m0-5.9h0m0-16h0m.1 23.4h0m.2-13.3h0m.1-70.1h0m0 83.2h0m0-6.6h0m.1-20h0m0 14.1h0m.1-7.8h0m0 6h0m0-57.6h0m0 64.4h0m.1 7.4h0m0-19.7h0m0 6.9h0m0-6.8h0m0-14.8h0m0 30.7h0m0-.6h0m0 3.8h0m.1-14h0m.1 13.9h0m0-40.3h0m.2-3.6h0m0 44.3h0m0-44.7h0m.1 35h0m.1-73.8h0m0 34.1h0m0 43.2h0m0 1h0m.1-27.5h0m0 31.5h0m.1-14.7h0m0 15.2h0m.2-12.6h0m.1-29.9h0m0-7.1h0m.1 1.2h0m0-24h0m0 41.2h0m0 27.8h0m0-20.5h0m.1 15.3h0m.1 4.2h0m0-18.2h0m.1 20.4h0m.1 2h0m0-7.7h0m0-.2h0m.1-22.9h0m0 25.8h0m0-28h0m0-15.8h0m0 27.3h0m0 17.8h0m.1-13.8h0m0-13.5h0m.1-8.9h0m.1 7.8h0m0 17.7h0m0 8h0m0-3.8h0m0 8.1h0m0-2.1h0m0 4.7h0m.1-.6h0m0-31h0m0 19h0m.1 10.6h0m0-9.5h0m0-5.6h0m.1 15.4h0m.1-1.5h0m0-5.6h0m0 5.7h0m.1-7.7h0m0-3.8h0m0 11.5h0m.1-22h0m.2 9.6h0m.1 7.6h0m0 6.3h0m.1-10.2h0m0 .1h0m0-22.8h0m.1 24.6h0m0-19.8h0m0 24.2h0m0-1.1h0m0-2.9h0m0-20.3h0m0 11.5h0m.1-11.4h0m0-20.5h0m0 49.1h0m.1-10.2h0m0 7.5h0m0-13.3h0m0 11.7h0m.1-2.9h0m.1-23.4h0m.1 29.2h0m0-5.9h0m.1 5.4h0m.1-17.8h0m.1-62.5h0m0 79.1h0m.1-41.9h0m0 9.9h0m.1 27h0m0-4.7h0m.1 8.5h0m0-5h0m0-11.7h0m0 13.7h0m.1-23.7h0m.1 25.9h0m.1-46h0m.1 38.8h0m.2-28.4h0m.2 27.5h0m0 7.6h0m.1-2.2h0m0-8.4h0m0 3.1h0m0-25.4h0m.2 17.4h0m0 3.4h0m.1-8.5h0m.1 14.2h0m0-18.7h0m.1 18.1h0m0-41h0m.1 48.9h0m0-2h0m.1-6.9h0m.1-12.5h0m.1 14.7h0m0 6.8h0m.1-43.8h0m0 18h0m.1 1.3h0m.1 17.3h0m.1-25.1h0m0 31h0m0-2.2h0m.1-.8h0m0-3.3h0m.1-8.8h0m0 9.4h0m0-37.7h0m.1 37.9h0m0-2.6h0m0-16h0m.3 15.5h0m.1-12h0m.1 18.3h0m.2-6.1h0m0-28.8h0m0 36h0m0 3.9h0m0-16.3h0m.1 12.3h0m.1-5.8h0m.1 5.7h0m.1-39.9h0m.2 44.1h0m0-20.8h0m0 8.5h0m.1-3.9h0m0 5h0m0 10.8h0m.2 .4h0m.1-20.2h0m0 15.7h0m0-5h0m0-27h0m.2 31.2h0m.1 6.8h0m0-3.5h0m0 2.7h0m0-15h0m.1-.2h0m.1 6.5h0m.1-2.1h0m.1 11.4h0m0-.9h0m0-3.8h0m0 5.7h0m0-11.6h0m0-47.9h0m.1 46.5h0m0-14.5h0m.1 14.7h0m.1-4.6h0m.1-7h0m.1 7.8h0m.1-11.2h0m.1 24.8h0m0-49.2h0m0 49.9h0m.1-44h0m0 39.8h0m.1-34.8h0m0 34h0m.1-1.7h0m0-1h0m0 6.3h0m.1-39h0m0 18.6h0m0 10.5h0m.1-4.7h0m0 16.5h0m.1-9.6h0m0 9.2h0m.2-16.6h0m0 10.2h0m0-3.1h0m.1-12.7h0m.1 13.9h0m0-4.2h0m.1 5.1h0m.1-5.8h0m0 11.3h0m0-43.9h0m.1 9.5h0m0 28.1h0m.1-.1h0m0 5.3h0m.1-19.7h0m.1 19.3h0m.1-2.8h0m0-8.8h0m.1-50.8h0m0 37.1h0m.1 17.5h0m0 6.8h0m0-8.2h0m0 6.3h0m.1-3h0m.1-24.3h0m0 16.7h0m.1 8h0m.1 4.6h0m0-50.1h0m.2 2h0m.1-4h0m0-16.2h0m.2 15.4h0m0 47.7h0m0-35.1h0m.1 29.5h0m0 9.1h0m0-20.8h0m.1 21.6h0m0-8.3h0m0-6.9h0m.1-15.7h0m.1 10h0m0 18.2h0m0-11.7h0m.1-23.5h0m.1-28.7h0m0 48.7h0m.2-1h0m0 11.3h0m.1-1.4h0m0-.2h0m0 6.5h0m.1-4.8h0m0-1.2h0m.1-2.5h0m0 7.1h0m0-60.6h0m.1 8.3h0m0 17.9h0m0 2h0m.2 22h0m0-21.3h0m0 13.7h0m0-15.8h0m.1-14.8h0m0 35.8h0m.1-9.9h0m0 20h0m0-1h0m.1-15.7h0m0-26.6h0m.1-23.3h0m0 62.9h0m.1-63.2h0m0 63.4h0m0 2.1h0m.1-1.1h0m.1-12.6h0m0 3h0m.1 6.1h0m0-14h0m0-13h0m.1 7.1h0m0 16.5h0m0 4.8h0m.1-20.5h0m0 24.1h0m.1-36.6h0m.1 32.1h0m0 .9h0m.1 4.4h0m.1 .2h0m0-21.7h0m.1 15.3h0m.1 5.5h0m0 2.3h0m0-9.2h0m.1 5h0m0-17.6h0m0 12.4h0m.1 1h0m0 5.8h0m.1-15.3h0m0 1.2h0m0 8.9h0m.1-.2h0m0-.6h0m.1-41.7h0m0 20.2h0m.1-3.4h0m.1 34h0m0-28.9h0m0 12.9h0m.1-20h0m.1 20.7h0m.1-4.2h0m0 13.6h0m0 2.6h0m0 6.6h0m0-18.6h0m.1 9.1h0m.1 9.2h0m.1-4.6h0m0 2.7h0m0-20h0m0 22.5h0m.1-17.8h0m0 2.3h0m0 9.3h0m0-5.9h0m.1 12.4h0m.1-8.2h0m0-17.5h0m0-55.8h0m0 72.1h0m.1 9.1h0m.1-26.8h0m.1 17.3h0m0-19.2h0m0 14h0m.1-2.8h0m0 19h0m0-13.3h0m.2-11.9h0m0 14h0m.1 9.7h0m0-4.1h0m.1-23.1h0m0 28.3h0m.1-36.5h0m0 15h0m.1-5.8h0m.1 12.2h0m0 12.1h0m.2 4.9h0m0-51h0m.1 43.6h0m.1 4.1h0m0-.8h0m0-34.3h0m.1 41.6h0m0-52.6h0m.1 .6h0m0 49.3h0m0 .5h0m.2-18.6h0m0 10h0m.2-6.9h0m.1 7.7h0m0-37.7h0m.1 40h0m0-14h0m0 18.2h0m.1 3.3h0m.2-19h0m0-1.7h0m.1 16.4h0m0-3h0m0-4.9h0m0 1.4h0m.1 3.6h0m.1-10.1h0m.1 8.7h0m0-25h0m.2 27.4h0m.1 3.6h0m0-3.1h0m0-16.1h0m.3 15h0m0-1.8h0m0 3.8h0m0-2.9h0m0-15.4h0m.2 9.1h0m0 .2h0m0 .1h0m0-2.8h0m.2-40h0m0 16.4h0m0 23h0m.1 9h0m0-3.1h0m0-16.7h0m.1-1.7h0m0 17.4h0m.1 4.7h0m0-8.7h0m0-59.6h0m.1 57.6h0m0 .2h0m.2-1.9h0m.1 9.7h0m0 3.5h0m0-25h0m.2 25.6h0m0-.5h0m0-14.4h0m.1 .2h0m0 11.1h0m0-14.9h0m0 19.6h0m.1-13.5h0m0 3.9h0m0 0h0m0-10.5h0m.2 20h0m0-17.2h0m.1 13.3h0m0 1.5h0m.1-8.9h0m0-28.8h0m.2 25.4h0m.1 11.9h0m.1-60.3h0m0 62.1h0m.1-1.6h0m0-4h0m0 6.2h0m.1-28.8h0m.1 .9h0m0 26.6h0m0-12.2h0m0-11.6h0m.1-4h0m.1 21.5h0m0 3.6h0m0-2.2h0m.1-9.7h0m0 3.5h0m0 13.1h0m0-10.3h0m.1 6.1h0m0-8h0m.1-13.1h0m0-35.9h0m0 29.6h0m.1 18.2h0m0 14.2h0m0-45.9h0m0 19.1h0m.1 8.4h0m0-10h0m0-2.6h0m.1-.8h0m0 25.9h0m.1 3.3h0m.1-5.8h0m.1-13.1h0m0 16.8h0m0-2.2h0m.1-3.5h0m0-61.5h0m.1 64.5h0m0-30.6h0m.1 28.7h0m.1 9.7h0m0-1.8h0m.1-25.7h0m.1 18.7h0m.1 5.2h0m0 5.1h0m.1-28.3h0m0-.2h0m.2 28h0m0-40.6h0m.1 29.2h0m0 10.3h0m0 2.4h0m0-59.6h0m.1 49.9h0m.1 3.2h0m0-13.3h0m0-41.9h0m.1 54.9h0m0 2.3h0m.2-40.5h0m0 42.1h0m0-8.3h0m0 4.3h0m0 6.1h0m.1-4.3h0m.1-7h0m.1-2h0m0-16.1h0m.1 26.6h0m0-13.2h0m0-21.7h0m0 12.9h0m.1 25.8h0m0-25.2h0m0 23.2h0m.1-47.5h0m0 43.2h0m.1-30.1h0m0 25.7h0m.1 12.1h0m0-6.8h0m0-21.5h0m0 22.7h0m.1-3.7h0m0 8.6h0m.1-9.1h0m0-34.4h0m.1 7.3h0m.2 10.9h0m0 14.5h0m0 5.8h0m.1 2h0m.1-60.1h0m.1 54.8h0m0-22.8h0m.3 13h0m.1-29.9h0m.1 46.9h0m0-11.4h0m.1-47.3h0m0 6.6h0m0 15.1h0m0 25h0m.1 9.9h0m0-22.1h0m.1 23.8h0m0 6h0m0-28.2h0m.1 4.3h0m.1-2.1h0m0 26.1h0m.1-2.9h0m0 2.2h0m0-.4h0m.1-5.5h0m0-1.6h0m0-16.6h0m.2 23.5h0m0-24.6h0m.1 6.7h0m.1 19.7h0m0-22.5h0m.1-21.4h0m0 36.5h0m0 1.3h0m.1-1.3h0m0 6.5h0m0-8.2h0" stroke="#000080"/>
<polygon points="353.0,922.6 352.4,922.0 352.4,852.4 353.7,852.4 354.7,849.8 355.7,848.0 356.7,847.4 357.7,847.9 358.7,849.3 359.7,851.4 360.7,853.4 361.7,854.5 362.7,853.9 363.7,852.0 364.7,850.2 365.7,849.5 366.7,849.9 367.7,851.0 368.7,852.3 369.7,853.5 370.7,854.1 371.7,853.6 372.7,852.0 373.7,850.2 374.7,849.0 375.7,848.9 376.7,850.3 377.7,852.8 378.7,855.5 379.7,857.0 380.7,856.5 381.7,854.7 382.7,853.3 384.5,853.3 384.5,922.0 383.9,922.6" fill="#9999CC"/>
<path d="M353.6 824.8h0m0 9.5h0m0 8.4h0m0-2.1h0m0-2.9h0m.1-2.9h0m.1-10h0m0-1.8h0m0 14.3h0m.1-13.7h0m0-3.1h0m0 3.1h0m0 8.2h0m.2-41.5h0m0 53.7h0m.1 5.6h0m0-41.9h0m0-16.6h0m.1 59.4h0m.1-6h0m.1-44.2h0m0 22.1h0m.1 22h0m0-4.7h0m0-2.6h0m.1-6.6h0m0 18.2h0m.1-29.7h0m.1 4.2h0m0-26.5h0m0 46.3h0m0-9h0m.1 5.6h0m.1-1.1h0m0 3.2h0m.1 2h0m0-1.8h0m.1 4.6h0m.1-23.5h0m0 20.6h0m0-13.8h0m.1-2.9h0m.1 18.3h0m.1-6.3h0m0-50.5h0m.1 56.9h0m0-.1h0m0-38.8h0m.1 16h0m.1 20.6h0m0 3.6h0m0-7.1h0m0 5.7h0m.1-1.3h0m.1 .4h0m.1-2.7h0m0 .5h0m.3-4.8h0m0-5.5h0m.1 6.2h0m.1-.6h0m.1-26.6h0m0 17.2h0m.1 16.2h0m.2 2.4h0m0-25.2h0m0 21.1h0m.1-11.1h0m0-25h0m.1 30.2h0m0 3.5h0m.1 3.8h0m0-3.3h0m.1-.1h0m.1-6.7h0m0-1.1h0m0-15.3h0m0 1.3h0m.1-15.9h0m0 39.5h0m0-13.4h0m0 12.4h0m0-66.3h0m.1 44.6h0m.1 23.3h0m0-6.8h0m0 2.3h0m.1 2.6h0m0-37.3h0m0 21.5h0m.1 18.2h0m0-11.6h0m0 13.2h0m.1 .3h0m0-1h0m0-18.3h0m0-50.6h0m.1 42.4h0m0 28.2h0m.1-11.6h0m.1 7.2h0m0-25.4h0m.1 9.8h0m.1 15.4h0m0-13.3h0m.1 14.1h0m0 1.2h0m.1-2.5h0m0-28.5h0m.1 36.3h0m0-42.2h0m.1 23.3h0m0 6.6h0m0-1h0m.1-53.2h0m0 31.5h0m.1 15.3h0m0 13.6h0m.1-16.8h0m0 11.3h0m.1-76.6h0m0 80.7h0m0-4.1h0m0-34.7h0m.1-5.7h0m.2 44.8h0m.1 2.5h0m0 5.4h0m.1-23.6h0m0 5.3h0m0 12.3h0m.1 6.3h0m0-4.9h0m.1-16h0m0-2h0m0-13.6h0m.2 37.3h0m0-2.2h0m.1-10.2h0m.1-15.4h0m0 2.8h0m.1 25.6h0m0-5.2h0m0 3.3h0m0-.4h0m0-5.1h0m.1 6.1h0m0-7.2h0m.1 9.6h0m0-25.3h0m.2 23.3h0m0-3.1h0m0-27.7h0m.1-7.2h0m0 32.8h0m0-7.8h0m.2 3.7h0m0-23h0m.2-7.6h0m0 43.1h0m0-5.5h0m.2-4h0m0-3h0m.1-2.7h0m0 .5h0m.1 9.1h0m0 4.9h0m.1-43h0m.1 33.1h0m.1 9h0m0-5.2h0m.2 1.9h0m.1-5.9h0m.1 4.5h0m.1 2.4h0m.1-1.7h0m0-27.2h0m.1-1.4h0m0 23.6h0m0 4.4h0m0-16.3h0m0-26.1h0m0 43.4h0m.2-26h0m0 3.4h0m0 2.7h0m.1-2.2h0m0 14.7h0m0-36.2h0m.3 21.8h0m.1 18.5h0m.1-1.3h0m0-4.6h0m0-7.3h0m0-49.2h0m.1 50.6h0m0 3.9h0m0 5.5h0m.2-37.7h0m.1 41.6h0m0-16.8h0m0 19.9h0m0-5.5h0m.2 2.2h0m0-57.4h0m0-2.4h0m0 58h0m0 1.8h0m.1-73.2h0m0 76.1h0m0-6.1h0m.1 5.9h0m0-9.8h0m.1-2.3h0m0 3.8h0m.1-2.6h0m.1 10.6h0m0-31.7h0m0 27.1h0m0-.8h0m.1 .4h0m0-3.8h0m0-8.8h0m0-.7h0m0-1.4h0m.1 19.5h0m0-37.4h0m.1 35.5h0m0 .4h0m.1-2.8h0m0-1.2h0m.1-17.8h0m0-11.6h0m0 33.4h0m.1-43.2h0m0 4.2h0m0 35.2h0m0-60.9h0m0 66h0m.2-.5h0m.1-7.5h0m0 .9h0m.1 6.5h0m0-2.1h0m0 1.2h0m.3-29.1h0m.1 15.2h0m0 10.9h0m.1-17.7h0m0 17.8h0m0-1.8h0m0-5.6h0m.1-19.9h0m0 23.4h0m0 3h0m0-27.6h0m.2 25.2h0m.2 8.2h0m0-4.5h0m0-11.8h0m0-39.4h0m0 54.2h0m.1-34.3h0m0 .2h0m.1 35h0m0-24.8h0m.1 24.4h0m0-1.8h0m.1-15.2h0m0-14.2h0m.1 25.4h0m.1 2.3h0m.1-11h0m.1 14.3h0m.1-7.9h0m0-4.7h0m.1 9h0m0-18.1h0m.3 25h0m0-17.9h0m0 16.4h0m.1-3.8h0m.1-53h0m0 50.7h0m.1 3.3h0m0-29.8h0m0 1.7h0m0-19.4h0m0 50.1h0m0-12.2h0m.1 3.2h0m.1 .6h0m0 .1h0m.1-8.8h0m.2 18.4h0m0-.2h0m0-.6h0m0-7.6h0m.1-43.8h0m0 44.7h0m.1 6.5h0m.1-15.6h0m0 4.5h0m.1 8.2h0m0-40.5h0m.1 38h0m0-11h0m.1 4h0m.1-24.2h0m0 29.7h0m0-22.8h0m.2 28.3h0m.1-33h0m0 21.7h0m0 11.8h0m0-39.5h0m.2 43.9h0m0-58.6h0m0-33.2h0m.2 65.3h0m0 23.2h0m0-4.5h0m.1-19.4h0m0-17.8h0m0 41.5h0m.1 .2h0m0-19.3h0m0 19.5h0m.1-29.5h0m0 9.4h0m.1-4.2h0m0-12.2h0m0-11.1h0m.1 48.4h0m0-5.4h0m.1 3h0m0-15.6h0m.1 20.8h0m.1-60.9h0m0 40h0m0 18.9h0m0-33.4h0m.1 34.8h0m0-13h0m0-8.8h0m0 .1h0m.1 13.9h0m0 1.3h0m.1-10.9h0m0 12h0m0-3.2h0m.1-23.6h0m0 32.1h0m0-4.4h0m0-27.9h0m.1-42.5h0m.1 74.8h0m0-62.9h0m0 58.9h0m0 2.4h0m.1-27.1h0m.1-4.4h0m0-6.6h0m0 35.4h0m0-5.6h0m.1-29.3h0m0 27.9h0m.1-13.8h0m0 22.7h0m.1-8.2h0m0 6.6h0m.1-2.9h0m.2-1.1h0m0-17.2h0m.1 14.1h0m0-43.4h0m0 51h0m.1-7.5h0m0-23.3h0m.1 25.3h0m.1 2.6h0m0 2.3h0m.1-21.9h0m.1 1.9h0m0-33.5h0m.1 31.9h0m0 6.1h0m.3-29.6h0m.1-8.6h0m0 28.8h0m0 10.7h0m.1-48.9h0m0 63.1h0m.2-9.4h0m0 4.7h0m.1-46.6h0m0 49.3h0m0-26.8h0m.1 21.7h0m0-29.4h0m0 12.4h0m0-.5h0m0-22.5h0m.1 33.6h0m0 12.1h0m.1-14h0m.1-20.5h0m0 31.6h0m0-2.4h0m.1 4.1h0m0-9.2h0m0 .8h0m0-8.4h0m.1 10.7h0m.1 2.4h0m0-1.8h0m0 3h0m.1-21.8h0m.1 21.1h0m0-11.8h0m.1 7.7h0m0 2.9h0m.1-17.5h0m0 8.4h0m0-8.8h0m0-9.6h0m.1 13.7h0m0 19.8h0m0-11h0m.1-3.9h0m.2-5.3h0m.1 17.6h0m.1-16.2h0m0 16.9h0m.1-15.9h0m0-13.8h0m0 13.8h0m.2-4.9h0m0-12.7h0m.2 31h0m.1 5.7h0m.1-2.4h0m0-16.1h0m.1 14.8h0m0-3.1h0m0-15.1h0m.2-1.2h0m.1 9.3h0m0 13.7h0m.1-27.7h0m0 19.1h0m.2 8.7h0m0-31.8h0m.2 5.7h0m0-4.8h0m.1 1.4h0m0 11h0m0 6.9h0m.1 6.8h0m.1-12.5h0m0 19h0m.1-11.6h0m.1-.5h0m0 2.9h0m0-29.2h0m.1 39.7h0m.1-.1h0m0-10.8h0m.1-3.5h0m0-11.2h0m.1 23.2h0m.1-16.3h0m0 8.6h0m0 4.5h0m.1 6.6h0m.1-38.7h0m0 29.3h0m0-3.8h0m0-9.3h0m0 14.3h0m.1-11.3h0m0-13h0m0 16.6h0m.1-40.2h0m.1 13.6h0m0-17.5h0m0 61.7h0m0-6.5h0m.1-.7h0m0-9.3h0m.1 16.7h0m0-9.8h0m0 .4h0m.1-13.7h0m.2 17.8h0m0-17.7h0m0 18.4h0m.1-18.6h0m0 3.5h0m.1-25.6h0m0 34.7h0m.1 9.2h0m0-34.3h0m0 29.3h0m.1-31.4h0m0 36.7h0m0-59.7h0m.1 39.5h0m.1-67.2h0m0 76.9h0m0 12.7h0m.1-1.3h0m0-14.4h0m0-.2h0m0-9.3h0m.1-20h0m0 24.6h0m.1 11.7h0m0-21.3h0m.1 29.7h0m0-38.6h0m.2 30.5h0m0-29.7h0m.1 36.7h0m0-15.6h0m0-15.1h0m.1 32.1h0m0-10.7h0m0-15.7h0m.2-8.4h0m.1 22.6h0m0-8.3h0m.1 16.3h0m0-25.1h0m.1 12.2h0m0-2.7h0m.1 15.3h0m.2-13.1h0m0-1.5h0m0 3.1h0m0 7.2h0m.1-6.1h0m.1 2.9h0m0-29h0m.1 18.5h0m0 8.8h0m0 .5h0m.2-47.2h0m0 37.4h0m0 11.8h0m0-28.6h0m.1 32.4h0m.1-8h0m0-.7h0m.1 .1h0m0-32.5h0m.1 17.4h0m0 25.4h0m.1-10.3h0m0 12.8h0m0-6.7h0m.1-42.1h0m.1 34.8h0m0-22.6h0m0 34.4h0m.1-2.9h0m0-44.9h0m.2 30.3h0m0-34.4h0m.1 38.9h0m0-22.7h0m.1 5.3h0m.1-.9h0m0-3.6h0" stroke="#9999CC"/>
<polygon points="385.1,922.6 384.5,922.0 384.5,858.5 385.8,858.5 386.8,859.0 387.8,859.1 388.8,859.2 389.8,859.3 390.8,859.9 391.8,861.5 392.8,863.8 393.8,865.9 395.7,865.9 395.7,922.0 395.1,922.6" fill="#000080"/><polygon points="400.2,922.6 399.6,922.0 399.6,848.6 400.9,848.6 401.9,836.5 402.9,829.9 403.9,831.3 404.9,832.5 405.9,833.8 406.9,836.2 407.9,839.5 408.9,842.1 409.9,842.6 410.9,840.5 411.9,836.2 412.9,830.5 413.9,825.0 414.9,821.0 415.9,819.2 417.6,819.2 417.6,922.0 417.0,922.6" fill="#000080"/>
<path d="M385.7 825.1h0m0 28.5h0m0-18.2h0m0 13.1h0m.1-3.2h0m0-1.1h0m.1-24.4h0m0 14.2h0m.1 19.2h0m0-16.9h0m.1 20.9h0m0-9.2h0m0 8.3h0m0-37h0m.1 29.3h0m.2-12.1h0m0 18.9h0m0-61.9h0m.1 59.7h0m0-.8h0m0-2.1h0m.1-2.9h0m.1 7.6h0m0-21.5h0m.2 19h0m.1-8.7h0m0-3.4h0m0 13.1h0m.1 .8h0m0-32.2h0m0 24.3h0m.2 4.2h0m0-89h0m0 93.6h0m0-54.5h0m.1 50.6h0m0-51h0m0 42.7h0m0-17.1h0m0 30.7h0m.1-.9h0m.3-23.4h0m0-14h0m.1 39h0m0-13.5h0m0-8.1h0m.1 22.3h0m.1-37.7h0m0-2.4h0m.1 38.5h0m0-9.8h0m.1-3.8h0m.1 .3h0m.1-8.5h0m0 13.8h0m.1-8.5h0m.1 14.9h0m.2-34.3h0m0 12.3h0m0 14.2h0m.2 7.1h0m.1 2.8h0m0-32.6h0m0 24.8h0m0-10.4h0m.1-40h0m0 57.4h0m.1-13.3h0m.2 13.8h0m0-14.2h0m.2 5.8h0m0-15.4h0m.2-27.6h0m0 14.1h0m0 32.3h0m.1-7.7h0m.5 12.8h0m0-45.2h0m0 44.5h0m.1-12.7h0m0 12.9h0m0-59.8h0m.1-1.2h0m0 58.6h0m0 1.4h0m.1-.8h0m0-21.5h0m.1 24.2h0m0-.2h0m.1-12h0m0 5.2h0m.1 8.6h0m0-11h0m.1-6.7h0m.1 18.8h0m0-17.8h0m.1 17.9h0m0-72h0m.2 41.3h0m0 21.4h0m0-6.6h0m.1-15.5h0m0 19.8h0m0-11.3h0m.1 22.8h0m0-3.8h0m0-29.8h0m.1 26.1h0m.1-11.7h0m.1 13.6h0m0-13.4h0m.1 20.6h0m0-54h0m.1 48.9h0m.1-11.8h0m.3-34.4h0m.1 34h0m0 3.2h0m.1 13.5h0m0-87.8h0m.1 78.8h0m0-39.1h0m.2 51.1h0m.1 .1h0m0-8.5h0m.1-1.9h0m0-11.4h0m0 .3h0m.1-17h0m.1 19.1h0m.1 15h0m0 2.6h0m0-19h0m.1-24h0m0 38.2h0m.1-12.7h0m0 20.8h0m.1-5.6h0m.2 4.4h0m.1-29.3h0m0 23.5h0m0 2.9h0m.2 0h0m0-17.1h0m6.4-33.9h0m0 22.1h0m0 14.5h0m.1-3.8h0m0-26.2h0m0 30.8h0m.1-6h0m0-9.2h0m0-18.7h0m.1 17.6h0m0 11h0m0-9h0m0-6h0m0-32.7h0m.1 6.1h0m.1 31.2h0m0-11.1h0m.1-1.6h0m0 20h0m0 .2h0m.2-29.3h0m0 11.5h0m0-40.3h0m0 49.7h0m0-2.6h0m.1 .7h0m0 6.7h0m0 2.1h0m0-12.8h0m.1-35.5h0m0 29.6h0m0-14.7h0m0 22.5h0m.1-5.8h0m.1 6h0m0 3.6h0m0-6.1h0m.1-29.2h0m.1 24.8h0m.2 4.8h0m.1-14.6h0m0-16.5h0m.1 13.2h0m0 7h0m.1 9.6h0m0-3.4h0m.2-6.4h0m.1 12.8h0m.1-13.6h0m0 3.9h0m0 12.2h0m.1-14.3h0m.2 2.4h0m0 10.4h0m0-19.3h0m.1 8.6h0m.1-16.8h0m.1-5.7h0m.1 28.9h0m0-17.7h0m0 14.8h0m0-14.2h0m.1 10.7h0m.1-1.2h0m0-3h0m.1 15.8h0m.1-1.5h0m0 2.9h0m0-4.8h0m.2-11.5h0m0-2.9h0m.1 12.4h0m0-63h0m0 58.2h0m.1 12.5h0m0-3.7h0m0-3h0m0-11.9h0m.2 15.9h0m0-32h0m.1-13.9h0m0 33.7h0m.2 12.9h0m.1-4.1h0m0 4.7h0m.1-.5h0m.1-1.4h0m0-15.1h0m0 1.6h0m0 7.4h0m.1 10.5h0m0-15.7h0m0-15.7h0m.1 28.4h0m0-40.8h0m.1 26.8h0m0 2.5h0m0 .4h0m.1-3.8h0m0 6.4h0m.2-7.9h0m.2-11.6h0m0 6.4h0m.1 25.3h0m0-2.4h0m.1-44.9h0m0 29.7h0m0 16h0m0-7.3h0m0 9.1h0m0-6.7h0m0-6.3h0m.1-.8h0m0-5.1h0m0 13h0m0-32.5h0m0 25.8h0m0-22.9h0m.2 34.9h0m0 1.4h0m.1 .7h0m.1-37.6h0m0-20.3h0m0 56.2h0m0-4.5h0m.1-4.2h0m.1-21.1h0m0 21.4h0m0-15.4h0m.2-4.4h0m.1 24.1h0m0 4.1h0m0-20.9h0m0 3.1h0m.2-32.1h0m0 35.6h0m.1 3.3h0m0 13.4h0m0-2.3h0m.1-26.9h0m0 30.6h0m0-5.7h0m0-9.7h0m0 9.1h0m.1 4.1h0m0-13.9h0m0 14.6h0m.1-14.2h0m0-39.7h0m0 49h0m.2-8.1h0m.1 9.7h0m.1-55.6h0m.1 47.3h0m.2 1.6h0m0 13.2h0m0-15.9h0m.1 6.2h0m.1 4.6h0m0-20.6h0m0 23.4h0m0-9.5h0m.1 6.1h0m.1 3.5h0m0-31.2h0m.1 31.2h0m0-7.5h0m0-51.6h0m0 49.5h0m.2-9.6h0m.1-2.5h0m.1 25.5h0m0-.6h0m0-5.2h0m.1-27.5h0m.1 25.4h0m.1 6.5h0m0-5.4h0m0 1.9h0m.1 4h0m.1-1.4h0m0-5.7h0m.1-1h0m.1-20.3h0m.3 19.8h0m0-.7h0m.1 6h0m0-8.5h0m.1-18.9h0m0 30.4h0m0-8.3h0m.1-38.2h0m0 26.8h0m.2-33.2h0m0 48h0m0-19h0m0 21.2h0m.2 .4h0m.1-3.4h0m.1-24.2h0m0 16.5h0m0 2.5h0m.1-.8h0m0-20.6h0m.1 18.8h0m0 3.6h0m.1-31.9h0m.1 24.3h0m0-3.7h0m0 16.5h0m.1-6h0m0-33.9h0m.1 21.6h0m0 11.8h0m0-6.6h0m0 11.4h0m.1-.8h0m.1-18.7h0m0 17.5h0m0-63.5h0m0 50.4h0m.2 0h0m0 5.2h0m0-40.3h0m.1 36.8h0m0-35h0m.1 5.5h0m.1 7.1h0m0 30.7h0m.1-5.9h0m0-8.8h0m.2 4.7h0m0 10.3h0m.1-.8h0m0-12.9h0m.3-11.3h0m0 2.9h0m.1 18.4h0m0-4.3h0m0-12.3h0m.1 17.8h0m.2-7.3h0m0-21.5h0m0-3h0m.1 20.3h0m.1 1.4h0m0-23.4h0m0 28.9h0m.1 1.4h0m.2-25.1h0m.1 21.6h0m.1-9h0m0 4.1h0m.1-17.6h0m0 9h0m0-40.5h0m0 30.4h0m0-4.7h0m.1 28.9h0m.1-8.4h0m0-37.1h0m.1 16.6h0m.1-14h0m.1 40.3h0m.1-20.5h0m.1-1h0m0 12.9h0m.1-39.8h0m0 31.7h0m.1-13.8h0m.1 20.3h0m.1-24.5h0m0 26.9h0m.1 6.3h0m.1-8.7h0m0-15.1h0m0-7.2h0m0 6.8h0m0 24.5h0m.1 .3h0m.1-10.3h0m0-7.6h0m.2 15.5h0" stroke="#000080"/>
<polygon points="418.2,922.6 417.6,922.0 417.6,842.2 418.9,842.2 419.9,844.4 420.9,846.4 421.9,847.1 422.9,846.3 423.9,844.7 424.9,843.3 425.9,842.4 426.9,842.0 427.9,842.5 428.9,844.3 429.9,847.0 430.9,849.3 431.9,849.9 432.9,848.4 433.9,846.1 434.9,840.4 435.9,836.7 436.9,839.6 437.9,842.8 438.9,844.0 439.9,843.2 440.9,841.6 441.9,840.6 442.9,840.6 444.7,840.6 444.7,922.0 444.1,922.6" fill="#9999CC"/>
<path d="M418.8 837.9h0m0-26.2h0m.1 25.1h0m.1 .2h0m0 3.9h0m.2-19.2h0m0 13.9h0m0-10.3h0m.1 4.3h0m0-4.9h0m0 15.6h0m0-29.3h0m.1 14.2h0m.3 1.9h0m0 4h0m.1-5.4h0m0-9.6h0m.1 5.5h0m.1 16.2h0m.1-44.1h0m.1 47.2h0m0-6.5h0m0-15.8h0m0 21.5h0m.1 .8h0m0 2.6h0m.1-16.4h0m0-33.7h0m.1 39.2h0m0 12.3h0m.2-46.9h0m0 45.7h0m0 .8h0m0-81.9h0m0 73.9h0m.1-.2h0m0-2h0m0-5.4h0m0 12.2h0m.1-2.7h0m0 3.1h0m.2 3.7h0m0-12.3h0m.2 3.4h0m0 8.1h0m.1-21.9h0m.1-19.5h0m.1 36.8h0m0-11.7h0m0 11h0m.2 1.1h0m0 1.8h0m0-10.9h0m.2-16.8h0m0 26.3h0m.1-4.3h0m0-21h0m0 13.5h0m.1 1.5h0m.1 15.6h0m0-3.1h0m.1-.1h0m0 1.1h0m0-.6h0m.1-51.2h0m0 43.3h0m.1-.5h0m0 1.9h0m.1-26.1h0m0 34.1h0m.1 0h0m0 .1h0m.1-2h0m0-15.8h0m0-2.5h0m.2 4.7h0m0-14.2h0m.2-27.1h0m0 30.8h0m.2 21.6h0m.1-11h0m0 11.5h0m.1-22.5h0m0-8.9h0m0 34.8h0m.1-4h0m0-6.6h0m.2 7.9h0m0-1.7h0m.1-.7h0m.1-3.1h0m0-50.2h0m0-1.5h0m.1 52.1h0m0-4.3h0m0 0h0m.2 9.8h0m0-32.4h0m0 15.2h0m.1 2h0m.1-5.7h0m0-11.9h0m0 27.5h0m0-11.6h0m0 10.4h0m.2-5.7h0m0-.7h0m0-2.8h0m0 15.1h0m0-9.2h0m0-22.2h0m.2-12.9h0m.3 38.5h0m0 4.4h0m.1-11.3h0m0-13.7h0m0-23.8h0m0 31.7h0m0-14.9h0m0 12.3h0m.1-13.3h0m.1 11.7h0m.1 7.9h0m.1 5.3h0m0 4.8h0m0-16.2h0m0 19.2h0m0 2.3h0m0-22.7h0m.1 4.6h0m0 0h0m0-2.7h0m0 19.5h0m0-26.9h0m0 23.3h0m0 1.9h0m.1-9h0m.1-14.5h0m0 25.1h0m0 .9h0m0-4.9h0m.1-5.3h0m0 3h0m0-1.6h0m0-40.8h0m.1 42.2h0m0 .2h0m0 3.9h0m0-17.2h0m0-38.4h0m0 22.2h0m.1 12.9h0m0-12.1h0m.2 33.1h0m.1 1.7h0m0-16.5h0m.1 1.7h0m0-65h0m.1 61h0m0-8.2h0m.1 2.3h0m.1 19.9h0m0-1.9h0m0 7.2h0m.1-10.9h0m.1-55.8h0m0 60.1h0m.1 2.2h0m0-38.3h0m.1 7.8h0m0 29.1h0m.1-.2h0m0-46.2h0m0 46.8h0m.1-23h0m0 27.2h0m.2-6.7h0m0-36.9h0m.1 34.3h0m.1-36.1h0m0 36.1h0m.3-2.8h0m.1-2.7h0m0 6.3h0m.2 4.5h0m0-5.9h0m0 11.9h0m.1-66.1h0m0 66.3h0m0-29.7h0m0-20.5h0m.2 23.3h0m0 24.7h0m0 2.4h0m0-10.5h0m.1 7.8h0m0-1h0m.1 1.7h0m.1-9.8h0m0-17.4h0m.1 28.4h0m0-7.6h0m.1 7.7h0m0-3.8h0m0 3.4h0m0-6.1h0m.1 9.9h0m0-2.8h0m.1-55.7h0m0 41.3h0m0 12.3h0m.1-18.2h0m0 19h0m0 2.1h0m.1-1.3h0m.1-4.3h0m0-10.4h0m0 8.1h0m0 8.6h0m.1 3h0m.1-3.6h0m0 2.8h0m0-6h0m0-6.5h0m0-8.7h0m.3 20.4h0m0 .5h0m0-8.9h0m.2-27.8h0m0 37.2h0m0-41h0m.3 21.7h0m0-11.8h0m.1 29.8h0m0-2.6h0m.1-9.9h0m.1 9.8h0m0-1h0m0-25.2h0m.1 31h0m0-4.7h0m0-2h0m.1 7.9h0m0-26.1h0m.1 23h0m0-21h0m0-17.1h0m.1 8.5h0m.1 30.7h0m0-7.3h0m0-4.2h0m0-13.5h0m0 25.5h0m0-.9h0m.1-4.4h0m0-10.2h0m0 13.7h0m.1 4.5h0m0-10.1h0m.1-36.9h0m0 23.7h0m.1 12.5h0m0 1.2h0m0-16h0m0 19.8h0m0 5h0m.1-22.4h0m0-4.7h0m0-7.6h0m.1 8.5h0m0-55.9h0m.1 50.2h0m0-.6h0m.1 21.8h0m.1-8.7h0m.2 3.8h0m0 8.4h0m0-.2h0m0 5.7h0m.2-7h0m0 4.3h0m0-18.2h0m0 21.9h0m.2-9.8h0m0 5.7h0m0 1.9h0m.1-6.8h0m.1 6.3h0m0-30.9h0m0 27.2h0m0-17.9h0m.1 19h0m.1 1.3h0m0-15.9h0m0 16.6h0m0-6.6h0m.2 2.6h0m.1 3.2h0m.1-19.6h0m0 10.7h0m.1 3.5h0m0-4.1h0m.1-14.4h0m.1 17.5h0m0-1.8h0m.1-27.2h0m0 25.5h0m0 7.2h0m.1-25.4h0m.1 23.4h0m0-34.6h0m0 30.6h0m0-.2h0m.2-32.2h0m.1 34h0m0-58.8h0m0 58.4h0m.2-30.2h0m.1 22.1h0m.1 9h0m.1-11.1h0m.1 9.9h0m.1-.6h0m0-4.7h0m0 .3h0m.1-43.7h0m0 39h0m0-8.8h0m.1-33.9h0m.1 37.1h0m0 12.3h0m0-1.8h0m.1-21h0m0 4.5h0m.2-10.4h0m.1-1.9h0m.1 25.5h0m0 8.5h0m.1-1.9h0m.1-.4h0m0-26.9h0m.1 27.1h0m0 1.2h0m.1-6.9h0m0 10.4h0m0-16.6h0m.1 .3h0m0 11h0m0 1.5h0m0-9.7h0m.1 1.3h0m0 3.9h0m0 7.4h0m0-17.2h0m0 2.1h0m.1-45.5h0m.1 56.2h0m0 6.1h0m0-73.7h0m.2 58.3h0m0-14.1h0m0-20.6h0m0 51.4h0m.2-16.1h0m0 4.5h0m.1-18.1h0m.1-3.7h0m0 16.4h0m.1 10.4h0m.1-16.2h0m0 8.3h0m0 1.8h0m.1-6h0m0 16.3h0m0-43h0m0 42.3h0m.1 4.3h0m0-9.5h0m.1 2.3h0m0-14.1h0m.1-20.5h0m0 19.7h0m0 12.6h0m0 4.3h0m.1 6.5h0m0-2.4h0m0 1.7h0m.1-3.8h0m0-3.4h0m0-27.2h0m.1 22.2h0m0-9.2h0m.1 21.3h0m0 .9h0m0-43.4h0m.1 21.2h0m0 21.2h0m0-48.1h0m0 40.8h0m.1-36.5h0m0 5.8h0m0 16.1h0m0 1.2h0m.1 21.4h0m.1-4.1h0m0-45.5h0m0 31.7h0m.1 17h0m.1-1.7h0m0-4.4h0m.1-21.3h0m0 23.2h0m0-26.3h0m.1 22.6h0m0-24.3h0m.1 10.2h0m0 22.2h0m0-17.1h0m.2 5.6h0m.1 11h0m0-2.3h0m0 2.8h0m0-21.7h0m.1 13.7h0m0 3.1h0m0-16.2h0m0-.4h0m.1-14.9h0m.1 32.6h0m0 2.6h0m.1-25.9h0m0 11.7h0m0 9.5h0m0-13.7h0m.2 17.9h0m0 .4h0m0-16.8h0m.1 .3h0m0 5.4h0m.1-20.6h0m0 31h0m0-36.8h0m.1 25.8h0m.1-6.9h0m0 14.7h0m.1-31.4h0m0 27.5h0m0-2.6h0m.1 3.5h0m0 4.1h0m0-3.8h0m.1 5.6h0m.1-9.5h0m0 4.8h0m0-3.9h0m.1 1.3h0m.1-1.8h0m0-17.5h0m0 4.8h0m.2 9.2h0m0 2.9h0m0-58.4h0m0 56.7h0m.1-11.4h0m0-7.7h0m.1 28.2h0m0-36.7h0m0 35.1h0m0 1.5h0m.2-37.6h0m0 23.6h0m.2-16.4h0m0-36.9h0m.1 59.7h0m0-38.6h0m.2 41.1h0m0-12.1h0m0-16.4h0m0-3.3h0m.1 28.6h0m.1-7.6h0m0-5.6h0m.1-3.9h0m.1 27.3h0m0 .2h0m0-10.1h0m0 3.5h0m.1-24.9h0m0 20.1h0m.1-52h0m0 53h0m.1-5.9h0m0 13.7h0m.1-5.1h0m0 4.2h0m0-1.5h0m0-10.3h0m0 10.2h0" stroke="#9999CC"/>
<polygon points="445.3,922.6 444.7,922.0 444.7,838.8 446.0,838.8 447.0,836.6 448.0,834.4 449.0,832.6 450.0,831.2 451.0,830.2 452.0,830.0 453.0,830.9 454.0,832.8 455.0,834.2 456.0,833.8 457.0,831.5 458.0,829.4 459.0,829.4 460.0,832.0 461.0,835.8 462.0,839.2 463.0,841.3 464.0,842.4 465.0,842.6 466.0,842.2 467.0,841.8 468.0,842.1 469.0,842.8 470.0,843.5 471.0,843.5 472.0,842.4 473.0,841.2 474.7,841.2 474.7,922.0 474.1,922.6" fill="#000080"/>
<path d="M446 818.1h0m.1 17.4h0m0-27.8h0m.2 8.6h0m.1-6.2h0m0 19h0m0-30h0m0 21.7h0m0-19.6h0m0 36.1h0m.1-15.8h0m0 14.4h0m.2-2.3h0m0-18.6h0m0 12.2h0m.1-2.4h0m0 8.6h0m.1-2.6h0m0-12.4h0m0 6.4h0m0-14.4h0m.1 23.8h0m.1 1.9h0m.2-7.3h0m0-6.7h0m0 9.4h0m0-10.7h0m.1 10.6h0m.1-32.3h0m0 22.6h0m.1 1.5h0m0 6.3h0m.1-64.1h0m0 48.1h0m.1-7.9h0m0 28.7h0m.1-10.3h0m0-41.4h0m0 41.9h0m.1-45.2h0m0 29.9h0m.1 15.3h0m0 8.9h0m.1-19h0m.1 13.7h0m0-33.4h0m.1 36.2h0m0-12.7h0m.1 1.8h0m0 8h0m0-23.1h0m.1-6.6h0m0 25.9h0m.1-.8h0m.1 .8h0m0 .7h0m.3-8h0m.1-26.5h0m.1 25h0m0 2.8h0m.1 5h0m0-6.1h0m.1 5.8h0m.2-36.3h0m.1 19.8h0m.1 7.9h0m0 8.3h0m.1 5.5h0m0-4.2h0m0-10.6h0m.1 13.5h0m0-40.1h0m0 11.8h0m.1 16.6h0m.1 13.8h0m.1 .2h0m0-7.2h0m0 5.8h0m0-10.5h0m.1-41.1h0m.1 48h0m0-18.3h0m0 0h0m.1 24h0m.1-67.1h0m0 53.7h0m.1 3.7h0m0 6.2h0m0 2.2h0m.1-33.6h0m0 13.3h0m0 19.5h0m.1-34.8h0m0-10.7h0m0 46.1h0m.1-8.3h0m.2-60h0m.1 66.6h0m0-14.5h0m.1 16h0m0-.7h0m.2-21.8h0m0-34.8h0m.1 53.8h0m0 1.3h0m0-61.3h0m0 62.3h0m.1-34.4h0m0 26.2h0m0 .9h0m.1 2.3h0m.1 1.8h0m0-24.3h0m.1 14.3h0m0-8.4h0m0 22.1h0m0-.7h0m.1 2.1h0m.2-9.1h0m0 7h0m.1-14.1h0m.1 15.5h0m0-18.6h0m0-1.7h0m.1 9.9h0m.1-9.3h0m.1 7h0m0 13.4h0m0 .1h0m0-.5h0m.1 .9h0m0-12.8h0m.1 6.6h0m0-25.9h0m0 24.5h0m.1-6.2h0m0-6.2h0m0 7.9h0m.2 8.8h0m.1-7.9h0m.1-17.8h0m0 26.4h0m0-65h0m0 47h0m0 15.7h0m.1-11.6h0m.2-7h0m.1 11.9h0m0 11.6h0m0-14h0m0-15h0m.1 29.5h0m0-5.9h0m0-9.1h0m.1 4.5h0m.1-30.2h0m0 29.8h0m0 8.2h0m.1-1.9h0m0-49h0m0 34.6h0m0-26.8h0m.1 35.7h0m0-18.2h0m.1 4.2h0m0 22.7h0m.1-4.9h0m0-12.6h0m.1 16.5h0m0-7h0m0-10.6h0m.1 16.3h0m0-22.5h0m0 4.2h0m.1 17.2h0m0 5.6h0m.1-14.9h0m0 14.8h0m.1-8.6h0m0 11.5h0m0-12.2h0m.1 6.1h0m.1-1.8h0m0 3.3h0m0-8.5h0m0 .4h0m.1-3.2h0m0 5.7h0m.1-37.7h0m0 46.6h0m.1-24.6h0m0-2h0m.1 25h0m0-21.2h0m0-14.9h0m.1 32.1h0m0-22.9h0m0 5.1h0m0 23.9h0m0-8.9h0m.1-2.9h0m.1-18.1h0m0 8.7h0m0 11.9h0m.1-6.4h0m0 3h0m.1 2h0m0 5.8h0m0 2.3h0m.1-16.1h0m.3 12.4h0m.1-32.6h0m0 28.4h0m0 3.6h0m.1 2.4h0m0-9h0m0 5.5h0m0 6.6h0m0-5.9h0m.1-26.7h0m.1 27.4h0m.1-15.7h0m.1 17.3h0m0-14.2h0m.1-5.4h0m0 7.1h0m.1 7.4h0m.1 1.8h0m0-34.1h0m.1-4.7h0m.1 37.1h0m.1-30.7h0m.1 12.3h0m0 10.7h0m0 2.6h0m0 10.7h0m.1 .1h0m.1-3h0m0-1.2h0m.1-14.6h0m.1 2.5h0m.1-4.5h0m.1-4.1h0m.1 22.2h0m0-3.2h0m0 5.6h0m0-2.5h0m.1-52.9h0m.1 42.3h0m0-13h0m0 16.7h0m.1-8.3h0m0 14h0m.1-30.3h0m0 11.4h0m.1 10.8h0m.2-4.6h0m0 .1h0m.1-11.7h0m.2-17.6h0m.2 35.4h0m0 .9h0m.1-36h0m0 49h0m0-6.1h0m.1-1h0m.2-20.8h0m0 26.5h0m0-6.9h0m0 3.7h0m0-17.8h0m.1 3.2h0m.1 15h0m.1-14h0m0 11.4h0m0 7.1h0m.1 1.5h0m0-11.2h0m.2 4.6h0m.1 .2h0m0-17.6h0m0 17.6h0m.1-17.8h0m0-34.2h0m.1 54.1h0m0-41.4h0m0 45.7h0m0-33.6h0m.1-6.3h0m0-5.7h0m0 7.7h0m0 26.2h0m0 8h0m.1-12.2h0m0 11h0m0-33.7h0m.2 30h0m.1 11.6h0m0-.6h0m.2-58h0m0 57h0m.1 1.3h0m.1 1.2h0m0-.7h0m0-4.8h0m0-2.1h0m.1-6.8h0m.2-26.3h0m0 12.8h0m.1 11.1h0m0-6.4h0m0 25.7h0m0-13.5h0m.1-9.4h0m0 10.5h0m.1-12.4h0m0 22.1h0m.1-12h0m.1-12.5h0m.1 7.2h0m0 6.5h0m0-26.2h0m0 14.7h0m0 25.2h0m0-22.2h0m0 .7h0m0 19.9h0m.1-8.5h0m0-.7h0m.1-2h0m0 8.2h0m.1-29.2h0m.3 33.7h0m0-2h0m0-32.1h0m0 35h0m0-3.2h0m.1-35.2h0m.1 38.2h0m0-1.7h0m.1-11h0m0 3.1h0m0 7.2h0m.1-35.2h0m0 32.9h0m.1 5h0m.2-16.2h0m0-15.2h0m.1-19.3h0m0 47h0m0-4.9h0m.1-1.5h0m0-8.6h0m.1-14.6h0m0 18h0m.2 7h0m0 5h0m.1 3.1h0m0-15.4h0m.2-34.1h0m0 42.1h0m.3-25.6h0m.2 24.5h0m0-39.5h0m.1 11.7h0m0 34h0m.1-2.4h0m0-28.6h0m0 9.1h0m.1-9.1h0m0 22.9h0m.3 6.7h0m0 3.4h0m.1-47h0m.1 40.6h0m0-2.5h0m.3 4.8h0m0 1.3h0m.1-12.7h0m0 .9h0m0-3.1h0m.1-10.7h0m0-16.1h0m.1 6.2h0m0 33.6h0m.1-5.9h0m0 7.7h0m0-7h0m.1-68.6h0m0 65.2h0m0 3.2h0m.1-5.8h0m0-4.4h0m.1 20h0m0-28.7h0m.1-7h0m.1 20.8h0m0 13.1h0m0-10.9h0m.1 8.9h0m0-28.2h0m.1 16.6h0m0 13.4h0m.1 .7h0m0 .3h0m.1 1.4h0m.1-39.1h0m.1-31.4h0m0 51.4h0m0-2.8h0m.1-36.8h0m0 54.4h0m.1-36.3h0m.1 33.2h0m0-5.9h0m0 10.4h0m.1 .2h0m.1-2.8h0m.1-5.9h0m0-25.1h0m0 35.4h0m0-16.5h0m.1-59.1h0m.1 58.9h0m.1-29.5h0m0 42h0m.1-19.4h0m0 21.6h0m0 2.7h0m0-49.5h0m0 39.7h0m0-6.3h0m.1-18.9h0m.1-3.7h0m0 22.3h0m0 9.1h0m.1 .2h0m.1-72.9h0m0 63.5h0m0 3.5h0m.1-6.1h0m0-15.2h0m.1 16.3h0m0 19h0m.1-16.2h0m0 13.7h0m0-3.5h0m.1-11.3h0m0-6.5h0m0 12.8h0m.1-15.9h0m0 24.5h0m0-65.8h0m0 67.9h0m.1-5.9h0m.1-28.5h0m0 34.7h0m0-3.9h0m0-3.8h0m.1-5.4h0m.2 8.1h0m0-8.2h0m0-1.1h0m0 13.1h0m.1 1.5h0m.1 0h0m0-32.7h0m.1-10.5h0m0 .1h0m0 38.7h0m0-6.5h0m0 5h0m.2 6.2h0m0-11.1h0m.1 11.4h0m.1-30h0m0 26.4h0m0-13.3h0m.1 13.5h0m0 1.8h0m.1-10.4h0m0 12.1h0m0-56.2h0m.1 52.8h0m0-11.8h0m0 .2h0m.1-15.4h0m0-5.9h0m0 9.8h0m.2-8.9h0m.1-11.2h0m0 17.4h0m.2 13.1h0m0 10.9h0m.1-35.8h0m.1 26.6h0m0 1.3h0m0-4.3h0m.1 14.3h0m0 .4h0m0 1.1h0m.1-24.1h0m0 24.2h0m0-1.8h0m0-30.4h0m0-8.8h0m0 36.1h0m0-5.1h0m0-6.6h0m.1-30.6h0m0 44.4h0m.1-4.7h0m.1 3.6h0m.1-17.1h0m0 17.1h0m0-21.9h0m0 4.6h0m.1 8.1h0m.1-1.4h0m0-5.2h0m.1-3.7h0" stroke="#000080"/>
<polygon points="475.3,922.6 474.7,922.0 474.7,853.2 476.0,853.2 477.0,852.9 478.0,854.3 479.0,857.4 480.0,860.8 481.0,862.4 482.0,860.9 483.0,856.9 484.0,852.4 485.0,849.4 486.0,848.8 487.0,850.1 488.0,852.1 489.0,853.7 490.0,854.0 491.0,853.0 492.0,851.2 493.0,849.0 494.0,847.3 495.0,846.5 496.0,847.2 497.0,849.8 498.0,854.1 499.0,858.8 500.0,862.0 501.0,862.0 502.0,858.8 503.0,854.3 504.0,850.9 506.2,850.9 506.2,922.0 505.6,922.6" fill="#9999CC"/>
<path d="M475.9 848.2h0m0 3h0m.1-14.1h0m0 14.6h0m0-20.8h0m.1 3.4h0m0 1h0m0 11.1h0m.1-59.3h0m0 60.3h0m0-12h0m.2 16h0m0-43.9h0m0-3.8h0m0 27.7h0m.2-28.2h0m0 23.5h0m0-9.3h0m0 17.1h0m0 10.4h0m0-5.9h0m0-2.2h0m.1-16.1h0m0-11.2h0m0 36.3h0m0-14.8h0m.1 19.1h0m0-17.1h0m.1-11.1h0m0 13h0m.1 9.8h0m.1-8.6h0m0 11.8h0m0-4h0m0-.2h0m.1-71.7h0m0 78.9h0m0-47.9h0m.1 30.5h0m0 13.1h0m.1 2.7h0m.1-.6h0m.1-23.4h0m.1 16.3h0m0 .5h0m.1 10.2h0m0-20.8h0m0 9.1h0m.1-41.9h0m.1 48.9h0m0-.4h0m0-8.1h0m.1 13.8h0m0-4h0m.1 1.4h0m0-6.5h0m0-7.9h0m.1 1.9h0m0-18.6h0m0 31.2h0m0-8.5h0m0 9.4h0m0-14.7h0m.1 14.8h0m0 3.2h0m0-20.6h0m0-2.7h0m.1 11.6h0m0 9.6h0m0-41.4h0m0 6.9h0m0 22.2h0m.1-8.7h0m0 10.5h0m.1-13.2h0m0 9.8h0m0 6.2h0m.1 2.5h0m.2-34.1h0m0 24.1h0m0 10.8h0m0-60.7h0m.1 66.6h0m.1-43.1h0m0 11.4h0m0 14.3h0m0 1h0m.2 18.6h0m.1-45.8h0m0 27.6h0m.2 11.2h0m0-73.6h0m.1 81.6h0m0-22.2h0m.1 23.5h0m.1-17.5h0m.1 10.6h0m0-37.8h0m0 45.5h0m0-11.9h0m.1-1.2h0m.2 13.7h0m.1-14.2h0m0-6.1h0m.1 14.5h0m0-2.5h0m0 4.7h0m0-4h0m.1 6.4h0m.1-40.2h0m0 39.1h0m.1-2.6h0m.1 5.5h0m0-2.4h0m.1-19h0m0 20.2h0m0-36.7h0m.1 17.5h0m0 3.8h0m.1-5.7h0m0-15.1h0m0 37.8h0m0-2.5h0m.1-32.8h0m0 31.3h0m0-10h0m0 13.2h0m.1-30.1h0m0 31h0m0-44.9h0m.2 42.7h0m.3-19.1h0m.2-6.6h0m0 12h0m0 13.6h0m.2-25.8h0m0-50.4h0m0 74.2h0m.2-34.9h0m.1-34.6h0m0 61.4h0m.1-28.8h0m0 20.7h0m0 11.4h0m.1-4.7h0m0 8h0m0-4.2h0m0-4.3h0m.1 5.4h0m.1 1.7h0m0-15.4h0m0 1.9h0m.1 12.8h0m0-4.4h0m.1-24.1h0m.1 2.3h0m0 23.7h0m.1-30.8h0m0 8.9h0m0-12.9h0m.1 6.1h0m0 17.4h0m0 12.2h0m0-.4h0m0-6.3h0m.1-7.4h0m.1 13.5h0m0-.6h0m.1-11.9h0m0 8.6h0m.1-12.4h0m.1 17.2h0m0-14.6h0m0-.3h0m0 11.8h0m.1 0h0m0-3.4h0m0-11.5h0m0 1.5h0m.1-25.8h0m0 36.2h0m.1-11.9h0m0-37.3h0m.1 22.8h0m0 26.2h0m0-5h0m0-35.6h0m.1 17.3h0m0 21.4h0m.1-6.5h0m0 5.4h0m.1 .8h0m.1-9.7h0m0 13.2h0m0-9h0m.1 7.6h0m.1-6.3h0m.1-10.5h0m0-15.7h0m.1 4.7h0m.1-17.3h0m0 24h0m.1-7.7h0m0 23.4h0m0-2.5h0m.1 9.5h0m0-25.6h0m.1 2.6h0m0 17.4h0m0-27.1h0m.1 .4h0m0 29.3h0m.1-9.8h0m0-15.7h0m0 25.1h0m.1-24.3h0m0 25.7h0m0-.2h0m.2-6.2h0m0-26h0m0 27.7h0m.1-3.3h0m0 4.5h0m0-41.3h0m.1 39.4h0m0 1.8h0m0-17.3h0m.2-5h0m.1 24.8h0m0 2.4h0m0-.1h0m0-5.6h0m.1-12h0m.1 13.6h0m0-.2h0m0 1.6h0m0-7.5h0m.1-3.4h0m0-6.1h0m.1 11.2h0m0-51.4h0m0 46.7h0m0-2.3h0m.1-48h0m.1 44.8h0m0 10.9h0m.1-62.6h0m.1 62.7h0m.1 7.7h0m0 1.2h0m0 .3h0m.2-23h0m0 17.3h0m0-75.5h0m0 32.7h0m0 16h0m.1 8.1h0m0 16h0m.1-30.5h0m0 17.8h0m0 13.2h0m.1-23.8h0m.1 29.8h0m0-13h0m.1 13.4h0m0-2.9h0m0-47.7h0m.1 30.2h0m0 5.3h0m.1 18.2h0m0-4.6h0m0 4.7h0m0-15h0m.1-23.5h0m0 8h0m0-28.3h0m.1 48.8h0m.1 2.4h0m.1 3.7h0m0-22.8h0m.3 28.8h0m0-8.5h0m.1-33h0m0 34h0m.1-2.7h0m0-25.9h0m0 28.9h0m.1-35h0m0 39h0m.1 .7h0m.1-18.5h0m.1 21.7h0m.1-43.8h0m0 44.3h0m0-1.2h0m.1-20h0m0-7.1h0m0 27.1h0m.1-13.5h0m0-27.5h0m0 23.8h0m.1 18.4h0m.1-18.9h0m.1-25h0m0-8.9h0m0 53h0m.1-1.1h0m0-1.3h0m0-8.1h0m.1-29.8h0m0 27.6h0m.1 11.3h0m0-3.6h0m.2 3.6h0m0-4.6h0m.1-31.7h0m0 19.9h0m.1 6.1h0m0-34h0m.1 42.4h0m0-2.8h0m0-39.3h0m.1 34.9h0m0-6.9h0m0-61h0m.1 72.7h0m0-3.9h0m.1-15.3h0m.1 22h0m0-33.8h0m0 27.2h0m.1-38h0m0 40.9h0m0-6.3h0m.2 2h0m0-29h0m0 23.9h0m.1 10.9h0m0-8.1h0m0 10h0m.1-5.9h0m0-20.6h0m.1 17.9h0m.1-9.2h0m0-.3h0m0 15.5h0m.1-2.2h0m0-1.6h0m0-8.7h0m.1 7.5h0m0 1.4h0m0-10.2h0m0 10.8h0m0-60.9h0m.1 36h0m0-2.2h0m.1 10.9h0m0 19h0m0-5.4h0m.1 .1h0m0-19.6h0m.1 4.5h0m.1-13h0m0 33.5h0m.1-.6h0m.2-31.9h0m0 21.7h0m.1-7.1h0m.1-16.7h0m0 27.7h0m.1 5.9h0m.1-17.5h0m.2-8.4h0m.1 9.1h0m0-18.6h0m.1-38h0m0 47.6h0m0 22.4h0m.1-41h0m0 19.4h0m.1 25h0m0-.8h0m.1-3.6h0m0-2.2h0m.1 5.3h0m0-44.3h0m0 17.6h0m0-10.8h0m.2 15.5h0m0-14.4h0m.1 29.6h0m0-8.4h0m.1 6.7h0m0-27.7h0m0 14.3h0m0-10.9h0m.1-44h0m.1 74.6h0m0-33.1h0m0 33.1h0m.1-5h0m0-1.5h0m0 9.3h0m.1-21.2h0m0 10.1h0m0-2.6h0m.1-2.1h0m0 0h0m0-2.2h0m0 3.3h0m0-57.7h0m.1 52h0m0 12.5h0m0 1.3h0m.1-5.9h0m0 9.5h0m0 2.1h0m.2-16h0m0 2.9h0m0 5h0m0 4.7h0m0-26.1h0m.1-30.4h0m0 30.7h0m0 16.2h0m.1 .9h0m.1 3.1h0m0-23.1h0m0 12.7h0m.1 9.5h0m0-11.1h0m0-6.2h0m0-1.8h0m0 21h0m.1-3.7h0m0-14h0m0 27.7h0m.1-14.5h0m0-12.1h0m.1 16.4h0m.2 9.1h0m.1-43.4h0m0-24.6h0m0 50.5h0m0-6.1h0m.2 22.5h0m.1-1.1h0m.1 3.9h0m0-2.6h0m0-20h0m0 22.9h0m.1-1.9h0m.1 2.2h0m.1-2.1h0m0-9.7h0m0-1.6h0m.1-19.4h0m0 21h0m.1 10.5h0m0 .5h0m0-8h0m.1-56.4h0m.1 46.3h0m.1 21.6h0m0-7.2h0m0-8.8h0m.1 16.7h0m.1-11.9h0m0 11.6h0m.1-11.5h0m.1 2.3h0m0 6h0m0-4.1h0m0 3.9h0m.1 4.4h0m.1-8.6h0m.2 2.4h0m.1 1h0m0-8.6h0m.1 18.7h0m.1-32h0m0 19.3h0m0-6.9h0m.1 17h0m0-5h0m.1 6.6h0m0 1.7h0m.3-18.7h0m0 10.1h0m0-.5h0m0-14.3h0m.1 9.2h0m.5 15.3h0m0-12.8h0m0-10.6h0m.1 13.8h0m0 11.7h0m.1-33.9h0m0 13.9h0m.2 19.1h0m0-15.9h0m0 10.7h0m.1-10h0m0 14.4h0m0-11.6h0m.1 6.9h0m.1-29.2h0m0 35.1h0m0-4.3h0m.1-29.7h0m.1 26.5h0m0-71.2h0m.1 72.9h0m0-35.5h0m0 28.3h0m.1-3.3h0m0-2.4h0m.2 18.5h0m.1-44.5h0m.1 35.7h0m0-23h0m0-4.6h0m.1 32.6h0m0-20.4h0m0 22.7h0m0-16h0m.1-5.5h0m0-.2h0m.1 2.6h0m0 17.3h0m0-41h0m.1 38.6h0m.1-18.5h0m.1 19h0m.2-2.3h0m.1-7.3h0m0 1.9h0m.1 3.1h0m0-9.7h0m0 12.7h0m.2-26.5h0m0 25.8h0m0-56.6h0m.1 56.9h0m.1-6.3h0m0-25.3h0m0 22.1h0m0 .9h0m.1 5.7h0m0-20.3h0m.1 16h0m.1-12.6h0m.1 9.6h0m0-60h0m0 61.5h0m.1-36.7h0m0 22h0m0 16.3h0m.1-21h0m0-10.6h0m0 18.9h0m0 16.9h0m.1-20.6h0m0 16.2h0m.1-7.6h0m0 8.5h0m.1-64.2h0m0 66.9h0m.1-1.1h0m0-4.9h0m.1-8.3h0m0 15.3h0m0-1h0m.1-6.7h0m0-17.6h0m.1 13.4h0m.1-15.2h0m0 20.7h0m0-3.9h0m.1-24.5h0m0 22.8h0m.1-.1h0m.1 11.3h0m.1-8.7h0m0-1.1h0m.1 .3h0m.1 2.8h0m0-5.7h0m0 12.1h0" stroke="#9999CC"/>
<polygon points="508.6,922.6 508.0,922.0 508.0,856.1 509.3,856.1 510.3,856.9 511.3,856.9 512.3,856.3 513.3,855.6 514.3,854.8 515.3,853.7 516.3,852.6 517.3,852.1 518.3,862.6 519.3,863.9 520.3,860.8 521.3,857.2 522.3,855.1 523.3,844.3 524.3,844.2 525.3,848.1 526.3,852.5 527.3,856.4 528.3,858.5 529.3,858.4 531.2,858.4 531.2,922.0 530.6,922.6" fill="#000080"/>
<path d="M509.2 841.3h0m0 13.8h0m.1-66.1h0m.1 34.2h0m0-9.6h0m.2 38.6h0m0-46.3h0m.1 26.6h0m0-11.1h0m0 9.1h0m0 1.4h0m.1-10.5h0m0-10.5h0m0 20.2h0m.1-21.8h0m0 31.9h0m0 14.1h0m.1-19.4h0m0 7.7h0m.1 9.5h0m.1-7.6h0m.1-.1h0m0-6.9h0m.1-8.8h0m0 16.9h0m.1-36.5h0m0 43.5h0m.1-11.6h0m0 4.8h0m0-4.7h0m0-43h0m.1 28.8h0m0 26.7h0m0-58.3h0m.1 35.7h0m.1 19.9h0m0-3.8h0m.2-12.7h0m0 10h0m0-22.2h0m.1 16.7h0m0 13.9h0m.1 1.8h0m.1-4.4h0m0 1.8h0m0 .8h0m0-4.9h0m.2-46.6h0m0 21.1h0m.1 29.5h0m0-19.6h0m0 15.5h0m0-21.4h0m.1 26.7h0m.1-32.4h0m.1 25.7h0m0-4.8h0m.2 10.6h0m0-11.1h0m0 10.5h0m.1-33.7h0m0 20.4h0m.1-63.6h0m0 77.4h0m.1-36.6h0m0 32.1h0m0-37h0m0 33.3h0m.1 .5h0m.1-12.8h0m0 19.3h0m.1-1.1h0m.1-7.2h0m0-12h0m.1-14.1h0m0 2.5h0m0 29.4h0m.1-8.1h0m0 11.8h0m0-4.6h0m0-6.5h0m.1-3.1h0m0 11.2h0m0-.7h0m0-16.2h0m.1-.7h0m.1-16.5h0m.2 9.9h0m0 15.6h0m0-49.3h0m0 46.6h0m.1 9.6h0m0-2.3h0m0-3.8h0m0-.8h0m.1 4.1h0m0-1.8h0m0-17.3h0m.1-5.7h0m.1 17h0m0 15.9h0m.1-.7h0m0 .2h0m0 .5h0m.1-1.1h0m0 .1h0m.1 .8h0m0-10.7h0m0 .6h0m.1-16.8h0m0 27.3h0m0-12h0m.1 5.5h0m0 .7h0m0-31.5h0m.1 18.7h0m0 2.9h0m0-14.7h0m.1 10h0m0-30h0m.1-7h0m0 41.3h0m.1-69.6h0m0 81h0m0-7.3h0m0-13.8h0m0-4.8h0m.1 17.2h0m0 4.8h0m.1-18.4h0m0-26.3h0m.1 45.1h0m0-31.1h0m0 21.4h0m.1-8.2h0m0 13.5h0m.1 1.1h0m0 8.4h0m.1-22.1h0m0 19.9h0m0-21.8h0m.1 21.2h0m0-39.4h0m0 41.8h0m.1-6.7h0m0 .9h0m.1-.9h0m0-1.1h0m0-8.9h0m.1 5h0m0 13h0m0-5.7h0m0-12.1h0m0 15.7h0m0 2.2h0m.1-5.3h0m0-31.2h0m.1-14h0m.1 41.1h0m0-9.4h0m0 4.1h0m0-1.2h0m.1-18.7h0m.1 28.9h0m.1-.3h0m0-8.8h0m0 14.4h0m.2-1h0m.2-8.7h0m0-22.5h0m.1-21.1h0m0 34.5h0m.1 16h0m.1-8.3h0m.1-13.2h0m0-17.9h0m.1 35.9h0m0-37.6h0m.1 29.3h0m0-5.4h0m.1 13.5h0m0-12.7h0m0 9.3h0m0 3.7h0m0-22.9h0m.1-40.6h0m0 69.2h0m0-20.5h0m0 10.2h0m.1 4.3h0m0 3.8h0m.2-12.5h0m.1 20.4h0m.1-15.1h0m0 17.4h0m.1-5.8h0m.1-2.3h0m0 2.1h0m.1-23.1h0m0 31.7h0m.1-50.3h0m0 41.7h0m0-57h0m.1 55h0m0-1.9h0m.1-8.5h0m0 16.7h0m0 5.4h0m.1-71h0m0 63.6h0m0 8.5h0m0-8.7h0m.1-23.5h0m.1-33.4h0m0 62.6h0m0-33.9h0m0 24.6h0m.1-6.9h0m.1-78.2h0m0 94.1h0m0-53.9h0m0 50.1h0m0-31.1h0m.1 7h0m0 29h0m0-39.5h0m0 27.4h0m0 8.3h0m.2-5.7h0m0 9.2h0m.1-12h0m.1-6.3h0m0-2.8h0m0-49h0m.1 71.1h0m0-16.7h0m0 8.8h0m0-77.7h0m0 84.1h0m.1-10.3h0m.1-9.9h0m0 18.1h0m0-29.5h0m0 18.4h0m0-13.6h0m.1 23.6h0m.1-15.4h0m0 16.6h0m.1 1.6h0m.2-4.3h0m0-24.9h0m0 22.6h0m.1-34h0m.2 35.1h0m0-7.5h0m0 2.6h0m.1-5.6h0m.1 10.6h0m.1-36.7h0m.1 34h0m0 .9h0m.1-2.4h0m.1 2.8h0m0-23.6h0m.1 7.4h0m0 8.7h0m0-37.2h0m0 28.3h0m.1-12h0m0-15.7h0m0 41.4h0m.1 3.3h0m.1-4h0m.1-15.7h0m.1 1.9h0m0 5.9h0m0 2.5h0m.1-11.3h0m0-5.3h0m0 .7h0m.1-6.1h0m0 13.8h0m0 2.6h0m0 1.6h0m0-6.4h0m.1 9.4h0m.1 3.2h0m.1-26.1h0m0-15.9h0m0 47.4h0m.1-6.8h0m.1-3.1h0m.1 8.7h0m0-24.9h0m.1 6.5h0m.1 7.2h0m.1 7.5h0m.1-3.2h0m.1-7.5h0m0 .6h0m.1-.5h0m0-3.1h0m0-20.5h0m.1 14.6h0m0 12.1h0m0 1.1h0m.2-39.6h0m0 35.4h0m0-51.4h0m0 52.7h0m.1-11.5h0m.1 12h0m.1-66.9h0m.1 66.2h0m.1 3.1h0m0-24.6h0m0 17.9h0m.1-16h0m.1 19.8h0m0-14.8h0m0 13.9h0m0 1.7h0m.1-35.1h0m0 14.6h0m0 15.7h0m.1 8.2h0m.1 .1h0m0-48.2h0m0 1.1h0m0 49.2h0m0-11.5h0m.1-34.6h0m0 33.1h0m.1 8.6h0m0-5.5h0m.1-34.7h0m0 28.5h0m0-14.9h0m0 26.7h0m.1-19.3h0m0 8.3h0m0-18.7h0m.1 31.5h0m.2-25.9h0m0-17.4h0m.1 42.8h0m0-17.1h0m.1 10.6h0m.1-26.3h0m0 39.6h0m.1-27h0m.1 6.4h0m0 10.7h0m.1 11h0m.3-8.6h0m0-2.7h0m0-5.7h0m.1 8.3h0m.1-5.8h0m.1 16h0m0-34.3h0m.1-5.6h0m0 8.2h0m0 4.2h0m0 17.7h0m0 .6h0m.1-11.3h0m.1 13.7h0m0-15.5h0m0 20.4h0m0-9.8h0m.1 7.1h0m0-43.9h0m0 28.6h0m.1 14.2h0m0 6.1h0m0-16.3h0m.1 20.1h0m0-5.1h0m0-11.4h0m0 7h0m0-10.3h0m0-40.8h0m.2 59.4h0m0-13.6h0m.1-24.1h0m0 36.7h0m.1-18.3h0m0-5.1h0m0 20.5h0m.1 3.4h0m.1-.1h0m.1-5.7h0m0 6.8h0m0-2.6h0m.1-1.4h0m.1-.3h0m.1 4.2h0m.1-3.8h0m0-8.8h0m0 4h0m0 3.6h0m.1 1.8h0m.1-15.3h0m0 3.5h0m.1-15.9h0m0 27.5h0m0-6.6h0m0 .1h0m.1 3h0m0 9.3h0m0-36.9h0m.1 9.3h0m0 23.9h0m0-15.5h0m.1 4.6h0m0 9.2h0m.1-30.2h0m.1 32.1h0m.1-11.4h0m.1 .4h0m.1 10.8h0m0-59.3h0m.1 53h0m0-2.7h0m.1 4.4h0m0 2.2h0m.1 6.3h0m0-8.8h0m0-10.5h0m0-20h0m0 26.1h0m.1-40h0m.1 20.6h0m0 27.1h0m.1 1.2h0m0 2.2h0m0-50.8h0m0 19.5h0" stroke="#000080"/>
<polygon points="534.3,922.6 533.7,922.0 533.7,846.0 535.0,846.0 536.0,846.0 537.0,844.8 538.0,842.5 539.0,840.7 540.0,840.6 541.0,842.2 542.0,844.0 543.0,844.9 544.0,845.1 545.0,845.2 546.0,845.2 547.0,844.7 548.0,843.0 549.0,840.2 550.0,836.9 551.0,834.1 552.0,832.8 553.0,833.2 554.4,833.2 554.4,922.0 553.8,922.6" fill="#9999CC"/>
<path d="M534.9 816.4h0m0 18h0m0-26.1h0m.1 29.9h0m.1-8.1h0m0-16h0m0 30h0m.1-41.2h0m.1 3h0m0 7.9h0m0-1.6h0m.1 26.8h0m.3-32.4h0m.1-44.2h0m0 73.2h0m0-3h0m0 2.7h0m0 1.5h0m.1 6.8h0m0-28.6h0m.1 26.6h0m.1-67.4h0m.1 32.4h0m0 37h0m.1-9.2h0m0-5.2h0m0-11.7h0m.2 14.3h0m0 5.6h0m.1 2.5h0m0-41.7h0m0 42.9h0m0 3.4h0m0-11h0m.1 5.5h0m0-8.6h0m.1 12h0m0-17.9h0m.1 11.7h0m.1-54.9h0m0 58.8h0m.1-24.6h0m.1 16.5h0m0-10.8h0m.2-15.9h0m0-19.5h0m0 56.6h0m0-6.6h0m.1 2h0m0-32.7h0m.1 14.6h0m0 22.6h0m.1 .2h0m0-1.9h0m0-28.7h0m.2 29.3h0m0-15.7h0m0 15.6h0m.1-1.7h0m0-7h0m.1 5.8h0m.1-31.7h0m0 15h0m.1-3.8h0m0 2.4h0m0 18h0m0-31.3h0m0 26.3h0m.1-23.8h0m0 22.7h0m.1 7.3h0m0-12.7h0m.1-6.2h0m0 14.3h0m.1-13.7h0m0-28.2h0m.1 16.2h0m0 14h0m0-2.1h0m.2 9.6h0m0-4.8h0m.1-47.5h0m.1 36.3h0m.1 19.2h0m0-4.1h0m0 5.8h0m0-5.5h0m0 4h0m0-13.4h0m.1 18.1h0m0-51h0m.1 4.4h0m.1 23.4h0m0 6.4h0m0 8.5h0m0-35.3h0m.1 32h0m0-3.7h0m0 6.9h0m.1 4.2h0m0-14.3h0m0 4.2h0m.1 4.9h0m.3-31.6h0m0 29.4h0m0 .7h0m.1 6.3h0m0-40.3h0m.1 43.9h0m0-5h0m0 7.3h0m.1-12.7h0m.1 7.7h0m.1 .3h0m0-14.6h0m.1 9.1h0m0-.3h0m0-21.3h0m0 15.9h0m.1 6.6h0m0-19.3h0m0 15.5h0m.1 .5h0m0-15.6h0m0 28.7h0m.1-9.3h0m0-11.4h0m0-14h0m.2 31.5h0m0-19h0m.1 1.8h0m.1 19.3h0m0-20.9h0m0 1.3h0m0 1.3h0m.1 4.3h0m0-2.3h0m.1 10.6h0m.1-24.8h0m0 32.5h0m.1 .9h0m0-10.1h0m0-24.7h0m0 29.9h0m.1 3.7h0m.1-7.1h0m0-55.5h0m.1 54.6h0m0-14.2h0m0 13.3h0m.2 3h0m.1-16.5h0m0 2.4h0m.1 21.6h0m0-3.9h0m.1-11.3h0m0-13.1h0m.1 20h0m.1-3.8h0m.1-11.3h0m.1-28.5h0m0 53.2h0m.1-66.3h0m.1 28.9h0m0 28.5h0m0 4.7h0m0-66.4h0m.1 40.4h0m0 23h0m0 1.5h0m.1 3.1h0m0-9.2h0m.1-38.2h0m0 12.6h0m0 34.1h0m0 .4h0m.1-1.1h0m0-33.6h0m.1 31.6h0m.2-28.1h0m0 15.5h0m0 12.9h0m0 4.1h0m.1-26.7h0m0 15.2h0m.1 10.1h0m.1-6.5h0m0-.6h0m.2-.7h0m.2-33.8h0m0 43.1h0m.2-6h0m.1 2.4h0m0-1.5h0m0 1.1h0m.1-42.2h0m0 45.1h0m.1 1.9h0m0-7.4h0m.1-9.8h0m0-7.3h0m0 17.6h0m.2-24.2h0m0 24.7h0m.1-7.5h0m0-48h0m0 35.1h0m0 21.2h0m.1 3.2h0m0-6.5h0m.1-10.1h0m0 9.9h0m.1 .5h0m0-14.7h0m0 14.8h0m.1 3.5h0m0-51h0m0 27.2h0m0 25.6h0m.1 .8h0m0-6h0m0 7.7h0m.1-12.7h0m0-9.3h0m.1 21.4h0m0-25.4h0m0 24.2h0m.1-15h0m.1 9.8h0m0-7.3h0m0 5.4h0m0-70.4h0m.1 73.8h0m0-25h0m0 16h0m.1-.9h0m0-26.4h0m.1 39.8h0m0 1.3h0m0-10.8h0m.1 5.3h0m0-16h0m0 23.5h0m.1-2.1h0m0-9.4h0m0-10.9h0m.1 12.8h0m0-12.3h0m0 11.2h0m0-.2h0m.2-9.9h0m.1 20h0m0-7.1h0m0-18.7h0m.1 13.3h0m0 6.5h0m0-6.8h0m.1-11.5h0m0 22.7h0m.2-31.6h0m0 25.2h0m0-24.5h0m0 21.7h0m.1 9.3h0m0-.9h0m0-24.4h0m.2 24.1h0m0 1.4h0m0-1.8h0m.3-43.7h0m0 41.2h0m0-24.9h0m.1 11.7h0m0 12.4h0m0-19.2h0m.2-4.5h0m0-11.8h0m0-28.5h0m.1 15.4h0m.1 43.5h0m.1-21.1h0m0 .8h0m.1 27.7h0m.1-3.3h0m0 .6h0m.1 1.6h0m0-54.7h0m0 45.3h0m0-9.6h0m0-2.5h0m.1 14.5h0m0-37h0m.1 30.1h0m0 9.7h0m0-30.1h0m.1 21.3h0m0-5.2h0m0 18.6h0m.1-8.5h0m0-26h0m0 30.7h0m0 1.2h0m.1-13.1h0m0 11.4h0m.1-39.3h0m.3 33.9h0m0 2.6h0m0 3.6h0m0-3.4h0m0 1.3h0m0-2.1h0m.1 3.2h0m.1-14.2h0m.1-8.4h0m.1-4.8h0m.1 25.4h0m.2-3.5h0m.1-12.1h0m.1 3.6h0m.1 8.1h0m0 4.1h0m.1-3.4h0m0-.4h0m.1-5.4h0m0-14.1h0m0 23.7h0m.1-17.8h0m0 8.3h0m0 4.1h0m0-.5h0m.3-41.1h0m0 39.8h0m.1-34.2h0m.1 36.1h0m.1-6.3h0m0-3.7h0m.1 .5h0m.1 .6h0m0 4.8h0m0-2.6h0m.1 9.5h0m0-58.5h0m0 44h0m0-50.5h0m0 47.4h0m.1 7.5h0m0-4.6h0m.1-13.2h0m.1 19.2h0m0-9.8h0m0 1.2h0m.1-7.6h0m0 24.1h0m0-2.7h0m.1-31h0m.2 25.8h0m.1-6.5h0m0 8.3h0m.1-10.5h0m0-7.7h0m0 27.9h0" stroke="#9999CC"/>
<polygon points="557.9,922.6 557.3,922.0 557.3,840.5 558.6,840.5 559.6,840.8 560.6,840.7 561.6,840.3 562.6,839.5 563.6,838.5 564.6,837.5 565.6,836.7 566.6,836.8 567.6,837.8 568.6,839.5 569.6,840.9 570.6,841.4 571.6,840.4 572.6,838.2 574.1,838.2 574.1,922.0 573.5,922.6" fill="#000080"/>
<path d="M558.7 806.4h0m.1 32.5h0m0-36.4h0m.2 20.9h0m0 4.5h0m.1-6.6h0m0 6.3h0m.1 9.7h0m0 1.1h0m.1 .6h0m0-28.6h0m0 28.2h0m.1-5.5h0m0 4.8h0m0-3.1h0m.1-33.8h0m0 12.4h0m0 22.2h0m.1 2.5h0m0-4.3h0m.1-28.1h0m0 32.4h0m.1-20.2h0m0 8.9h0m0-.2h0m.1-38h0m0 39.1h0m0 1h0m0 2.3h0m0-4h0m.1 5.3h0m0 6.5h0m0-.6h0m.1-9.2h0m0 2.5h0m.2-8.8h0m.1 2.4h0m.2 10h0m0-6.9h0m0 11.4h0m.2-4.8h0m0-3.5h0m0 6.1h0m.1-15.8h0m0-1.5h0m.1 18.8h0m0 .6h0m.2-60.8h0m.1 46.9h0m0-11.2h0m.1-2.5h0m0 12.4h0m0-23.2h0m.1 17.8h0m0 3.5h0m0 5h0m0-11.8h0m.1 10.5h0m0-26.1h0m0 12.8h0m.1 8.5h0m.1 15.4h0m0-23.1h0m0 21.8h0m.2-9.5h0m.1-17.1h0m0 29.1h0m.1-18.4h0m0 11.4h0m0-8.3h0m.2 13.5h0m0 2.4h0m0-9h0m0 8.4h0m0-4.7h0m0-18.4h0m.1-35.3h0m.1 43.4h0m.1 3h0m.1 10.7h0m.1 .5h0m.1-17h0m0 9.5h0m.1-1.5h0m0 10.1h0m0-52.7h0m.2 40.3h0m0 6.8h0m0 2.5h0m0-32.9h0m0 33.7h0m.1-15.1h0m0 15.5h0m0-7.4h0m.1 7.1h0m.1-15.9h0m.1 10.4h0m0-10.3h0m.1-14.6h0m.1 15.2h0m0 4.4h0m0 12.1h0m.1-10.5h0m0-1.8h0m.1-16h0m.1 18.5h0m0-29h0m.1 8.5h0m0 5.3h0m0 24h0m0-23.8h0m.1 22.3h0m0-27.3h0m.1 17.2h0m0-.4h0m.1 3.8h0m0 6.2h0m.2-4.1h0m0-41.5h0m.1 44.6h0m0-30.6h0m0 24.3h0m0 9.3h0m0-18.4h0m.1-1.9h0m0 .1h0m0 12.8h0m0 2.9h0m0 2.2h0m.2-.9h0m0-19.9h0m0 21.4h0m.1-32.7h0m0 20.5h0m.1 12.6h0m0-57h0m0 46.5h0m.1 11.6h0m.2-9.3h0m0 5.1h0m0-2.5h0m.1 2.8h0m0-6.3h0m.1-12.1h0m0 .8h0m0 5.9h0m.1 9.7h0m0-4.2h0m0-4.2h0m.1 13.5h0m0-13.8h0m0 2.4h0m.1 6.6h0m0 1.9h0m.2-27.9h0m0 28.9h0m0-6.7h0m.2-50.1h0m0 45.6h0m0-54.4h0m.1 61h0m0-5.5h0m.1 5.1h0m.2 .7h0m0-8h0m0-21.6h0m.1 36.6h0m.1-6.2h0m0 1.1h0m.1-21.4h0m0 18.3h0m0-43.5h0m.1 49.8h0m0-51.1h0m.1-18h0m.1 62h0m.2-8.9h0m0 17.9h0m.1 .7h0m0-4.3h0m0-7.2h0m0 7h0m.1-28.3h0m.1 15h0m0-18.3h0m0 22.6h0m0 7.6h0m0 6.1h0m.1-10.8h0m.1 8.2h0m.2 3.8h0m0-18.3h0m0 14.9h0m.1 2.9h0m.1-.9h0m.1 0h0m.1-21.5h0m.1 21.2h0m0-10.9h0m.1-3.2h0m.1-59h0m.1 76.2h0m0-65h0m.1-6.9h0m0 46.2h0m0 21.8h0m0 1.8h0m0 .9h0m.1-43.2h0m0 38.8h0m0-2.2h0m.1-28.2h0m.1 31.2h0m.1-41.5h0m0 41.2h0m0-9.9h0m0 4.6h0m.1 1.6h0m0-4h0m.1-40.4h0m.2 24.5h0m0 13.2h0m0 10.4h0m.1-2.1h0m.3-6.5h0m0 10.4h0m0 .4h0m.1-31.3h0m0 26.2h0m.1 3.7h0m0-17.4h0m.1 21.6h0m0-20.1h0m.1 17.9h0m0-19.5h0m0-7.4h0m.1 12.7h0m.1-5.9h0m.1 23.1h0m0-13.2h0m.1-5.5h0m0 1.5h0m.2 8.6h0m0-12.5h0m.1 6.4h0m.3-.1h0m.1 10.2h0m0-11.8h0m.1 1.9h0m.1-5.2h0m0-19.2h0m0-1.3h0m.2 36.2h0m.1-4.5h0m0-13.2h0m0-7.6h0m.2-26.1h0m0 41.1h0m0-20.2h0m0 18.7h0m.1 8.4h0m0-6.6h0m.1-19.9h0" stroke="#000080"/>
<polygon points="574.7,922.6 574.1,922.0 574.1,852.1 575.4,852.1 576.4,858.0 577.4,862.5 578.4,864.5 579.4,864.1 580.4,862.0 581.4,858.9 582.4,855.4 583.4,860.8 584.4,859.9 585.4,846.8 586.4,847.5 587.4,849.9 588.4,852.1 589.4,853.6 590.4,854.7 591.4,856.1 592.4,858.1 593.8,858.1 593.8,922.0 593.2,922.6" fill="#9999CC"/>
<path d="M575.5 849.4h0m.1-17.7h0m0-2.6h0m.1 16.3h0m0-47.5h0m.1 45.6h0m0-11.4h0m.1 7.1h0m0 11.5h0m0-.1h0m0-6.5h0m0 8h0m0-11.4h0m.1-6.3h0m.1 7h0m0-38.4h0m0-25.5h0m.1 49.6h0m.1 1.8h0m.1 19.1h0m0-17.2h0m0 24.3h0m.1-5.3h0m.1-.7h0m0-2.4h0m0 8.6h0m0 1.8h0m0-19.6h0m.2 .4h0m0 9.4h0m.1-13.9h0m0 20h0m0 4.9h0m0-11.8h0m0-6.1h0m0 18.4h0m.1-8.3h0m.1-8.2h0m.2-20.7h0m0 37.1h0m.1-2.2h0m.1-1.1h0m.1-6.7h0m0 9.6h0m.1-11.9h0m0-1.5h0m0 13.5h0m.1-3.2h0m0 4.8h0m.1-4.2h0m.1-50.7h0m0 42.8h0m.1-2.2h0m0 6h0m0-8.9h0m.2 8.2h0m.2 7.3h0m0-16.3h0m0-5.2h0m.1 21.3h0m.1-11.1h0m0-.5h0m.1 0h0m0 9.8h0m0 6.2h0m0-36.2h0m.1 20.6h0m0 6.2h0m0 3.3h0m.1-4.6h0m0-14.4h0m0 23.3h0m0-11.7h0m0-11.3h0m.1 14.7h0m0-54.2h0m.1 61.5h0m0 2.8h0m0-4.5h0m0-2.5h0m.2 4.2h0m0 1.2h0m0-35.3h0m.1-13.3h0m0 6.5h0m0 44.2h0m.1-23.8h0m0 17.5h0m0 3.6h0m0-39.2h0m.1 38.6h0m.1-41.1h0m0 43.4h0m.1-3.3h0m0-19.8h0m0 12.1h0m0 10.6h0m.1-48.4h0m.1 31.3h0m0 7.7h0m0 8.1h0m.2 .8h0m0-60.2h0m0 47.7h0m.1 4.6h0m0-5h0m.1 9.9h0m0 3.1h0m0-18.5h0m0-27.7h0m0 16.9h0m.2-11.7h0m0 25.9h0m0 11h0m0-2.7h0m.1 1.6h0m0-12.6h0m.1 2.2h0m0 13.3h0m0-13h0m.3 1.8h0m.1 9h0m0-1.2h0m0-2.8h0m0-14.2h0m.1 18.4h0m0-5.8h0m.1-22.9h0m0 22.8h0m0 6.1h0m0-13.2h0m.2-36.4h0m.1 2.3h0m.1 11.5h0m.1 24.5h0m0-8.4h0m.1-42.1h0m0 50.3h0m.1-.2h0m0-50.1h0m.1 58.9h0m.1-2.1h0m0-8.2h0m0 6h0m.1-1.8h0m0-2.9h0m.1 4.2h0m.2-3.1h0m0-.6h0m0 .1h0m.1-22.4h0m0 14.5h0m.1 1.9h0m0-21.7h0m0 28.1h0m.1-11.3h0m0 8h0m0 4.7h0m0 2.9h0m0-4.2h0m.1 5.8h0m.3-7.4h0m.1-13.7h0m0 26.6h0m0-16.7h0m.1 11.2h0m0 .5h0m0-6.3h0m.1-47.2h0m.1 22.1h0m.1-25.5h0m0 49.8h0m.1 9.5h0m0-3h0m.1-60.3h0m0 67.8h0m.1 .2h0m.1-9.6h0m0-7h0m0 6.9h0m.1 6.1h0m0-3.9h0m0-21h0m0 10.8h0m.1-21.9h0m0 36.1h0m0-17.8h0m0-.5h0m.1 16.5h0m.2-22.7h0m.1 20.4h0m0-57.3h0m0 39.3h0m.1 11.8h0m0-13.4h0m.1-6.6h0m0 15.1h0m.1-20.5h0m0 22.7h0m0-16.3h0m.1 16.5h0m.2-7.5h0m0 8.7h0m0-32.9h0m.1 10.6h0m.1 14.9h0m0-10.1h0m.1 13.2h0m0-3.1h0m0-11.3h0m.5-15.4h0m0 32.7h0m0-3.6h0m0-.6h0m0-3.4h0m.1-3.6h0m0-14.8h0m0-7.8h0m.1 30.4h0m0-48.3h0m0 52.3h0m0-50.1h0m0 35.1h0m.1 17.5h0m0-30.1h0m.1 10.4h0m.1 10h0m0-24.4h0m.1 30.8h0m.1-39.2h0m0 8.6h0m.1-10h0m.1 40.3h0m.1-9.5h0m0-6.7h0m0 .6h0m0-2.3h0m.1 7.4h0m.1 8.3h0m0-21.9h0m.1 17.4h0m0-28.1h0m.1 23.1h0m0 12.5h0m0-75.5h0m0 73.3h0m.1-15.6h0m.1 11.6h0m.1-12.1h0m0 14.2h0m0 .2h0m0 8h0m0 .6h0m.1-9.2h0m0-3.4h0m0 3.9h0m0-22.1h0m.1 5.3h0m0 9.3h0m.1-6.2h0m0 10.1h0m.1-26.9h0m0 33.3h0m.1 3.9h0m0-15.9h0m.1-7.9h0m0-19.9h0m0 38.2h0m0-12.9h0m.1 17.3h0m.1-10.6h0m0-9.5h0m0 23.4h0m.1-18.7h0m0 20.3h0m.1-16.4h0m0 6.1h0m.1-9.5h0m.1 12h0m.1 9.8h0m.1-6h0m.1-17.8h0m0 23.8h0m.1-53.2h0m0 53.5h0m0-35.5h0m.1-49.8h0m0 51.6h0m.2 21.7h0m0-6.2h0m0 5.4h0m.1 13.4h0m.1-27.3h0m0-56.1h0m.1 82h0m0-64.6h0m.1 39.3h0m.1-21h0m0 36.6h0m.1 11.3h0m0-8.5h0m0 6.4h0m0-10.7h0m.1 12.4h0m.1 1.3h0m0-77.5h0m0 64.1h0m0 11.8h0m0-37.8h0m.1 11.9h0m0 5.1h0m0-36.5h0m0 59.2h0m0-5.9h0m.1 1.2h0m.1 4.6h0m0-6.2h0m.1-4h0m0-13.6h0m0-4.7h0m.1 27.9h0m0-15.8h0m0-18.1h0m0 24.7h0m0-40.6h0m.1 43h0m0-75.9h0m0 70.1h0m.1-3.9h0m0 13.4h0m.1-31.4h0m0-49.2h0m0 58.5h0m.1 26.1h0m.3-10.4h0m.1-4.1h0m0 4.6h0m.1-.6h0m0 7.7h0m0-13.3h0m0-20.4h0m0-7.7h0m.1 8.1h0m0 32.6h0m.1 5.2h0m0-1.6h0m.2-31.7h0m0 28.6h0m0-13.3h0" stroke="#9999CC"/>
<polygon points="594.4,922.6 593.8,922.0 593.8,833.8 595.1,833.8 596.1,834.2 597.1,834.6 598.1,834.9 599.1,835.5 600.1,836.2 601.1,836.5 602.1,836.2 603.1,836.1 604.1,836.8 605.1,837.8 606.1,837.7 607.1,835.8 608.1,833.1 609.1,830.9 611.0,830.9 611.0,922.0 610.4,922.6" fill="#000080"/>
<path d="M595 809.8h0m0 20.9h0m.1 2.3h0m0-38.3h0m0 10.4h0m0-12.6h0m.1 7.8h0m0 27.5h0m0-8.6h0m0 2.2h0m0 9.9h0m0 1.6h0m0-.9h0m.1-10.8h0m0 7h0m0-1h0m0-2.6h0m.1 5.3h0m0 3.2h0m.1-16h0m0 9.7h0m0-23.8h0m.1 23.8h0m0-21.2h0m0 16.4h0m.1-13.3h0m0 6.2h0m0-15.2h0m.1 19.1h0m0 14h0m.1-62.8h0m.1 36.9h0m0 22.9h0m0-3.8h0m.1 5.2h0m0 2.1h0m.1-9h0m.1 5.3h0m0 1.3h0m0-7.2h0m.1 2.5h0m.1-18.2h0m0-36.1h0m.1 52.6h0m0-10.6h0m.1-37.4h0m0 52.7h0m0-11.6h0m0 13.5h0m.1-1.9h0m.1-20.3h0m0 10.4h0m0 5.3h0m.1-2.7h0m.1 1h0m0-3.4h0m0-9h0m0-5.6h0m.2-7.9h0m0 27.6h0m.1-13.1h0m0 22.5h0m.1-2.5h0m.1-21.6h0m0 22.5h0m.1-.5h0m0-18h0m.1 11h0m0-24.6h0m0 27.5h0m.1-.6h0m.2 5.9h0m0-24.1h0m0 9.6h0m.1-2.8h0m.2 16.1h0m0-31.9h0m0 27.2h0m.1 4.5h0m.1-22.7h0m0-9.6h0m.2 20.9h0m0 4.9h0m0-34h0m.1 40.8h0m.1-12.4h0m0 11.8h0m0-4.9h0m.3-47.2h0m.3 53.5h0m.1-1.7h0m.1 3.3h0m0-38.7h0m.1 38.7h0m0 .5h0m.1-.1h0m.2-25.8h0m0-14.6h0m.1 10.6h0m.1 30.6h0m0-45.6h0m0-14.8h0m0 54h0m0 6.1h0m.1-19.7h0m.1-23.1h0m.1 5h0m0 36.8h0m0-12h0m0 9h0m.1-6.7h0m.1 8.8h0m.1-4.2h0m0-11.3h0m0-5.3h0m.2 10h0m0-4.6h0m.2-31.1h0m.1-6.6h0m.1 39.7h0m.1-19.8h0m0-19.5h0m0 26.5h0m.1-12.6h0m0-3.1h0m0 43h0m.1-3.9h0m0-7.4h0m.1-13.1h0m0 9.2h0m0-14.9h0m0-4.3h0m0-22.1h0m.1 31.6h0m0 11.1h0m0 13.4h0m0-12.4h0m.1 .9h0m0-6.5h0m0 7h0m0 9.5h0m0-13.7h0m.1 6.7h0m0-15.2h0m0 20.6h0m0-45.5h0m0 40.1h0m.1-2.8h0m0-20.5h0m0 21.9h0m.1-22h0m.2 29.8h0m0 2.1h0m0-4.4h0m.1 4.6h0m0-6.5h0m.1 6.4h0m.1-28.4h0m0 18.8h0m.1-3.2h0m.2-12.5h0m0-8.3h0m.1 16.9h0m0-34.5h0m0 24.2h0m0 27h0m.1-10.3h0m.2-8.1h0m.1 14.8h0m.1-4.7h0m0 5.8h0m0-45.8h0m.1 41.3h0m0 7.2h0m.1-1h0m0-13.8h0m.1 .7h0m0-8.1h0m.2 23.3h0m.2-8.5h0m0-21.2h0m0 25.2h0m.3-2.8h0m.1-35.5h0m0 23.2h0m.1 20.2h0m0-35.4h0m.1 21.4h0m0-2.1h0m.1 6.5h0m0-1.1h0m.1-33.1h0m.1 44.5h0m0-12.4h0m.1 11.5h0m.1-.6h0m0-19.8h0m.1 4.7h0m.1-11h0m0 2.1h0m0 24h0m.1 .8h0m0-38.7h0m.1 28h0m0 1.6h0m.1-13.1h0m0-3h0m0 .6h0m.1 18.6h0m0-4.8h0m0-3.5h0m0 5.4h0m.2-31.6h0m.1-4h0m.1 21h0m.1 18.8h0m0-5.6h0m0-33.1h0m.1 39.2h0m0-11.1h0m0 14.3h0m.1-.1h0m.2-22.6h0m0 12h0m.1-18.3h0m0 10.1h0m0 16.2h0m0-3.5h0m0 4.5h0m0-.5h0m.1-11.5h0m0-16.7h0m0-4.8h0m.1 22.8h0m0 8.2h0m.2-1.4h0m.1-7.2h0m0 1.1h0m0-3.5h0m.2 8.7h0m0 .9h0m.1-23.6h0m0-4.3h0m.1 16h0m0-5.7h0m.1 18.8h0m0-29.4h0m.1 13.7h0m0 16.2h0m.1-.3h0m0-23h0m.1 9.7h0m0 9.8h0m.1-25.6h0m0 7.8h0m.1-14.3h0m0 24.8h0m0-23.5h0m0 9.9h0m0-13.7h0m.2 27.9h0m0-19.6h0m0 18h0m.1 10.3h0m0-6.3h0m.1-27.3h0m0 23h0m0 10.3h0m0-31.5h0m.1-9.7h0m0 40.4h0m.1-6.2h0m0-12.6h0m0 18.8h0m.2-29.5h0m0 12.8h0m0 18h0m0-8.3h0m0-6.7h0m.2 9.2h0m0-18.8h0m0-22.3h0m.2 26.9h0" stroke="#000080"/>
<polygon points="611.6,922.6 611.0,922.0 611.0,857.3 612.3,857.3 613.3,855.9 614.3,855.3 615.3,855.3 616.3,854.7 617.3,853.4 618.3,852.2 619.3,852.6 620.3,855.1 621.3,858.6 622.3,861.3 623.3,862.5 624.3,862.2 625.3,861.5 626.3,861.0 627.3,860.7 628.3,860.3 629.6,860.3 629.6,922.0 629.0,922.6" fill="#9999CC"/>
<path d="M612.3 855.7h0m0-38.9h0m.1 36.6h0m.1-31.8h0m0 24.4h0m0 8.9h0m0-6.7h0m.1-1.3h0m.1-26.4h0m.2 17.6h0m0-13.4h0m0 24.1h0m.1-1h0m.1 6.6h0m0-4.1h0m.1-78.3h0m0 54.4h0m0 18h0m.1-21.3h0m0 31.4h0m.1-26.2h0m0 11.1h0m0 10.7h0m0-7.1h0m0 2.4h0m.1 3.6h0m0 4.4h0m0-26.5h0m.1 15.4h0m.1-23.3h0m0 14.5h0m.1-6.7h0m0-23h0m.1 47.2h0m0-5.2h0m.2-39.9h0m0 28.7h0m0 19.9h0m0-11.9h0m0-6h0m.1 17.8h0m0 .2h0m0-1.8h0m0-15h0m.1-7.2h0m0 12.8h0m.1 6.9h0m0 2.8h0m0 1.6h0m.1-18.6h0m0 6.3h0m.1 6.6h0m0-13.6h0m0 18.3h0m.1-5.7h0m0-58.9h0m.2 38.1h0m.1 2.9h0m0 7.5h0m.1-.2h0m0 13.8h0m0-4.7h0m.1 1.1h0m0-17.6h0m0 17.8h0m0 6.4h0m.1-34.3h0m0 3.5h0m0 18h0m0-15.9h0m0-13.1h0m0 29.1h0m0-21.5h0m.1 28h0m.1-4.9h0m0-25.8h0m0 35.7h0m0-1h0m.1-4.7h0m0-25.2h0m0 20.7h0m.1-.4h0m0-12.5h0m0 5.1h0m0 5.6h0m.1-5.1h0m.2 13.2h0m0-21.7h0m0-55h0m.1 52.1h0m0 2.3h0m0 6.4h0m.1 14.6h0m.1 5.8h0m.1-6.2h0m.1 1.1h0m0-18.4h0m.3 20.6h0m0-1.7h0m.1-83.2h0m0 60.3h0m.1-4.4h0m0 27.2h0m0-8.6h0m.1-6.3h0m0 18.6h0m0-43.2h0m.1 40.9h0m0 0h0m0-25.9h0m.1 8h0m0-23.2h0m.1 37.8h0m0-41.3h0m0 13.8h0m0 7.6h0m.1-44.7h0m0 69h0m0-.5h0m.1 2.1h0m0-11.6h0m0 9.1h0m.1-.1h0m0-9h0m0 10.1h0m.1-19.5h0m0 12.9h0m.1 7.3h0m.1-9.3h0m0-.1h0m.1-36.5h0m0 35.8h0m.1-9.5h0m.2 18.4h0m0-3.7h0m.1-50.2h0m0 49.3h0m0-26.8h0m0 10.4h0m.1 21.6h0m0-74.7h0m0 51.6h0m0 22.5h0m0-.5h0m.1-11.5h0m0-19.7h0m.1 19.5h0m0 5.4h0m.1-19.8h0m0 8.9h0m0-33.2h0m0 36.8h0m.1-55.9h0m.1 61.1h0m0 9h0m0-5.5h0m.1 2.4h0m.1-13h0m0 2.9h0m0-9.6h0m.1 6.4h0m0-17.7h0m.2 4.4h0m.1 18.7h0m.1 9.5h0m0-16.8h0m.1-1.5h0m0-17.1h0m0 34.7h0m0 1.6h0m.1-4.4h0m0-5.6h0m.1 .1h0m0-2.9h0m.1 2.6h0m.1-23.6h0m0 18.8h0m.1 13.3h0m0 3.3h0m.1-17.8h0m.2-16.3h0m.1 36.7h0m0-9.7h0m0 5.2h0m.1-4.9h0m.3 3.2h0m0-5.4h0m0 6.7h0m.1 3.9h0m0-4.8h0m0 3.5h0m.1-2h0m.1 4.7h0m.2-57.1h0m0 53h0m.1 5.7h0m0 1.9h0m.1-18.2h0m.1 13.4h0m.1-.5h0m0-9.5h0m.1-.9h0m0-4.7h0m.1 9.6h0m0 2.6h0m.1 8.9h0m0-34.6h0m.1 29.9h0m.2-5.7h0m0-13.8h0m0 17.8h0m.1 7.5h0m.2-.8h0m0-14.2h0m0-9.5h0m0 13.9h0m.1 7h0m0-3.6h0m0 1.8h0m.1 5.8h0m.1-2.2h0m.1-8h0m0-7.2h0m0-21.5h0m0 29h0m.1-21.8h0m0 21.9h0m0-2.5h0m0 10.6h0m.1-5.4h0m0-19.7h0m0 .6h0m.1 26h0m0-4.6h0m0-14.6h0m0 20.3h0m.1-24.7h0m0 24.3h0m0-3.4h0m0-43h0m.1 27.9h0m0-16.3h0m0 14.6h0m.1-4.7h0m.1 18.4h0m.1-7.1h0m.1-18.7h0m.1 23.8h0m.1 4.1h0m0-31.9h0m.2 16.8h0m0 20.1h0m.1-52h0m0 2.1h0m0 43.5h0m.1-37.8h0m.1 23.9h0m0 1.2h0m0 15.5h0m0 2.4h0m0-19.8h0m.2-16.9h0m0 4.8h0m0 22.3h0m.1-5.3h0m0 1.8h0m.1-7.1h0m0-16.1h0m0 20.7h0m0-15.5h0m.1 10.8h0m0-17.5h0m0 31.8h0m0-51.5h0m0 57.3h0m0-49.3h0m0 48.6h0m.1-18h0m0 9.4h0m0-7.6h0m0 7.9h0m0-12.6h0m.1 21h0m0-3.3h0m.1-11.8h0m0 3.6h0m.2 12.3h0m0-7.5h0m.1 2.9h0m.2-5.5h0m0 8.9h0m.1-15.8h0m0 7.2h0m.1-14.9h0m0 18.3h0m0-.8h0m.1-54.9h0m.1 57.8h0m.1-19.8h0m0-3.6h0m.1-19.1h0m.1 45.2h0m0-4.4h0m0-17.7h0m0 11.7h0m0 .1h0m.1 10.1h0m0-3.8h0m0-19.7h0m0 16.6h0m.2 3.1h0m0-5h0m0-33.1h0m.1 24.2h0m0-1.2h0m0 1.5h0m0 14.4h0m0-35.2h0m.1 22.4h0m0 2.2h0m.1-43.5h0m.2 53.9h0m0-71.1h0m0 60.6h0m0 3h0m.1-18.1h0m0 22.9h0m.1 4.4h0m.1-16.8h0m.1-16.7h0m0 32.3h0m0 3.8h0m.1-8.1h0m.1-48.1h0m.1 44h0m0-.5h0m0 8.8h0m.1-8.8h0m.1 11.3h0" stroke="#9999CC"/>
<polygon points="630.2,922.6 629.6,922.0 629.6,831.0 630.9,831.0 631.9,829.9 632.9,829.5 633.9,830.1 634.9,831.4 635.9,832.3 636.9,832.3 637.9,832.3 638.9,833.3 639.9,835.4 642.1,835.4 642.1,922.0 641.5,922.6" fill="#000080"/>
<path d="M630.8 813.8h0m.1-17.1h0m0-8.6h0m.1 26.4h0m.1-12.1h0m0 9.3h0m.1-32.6h0m.2 19.6h0m.1 23.3h0m0-60.2h0m0 64.8h0m0-15.5h0m.1-8.8h0m0 14.1h0m0-1.2h0m0 2.4h0m0 6.6h0m0-8.7h0m0-15h0m.1-8h0m0 34.1h0m.1-5.2h0m0 5.1h0m0-9.6h0m0 12.5h0m.1-14.4h0m0-6.1h0m0-21.2h0m.1 22.2h0m0-10.4h0m0 14.6h0m.1 11.2h0m0-3h0m0-26.4h0m.1 26.3h0m0-7.5h0m0 13.7h0m0-28.1h0m0 3.5h0m.1 24.9h0m0-18.2h0m0 16.5h0m0-1.2h0m.1-6.6h0m0 8.5h0m0-8.9h0m.1-31.4h0m.1 37.8h0m.1-28.4h0m0 30.6h0m.1-.2h0m.1 .5h0m.1-49h0m.1 40.8h0m.1 1.9h0m0-8.9h0m.4 0h0m0 11.7h0m.1-4.7h0m0 7.7h0m.1-48.5h0m0 6.6h0m.1 26.9h0m.1-10.9h0m0 28.1h0m0-6.8h0m.2-5.1h0m0-24.9h0m0 30.1h0m0-22.1h0m.1 12.1h0m0-8.1h0m0-3.1h0m0 18.6h0m0 9.3h0m.1-5.7h0m0-13.6h0m0-9.2h0m.1 22.1h0m0 4.7h0m0-24.6h0m0 4h0m.1 13.4h0m.1-22.1h0m0 30.6h0m0-36h0m0 37h0m.1-4.9h0m0-9h0m0-.7h0m.2 6.6h0m.1-15.2h0m0 16.5h0m0 5.3h0m.1-12.1h0m0 13h0m0 .3h0m.1-27.2h0m.1 24.3h0m.2 .1h0m.1-24.9h0m.1 4.6h0m0-11.9h0m0 24.1h0m0-8.6h0m0 6.6h0m.1 10.5h0m0-4.3h0m0-27h0m.1 34h0m0-34.5h0m0-1.1h0m.1 2.5h0m.1-23.9h0m.1 28.1h0m0 22.1h0m.1-31.3h0m0-6.2h0m0-8.2h0m0 45.5h0m.2 1.2h0m0-3.7h0m0-6.4h0m.1 9.3h0m.1-21.5h0m0 12.8h0m.2-2.8h0m0 11.1h0m0-2.1h0m0-3.8h0m.1-3.1h0m.1 16.3h0m0-22.1h0m.1 15.6h0m0 .1h0m0-7.7h0m0 7.7h0m.1-18.8h0m0 6h0m.1-19.3h0m.1 34.8h0m0-26.2h0m0-20.2h0m.1 41.3h0m.2 8.4h0m.1-20.2h0m0 19.5h0m.1-32.9h0m.1 25.8h0m.1-2.7h0m.1 1.5h0m0 7.5h0m.1-9.5h0m.2 5.7h0m0-5h0m0 8.6h0m0-3.6h0m.1 6.8h0m.1-20.3h0m.1-3.3h0m0 6.8h0m.1 11.4h0m0-29.1h0m0 4.3h0m.1 27.7h0m0 1.6h0m0-7.4h0m.2-7.4h0m.1-8.8h0m.2 26h0m0-20h0m0 8.7h0m0 11.9h0m0-36.1h0m.1 35.9h0m0-1.4h0m0 .4h0m.1-15.9h0m.1-12.7h0m0-13.7h0m0 34.2h0m.1 4.6h0m0 2.6h0m.1 .4h0m0-57h0m.1 44h0m.1 .4h0m.1-.3h0m0 13.6h0m.1-7.3h0m0 8.5h0m0-13.1h0m0 7.4h0m.1 7.5h0m0-13h0m.2-2.7h0m0 .9h0m0-3.3h0m0 15.9h0m0-.8h0m0-10.5h0m.1 12.4h0" stroke="#000080"/>
<polygon points="642.7,922.6 642.1,922.0 642.1,837.8 643.4,837.8 644.4,840.4 645.4,842.3 646.4,843.0 647.4,843.1 648.4,843.5 649.4,845.0 650.4,847.0 651.4,848.2 652.4,847.5 653.4,845.7 654.4,844.1 655.4,843.8 656.4,844.6 658.2,844.6 658.2,922.0 657.6,922.6" fill="#9999CC"/>
<path d="M643.3 815.7h0m.1 .2h0m.1 17.2h0m.2-24.4h0m0 24.6h0m.1-11h0m0-7.3h0m0 17.6h0m.1-1.2h0m0-12.8h0m0 16.3h0m0-13.9h0m.1-4.2h0m.1 19h0m0-3.4h0m0 .1h0m0-1h0m0 3.7h0m.1-61.6h0m0 54.1h0m.1-.6h0m0-28.2h0m0 24.2h0m.1 7.8h0m0 7.4h0m0-17.4h0m.1-12h0m0 20.4h0m0-18.3h0m.2 2.5h0m0 25.1h0m.2-6.3h0m0-14.9h0m0-39.3h0m.1 57.9h0m0-14.2h0m.1-9.6h0m0-4h0m.1 16h0m0 4.7h0m.1-2h0m0-21.3h0m0 24.1h0m.1-2h0m0 7.5h0m.1-22.9h0m.1-13.1h0m0 41.7h0m0-9.8h0m0-9.9h0m.1-20h0m0 39.2h0m0-1.9h0m0-14.7h0m0 16h0m.1-77.9h0m0 69.6h0m.1 6.2h0m0 1.8h0m0-43.7h0m0 38.7h0m0 .2h0m.1 2.9h0m0-27.1h0m0 23.5h0m0 7h0m0-5h0m0-9.4h0m0 2.5h0m.1-36.4h0m.1 26.5h0m0 23h0m.1-12.7h0m0 10.2h0m.1-18.8h0m0 17.8h0m.1-14h0m0-41.6h0m.1 50.9h0m0 6.7h0m.3-16.2h0m0 15.7h0m0-16.5h0m0 13.4h0m.1 1.5h0m0-.7h0m0-33.7h0m.1 17.5h0m.2 3h0m0-4.6h0m.1 5.6h0m0 16.1h0m.1-6h0m0-46.8h0m0 51.4h0m.1-56.2h0m0 29.7h0m.2 17.4h0m0 11.1h0m0-4.3h0m0 2.7h0m0 .3h0m0-35.9h0m.1 36.9h0m0-6.2h0m.1-9.9h0m0 3.6h0m.1-28h0m0 24.4h0m0 15.3h0m0-8.1h0m.1-50.5h0m.2 50.3h0m.1-7.6h0m0 8.2h0m.1-27.7h0m0 13.3h0m.1 15.9h0m0 2.6h0m0 4.8h0m.1-2h0m0-.4h0m0-73h0m0 37h0m0 26.2h0m.1 4.8h0m.1-3.8h0m0 11.6h0m0 .1h0m0-62.7h0m.1 51.9h0m.1 9.9h0m0-11h0m.1-14.9h0m.1 27.5h0m0-1.7h0m0-37.9h0m.1 29.6h0m0-.3h0m.1-8.5h0m.1 .7h0m0 5.7h0m0-34h0m.1 21.7h0m.1-12.9h0m0 20.2h0m.2 16.7h0m.1-9.9h0m0 7.9h0m0-61.8h0m.2 56.6h0m.1-1.7h0m.1-14.8h0m0 .3h0m0-18.7h0m0 32h0m.1-.6h0m0 3h0m0-4h0m.1 6.4h0m0-.9h0m.1-16h0m0 16.2h0m0 4h0m.1-21.6h0m0 20.8h0m.2 2.4h0m0-3.3h0m0-11.8h0m.1 11.8h0m.1-31.2h0m0 13.7h0m0 8.3h0m0 13h0m.1-1.6h0m0 5.8h0m0-14.8h0m.1-12.4h0m0 16.8h0m.1-13.9h0m0 8.6h0m0-27.7h0m.2 41.3h0m0-12.3h0m.1 14.4h0m0-25.5h0m0 15.1h0m0 7.1h0m0-62.6h0m.1 47.7h0m0 8.2h0m.1-27.6h0m0 32.9h0m.1-11.9h0m0-3.6h0m0 19h0m0-14.3h0m.1 11.7h0m.1 2.4h0m0-.5h0m0-7.3h0m.1 2.4h0m0-12.1h0m0-5.4h0m0 20.4h0m.1 2.4h0m0-24.1h0m.1 16.1h0m.1-15.5h0m0 7.2h0m0 11.7h0m.1-14h0m.1 8.9h0m0 5.7h0m.1-2.4h0m.1-13.7h0m0 16.4h0m.1-.2h0m0-13.6h0m0 15.1h0m.1-36.2h0m0-13.1h0m.1 48.8h0m0-4.8h0m0-31.6h0m0 26.3h0m.2-6.9h0m.1 12.7h0m.2 3.4h0m0-11.4h0m.1 7.9h0m.1-36.1h0m.1 33.2h0m0-.8h0m.2-13.4h0m0 .1h0m.1 19h0m0-1.8h0m0-9h0m.1 8h0m.1-19.4h0m0-3.9h0m.1 25.7h0m.1-14.1h0m0 13.7h0m.1-40.9h0m0 7.2h0m0 23.2h0m0-27.2h0m0 26.7h0m.1 4.1h0m0-33.1h0m.1 7.2h0m0 33.8h0m.1-16.3h0m.1 18.8h0m0 0h0m.1-14.6h0m0 12.5h0m0-11.7h0m.1 4h0m.1-34.7h0m0 24.2h0m0 18.5h0m.1-15.2h0m0 16.6h0m0-9h0m0-7.1h0m0 12.6h0m0-19.1h0m.1 3.3h0m0 15.3h0m.1-12.5h0m0-12.5h0m0 13h0m.1 13.4h0m0-38.7h0m.1 5.9h0m0 34.9h0m.1-3h0m0-9.9h0m.1 12h0m.1-.6h0m.1-12.8h0m0-23.8h0m0 17.7h0m.1 12.1h0m0 3.8h0m.3-5.3h0m0-12.6h0" stroke="#9999CC"/>
<polygon points="659.8,922.6 659.2,922.0 659.2,844.1 660.5,844.1 661.5,845.1 662.5,845.4 663.5,845.4 664.5,846.1 665.5,847.9 666.5,850.8 667.5,853.5 668.9,853.5 668.9,922.0 668.3,922.6" fill="#000080"/>
<path d="M660.4 825.9h0m.1 14.5h0m0-25.3h0m0 14.6h0m.1 1.4h0m0 9.8h0m0-6h0m.1-17.3h0m0 19.2h0m0-59.5h0m.1 21.9h0m0 40.8h0m0-11.3h0m0-4.2h0m.1 9.2h0m.4 7.1h0m.1-8.7h0m0 1.9h0m.1 8.3h0m0-44.8h0m0 35.4h0m.2-6.1h0m.1-20.5h0m0 38h0m.1-40.1h0m0 31.5h0m.1-14.2h0m.1 19.1h0m0-17.6h0m0-1h0m0-16.9h0m.1 6.1h0m0 9.7h0m.1 22.1h0m.1-.3h0m0-13.7h0m0 3.6h0m.1-1.2h0m0-57.1h0m.3 62.4h0m0 .4h0m0 6.5h0m0-3.1h0m0-17.1h0m.1-45.3h0m.1 59.5h0m.1-25.8h0m0 .9h0m0-10.7h0m.1-11.5h0m0 37.8h0m.2 10.4h0m.1-34.4h0m0 16h0m0-22.7h0m0 44h0m.1-22.6h0m.1-.4h0m0-.9h0m.1 11.8h0m.1-5.4h0m0 8.4h0m.1 10.4h0m0-3.8h0m.1 .1h0m0-1.2h0m.1 2.6h0m0-24h0m0 18.3h0m.1 9.3h0m0-17.8h0m.1 .4h0m0 15.4h0m0-38.7h0m.1 38.6h0m0-.6h0m.3-6.7h0m0-12.6h0m.1 15.4h0m0-12.1h0m.1 16.2h0m.1-4.9h0m0-30h0m0 39.4h0m.1-1.3h0m0-10.9h0m0 7.8h0m.1-14.4h0m.1 12.1h0m.1-1.5h0m.1-46.6h0m.2 38.6h0m0-7.7h0m0 22.8h0m0-60.6h0m0 61.2h0m0-.4h0m.1-15.5h0m0-9.5h0m0 14.1h0m0 5h0m0-3.5h0m0 11.6h0m.1-12h0m0-28.5h0m0 14.8h0m0 9.8h0m.2 6.9h0m0-59.3h0m0 52h0m.1 8.8h0m0-59.4h0m.1 55.7h0m0-5.5h0m0 13.9h0m0-7.8h0m.1-17.5h0m0 10.9h0m.1-4.9h0m0 21.7h0m.1-27.9h0m0 11.5h0m.1 6.7h0m.1-4.6h0m.1-2.7h0m0-.8h0m.1 5h0m0 5.8h0m0 11.9h0m.1-.7h0m0-9.4h0m.1 1.5h0m.1 8.4h0m.2-20h0m0 10.7h0m0-.3h0m.1 7.9h0m0-6.4h0m.1 1.6h0m0-25.1h0" stroke="#000080"/>
<polygon points="671.3,922.6 670.7,922.0 670.7,839.4 672.0,839.4 673.0,837.5 674.0,835.7 675.0,834.5 676.0,834.3 677.0,835.4 678.0,837.5 679.0,839.5 680.3,839.5 680.3,922.0 679.7,922.6" fill="#9999CC"/>
<path d="M671.9 787.8h0m0 48.4h0m0-6.5h0m0 7.4h0m.2 .2h0m0-11.1h0m.1 2.3h0m.2-13.2h0m.1 6.7h0m0 7h0m0 4.7h0m.1-36.3h0m0 29.4h0m0-4.1h0m.1 3.2h0m0 4h0m.1-18.9h0m0 17.2h0m.1 4.8h0m0 4h0m.1-1.1h0m0-1.9h0m0-5.2h0m.1-25.9h0m0 16.7h0m0 12.6h0m0 .9h0m.1 2.8h0m0-.5h0m0 .1h0m.2-11.8h0m.1-17.7h0m.1 24h0m0-29h0m0 33.4h0m.1-7.1h0m0-51.4h0m.1 54.6h0m0 4.3h0m.1-22.3h0m0-36.9h0m.1 40.3h0m.1 4.4h0m0-11.8h0m.1 10.8h0m0 14.9h0m0-1.6h0m.2-25.1h0m0 12h0m0-2.7h0m.1 8.7h0m.1-14.5h0m0 12h0m0 2.6h0m.1-5.5h0m.1 6.2h0m0-.2h0m0-26.9h0m.2 34h0m0-1.3h0m.1-.3h0m.1 .7h0m0-28.4h0m0 26.5h0m.1-.4h0m0-.4h0m0-40.9h0m0 33.8h0m.1-7.4h0m.2 14.8h0m.1-7.3h0m0 3.6h0m0-2.5h0m.2 4.1h0m0-19h0m0 6.2h0m0 16.4h0m.1-25h0m0 24.8h0m.1-1.4h0m0-16.2h0m0 13.3h0m.1-5.5h0m.1-8.5h0m.1 19.9h0m.1-13.7h0m0-37.3h0m.1 19.9h0m0 30.8h0m.1-30.3h0m0 25.8h0m0-67.8h0m0 56.5h0m.1 16.9h0m0-4.6h0m0 1.2h0m.1-14h0m0-1.9h0m0 11.1h0m.1-43.5h0m0 35.6h0m0-9.6h0m0 14.5h0m.2 3.2h0m.1 3.7h0m0 2.3h0m0-63h0m.1 64.6h0m0-1.6h0m0 2.1h0m0 1.7h0m0-48.6h0m.1-20.8h0m.1 60.3h0m0 1.5h0m0-8.5h0m0 9.8h0m.2-.4h0m.1 6h0m0-26.4h0m.1 10.1h0m.1 13.1h0m0-.9h0m.1-5.3h0m0-20.1h0m0 18.9h0m.1 5.1h0m.1-5.1h0m0 6.3h0m.1-2h0m.1-1.7h0m.1 4.8h0m0-21.4h0m0 26.2h0m0-7.4h0m0-7.1h0m0-52.8h0m.1 58.1h0m0-34.7h0m.1 6.5h0m.1 36.5h0m.1-28.1h0m.2 28.7h0m0-3h0m0-22.3h0m0-9.6h0m.1 10.7h0" stroke="#9999CC"/></g><path d="M51.2 706.9h0m1.9 32.2h0m1.2-121.6h0m.1 140.2h0m.4-7.6h0m2.5-22.2h0m0 25.5h0m25.4-8h0m3.1-8.5h0m6.8-23.6h0m5.9 20.1h0m0 23h0m62-35.3h0m1.2 5.9h0m25.3-49.2h0m.1 65.7h0m.4-65.7h0m8.5 75.2h0m1.5-107.1h0m0 58.1h0m0 31.3h0m0 11.1h0m0 3.2h0m0 4.7h0m45-88.8h0m0 91.1h0m.4-19.2h0m.2-122.4h0m12.3 123h0m5.9 6.3h0m1.1 15h0m2.9-48.6h0m3.8 35.1h0m3.4-34h0m0 42.2h0m0 1.8h0m0 2.9h0m.7-99.2h0m1 86.9h0m2.1 7.9h0m4.7-.7h0m38.3-29.1h0m8 7h0m1.1 14.8h0m.4-20.9h0m2.3 28.5h0m9.6-10.1h0m0 4.4h0m9.1-73.8h0m3.1 76.2h0m.6 1h0m32.6-15.4h0m1.3 23.4h0m15.4-11.8h0m1.1 6.1h0m11.1-12.9h0m2.4-.8h0m29.2-17.3h0m3.8 28.1h0m5.7-23.4h0m3.4-95.8h0m0 28.6h0m0 44.1h0m1.5 31.3h0m2.3 1.1h0m0 8h0m.7-20.9h0m5.7-26.6h0m3.4 37.4h0m2.3-2.8h0m11 6.2h0m26.6 8.4h0m15.6-65.3h0m.5 69.1h0m30.2 4.9h0m3.1-27.8h0m0 19.2h0m7.9 9.2h0m.7-20.4h0m1.2-10.5h0m.8-43.1h0m.2 51.9h0m0 13.9h0m2-37.2h0m0 38.9h0m20.9 4.9h0m.4 2.6h0m1-13.7h0m.2 12.1h0m8-14.7h0m.6-9.6h0m6.3-53.8h0m.3 72.2h0m0 3.8h0m17.9-29.4h0m.4 24.3h0m0 5.8h0m0 4.7h0m2.7-12.3h0m.4-31.3h0m5.9 34.4h0m.2-4.1h0m1.5 12h0m.4-30.8h0m22.5 33h0m1.6-27.1h0" stroke="#000080" stroke-width="2.6" stroke-linecap="round"/><path d="M104.7 733.1h0m1.9-15.8h0m0 14.8h0m0 20.5h0m3.8 4.2h0m6.9-2.5h0m23.9 4h0m.7-3h0m6.8-99.5h0m.3 25.5h0m0 25.2h0m0 3.8h0m0 6.7h0m0 1.8h0m0 17.7h0m0 1.9h0m0 16.9h0m2.8-6.7h0m1.9-7h0m1.7 12.2h0m.2-33.1h0m0 20.3h0m0 17.3h0m1.3 .4h0m44-175.4h0m0 146.4h0m0 25.6h0m1-4.2h0m4.2-2.8h0m2.4 2.4h0m1-12.7h0m3.4-75.4h0m1.5 96.1h0m15.8-48.6h0m8.7 25.6h0m52.2-3.4h0m.4-43.8h0m17.4 41.1h0m2.2 11h0m2.9-11h0m.9 21.8h0m1.5-74.8h0m1.8 6.7h0m.1 61.7h0m0 6.4h0m36.5 4.9h0m1.3-3.4h0m0 4.4h0m3.8 2.2h0m9.9-70.9h0m1.5 10.2h0m.6 60.4h0m2.8-17.3h0m1.9-40.2h0m3.4 50.3h0m.8-.6h0m.2-5.1h0m3.6-31h0m0 41h0m32.4-82.1h0m.4 69.8h0m2.3-8.2h0m.3 0h0m1.2 22.8h0m.7-1h0m5.3-6.1h0m.4 1.4h0m4.2-1.9h0m.5-31h0m6.7 5.3h0m0 24.7h0m1.5-33.8h0m.9 29.1h0m1.9 11.7h0m1.8-23.9h0m.5 8h0m30.8-3.4h0m10 3.8h0m1 7.9h0m4-.9h0m8.3-10.3h0m.4 11.4h0m4-5.3h0m0 5.7h0m0 9.5h0m.7-2.9h0m29.6 .6h0m11.2-12.5h0m.4 0h0m4.7 9.2h0m.4-6.2h0m0 9.2h0m1.5-11.2h0m.2-7.2h0m0 16.4h0m23.5-41.3h0m0 12.3h0m5.5 31h0m4.9-109.3h0m1.6 102.6h0m2.3-43.7h0m0 12.8h0m25.9 24.3h0m0 6.4h0m7.8-6.4h0m1-48.4h0m4.1-19.4h0m0 28h0m0 9.2h0m0 28h0m16.2 9h0m4.2-7.4h0m2.4-145.1h0m3.2 152.1h0m0 9.9h0m.1-159.7h0m.9 128.9h0m15.3-43.7h0m2.5 45.8h0m3.2 20h0m.4 1.6h0m.5-34.3h0m0 19.2h0m0 20.9h0m.6-8.2h0" stroke="#9999CC" stroke-width="2.6" stroke-linecap="round"/>
<line x1="70.6" y1="547.9" x2="70.6" y2="929.7" stroke="#AFAFAF" stroke-width="1.1" opacity="0.9"/>
<line x1="98.4" y1="547.9" x2="98.4" y2="929.7" stroke="#AFAFAF" stroke-width="1.1" opacity="0.9"/>
<line x1="106.8" y1="547.9" x2="106.8" y2="929.7" stroke="#AFAFAF" stroke-width="1.1" opacity="0.9"/>
<line x1="148.9" y1="547.9" x2="148.9" y2="929.7" stroke="#AFAFAF" stroke-width="1.1" opacity="0.9"/>
<line x1="196.4" y1="547.9" x2="196.4" y2="929.7" stroke="#AFAFAF" stroke-width="1.1" opacity="0.9"/>
<line x1="197.4" y1="547.9" x2="197.4" y2="929.7" stroke="#AFAFAF" stroke-width="1.1" opacity="0.9"/>
<line x1="206.2" y1="547.9" x2="206.2" y2="929.7" stroke="#AFAFAF" stroke-width="1.1" opacity="0.9"/>
<line x1="216.7" y1="547.9" x2="216.7" y2="929.7" stroke="#AFAFAF" stroke-width="1.1" opacity="0.9"/>
<line x1="240.3" y1="547.9" x2="240.3" y2="929.7" stroke="#AFAFAF" stroke-width="1.1" opacity="0.9"/>
<line x1="288.6" y1="547.9" x2="288.6" y2="929.7" stroke="#AFAFAF" stroke-width="1.1" opacity="0.9"/>
<line x1="419.7" y1="547.9" x2="419.7" y2="929.7" stroke="#AFAFAF" stroke-width="1.1" opacity="0.9"/>
<line x1="569.7" y1="547.9" x2="569.7" y2="929.7" stroke="#AFAFAF" stroke-width="1.1" opacity="0.9"/>
<line x1="573.6" y1="547.9" x2="573.6" y2="929.7" stroke="#AFAFAF" stroke-width="1.1" opacity="0.9"/>
<line x1="597.5" y1="547.9" x2="597.5" y2="929.7" stroke="#AFAFAF" stroke-width="1.1" opacity="0.9"/>
<line x1="604.5" y1="547.9" x2="604.5" y2="929.7" stroke="#AFAFAF" stroke-width="1.1" opacity="0.9"/>
<line x1="605.6" y1="547.9" x2="605.6" y2="929.7" stroke="#AFAFAF" stroke-width="1.1" opacity="0.9"/>
<line x1="608.4" y1="547.9" x2="608.4" y2="929.7" stroke="#AFAFAF" stroke-width="1.1" opacity="0.9"/>
<line x1="616.6" y1="547.9" x2="616.6" y2="929.7" stroke="#AFAFAF" stroke-width="1.1" opacity="0.9"/>
<line x1="629.5" y1="547.9" x2="629.5" y2="929.7" stroke="#AFAFAF" stroke-width="1.1" opacity="0.9"/>
<line x1="632.9" y1="547.9" x2="632.9" y2="929.7" stroke="#AFAFAF" stroke-width="1.1" opacity="0.9"/>
<line x1="655.3" y1="547.9" x2="655.3" y2="929.7" stroke="#AFAFAF" stroke-width="1.1" opacity="0.9"/>
<line x1="672.3" y1="547.9" x2="672.3" y2="929.7" stroke="#AFAFAF" stroke-width="1.1" opacity="0.9"/>
<line x1="674.3" y1="547.9" x2="674.3" y2="929.7" stroke="#AFAFAF" stroke-width="1.1" opacity="0.9"/>
<line x1="43.8" y1="685.1" x2="685" y2="685.1" stroke="#C8C8C8" stroke-width="1" stroke-dasharray="3.7 4.1"/>
<text x="47.4" y="677" font-size="9.4" fill="#C4C4C4">9e−07</text>
<line x1="43.8" y1="547.9" x2="43.8" y2="930.2" stroke="#D0D0D0" stroke-width="1.1"/>
<line x1="43.8" y1="929.7" x2="685" y2="929.7" stroke="#CDCDCD" stroke-width="1.2"/>
<line x1="41.1" y1="921.60" x2="43.8" y2="921.60" stroke="#444" stroke-width="1.1"/>
<text x="38.9" y="925.45" font-size="10.8" fill="#4D4D4D" text-anchor="end">0.0</text>
<line x1="41.1" y1="823.80" x2="43.8" y2="823.80" stroke="#444" stroke-width="1.1"/>
<text x="38.9" y="827.65" font-size="10.8" fill="#4D4D4D" text-anchor="end">2.5</text>
<line x1="41.1" y1="726.00" x2="43.8" y2="726.00" stroke="#444" stroke-width="1.1"/>
<text x="38.9" y="729.85" font-size="10.8" fill="#4D4D4D" text-anchor="end">5.0</text>
<line x1="41.1" y1="628.20" x2="43.8" y2="628.20" stroke="#444" stroke-width="1.1"/>
<text x="38.9" y="632.05" font-size="10.8" fill="#4D4D4D" text-anchor="end">7.5</text>
<line x1="77.6" y1="929.7" x2="77.6" y2="932.4" stroke="#444" stroke-width="1.1"/>
<text x="77.6" y="942.1" font-size="10.8" fill="#4D4D4D" text-anchor="middle">1</text>
<line x1="131.2" y1="929.7" x2="131.2" y2="932.4" stroke="#444" stroke-width="1.1"/>
<text x="131.2" y="942.1" font-size="10.8" fill="#4D4D4D" text-anchor="middle">2</text>
<line x1="179" y1="929.7" x2="179" y2="932.4" stroke="#444" stroke-width="1.1"/>
<text x="179" y="942.1" font-size="10.8" fill="#4D4D4D" text-anchor="middle">3</text>
<line x1="221.8" y1="929.7" x2="221.8" y2="932.4" stroke="#444" stroke-width="1.1"/>
<text x="221.8" y="942.1" font-size="10.8" fill="#4D4D4D" text-anchor="middle">4</text>
<line x1="261.8" y1="929.7" x2="261.8" y2="932.4" stroke="#444" stroke-width="1.1"/>
<text x="261.8" y="942.1" font-size="10.8" fill="#4D4D4D" text-anchor="middle">5</text>
<line x1="300" y1="929.7" x2="300" y2="932.4" stroke="#444" stroke-width="1.1"/>
<text x="300" y="942.1" font-size="10.8" fill="#4D4D4D" text-anchor="middle">6</text>
<line x1="336.3" y1="929.7" x2="336.3" y2="932.4" stroke="#444" stroke-width="1.1"/>
<text x="336.3" y="942.1" font-size="10.8" fill="#4D4D4D" text-anchor="middle">7</text>
<line x1="369.4" y1="929.7" x2="369.4" y2="932.4" stroke="#444" stroke-width="1.1"/>
<text x="369.4" y="942.1" font-size="10.8" fill="#4D4D4D" text-anchor="middle">8</text>
<line x1="400.6" y1="929.7" x2="400.6" y2="932.4" stroke="#444" stroke-width="1.1"/>
<text x="400.6" y="942.1" font-size="10.8" fill="#4D4D4D" text-anchor="middle">9</text>
<line x1="432" y1="929.7" x2="432" y2="932.4" stroke="#444" stroke-width="1.1"/>
<text x="432" y="942.1" font-size="10.8" fill="#4D4D4D" text-anchor="middle">10</text>
<line x1="461.5" y1="929.7" x2="461.5" y2="932.4" stroke="#444" stroke-width="1.1"/>
<text x="461.5" y="942.1" font-size="10.8" fill="#4D4D4D" text-anchor="middle">11</text>
<line x1="490.8" y1="929.7" x2="490.8" y2="932.4" stroke="#444" stroke-width="1.1"/>
<text x="490.8" y="942.1" font-size="10.8" fill="#4D4D4D" text-anchor="middle">12</text>
<line x1="518" y1="929.7" x2="518" y2="932.4" stroke="#444" stroke-width="1.1"/>
<text x="518" y="942.1" font-size="10.8" fill="#4D4D4D" text-anchor="middle">13</text>
<line x1="542.6" y1="929.7" x2="542.6" y2="932.4" stroke="#444" stroke-width="1.1"/>
<text x="542.6" y="942.1" font-size="10.8" fill="#4D4D4D" text-anchor="middle">14</text>
<line x1="565.2" y1="929.7" x2="565.2" y2="932.4" stroke="#444" stroke-width="1.1"/>
<text x="565.2" y="942.1" font-size="10.8" fill="#4D4D4D" text-anchor="middle">15</text>
<line x1="585.9" y1="929.7" x2="585.9" y2="932.4" stroke="#444" stroke-width="1.1"/>
<text x="585.9" y="942.1" font-size="10.8" fill="#4D4D4D" text-anchor="middle">16</text>
<line x1="604.5" y1="929.7" x2="604.5" y2="932.4" stroke="#444" stroke-width="1.1"/>
<line x1="622.4" y1="929.7" x2="622.4" y2="932.4" stroke="#444" stroke-width="1.1"/>
<text x="622.4" y="942.1" font-size="10.8" fill="#4D4D4D" text-anchor="middle">18</text>
<line x1="636.7" y1="929.7" x2="636.7" y2="932.4" stroke="#444" stroke-width="1.1"/>
<line x1="650" y1="929.7" x2="650" y2="932.4" stroke="#444" stroke-width="1.1"/>
<text x="650" y="942.1" font-size="10.8" fill="#4D4D4D" text-anchor="middle">20</text>
<line x1="662.5" y1="929.7" x2="662.5" y2="932.4" stroke="#444" stroke-width="1.1"/>
<line x1="673.2" y1="929.7" x2="673.2" y2="932.4" stroke="#444" stroke-width="1.1"/>
<text x="673.2" y="942.1" font-size="10.8" fill="#4D4D4D" text-anchor="middle">22</text>
<text x="363.6" y="956" font-size="12.8" text-anchor="middle">Chromosome</text>
<text transform="translate(15.7,739) rotate(-90)" font-size="13.2" text-anchor="middle">−log<tspan font-size="9.6" dy="2.4">10</tspan><tspan dy="-2.4" font-size="15.4">(</tspan><tspan font-style="italic">p</tspan><tspan font-size="15.4">)</tspan></text>
<text x="169.4" y="609.4" font-size="8.3" fill="#000" stroke="#000" stroke-width="0.15" textLength="26.8" lengthAdjust="spacingAndGlyphs">MCCC1</text>
<text x="169.4" y="618.6" font-size="8.3" fill="#000" stroke="#000" stroke-width="0.15" textLength="31.2" lengthAdjust="spacingAndGlyphs">MFSD6L</text>
<text x="241.6" y="609" font-size="8.3" fill="#000" stroke="#000" stroke-width="0.15" textLength="25.4" lengthAdjust="spacingAndGlyphs">STOX2</text>
<text x="150.1" y="650.4" font-size="8.3" fill="#000" stroke="#000" stroke-width="0.15" textLength="20.3" lengthAdjust="spacingAndGlyphs">NRP2</text>
<text x="272.3" y="679" font-size="8.3" fill="#000" stroke="#000" stroke-width="0.15" textLength="29.3" lengthAdjust="spacingAndGlyphs">MPIG6B</text>
<text x="543.9" y="611.8" font-size="8.3" fill="#000" stroke="#000" stroke-width="0.15" textLength="29.6" lengthAdjust="spacingAndGlyphs">CYP1A1</text>
<text x="639.5" y="591.4" font-size="8.3" fill="#000" stroke="#000" stroke-width="0.15" textLength="21.1" lengthAdjust="spacingAndGlyphs">BMP7</text>
<text x="-0.2" y="504.9" font-size="16.2">B.</text>
</svg>
</body></html>
